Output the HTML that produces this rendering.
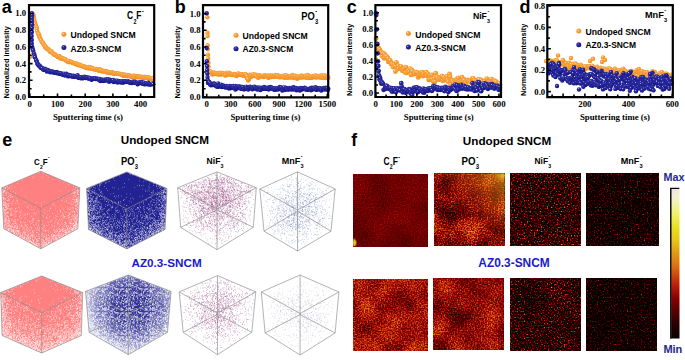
<!DOCTYPE html>
<html><head><meta charset="utf-8"><style>
html,body{margin:0;padding:0;background:#fff;width:685px;height:360px;overflow:hidden;}
svg{display:block;}

</style></head><body><svg width="685" height="360" viewBox="0 0 685 360"><defs>
<radialGradient id="go" cx="0.36" cy="0.33" r="0.7"><stop offset="0" stop-color="#FFF0D8"/><stop offset="0.25" stop-color="#FAA545"/><stop offset="1" stop-color="#F28C14"/></radialGradient>
<radialGradient id="gb" cx="0.36" cy="0.33" r="0.7"><stop offset="0" stop-color="#D0D0F0"/><stop offset="0.22" stop-color="#3030A0"/><stop offset="1" stop-color="#101088"/></radialGradient>
<pattern id="pw35" width="24" height="24" patternUnits="userSpaceOnUse"><path transform="scale(0.5)" d="M16 12h1.5M12 1h1.5M32 3h1.5M9 4h1.5M39 25h1.5M22 28h1.5M39 30h1.5M25 15h1.5M25 47h1.5M27 23h1.5M43 3h1.5M3 38h1.5M45 2h1.5M1 0h1.5M28 7h1.5M27 32h1.5M1 42h1.5M12 27h1.5M17 16h1.5M19 0h1.5M21 13h1.5M17 8h1.5M16 34h1.5M47 9h1.5M42 30h1.5M5 1h1.5M42 11h1.5M5 31h1.5M34 43h1.5M24 15h1.5M15 10h1.5M30 45h1.5M4 19h1.5M17 4h1.5M29 47h1.5M13 35h1.5M43 13h1.5M44 36h1.5M31 9h1.5M13 5h1.5M43 39h1.5M4 25h1.5M10 37h1.5M28 45h1.5M35 5h1.5M18 28h1.5M44 18h1.5M9 14h1.5M12 7h1.5M17 12h1.5M25 43h1.5M46 8h1.5M27 32h1.5M7 26h1.5M10 17h1.5M16 39h1.5M11 26h1.5M28 16h1.5M45 16h1.5M16 33h1.5M23 35h1.5M7 7h1.5M35 19h1.5M41 11h1.5M12 41h1.5M17 5h1.5M11 37h1.5M13 27h1.5M40 29h1.5M36 47h1.5M14 42h1.5M26 10h1.5M6 16h1.5M7 37h1.5M27 2h1.5M42 29h1.5M21 7h1.5M23 44h1.5M28 22h1.5M29 26h1.5M30 10h1.5M7 1h1.5M40 0h1.5M12 28h1.5M24 43h1.5M10 5h1.5M8 24h1.5M14 22h1.5M33 15h1.5M32 1h1.5M26 44h1.5M45 27h1.5M47 11h1.5M14 22h1.5M24 39h1.5M21 2h1.5M34 11h1.5M42 10h1.5M14 7h1.5M15 29h1.5M13 2h1.5M28 35h1.5M5 20h1.5M3 1h1.5M18 14h1.5M42 1h1.5M31 35h1.5M20 24h1.5M12 12h1.5M3 43h1.5M1 7h1.5M35 22h1.5M25 14h1.5M8 38h1.5M6 14h1.5M36 14h1.5M46 8h1.5M25 26h1.5M24 37h1.5M2 26h1.5M38 2h1.5M26 21h1.5M19 26h1.5M30 34h1.5M43 32h1.5M48 32h1.5M13 7h1.5M3 13h1.5M6 33h1.5M33 29h1.5M18 22h1.5M12 44h1.5M1 15h1.5M27 9h1.5M41 23h1.5M18 3h1.5M13 28h1.5M13 2h1.5M28 15h1.5M41 33h1.5M35 43h1.5M39 16h1.5M27 12h1.5M10 10h1.5M5 11h1.5M11 32h1.5M12 2h1.5M20 10h1.5M33 11h1.5M27 8h1.5M23 42h1.5M15 25h1.5M21 3h1.5M1 40h1.5M16 33h1.5M20 40h1.5M9 23h1.5M26 38h1.5M1 17h1.5M23 28h1.5M7 26h1.5M33 35h1.5M11 21h1.5M14 19h1.5M17 45h1.5M1 45h1.5M2 4h1.5M10 14h1.5M41 40h1.5M45 19h1.5M1 30h1.5M43 5h1.5M40 0h1.5M35 24h1.5M44 42h1.5M2 24h1.5M12 21h1.5M3 17h1.5M20 0h1.5M23 43h1.5M3 45h1.5M23 10h1.5M47 23h1.5M21 18h1.5M42 6h1.5M10 14h1.5M3 41h1.5M23 29h1.5M43 24h1.5M13 25h1.5M24 14h1.5M11 17h1.5M35 8h1.5M48 11h1.5M13 6h1.5M19 18h1.5M33 43h1.5M12 39h1.5M15 20h1.5M6 43h1.5M18 34h1.5M1 33h1.5M11 22h1.5M32 8h1.5M25 40h1.5M8 22h1.5M9 7h1.5M24 22h1.5M31 41h1.5M34 16h1.5M23 32h1.5M40 33h1.5M24 6h1.5M42 14h1.5M19 42h1.5M10 44h1.5M11 4h1.5M25 38h1.5M19 40h1.5M19 39h1.5M5 14h1.5M6 36h1.5M23 31h1.5M11 35h1.5M48 4h1.5M15 42h1.5M41 42h1.5M11 27h1.5M4 21h1.5M28 12h1.5M20 18h1.5M4 3h1.5M37 0h1.5M47 43h1.5M47 38h1.5M0 6h1.5M15 9h1.5M3 44h1.5M44 37h1.5M12 41h1.5M39 16h1.5M6 7h1.5M20 40h1.5M4 21h1.5M17 43h1.5M7 31h1.5M16 31h1.5M39 40h1.5M41 14h1.5M13 6h1.5M12 6h1.5M38 2h1.5M9 38h1.5M37 47h1.5M18 2h1.5M39 14h1.5M37 1h1.5M2 29h1.5M33 27h1.5M26 29h1.5M6 3h1.5M17 26h1.5M12 9h1.5M21 20h1.5M13 44h1.5M45 2h1.5M23 11h1.5M16 1h1.5M4 2h1.5M6 31h1.5M4 43h1.5M39 13h1.5M33 46h1.5M6 27h1.5M22 15h1.5M14 4h1.5M31 9h1.5M20 45h1.5M17 15h1.5M45 28h1.5M27 11h1.5M31 18h1.5M26 19h1.5M4 42h1.5M33 46h1.5M15 14h1.5M7 15h1.5M16 9h1.5M13 14h1.5M41 21h1.5M39 2h1.5M9 46h1.5M2 3h1.5M25 14h1.5M9 29h1.5M29 9h1.5M26 22h1.5M41 3h1.5M11 27h1.5M2 41h1.5M46 16h1.5M37 12h1.5M46 10h1.5M0 3h1.5M22 2h1.5M47 30h1.5M27 30h1.5M20 43h1.5M34 21h1.5M14 7h1.5M15 17h1.5M4 44h1.5M12 26h1.5M3 26h1.5M31 4h1.5M47 8h1.5M13 35h1.5M16 42h1.5M11 15h1.5M33 41h1.5M42 14h1.5M25 20h1.5M32 11h1.5M40 34h1.5M8 15h1.5M16 45h1.5M22 30h1.5M45 19h1.5M45 14h1.5M1 5h1.5M33 18h1.5M40 26h1.5M33 17h1.5M28 34h1.5M18 24h1.5M40 45h1.5M17 3h1.5M40 21h1.5M47 37h1.5M18 41h1.5M26 34h1.5M42 28h1.5M45 19h1.5M18 31h1.5M19 34h1.5M25 36h1.5M40 27h1.5M44 37h1.5M41 1h1.5M1 30h1.5M16 42h1.5M19 36h1.5M12 30h1.5M43 41h1.5M18 23h1.5M26 17h1.5M23 46h1.5M42 15h1.5M33 46h1.5M17 41h1.5" stroke="#fff" stroke-width="1.5" fill="none" opacity="0.9"/></pattern><radialGradient id="rg5" gradientUnits="userSpaceOnUse" cx="132.3" cy="305.8" r="46" fx="132.3" fy="305.8"><stop offset="0" stop-color="#2A2A92"/><stop offset="0.4" stop-color="#3C3C9C"/><stop offset="0.75" stop-color="#7A7ABC"/><stop offset="1" stop-color="#C4C4E2"/></radialGradient><filter id="hm0" x="0" y="0" width="1" height="1" color-interpolation-filters="sRGB">
<feTurbulence type="fractalNoise" baseFrequency="0.7" numOctaves="1" seed="1" result="a"/>
<feColorMatrix in="a" type="matrix" values="1 0 0 0 0 0 0 0 0 0 0 0 0 0 0 0 0 0 0 1" result="a2"/>
<feTurbulence type="fractalNoise" baseFrequency="0.035" numOctaves="2" seed="12" result="b"/>
<feColorMatrix in="b" type="matrix" values="0 0 0 0 0 0 1 0 0 0 0 0 0 0 0 0 0 0 0 1" result="b2"/>
<feComposite in="a2" in2="b2" operator="arithmetic" k1="0" k2="1" k3="1" k4="0" result="c"/>
<feColorMatrix in="c" type="matrix" values="0.280 0.120 0 0 0.018 0.280 0.120 0 0 0.018 0.280 0.120 0 0 0.018 0 0 0 0 1" result="d"/>
<feComponentTransfer in="d"><feFuncR type="table" tableValues="0.039 0.073 0.106 0.139 0.173 0.226 0.280 0.334 0.389 0.443 0.498 0.553 0.612 0.671 0.729 0.767 0.790 0.812 0.835 0.858 0.866 0.871 0.875 0.880 0.889 0.898 0.906 0.910 0.910 0.910 0.914 0.924 0.933 0.942 0.944 0.945 0.947 0.950 0.955 0.954 0.949"/><feFuncG type="table" tableValues="0.000 0.000 0.000 0.000 0.000 0.000 0.000 0.000 0.000 0.000 0.000 0.007 0.042 0.077 0.112 0.164 0.227 0.291 0.355 0.419 0.470 0.518 0.566 0.614 0.664 0.714 0.764 0.802 0.831 0.861 0.886 0.906 0.925 0.942 0.944 0.945 0.947 0.947 0.937 0.907 0.863"/><feFuncB type="table" tableValues="0.000 0.000 0.000 0.000 0.000 0.000 0.000 0.000 0.000 0.000 0.000 0.002 0.010 0.019 0.028 0.035 0.042 0.048 0.055 0.061 0.066 0.071 0.075 0.079 0.084 0.088 0.092 0.100 0.110 0.120 0.157 0.235 0.314 0.395 0.489 0.584 0.678 0.765 0.824 0.865 0.894"/></feComponentTransfer>
<feGaussianBlur stdDeviation="0.45"/>
</filter><filter id="hm1" x="0" y="0" width="1" height="1" color-interpolation-filters="sRGB">
<feTurbulence type="fractalNoise" baseFrequency="0.7" numOctaves="1" seed="2" result="a"/>
<feColorMatrix in="a" type="matrix" values="1 0 0 0 0 0 0 0 0 0 0 0 0 0 0 0 0 0 0 1" result="a2"/>
<feTurbulence type="fractalNoise" baseFrequency="0.05" numOctaves="2" seed="13" result="b"/>
<feColorMatrix in="b" type="matrix" values="0 0 0 0 0 0 1 0 0 0 0 0 0 0 0 0 0 0 0 1" result="b2"/>
<feComposite in="a2" in2="b2" operator="arithmetic" k1="0" k2="1" k3="1" k4="0" result="c"/>
<feColorMatrix in="c" type="matrix" values="0.760 0.400 0 0 -0.319 0.760 0.400 0 0 -0.319 0.760 0.400 0 0 -0.319 0 0 0 0 1" result="d"/>
<feComponentTransfer in="d"><feFuncR type="table" tableValues="0.039 0.073 0.106 0.139 0.173 0.226 0.280 0.334 0.389 0.443 0.498 0.553 0.612 0.671 0.729 0.767 0.790 0.812 0.835 0.858 0.866 0.871 0.875 0.880 0.889 0.898 0.906 0.910 0.910 0.910 0.914 0.924 0.933 0.942 0.944 0.945 0.947 0.950 0.955 0.954 0.949"/><feFuncG type="table" tableValues="0.000 0.000 0.000 0.000 0.000 0.000 0.000 0.000 0.000 0.000 0.000 0.007 0.042 0.077 0.112 0.164 0.227 0.291 0.355 0.419 0.470 0.518 0.566 0.614 0.664 0.714 0.764 0.802 0.831 0.861 0.886 0.906 0.925 0.942 0.944 0.945 0.947 0.947 0.937 0.907 0.863"/><feFuncB type="table" tableValues="0.000 0.000 0.000 0.000 0.000 0.000 0.000 0.000 0.000 0.000 0.000 0.002 0.010 0.019 0.028 0.035 0.042 0.048 0.055 0.061 0.066 0.071 0.075 0.079 0.084 0.088 0.092 0.100 0.110 0.120 0.157 0.235 0.314 0.395 0.489 0.584 0.678 0.765 0.824 0.865 0.894"/></feComponentTransfer>
<feGaussianBlur stdDeviation="0.45"/>
</filter><filter id="hm2" x="0" y="0" width="1" height="1" color-interpolation-filters="sRGB">
<feTurbulence type="fractalNoise" baseFrequency="0.7" numOctaves="1" seed="3" result="a"/>
<feColorMatrix in="a" type="matrix" values="1 0 0 0 0 0 0 0 0 0 0 0 0 0 0 0 0 0 0 1" result="a2"/>
<feTurbulence type="fractalNoise" baseFrequency="0.035" numOctaves="2" seed="14" result="b"/>
<feColorMatrix in="b" type="matrix" values="0 0 0 0 0 0 1 0 0 0 0 0 0 0 0 0 0 0 0 1" result="b2"/>
<feComposite in="a2" in2="b2" operator="arithmetic" k1="0" k2="1" k3="1" k4="0" result="c"/>
<feColorMatrix in="c" type="matrix" values="1.400 0.120 0 0 -0.685 1.400 0.120 0 0 -0.685 1.400 0.120 0 0 -0.685 0 0 0 0 1" result="d"/>
<feComponentTransfer in="d"><feFuncR type="table" tableValues="0.039 0.073 0.106 0.139 0.173 0.226 0.280 0.334 0.389 0.443 0.498 0.553 0.612 0.671 0.729 0.767 0.790 0.812 0.835 0.858 0.866 0.871 0.875 0.880 0.889 0.898 0.906 0.910 0.910 0.910 0.914 0.924 0.933 0.942 0.944 0.945 0.947 0.950 0.955 0.954 0.949"/><feFuncG type="table" tableValues="0.000 0.000 0.000 0.000 0.000 0.000 0.000 0.000 0.000 0.000 0.000 0.007 0.042 0.077 0.112 0.164 0.227 0.291 0.355 0.419 0.470 0.518 0.566 0.614 0.664 0.714 0.764 0.802 0.831 0.861 0.886 0.906 0.925 0.942 0.944 0.945 0.947 0.947 0.937 0.907 0.863"/><feFuncB type="table" tableValues="0.000 0.000 0.000 0.000 0.000 0.000 0.000 0.000 0.000 0.000 0.000 0.002 0.010 0.019 0.028 0.035 0.042 0.048 0.055 0.061 0.066 0.071 0.075 0.079 0.084 0.088 0.092 0.100 0.110 0.120 0.157 0.235 0.314 0.395 0.489 0.584 0.678 0.765 0.824 0.865 0.894"/></feComponentTransfer>
<feGaussianBlur stdDeviation="0.45"/>
</filter><filter id="hm3" x="0" y="0" width="1" height="1" color-interpolation-filters="sRGB">
<feTurbulence type="fractalNoise" baseFrequency="0.7" numOctaves="1" seed="4" result="a"/>
<feColorMatrix in="a" type="matrix" values="1 0 0 0 0 0 0 0 0 0 0 0 0 0 0 0 0 0 0 1" result="a2"/>
<feTurbulence type="fractalNoise" baseFrequency="0.035" numOctaves="2" seed="15" result="b"/>
<feColorMatrix in="b" type="matrix" values="0 0 0 0 0 0 1 0 0 0 0 0 0 0 0 0 0 0 0 1" result="b2"/>
<feComposite in="a2" in2="b2" operator="arithmetic" k1="0" k2="1" k3="1" k4="0" result="c"/>
<feColorMatrix in="c" type="matrix" values="1.400 0.080 0 0 -0.775 1.400 0.080 0 0 -0.775 1.400 0.080 0 0 -0.775 0 0 0 0 1" result="d"/>
<feComponentTransfer in="d"><feFuncR type="table" tableValues="0.039 0.073 0.106 0.139 0.173 0.226 0.280 0.334 0.389 0.443 0.498 0.553 0.612 0.671 0.729 0.767 0.790 0.812 0.835 0.858 0.866 0.871 0.875 0.880 0.889 0.898 0.906 0.910 0.910 0.910 0.914 0.924 0.933 0.942 0.944 0.945 0.947 0.950 0.955 0.954 0.949"/><feFuncG type="table" tableValues="0.000 0.000 0.000 0.000 0.000 0.000 0.000 0.000 0.000 0.000 0.000 0.007 0.042 0.077 0.112 0.164 0.227 0.291 0.355 0.419 0.470 0.518 0.566 0.614 0.664 0.714 0.764 0.802 0.831 0.861 0.886 0.906 0.925 0.942 0.944 0.945 0.947 0.947 0.937 0.907 0.863"/><feFuncB type="table" tableValues="0.000 0.000 0.000 0.000 0.000 0.000 0.000 0.000 0.000 0.000 0.000 0.002 0.010 0.019 0.028 0.035 0.042 0.048 0.055 0.061 0.066 0.071 0.075 0.079 0.084 0.088 0.092 0.100 0.110 0.120 0.157 0.235 0.314 0.395 0.489 0.584 0.678 0.765 0.824 0.865 0.894"/></feComponentTransfer>
<feGaussianBlur stdDeviation="0.45"/>
</filter><filter id="hm4" x="0" y="0" width="1" height="1" color-interpolation-filters="sRGB">
<feTurbulence type="fractalNoise" baseFrequency="0.7" numOctaves="1" seed="5" result="a"/>
<feColorMatrix in="a" type="matrix" values="1 0 0 0 0 0 0 0 0 0 0 0 0 0 0 0 0 0 0 1" result="a2"/>
<feTurbulence type="fractalNoise" baseFrequency="0.045" numOctaves="2" seed="16" result="b"/>
<feColorMatrix in="b" type="matrix" values="0 0 0 0 0 0 1 0 0 0 0 0 0 0 0 0 0 0 0 1" result="b2"/>
<feComposite in="a2" in2="b2" operator="arithmetic" k1="0" k2="1" k3="1" k4="0" result="c"/>
<feColorMatrix in="c" type="matrix" values="0.600 0.340 0 0 -0.168 0.600 0.340 0 0 -0.168 0.600 0.340 0 0 -0.168 0 0 0 0 1" result="d"/>
<feComponentTransfer in="d"><feFuncR type="table" tableValues="0.039 0.073 0.106 0.139 0.173 0.226 0.280 0.334 0.389 0.443 0.498 0.553 0.612 0.671 0.729 0.767 0.790 0.812 0.835 0.858 0.866 0.871 0.875 0.880 0.889 0.898 0.906 0.910 0.910 0.910 0.914 0.924 0.933 0.942 0.944 0.945 0.947 0.950 0.955 0.954 0.949"/><feFuncG type="table" tableValues="0.000 0.000 0.000 0.000 0.000 0.000 0.000 0.000 0.000 0.000 0.000 0.007 0.042 0.077 0.112 0.164 0.227 0.291 0.355 0.419 0.470 0.518 0.566 0.614 0.664 0.714 0.764 0.802 0.831 0.861 0.886 0.906 0.925 0.942 0.944 0.945 0.947 0.947 0.937 0.907 0.863"/><feFuncB type="table" tableValues="0.000 0.000 0.000 0.000 0.000 0.000 0.000 0.000 0.000 0.000 0.000 0.002 0.010 0.019 0.028 0.035 0.042 0.048 0.055 0.061 0.066 0.071 0.075 0.079 0.084 0.088 0.092 0.100 0.110 0.120 0.157 0.235 0.314 0.395 0.489 0.584 0.678 0.765 0.824 0.865 0.894"/></feComponentTransfer>
<feGaussianBlur stdDeviation="0.45"/>
</filter><filter id="hm5" x="0" y="0" width="1" height="1" color-interpolation-filters="sRGB">
<feTurbulence type="fractalNoise" baseFrequency="0.7" numOctaves="1" seed="6" result="a"/>
<feColorMatrix in="a" type="matrix" values="1 0 0 0 0 0 0 0 0 0 0 0 0 0 0 0 0 0 0 1" result="a2"/>
<feTurbulence type="fractalNoise" baseFrequency="0.04" numOctaves="2" seed="17" result="b"/>
<feColorMatrix in="b" type="matrix" values="0 0 0 0 0 0 1 0 0 0 0 0 0 0 0 0 0 0 0 1" result="b2"/>
<feComposite in="a2" in2="b2" operator="arithmetic" k1="0" k2="1" k3="1" k4="0" result="c"/>
<feColorMatrix in="c" type="matrix" values="0.640 0.360 0 0 -0.226 0.640 0.360 0 0 -0.226 0.640 0.360 0 0 -0.226 0 0 0 0 1" result="d"/>
<feComponentTransfer in="d"><feFuncR type="table" tableValues="0.039 0.073 0.106 0.139 0.173 0.226 0.280 0.334 0.389 0.443 0.498 0.553 0.612 0.671 0.729 0.767 0.790 0.812 0.835 0.858 0.866 0.871 0.875 0.880 0.889 0.898 0.906 0.910 0.910 0.910 0.914 0.924 0.933 0.942 0.944 0.945 0.947 0.950 0.955 0.954 0.949"/><feFuncG type="table" tableValues="0.000 0.000 0.000 0.000 0.000 0.000 0.000 0.000 0.000 0.000 0.000 0.007 0.042 0.077 0.112 0.164 0.227 0.291 0.355 0.419 0.470 0.518 0.566 0.614 0.664 0.714 0.764 0.802 0.831 0.861 0.886 0.906 0.925 0.942 0.944 0.945 0.947 0.947 0.937 0.907 0.863"/><feFuncB type="table" tableValues="0.000 0.000 0.000 0.000 0.000 0.000 0.000 0.000 0.000 0.000 0.000 0.002 0.010 0.019 0.028 0.035 0.042 0.048 0.055 0.061 0.066 0.071 0.075 0.079 0.084 0.088 0.092 0.100 0.110 0.120 0.157 0.235 0.314 0.395 0.489 0.584 0.678 0.765 0.824 0.865 0.894"/></feComponentTransfer>
<feGaussianBlur stdDeviation="0.45"/>
</filter><filter id="hm6" x="0" y="0" width="1" height="1" color-interpolation-filters="sRGB">
<feTurbulence type="fractalNoise" baseFrequency="0.7" numOctaves="1" seed="7" result="a"/>
<feColorMatrix in="a" type="matrix" values="1 0 0 0 0 0 0 0 0 0 0 0 0 0 0 0 0 0 0 1" result="a2"/>
<feTurbulence type="fractalNoise" baseFrequency="0.035" numOctaves="2" seed="18" result="b"/>
<feColorMatrix in="b" type="matrix" values="0 0 0 0 0 0 1 0 0 0 0 0 0 0 0 0 0 0 0 1" result="b2"/>
<feComposite in="a2" in2="b2" operator="arithmetic" k1="0" k2="1" k3="1" k4="0" result="c"/>
<feColorMatrix in="c" type="matrix" values="1.400 0.160 0 0 -0.715 1.400 0.160 0 0 -0.715 1.400 0.160 0 0 -0.715 0 0 0 0 1" result="d"/>
<feComponentTransfer in="d"><feFuncR type="table" tableValues="0.039 0.073 0.106 0.139 0.173 0.226 0.280 0.334 0.389 0.443 0.498 0.553 0.612 0.671 0.729 0.767 0.790 0.812 0.835 0.858 0.866 0.871 0.875 0.880 0.889 0.898 0.906 0.910 0.910 0.910 0.914 0.924 0.933 0.942 0.944 0.945 0.947 0.950 0.955 0.954 0.949"/><feFuncG type="table" tableValues="0.000 0.000 0.000 0.000 0.000 0.000 0.000 0.000 0.000 0.000 0.000 0.007 0.042 0.077 0.112 0.164 0.227 0.291 0.355 0.419 0.470 0.518 0.566 0.614 0.664 0.714 0.764 0.802 0.831 0.861 0.886 0.906 0.925 0.942 0.944 0.945 0.947 0.947 0.937 0.907 0.863"/><feFuncB type="table" tableValues="0.000 0.000 0.000 0.000 0.000 0.000 0.000 0.000 0.000 0.000 0.000 0.002 0.010 0.019 0.028 0.035 0.042 0.048 0.055 0.061 0.066 0.071 0.075 0.079 0.084 0.088 0.092 0.100 0.110 0.120 0.157 0.235 0.314 0.395 0.489 0.584 0.678 0.765 0.824 0.865 0.894"/></feComponentTransfer>
<feGaussianBlur stdDeviation="0.45"/>
</filter><filter id="hm7" x="0" y="0" width="1" height="1" color-interpolation-filters="sRGB">
<feTurbulence type="fractalNoise" baseFrequency="0.7" numOctaves="1" seed="8" result="a"/>
<feColorMatrix in="a" type="matrix" values="1 0 0 0 0 0 0 0 0 0 0 0 0 0 0 0 0 0 0 1" result="a2"/>
<feTurbulence type="fractalNoise" baseFrequency="0.035" numOctaves="2" seed="19" result="b"/>
<feColorMatrix in="b" type="matrix" values="0 0 0 0 0 0 1 0 0 0 0 0 0 0 0 0 0 0 0 1" result="b2"/>
<feComposite in="a2" in2="b2" operator="arithmetic" k1="0" k2="1" k3="1" k4="0" result="c"/>
<feColorMatrix in="c" type="matrix" values="1.400 0.100 0 0 -0.810 1.400 0.100 0 0 -0.810 1.400 0.100 0 0 -0.810 0 0 0 0 1" result="d"/>
<feComponentTransfer in="d"><feFuncR type="table" tableValues="0.039 0.073 0.106 0.139 0.173 0.226 0.280 0.334 0.389 0.443 0.498 0.553 0.612 0.671 0.729 0.767 0.790 0.812 0.835 0.858 0.866 0.871 0.875 0.880 0.889 0.898 0.906 0.910 0.910 0.910 0.914 0.924 0.933 0.942 0.944 0.945 0.947 0.950 0.955 0.954 0.949"/><feFuncG type="table" tableValues="0.000 0.000 0.000 0.000 0.000 0.000 0.000 0.000 0.000 0.000 0.000 0.007 0.042 0.077 0.112 0.164 0.227 0.291 0.355 0.419 0.470 0.518 0.566 0.614 0.664 0.714 0.764 0.802 0.831 0.861 0.886 0.906 0.925 0.942 0.944 0.945 0.947 0.947 0.937 0.907 0.863"/><feFuncB type="table" tableValues="0.000 0.000 0.000 0.000 0.000 0.000 0.000 0.000 0.000 0.000 0.000 0.002 0.010 0.019 0.028 0.035 0.042 0.048 0.055 0.061 0.066 0.071 0.075 0.079 0.084 0.088 0.092 0.100 0.110 0.120 0.157 0.235 0.314 0.395 0.489 0.584 0.678 0.765 0.824 0.865 0.894"/></feComponentTransfer>
<feGaussianBlur stdDeviation="0.45"/>
</filter><radialGradient id="ys"><stop offset="0" stop-color="#F8F040"/><stop offset="0.55" stop-color="#F0D020" stop-opacity="0.85"/><stop offset="1" stop-color="#D06010" stop-opacity="0"/></radialGradient><clipPath id="cl0"><rect x="353.3" y="174" width="73.8" height="72.4"/></clipPath><clipPath id="cl1"><rect x="434" y="173.3" width="70.7" height="71.9"/></clipPath><radialGradient id="ys2"><stop offset="0" stop-color="#F0D030" stop-opacity="0.75"/><stop offset="1" stop-color="#E09020" stop-opacity="0"/></radialGradient><linearGradient id="hm2g" x1="1" y1="0" x2="0.2" y2="0.8"><stop offset="0" stop-color="#F0D020" stop-opacity="0.55"/><stop offset="0.35" stop-color="#E8A018" stop-opacity="0.25"/><stop offset="0.7" stop-color="#D06010" stop-opacity="0"/></linearGradient><linearGradient id="cbg" x1="0" y1="0" x2="0" y2="1"><stop offset="0" stop-color="#F2DCE4"/><stop offset="0.04" stop-color="#F4EED8"/><stop offset="0.08" stop-color="#F2F2C0"/><stop offset="0.18" stop-color="#F0F060"/><stop offset="0.26" stop-color="#E8E020"/><stop offset="0.34" stop-color="#E8C818"/><stop offset="0.43" stop-color="#E09A14"/><stop offset="0.52" stop-color="#DC6E10"/><stop offset="0.64" stop-color="#C02008"/><stop offset="0.73" stop-color="#8A0000"/><stop offset="0.82" stop-color="#580000"/><stop offset="0.9" stop-color="#2C0000"/><stop offset="1.0" stop-color="#0A0000"/></linearGradient></defs><g id="data"><g fill="url(#go)"><circle cx="30.2" cy="56.5" r="2.2"/><circle cx="30.6" cy="30.5" r="2.2"/><circle cx="31.0" cy="22.0" r="2.2"/><circle cx="31.7" cy="13.5" r="2.2"/><circle cx="31.9" cy="13.7" r="2.2"/><circle cx="32.8" cy="14.0" r="2.2"/><circle cx="33.3" cy="14.6" r="2.2"/><circle cx="33.7" cy="16.3" r="2.2"/><circle cx="34.1" cy="19.2" r="2.2"/><circle cx="34.8" cy="21.6" r="2.2"/><circle cx="35.4" cy="24.0" r="2.2"/><circle cx="36.1" cy="25.9" r="2.2"/><circle cx="36.7" cy="27.6" r="2.2"/><circle cx="36.8" cy="29.3" r="2.2"/><circle cx="37.3" cy="31.3" r="2.2"/><circle cx="38.1" cy="33.7" r="2.2"/><circle cx="38.9" cy="34.2" r="2.2"/><circle cx="39.2" cy="36.4" r="2.2"/><circle cx="39.6" cy="36.8" r="2.2"/><circle cx="40.1" cy="38.5" r="2.2"/><circle cx="40.7" cy="39.1" r="2.2"/><circle cx="41.1" cy="40.1" r="2.2"/><circle cx="41.7" cy="41.9" r="2.2"/><circle cx="42.7" cy="42.5" r="2.2"/><circle cx="43.3" cy="43.6" r="2.2"/><circle cx="43.7" cy="44.6" r="2.2"/><circle cx="44.2" cy="44.8" r="2.2"/><circle cx="44.9" cy="46.1" r="2.2"/><circle cx="45.3" cy="47.5" r="2.2"/><circle cx="45.7" cy="46.6" r="2.2"/><circle cx="46.1" cy="47.9" r="2.2"/><circle cx="46.8" cy="48.5" r="2.2"/><circle cx="47.5" cy="49.1" r="2.2"/><circle cx="48.1" cy="49.0" r="2.2"/><circle cx="48.3" cy="49.6" r="2.2"/><circle cx="48.9" cy="49.9" r="2.2"/><circle cx="49.4" cy="50.8" r="2.2"/><circle cx="50.0" cy="51.8" r="2.2"/><circle cx="50.6" cy="51.3" r="2.2"/><circle cx="51.4" cy="51.2" r="2.2"/><circle cx="52.1" cy="52.5" r="2.2"/><circle cx="52.6" cy="53.2" r="2.2"/><circle cx="52.7" cy="53.2" r="2.2"/><circle cx="53.8" cy="54.5" r="2.2"/><circle cx="53.9" cy="54.0" r="2.2"/><circle cx="54.7" cy="54.5" r="2.2"/><circle cx="55.1" cy="54.4" r="2.2"/><circle cx="55.5" cy="55.0" r="2.2"/><circle cx="56.5" cy="55.7" r="2.2"/><circle cx="56.8" cy="56.0" r="2.2"/><circle cx="57.5" cy="56.4" r="2.2"/><circle cx="57.8" cy="56.5" r="2.2"/><circle cx="58.2" cy="56.7" r="2.2"/><circle cx="59.1" cy="55.9" r="2.2"/><circle cx="59.6" cy="56.7" r="2.2"/><circle cx="60.0" cy="58.4" r="2.2"/><circle cx="60.8" cy="57.3" r="2.2"/><circle cx="61.2" cy="58.1" r="2.2"/><circle cx="62.0" cy="58.1" r="2.2"/><circle cx="62.6" cy="58.7" r="2.2"/><circle cx="63.0" cy="58.7" r="2.2"/><circle cx="63.2" cy="58.5" r="2.2"/><circle cx="64.1" cy="58.9" r="2.2"/><circle cx="64.6" cy="59.6" r="2.2"/><circle cx="65.1" cy="59.6" r="2.2"/><circle cx="65.4" cy="59.2" r="2.2"/><circle cx="66.1" cy="60.5" r="2.2"/><circle cx="66.6" cy="61.0" r="2.2"/><circle cx="67.3" cy="61.3" r="2.2"/><circle cx="67.7" cy="61.6" r="2.2"/><circle cx="68.3" cy="60.7" r="2.2"/><circle cx="68.9" cy="62.3" r="2.2"/><circle cx="69.7" cy="61.7" r="2.2"/><circle cx="70.0" cy="61.5" r="2.2"/><circle cx="70.8" cy="61.9" r="2.2"/><circle cx="71.4" cy="62.0" r="2.2"/><circle cx="71.6" cy="62.0" r="2.2"/><circle cx="72.5" cy="62.7" r="2.2"/><circle cx="72.9" cy="62.9" r="2.2"/><circle cx="73.4" cy="62.9" r="2.2"/><circle cx="73.7" cy="63.3" r="2.2"/><circle cx="74.2" cy="63.3" r="2.2"/><circle cx="74.8" cy="63.3" r="2.2"/><circle cx="75.7" cy="63.5" r="2.2"/><circle cx="76.0" cy="64.2" r="2.2"/><circle cx="76.7" cy="63.6" r="2.2"/><circle cx="77.4" cy="64.1" r="2.2"/><circle cx="77.8" cy="64.9" r="2.2"/><circle cx="78.1" cy="64.8" r="2.2"/><circle cx="78.7" cy="65.2" r="2.2"/><circle cx="79.5" cy="65.1" r="2.2"/><circle cx="79.7" cy="64.8" r="2.2"/><circle cx="80.6" cy="65.3" r="2.2"/><circle cx="81.0" cy="65.7" r="2.2"/><circle cx="81.3" cy="65.6" r="2.2"/><circle cx="81.8" cy="65.9" r="2.2"/><circle cx="82.5" cy="66.2" r="2.2"/><circle cx="83.2" cy="66.6" r="2.2"/><circle cx="83.8" cy="66.2" r="2.2"/><circle cx="84.4" cy="67.0" r="2.2"/><circle cx="84.7" cy="66.7" r="2.2"/><circle cx="85.4" cy="67.2" r="2.2"/><circle cx="86.0" cy="67.4" r="2.2"/><circle cx="86.3" cy="67.9" r="2.2"/><circle cx="86.8" cy="67.7" r="2.2"/><circle cx="87.9" cy="67.9" r="2.2"/><circle cx="87.9" cy="68.3" r="2.2"/><circle cx="88.6" cy="67.0" r="2.2"/><circle cx="89.3" cy="67.4" r="2.2"/><circle cx="89.7" cy="68.4" r="2.2"/><circle cx="90.5" cy="67.2" r="2.2"/><circle cx="91.1" cy="68.3" r="2.2"/><circle cx="91.3" cy="68.5" r="2.2"/><circle cx="92.1" cy="67.9" r="2.2"/><circle cx="92.3" cy="68.3" r="2.2"/><circle cx="93.2" cy="69.1" r="2.2"/><circle cx="93.8" cy="69.2" r="2.2"/><circle cx="94.3" cy="68.9" r="2.2"/><circle cx="95.0" cy="68.9" r="2.2"/><circle cx="95.0" cy="69.1" r="2.2"/><circle cx="95.7" cy="69.7" r="2.2"/><circle cx="96.7" cy="69.0" r="2.2"/><circle cx="96.8" cy="69.7" r="2.2"/><circle cx="97.6" cy="69.2" r="2.2"/><circle cx="98.0" cy="70.3" r="2.2"/><circle cx="98.7" cy="70.1" r="2.2"/><circle cx="99.1" cy="70.7" r="2.2"/><circle cx="99.7" cy="69.3" r="2.2"/><circle cx="100.1" cy="69.6" r="2.2"/><circle cx="100.8" cy="70.2" r="2.2"/><circle cx="101.5" cy="71.3" r="2.2"/><circle cx="101.8" cy="70.2" r="2.2"/><circle cx="102.6" cy="71.4" r="2.2"/><circle cx="102.8" cy="71.0" r="2.2"/><circle cx="103.3" cy="71.1" r="2.2"/><circle cx="104.0" cy="71.5" r="2.2"/><circle cx="104.8" cy="70.9" r="2.2"/><circle cx="105.0" cy="71.1" r="2.2"/><circle cx="106.0" cy="71.0" r="2.2"/><circle cx="106.4" cy="71.7" r="2.2"/><circle cx="107.0" cy="72.5" r="2.2"/><circle cx="107.6" cy="71.7" r="2.2"/><circle cx="107.9" cy="72.2" r="2.2"/><circle cx="108.5" cy="72.2" r="2.2"/><circle cx="108.9" cy="72.2" r="2.2"/><circle cx="109.6" cy="72.2" r="2.2"/><circle cx="110.4" cy="73.0" r="2.2"/><circle cx="110.5" cy="72.5" r="2.2"/><circle cx="111.3" cy="72.4" r="2.2"/><circle cx="112.1" cy="71.9" r="2.2"/><circle cx="112.6" cy="73.3" r="2.2"/><circle cx="112.8" cy="73.3" r="2.2"/><circle cx="113.3" cy="73.2" r="2.2"/><circle cx="114.2" cy="73.1" r="2.2"/><circle cx="114.5" cy="74.0" r="2.2"/><circle cx="115.1" cy="73.4" r="2.2"/><circle cx="115.9" cy="73.2" r="2.2"/><circle cx="116.1" cy="73.9" r="2.2"/><circle cx="116.9" cy="73.6" r="2.2"/><circle cx="117.5" cy="73.8" r="2.2"/><circle cx="117.8" cy="73.8" r="2.2"/><circle cx="118.6" cy="74.0" r="2.2"/><circle cx="118.7" cy="73.5" r="2.2"/><circle cx="119.7" cy="73.9" r="2.2"/><circle cx="119.8" cy="74.1" r="2.2"/><circle cx="120.9" cy="73.9" r="2.2"/><circle cx="121.2" cy="74.5" r="2.2"/><circle cx="121.9" cy="74.8" r="2.2"/><circle cx="122.5" cy="74.3" r="2.2"/><circle cx="123.0" cy="75.8" r="2.2"/><circle cx="123.3" cy="74.8" r="2.2"/><circle cx="123.8" cy="75.2" r="2.2"/><circle cx="124.6" cy="74.6" r="2.2"/><circle cx="124.7" cy="74.8" r="2.2"/><circle cx="125.8" cy="75.9" r="2.2"/><circle cx="125.9" cy="75.6" r="2.2"/><circle cx="126.5" cy="75.3" r="2.2"/><circle cx="127.2" cy="74.9" r="2.2"/><circle cx="127.6" cy="76.2" r="2.2"/><circle cx="128.3" cy="75.2" r="2.2"/><circle cx="129.0" cy="75.5" r="2.2"/><circle cx="129.4" cy="75.7" r="2.2"/><circle cx="130.0" cy="76.0" r="2.2"/><circle cx="130.5" cy="75.9" r="2.2"/><circle cx="131.2" cy="76.0" r="2.2"/><circle cx="131.4" cy="76.9" r="2.2"/><circle cx="131.9" cy="76.2" r="2.2"/><circle cx="133.0" cy="76.4" r="2.2"/><circle cx="133.5" cy="75.7" r="2.2"/><circle cx="133.8" cy="76.7" r="2.2"/><circle cx="134.6" cy="75.7" r="2.2"/><circle cx="134.8" cy="76.2" r="2.2"/><circle cx="135.2" cy="77.6" r="2.2"/><circle cx="136.0" cy="76.3" r="2.2"/><circle cx="136.7" cy="76.7" r="2.2"/><circle cx="137.3" cy="76.3" r="2.2"/><circle cx="137.9" cy="76.3" r="2.2"/><circle cx="138.3" cy="77.4" r="2.2"/><circle cx="138.6" cy="76.8" r="2.2"/><circle cx="139.1" cy="77.0" r="2.2"/><circle cx="139.9" cy="77.0" r="2.2"/><circle cx="140.7" cy="76.5" r="2.2"/><circle cx="141.0" cy="77.1" r="2.2"/><circle cx="141.8" cy="77.7" r="2.2"/><circle cx="142.2" cy="77.0" r="2.2"/><circle cx="142.8" cy="77.6" r="2.2"/><circle cx="143.2" cy="77.9" r="2.2"/><circle cx="143.7" cy="77.0" r="2.2"/><circle cx="144.4" cy="78.0" r="2.2"/><circle cx="144.7" cy="76.8" r="2.2"/><circle cx="145.2" cy="78.0" r="2.2"/><circle cx="146.1" cy="77.6" r="2.2"/><circle cx="146.6" cy="77.3" r="2.2"/><circle cx="147.3" cy="77.8" r="2.2"/><circle cx="147.5" cy="77.7" r="2.2"/><circle cx="148.1" cy="77.3" r="2.2"/><circle cx="148.4" cy="78.5" r="2.2"/><circle cx="149.2" cy="78.7" r="2.2"/><circle cx="149.5" cy="77.8" r="2.2"/><circle cx="150.4" cy="78.1" r="2.2"/><circle cx="150.6" cy="78.1" r="2.2"/><circle cx="151.2" cy="78.3" r="2.2"/><circle cx="152.2" cy="77.9" r="2.2"/><circle cx="152.5" cy="78.9" r="2.2"/><circle cx="153.2" cy="78.6" r="2.2"/></g><g fill="url(#gb)"><circle cx="31.8" cy="13.3" r="2.2"/><circle cx="32.0" cy="15.5" r="2.2"/><circle cx="31.8" cy="18.0" r="2.2"/><circle cx="31.9" cy="21.0" r="2.2"/><circle cx="32.1" cy="24.5" r="2.2"/><circle cx="31.9" cy="28.0" r="2.2"/><circle cx="31.9" cy="32.0" r="2.2"/><circle cx="31.7" cy="36.0" r="2.2"/><circle cx="31.8" cy="40.0" r="2.2"/><circle cx="31.7" cy="43.5" r="2.2"/><circle cx="32.0" cy="46.5" r="2.2"/><circle cx="32.5" cy="48.5" r="2.2"/><circle cx="33.1" cy="50.5" r="2.2"/><circle cx="33.8" cy="53.2" r="2.2"/><circle cx="34.4" cy="54.8" r="2.2"/><circle cx="34.7" cy="56.9" r="2.2"/><circle cx="35.0" cy="57.2" r="2.2"/><circle cx="36.0" cy="59.9" r="2.2"/><circle cx="36.4" cy="60.4" r="2.2"/><circle cx="37.0" cy="61.9" r="2.2"/><circle cx="37.4" cy="63.7" r="2.2"/><circle cx="37.9" cy="64.2" r="2.2"/><circle cx="38.5" cy="65.3" r="2.2"/><circle cx="39.1" cy="65.8" r="2.2"/><circle cx="39.7" cy="65.7" r="2.2"/><circle cx="40.4" cy="67.0" r="2.2"/><circle cx="40.6" cy="67.5" r="2.2"/><circle cx="41.3" cy="68.0" r="2.2"/><circle cx="41.6" cy="67.8" r="2.2"/><circle cx="42.2" cy="68.2" r="2.2"/><circle cx="43.1" cy="69.6" r="2.2"/><circle cx="43.5" cy="69.1" r="2.2"/><circle cx="44.0" cy="69.8" r="2.2"/><circle cx="44.6" cy="68.6" r="2.2"/><circle cx="45.0" cy="69.7" r="2.2"/><circle cx="45.9" cy="69.8" r="2.2"/><circle cx="46.4" cy="69.7" r="2.2"/><circle cx="46.8" cy="71.5" r="2.2"/><circle cx="47.5" cy="70.6" r="2.2"/><circle cx="48.0" cy="70.0" r="2.2"/><circle cx="48.5" cy="71.1" r="2.2"/><circle cx="49.0" cy="71.2" r="2.2"/><circle cx="49.6" cy="71.4" r="2.2"/><circle cx="50.4" cy="72.3" r="2.2"/><circle cx="50.5" cy="71.6" r="2.2"/><circle cx="50.9" cy="71.8" r="2.2"/><circle cx="51.9" cy="71.6" r="2.2"/><circle cx="52.1" cy="71.5" r="2.2"/><circle cx="52.7" cy="72.2" r="2.2"/><circle cx="53.4" cy="72.3" r="2.2"/><circle cx="54.0" cy="72.0" r="2.2"/><circle cx="54.7" cy="72.4" r="2.2"/><circle cx="55.0" cy="72.8" r="2.2"/><circle cx="55.6" cy="72.9" r="2.2"/><circle cx="55.9" cy="72.7" r="2.2"/><circle cx="56.8" cy="72.0" r="2.2"/><circle cx="57.0" cy="73.3" r="2.2"/><circle cx="57.7" cy="73.1" r="2.2"/><circle cx="58.1" cy="72.9" r="2.2"/><circle cx="58.7" cy="73.3" r="2.2"/><circle cx="59.2" cy="73.0" r="2.2"/><circle cx="59.9" cy="73.9" r="2.2"/><circle cx="60.4" cy="73.7" r="2.2"/><circle cx="61.0" cy="73.1" r="2.2"/><circle cx="61.8" cy="74.3" r="2.2"/><circle cx="62.5" cy="74.4" r="2.2"/><circle cx="62.9" cy="74.2" r="2.2"/><circle cx="63.4" cy="74.7" r="2.2"/><circle cx="64.0" cy="73.7" r="2.2"/><circle cx="64.7" cy="75.3" r="2.2"/><circle cx="64.7" cy="74.9" r="2.2"/><circle cx="65.2" cy="75.4" r="2.2"/><circle cx="66.3" cy="73.6" r="2.2"/><circle cx="66.7" cy="74.3" r="2.2"/><circle cx="67.3" cy="74.9" r="2.2"/><circle cx="68.0" cy="75.1" r="2.2"/><circle cx="68.2" cy="76.4" r="2.2"/><circle cx="68.5" cy="75.5" r="2.2"/><circle cx="69.5" cy="74.9" r="2.2"/><circle cx="70.1" cy="75.9" r="2.2"/><circle cx="70.4" cy="75.8" r="2.2"/><circle cx="70.8" cy="75.4" r="2.2"/><circle cx="71.4" cy="76.3" r="2.2"/><circle cx="72.4" cy="76.6" r="2.2"/><circle cx="72.9" cy="75.9" r="2.2"/><circle cx="73.4" cy="75.6" r="2.2"/><circle cx="73.5" cy="76.5" r="2.2"/><circle cx="74.1" cy="76.5" r="2.2"/><circle cx="75.0" cy="76.2" r="2.2"/><circle cx="75.2" cy="76.0" r="2.2"/><circle cx="76.2" cy="76.4" r="2.2"/><circle cx="76.6" cy="76.8" r="2.2"/><circle cx="77.2" cy="76.7" r="2.2"/><circle cx="77.6" cy="75.3" r="2.2"/><circle cx="78.2" cy="77.1" r="2.2"/><circle cx="78.5" cy="77.9" r="2.2"/><circle cx="79.4" cy="77.2" r="2.2"/><circle cx="79.7" cy="77.5" r="2.2"/><circle cx="80.3" cy="77.1" r="2.2"/><circle cx="80.8" cy="78.3" r="2.2"/><circle cx="81.5" cy="77.3" r="2.2"/><circle cx="81.9" cy="78.1" r="2.2"/><circle cx="82.7" cy="78.3" r="2.2"/><circle cx="82.8" cy="77.4" r="2.2"/><circle cx="83.8" cy="78.0" r="2.2"/><circle cx="84.3" cy="76.8" r="2.2"/><circle cx="84.7" cy="77.9" r="2.2"/><circle cx="85.3" cy="76.9" r="2.2"/><circle cx="85.7" cy="78.1" r="2.2"/><circle cx="86.2" cy="77.6" r="2.2"/><circle cx="86.8" cy="77.8" r="2.2"/><circle cx="87.5" cy="77.5" r="2.2"/><circle cx="88.2" cy="78.2" r="2.2"/><circle cx="88.5" cy="78.5" r="2.2"/><circle cx="89.2" cy="77.7" r="2.2"/><circle cx="89.5" cy="78.1" r="2.2"/><circle cx="90.2" cy="78.5" r="2.2"/><circle cx="90.5" cy="78.1" r="2.2"/><circle cx="91.6" cy="79.2" r="2.2"/><circle cx="91.6" cy="79.7" r="2.2"/><circle cx="92.4" cy="78.8" r="2.2"/><circle cx="92.7" cy="78.6" r="2.2"/><circle cx="93.7" cy="78.8" r="2.2"/><circle cx="94.1" cy="78.4" r="2.2"/><circle cx="94.5" cy="78.1" r="2.2"/><circle cx="95.1" cy="78.5" r="2.2"/><circle cx="95.5" cy="79.1" r="2.2"/><circle cx="96.6" cy="78.9" r="2.2"/><circle cx="96.9" cy="78.7" r="2.2"/><circle cx="97.4" cy="78.7" r="2.2"/><circle cx="98.0" cy="79.3" r="2.2"/><circle cx="98.5" cy="79.2" r="2.2"/><circle cx="99.1" cy="79.8" r="2.2"/><circle cx="99.4" cy="78.9" r="2.2"/><circle cx="100.3" cy="81.0" r="2.2"/><circle cx="100.7" cy="79.6" r="2.2"/><circle cx="101.2" cy="80.8" r="2.2"/><circle cx="101.7" cy="79.6" r="2.2"/><circle cx="102.5" cy="80.1" r="2.2"/><circle cx="102.7" cy="79.6" r="2.2"/><circle cx="103.7" cy="80.9" r="2.2"/><circle cx="103.8" cy="80.4" r="2.2"/><circle cx="104.8" cy="79.7" r="2.2"/><circle cx="104.8" cy="80.0" r="2.2"/><circle cx="105.5" cy="80.6" r="2.2"/><circle cx="106.5" cy="79.4" r="2.2"/><circle cx="106.6" cy="79.9" r="2.2"/><circle cx="107.3" cy="80.1" r="2.2"/><circle cx="107.8" cy="79.2" r="2.2"/><circle cx="108.3" cy="80.7" r="2.2"/><circle cx="109.1" cy="81.7" r="2.2"/><circle cx="109.7" cy="79.6" r="2.2"/><circle cx="110.2" cy="80.0" r="2.2"/><circle cx="110.8" cy="80.7" r="2.2"/><circle cx="111.1" cy="80.9" r="2.2"/><circle cx="111.7" cy="81.0" r="2.2"/><circle cx="112.0" cy="80.7" r="2.2"/><circle cx="112.5" cy="80.6" r="2.2"/><circle cx="113.1" cy="80.0" r="2.2"/><circle cx="113.8" cy="82.0" r="2.2"/><circle cx="114.3" cy="81.7" r="2.2"/><circle cx="114.9" cy="80.7" r="2.2"/><circle cx="115.4" cy="81.1" r="2.2"/><circle cx="116.3" cy="81.0" r="2.2"/><circle cx="116.9" cy="80.9" r="2.2"/><circle cx="117.1" cy="80.6" r="2.2"/><circle cx="117.6" cy="82.5" r="2.2"/><circle cx="118.3" cy="81.2" r="2.2"/><circle cx="119.1" cy="81.7" r="2.2"/><circle cx="119.5" cy="81.3" r="2.2"/><circle cx="119.7" cy="81.6" r="2.2"/><circle cx="120.6" cy="82.3" r="2.2"/><circle cx="121.3" cy="81.6" r="2.2"/><circle cx="121.4" cy="82.4" r="2.2"/><circle cx="122.4" cy="81.3" r="2.2"/><circle cx="123.0" cy="82.0" r="2.2"/><circle cx="123.0" cy="82.5" r="2.2"/><circle cx="123.8" cy="82.2" r="2.2"/><circle cx="124.5" cy="81.4" r="2.2"/><circle cx="125.2" cy="81.3" r="2.2"/><circle cx="125.6" cy="81.7" r="2.2"/><circle cx="126.2" cy="81.6" r="2.2"/><circle cx="126.8" cy="82.1" r="2.2"/><circle cx="127.1" cy="81.9" r="2.2"/><circle cx="127.9" cy="81.6" r="2.2"/><circle cx="128.5" cy="81.4" r="2.2"/><circle cx="128.7" cy="81.8" r="2.2"/><circle cx="129.3" cy="82.2" r="2.2"/><circle cx="129.8" cy="82.6" r="2.2"/><circle cx="130.2" cy="82.5" r="2.2"/><circle cx="131.1" cy="82.7" r="2.2"/><circle cx="131.6" cy="83.0" r="2.2"/><circle cx="131.9" cy="82.6" r="2.2"/><circle cx="132.5" cy="81.6" r="2.2"/><circle cx="133.3" cy="82.4" r="2.2"/><circle cx="133.6" cy="81.8" r="2.2"/><circle cx="134.1" cy="82.6" r="2.2"/><circle cx="134.9" cy="81.7" r="2.2"/><circle cx="135.2" cy="82.6" r="2.2"/><circle cx="135.6" cy="82.8" r="2.2"/><circle cx="136.5" cy="83.1" r="2.2"/><circle cx="136.9" cy="82.8" r="2.2"/><circle cx="137.6" cy="84.2" r="2.2"/><circle cx="138.2" cy="82.6" r="2.2"/><circle cx="138.9" cy="83.3" r="2.2"/><circle cx="139.1" cy="82.7" r="2.2"/><circle cx="140.0" cy="82.5" r="2.2"/><circle cx="140.4" cy="82.8" r="2.2"/><circle cx="141.1" cy="82.3" r="2.2"/><circle cx="141.4" cy="83.2" r="2.2"/><circle cx="142.1" cy="82.2" r="2.2"/><circle cx="142.4" cy="83.6" r="2.2"/><circle cx="142.8" cy="83.2" r="2.2"/><circle cx="143.3" cy="83.6" r="2.2"/><circle cx="144.0" cy="82.7" r="2.2"/><circle cx="144.4" cy="84.2" r="2.2"/><circle cx="145.2" cy="84.1" r="2.2"/><circle cx="145.9" cy="84.0" r="2.2"/><circle cx="146.2" cy="83.4" r="2.2"/><circle cx="147.1" cy="84.0" r="2.2"/><circle cx="147.2" cy="83.5" r="2.2"/><circle cx="147.7" cy="84.3" r="2.2"/><circle cx="148.3" cy="82.7" r="2.2"/><circle cx="149.2" cy="83.7" r="2.2"/><circle cx="149.4" cy="84.5" r="2.2"/><circle cx="150.1" cy="84.2" r="2.2"/><circle cx="150.5" cy="84.3" r="2.2"/><circle cx="151.4" cy="84.3" r="2.2"/><circle cx="151.9" cy="84.0" r="2.2"/><circle cx="152.3" cy="83.4" r="2.2"/><circle cx="153.2" cy="84.2" r="2.2"/></g><g fill="url(#go)"><circle cx="207.3" cy="17.3" r="2.2"/><circle cx="207.5" cy="32.8" r="2.2"/><circle cx="207.6" cy="36.0" r="2.2"/><circle cx="207.6" cy="45.3" r="2.2"/><circle cx="207.8" cy="49.3" r="2.2"/><circle cx="208.0" cy="54.7" r="2.2"/><circle cx="208.2" cy="58.5" r="2.2"/><circle cx="208.4" cy="62.5" r="2.2"/><circle cx="208.6" cy="66.5" r="2.2"/><circle cx="209.1" cy="70.7" r="2.2"/><circle cx="209.2" cy="71.1" r="2.2"/><circle cx="209.6" cy="71.6" r="2.2"/><circle cx="210.5" cy="72.0" r="2.2"/><circle cx="211.0" cy="71.6" r="2.2"/><circle cx="211.1" cy="73.1" r="2.2"/><circle cx="211.9" cy="73.1" r="2.2"/><circle cx="212.0" cy="74.0" r="2.2"/><circle cx="212.5" cy="74.6" r="2.2"/><circle cx="213.1" cy="73.8" r="2.2"/><circle cx="213.5" cy="73.4" r="2.2"/><circle cx="214.1" cy="72.4" r="2.2"/><circle cx="214.6" cy="73.3" r="2.2"/><circle cx="214.7" cy="73.5" r="2.2"/><circle cx="215.6" cy="73.6" r="2.2"/><circle cx="215.5" cy="73.4" r="2.2"/><circle cx="216.5" cy="73.1" r="2.2"/><circle cx="216.4" cy="74.1" r="2.2"/><circle cx="217.1" cy="73.6" r="2.2"/><circle cx="217.8" cy="74.2" r="2.2"/><circle cx="217.8" cy="73.0" r="2.2"/><circle cx="218.4" cy="73.8" r="2.2"/><circle cx="219.0" cy="74.4" r="2.2"/><circle cx="219.4" cy="74.4" r="2.2"/><circle cx="220.0" cy="72.8" r="2.2"/><circle cx="220.4" cy="73.6" r="2.2"/><circle cx="220.7" cy="73.4" r="2.2"/><circle cx="221.2" cy="74.5" r="2.2"/><circle cx="221.6" cy="74.0" r="2.2"/><circle cx="221.8" cy="73.3" r="2.2"/><circle cx="222.2" cy="73.7" r="2.2"/><circle cx="222.9" cy="73.4" r="2.2"/><circle cx="223.3" cy="73.8" r="2.2"/><circle cx="223.7" cy="73.5" r="2.2"/><circle cx="224.6" cy="74.0" r="2.2"/><circle cx="224.7" cy="74.7" r="2.2"/><circle cx="225.1" cy="75.5" r="2.2"/><circle cx="225.5" cy="74.5" r="2.2"/><circle cx="226.0" cy="75.3" r="2.2"/><circle cx="226.8" cy="72.6" r="2.2"/><circle cx="227.2" cy="74.5" r="2.2"/><circle cx="227.4" cy="74.6" r="2.2"/><circle cx="227.6" cy="74.4" r="2.2"/><circle cx="228.4" cy="74.1" r="2.2"/><circle cx="228.9" cy="72.6" r="2.2"/><circle cx="229.5" cy="73.5" r="2.2"/><circle cx="229.9" cy="74.0" r="2.2"/><circle cx="230.4" cy="74.5" r="2.2"/><circle cx="230.8" cy="73.6" r="2.2"/><circle cx="231.1" cy="74.3" r="2.2"/><circle cx="231.3" cy="74.2" r="2.2"/><circle cx="231.8" cy="74.3" r="2.2"/><circle cx="232.2" cy="74.4" r="2.2"/><circle cx="233.1" cy="74.9" r="2.2"/><circle cx="233.0" cy="74.3" r="2.2"/><circle cx="233.5" cy="74.4" r="2.2"/><circle cx="234.2" cy="73.9" r="2.2"/><circle cx="234.6" cy="74.3" r="2.2"/><circle cx="235.2" cy="74.1" r="2.2"/><circle cx="235.5" cy="74.9" r="2.2"/><circle cx="236.2" cy="76.1" r="2.2"/><circle cx="236.6" cy="76.0" r="2.2"/><circle cx="237.1" cy="74.3" r="2.2"/><circle cx="237.4" cy="75.1" r="2.2"/><circle cx="237.9" cy="74.9" r="2.2"/><circle cx="238.0" cy="73.6" r="2.2"/><circle cx="238.4" cy="73.4" r="2.2"/><circle cx="239.4" cy="74.4" r="2.2"/><circle cx="239.4" cy="74.8" r="2.2"/><circle cx="239.8" cy="74.0" r="2.2"/><circle cx="240.6" cy="74.3" r="2.2"/><circle cx="240.7" cy="74.4" r="2.2"/><circle cx="241.6" cy="74.4" r="2.2"/><circle cx="241.6" cy="74.2" r="2.2"/><circle cx="242.4" cy="75.0" r="2.2"/><circle cx="243.0" cy="75.6" r="2.2"/><circle cx="243.2" cy="75.4" r="2.2"/><circle cx="243.7" cy="74.6" r="2.2"/><circle cx="244.2" cy="75.2" r="2.2"/><circle cx="244.8" cy="75.3" r="2.2"/><circle cx="245.0" cy="74.0" r="2.2"/><circle cx="245.6" cy="76.0" r="2.2"/><circle cx="246.0" cy="74.9" r="2.2"/><circle cx="246.4" cy="74.7" r="2.2"/><circle cx="246.8" cy="77.9" r="2.2"/><circle cx="247.1" cy="76.3" r="2.2"/><circle cx="247.6" cy="78.7" r="2.2"/><circle cx="248.1" cy="79.9" r="2.2"/><circle cx="248.9" cy="79.4" r="2.2"/><circle cx="249.3" cy="76.7" r="2.2"/><circle cx="249.2" cy="76.2" r="2.2"/><circle cx="249.7" cy="74.6" r="2.2"/><circle cx="250.2" cy="75.3" r="2.2"/><circle cx="250.7" cy="77.0" r="2.2"/><circle cx="251.5" cy="74.9" r="2.2"/><circle cx="251.6" cy="76.5" r="2.2"/><circle cx="251.9" cy="75.1" r="2.2"/><circle cx="252.9" cy="74.7" r="2.2"/><circle cx="253.3" cy="74.1" r="2.2"/><circle cx="253.4" cy="75.6" r="2.2"/><circle cx="253.9" cy="75.9" r="2.2"/><circle cx="254.2" cy="75.7" r="2.2"/><circle cx="255.1" cy="74.4" r="2.2"/><circle cx="255.1" cy="75.4" r="2.2"/><circle cx="255.7" cy="76.0" r="2.2"/><circle cx="256.4" cy="75.4" r="2.2"/><circle cx="256.4" cy="76.1" r="2.2"/><circle cx="257.4" cy="77.3" r="2.2"/><circle cx="257.8" cy="74.9" r="2.2"/><circle cx="258.3" cy="77.7" r="2.2"/><circle cx="258.7" cy="75.1" r="2.2"/><circle cx="259.2" cy="75.8" r="2.2"/><circle cx="259.5" cy="75.8" r="2.2"/><circle cx="259.7" cy="76.5" r="2.2"/><circle cx="260.4" cy="75.7" r="2.2"/><circle cx="261.0" cy="76.0" r="2.2"/><circle cx="261.0" cy="75.9" r="2.2"/><circle cx="261.8" cy="76.3" r="2.2"/><circle cx="262.1" cy="76.3" r="2.2"/><circle cx="262.6" cy="76.0" r="2.2"/><circle cx="262.8" cy="76.6" r="2.2"/><circle cx="263.7" cy="77.0" r="2.2"/><circle cx="263.6" cy="75.6" r="2.2"/><circle cx="264.3" cy="75.6" r="2.2"/><circle cx="264.9" cy="75.6" r="2.2"/><circle cx="265.2" cy="75.6" r="2.2"/><circle cx="265.8" cy="75.6" r="2.2"/><circle cx="266.3" cy="76.1" r="2.2"/><circle cx="266.8" cy="76.6" r="2.2"/><circle cx="267.3" cy="75.6" r="2.2"/><circle cx="267.3" cy="76.4" r="2.2"/><circle cx="267.8" cy="75.8" r="2.2"/><circle cx="268.5" cy="77.9" r="2.2"/><circle cx="268.6" cy="76.3" r="2.2"/><circle cx="269.0" cy="76.7" r="2.2"/><circle cx="270.0" cy="75.5" r="2.2"/><circle cx="270.0" cy="75.6" r="2.2"/><circle cx="270.6" cy="76.3" r="2.2"/><circle cx="271.0" cy="75.7" r="2.2"/><circle cx="271.8" cy="76.2" r="2.2"/><circle cx="271.8" cy="77.0" r="2.2"/><circle cx="272.4" cy="75.7" r="2.2"/><circle cx="272.7" cy="75.7" r="2.2"/><circle cx="273.6" cy="76.4" r="2.2"/><circle cx="273.7" cy="76.1" r="2.2"/><circle cx="274.1" cy="76.7" r="2.2"/><circle cx="274.5" cy="76.2" r="2.2"/><circle cx="274.9" cy="75.6" r="2.2"/><circle cx="275.5" cy="74.9" r="2.2"/><circle cx="276.3" cy="76.6" r="2.2"/><circle cx="276.4" cy="75.8" r="2.2"/><circle cx="276.9" cy="76.4" r="2.2"/><circle cx="277.6" cy="75.1" r="2.2"/><circle cx="278.0" cy="75.8" r="2.2"/><circle cx="278.6" cy="76.6" r="2.2"/><circle cx="279.0" cy="77.1" r="2.2"/><circle cx="279.1" cy="77.1" r="2.2"/><circle cx="279.8" cy="77.3" r="2.2"/><circle cx="280.0" cy="76.4" r="2.2"/><circle cx="280.6" cy="77.1" r="2.2"/><circle cx="281.3" cy="76.7" r="2.2"/><circle cx="281.7" cy="76.3" r="2.2"/><circle cx="281.8" cy="76.1" r="2.2"/><circle cx="282.1" cy="75.9" r="2.2"/><circle cx="282.6" cy="77.2" r="2.2"/><circle cx="283.5" cy="76.5" r="2.2"/><circle cx="283.8" cy="76.0" r="2.2"/><circle cx="283.9" cy="76.4" r="2.2"/><circle cx="284.6" cy="77.8" r="2.2"/><circle cx="285.1" cy="75.5" r="2.2"/><circle cx="285.2" cy="75.5" r="2.2"/><circle cx="286.2" cy="77.5" r="2.2"/><circle cx="286.4" cy="75.5" r="2.2"/><circle cx="287.1" cy="77.5" r="2.2"/><circle cx="287.2" cy="76.1" r="2.2"/><circle cx="287.9" cy="76.8" r="2.2"/><circle cx="288.3" cy="77.4" r="2.2"/><circle cx="288.4" cy="77.4" r="2.2"/><circle cx="289.4" cy="77.1" r="2.2"/><circle cx="289.7" cy="76.5" r="2.2"/><circle cx="290.0" cy="76.3" r="2.2"/><circle cx="290.5" cy="76.4" r="2.2"/><circle cx="291.0" cy="77.6" r="2.2"/><circle cx="291.5" cy="76.8" r="2.2"/><circle cx="291.7" cy="77.4" r="2.2"/><circle cx="292.2" cy="74.9" r="2.2"/><circle cx="292.5" cy="76.3" r="2.2"/><circle cx="293.1" cy="76.8" r="2.2"/><circle cx="293.8" cy="76.3" r="2.2"/><circle cx="294.0" cy="78.1" r="2.2"/><circle cx="294.7" cy="75.8" r="2.2"/><circle cx="295.0" cy="77.0" r="2.2"/><circle cx="295.5" cy="77.2" r="2.2"/><circle cx="295.6" cy="76.0" r="2.2"/><circle cx="296.4" cy="77.2" r="2.2"/><circle cx="296.8" cy="76.9" r="2.2"/><circle cx="297.1" cy="78.7" r="2.2"/><circle cx="297.5" cy="77.7" r="2.2"/><circle cx="298.2" cy="76.6" r="2.2"/><circle cx="298.3" cy="77.3" r="2.2"/><circle cx="299.2" cy="76.9" r="2.2"/><circle cx="299.3" cy="76.3" r="2.2"/><circle cx="299.7" cy="77.1" r="2.2"/><circle cx="300.4" cy="77.0" r="2.2"/><circle cx="300.8" cy="77.8" r="2.2"/><circle cx="301.4" cy="75.7" r="2.2"/><circle cx="301.8" cy="75.7" r="2.2"/><circle cx="301.9" cy="76.1" r="2.2"/><circle cx="302.7" cy="77.1" r="2.2"/><circle cx="303.3" cy="77.4" r="2.2"/><circle cx="303.7" cy="76.6" r="2.2"/><circle cx="304.1" cy="76.9" r="2.2"/><circle cx="304.3" cy="76.7" r="2.2"/><circle cx="304.9" cy="75.6" r="2.2"/><circle cx="305.4" cy="76.1" r="2.2"/><circle cx="305.7" cy="77.4" r="2.2"/><circle cx="306.1" cy="77.3" r="2.2"/><circle cx="306.6" cy="77.6" r="2.2"/><circle cx="306.8" cy="77.2" r="2.2"/><circle cx="307.4" cy="75.0" r="2.2"/><circle cx="307.7" cy="76.9" r="2.2"/><circle cx="308.7" cy="77.0" r="2.2"/><circle cx="308.7" cy="75.8" r="2.2"/><circle cx="309.1" cy="78.1" r="2.2"/><circle cx="309.6" cy="76.7" r="2.2"/><circle cx="310.2" cy="77.4" r="2.2"/><circle cx="310.6" cy="77.3" r="2.2"/><circle cx="311.3" cy="77.2" r="2.2"/><circle cx="311.5" cy="77.8" r="2.2"/><circle cx="311.8" cy="76.7" r="2.2"/><circle cx="312.5" cy="77.5" r="2.2"/><circle cx="313.1" cy="77.1" r="2.2"/><circle cx="313.2" cy="75.9" r="2.2"/><circle cx="314.0" cy="76.4" r="2.2"/><circle cx="314.4" cy="76.0" r="2.2"/><circle cx="315.0" cy="75.6" r="2.2"/><circle cx="315.3" cy="75.7" r="2.2"/><circle cx="315.6" cy="77.2" r="2.2"/><circle cx="316.4" cy="75.8" r="2.2"/><circle cx="316.5" cy="77.5" r="2.2"/><circle cx="317.1" cy="76.7" r="2.2"/><circle cx="317.6" cy="76.7" r="2.2"/><circle cx="318.0" cy="76.0" r="2.2"/><circle cx="318.3" cy="77.1" r="2.2"/><circle cx="318.7" cy="76.2" r="2.2"/><circle cx="319.1" cy="77.3" r="2.2"/><circle cx="319.7" cy="77.3" r="2.2"/><circle cx="320.3" cy="75.7" r="2.2"/><circle cx="320.9" cy="77.2" r="2.2"/><circle cx="321.1" cy="75.4" r="2.2"/><circle cx="321.7" cy="77.5" r="2.2"/><circle cx="322.1" cy="75.4" r="2.2"/><circle cx="322.6" cy="76.2" r="2.2"/><circle cx="323.0" cy="77.8" r="2.2"/><circle cx="323.2" cy="77.1" r="2.2"/><circle cx="323.5" cy="77.4" r="2.2"/><circle cx="324.1" cy="75.2" r="2.2"/><circle cx="324.9" cy="77.5" r="2.2"/><circle cx="325.2" cy="76.3" r="2.2"/><circle cx="325.4" cy="78.1" r="2.2"/><circle cx="325.8" cy="77.0" r="2.2"/><circle cx="326.7" cy="76.9" r="2.2"/><circle cx="327.1" cy="75.8" r="2.2"/><circle cx="327.4" cy="76.3" r="2.2"/><circle cx="327.8" cy="76.9" r="2.2"/><circle cx="328.3" cy="77.9" r="2.2"/><circle cx="248.2" cy="80.5" r="2.2"/><circle cx="248.0" cy="79.0" r="2.2"/></g><g fill="url(#gb)"><circle cx="206.7" cy="13.3" r="2.2"/><circle cx="206.7" cy="48.0" r="2.2"/><circle cx="206.8" cy="61.3" r="2.2"/><circle cx="207.0" cy="66.0" r="2.2"/><circle cx="207.1" cy="70.0" r="2.2"/><circle cx="207.3" cy="73.5" r="2.2"/><circle cx="207.5" cy="77.0" r="2.2"/><circle cx="207.7" cy="80.0" r="2.2"/><circle cx="207.9" cy="82.9" r="2.2"/><circle cx="208.7" cy="82.1" r="2.2"/><circle cx="208.7" cy="81.7" r="2.2"/><circle cx="209.1" cy="82.0" r="2.2"/><circle cx="210.0" cy="84.6" r="2.2"/><circle cx="210.2" cy="83.8" r="2.2"/><circle cx="210.5" cy="83.1" r="2.2"/><circle cx="211.1" cy="85.2" r="2.2"/><circle cx="211.9" cy="84.6" r="2.2"/><circle cx="211.8" cy="84.9" r="2.2"/><circle cx="212.3" cy="85.0" r="2.2"/><circle cx="213.2" cy="84.8" r="2.2"/><circle cx="213.2" cy="84.2" r="2.2"/><circle cx="213.9" cy="83.5" r="2.2"/><circle cx="214.0" cy="83.8" r="2.2"/><circle cx="214.6" cy="84.3" r="2.2"/><circle cx="215.2" cy="85.4" r="2.2"/><circle cx="215.6" cy="84.6" r="2.2"/><circle cx="216.4" cy="85.9" r="2.2"/><circle cx="216.3" cy="86.0" r="2.2"/><circle cx="216.8" cy="86.5" r="2.2"/><circle cx="217.3" cy="86.6" r="2.2"/><circle cx="218.2" cy="83.5" r="2.2"/><circle cx="218.6" cy="86.8" r="2.2"/><circle cx="218.7" cy="85.8" r="2.2"/><circle cx="219.2" cy="85.8" r="2.2"/><circle cx="219.7" cy="85.3" r="2.2"/><circle cx="219.9" cy="86.0" r="2.2"/><circle cx="220.6" cy="86.0" r="2.2"/><circle cx="221.1" cy="85.4" r="2.2"/><circle cx="221.3" cy="84.6" r="2.2"/><circle cx="221.8" cy="87.1" r="2.2"/><circle cx="222.6" cy="86.5" r="2.2"/><circle cx="223.0" cy="85.4" r="2.2"/><circle cx="223.2" cy="85.9" r="2.2"/><circle cx="224.0" cy="86.9" r="2.2"/><circle cx="224.1" cy="85.9" r="2.2"/><circle cx="224.7" cy="86.6" r="2.2"/><circle cx="225.0" cy="87.3" r="2.2"/><circle cx="225.3" cy="87.2" r="2.2"/><circle cx="226.2" cy="86.5" r="2.2"/><circle cx="226.4" cy="86.0" r="2.2"/><circle cx="227.0" cy="86.4" r="2.2"/><circle cx="227.3" cy="87.3" r="2.2"/><circle cx="227.9" cy="86.6" r="2.2"/><circle cx="228.1" cy="88.0" r="2.2"/><circle cx="228.7" cy="88.2" r="2.2"/><circle cx="229.2" cy="88.0" r="2.2"/><circle cx="229.4" cy="87.4" r="2.2"/><circle cx="229.9" cy="86.0" r="2.2"/><circle cx="230.4" cy="88.2" r="2.2"/><circle cx="230.9" cy="87.5" r="2.2"/><circle cx="231.1" cy="86.5" r="2.2"/><circle cx="232.0" cy="86.3" r="2.2"/><circle cx="232.3" cy="86.6" r="2.2"/><circle cx="232.8" cy="87.2" r="2.2"/><circle cx="233.4" cy="86.0" r="2.2"/><circle cx="233.5" cy="88.0" r="2.2"/><circle cx="234.3" cy="86.9" r="2.2"/><circle cx="234.6" cy="87.6" r="2.2"/><circle cx="235.2" cy="85.9" r="2.2"/><circle cx="235.4" cy="89.5" r="2.2"/><circle cx="235.9" cy="88.0" r="2.2"/><circle cx="236.3" cy="87.2" r="2.2"/><circle cx="237.0" cy="86.4" r="2.2"/><circle cx="237.0" cy="88.5" r="2.2"/><circle cx="237.6" cy="87.0" r="2.2"/><circle cx="238.4" cy="87.1" r="2.2"/><circle cx="238.9" cy="86.7" r="2.2"/><circle cx="239.2" cy="86.5" r="2.2"/><circle cx="239.4" cy="87.4" r="2.2"/><circle cx="240.1" cy="87.5" r="2.2"/><circle cx="240.1" cy="87.2" r="2.2"/><circle cx="240.7" cy="86.7" r="2.2"/><circle cx="241.0" cy="88.7" r="2.2"/><circle cx="242.0" cy="88.8" r="2.2"/><circle cx="242.3" cy="87.0" r="2.2"/><circle cx="242.5" cy="88.6" r="2.2"/><circle cx="243.3" cy="87.7" r="2.2"/><circle cx="243.3" cy="87.6" r="2.2"/><circle cx="243.9" cy="89.2" r="2.2"/><circle cx="244.2" cy="89.2" r="2.2"/><circle cx="244.9" cy="87.4" r="2.2"/><circle cx="245.3" cy="88.3" r="2.2"/><circle cx="245.7" cy="87.3" r="2.2"/><circle cx="246.2" cy="86.6" r="2.2"/><circle cx="246.9" cy="88.5" r="2.2"/><circle cx="247.1" cy="88.2" r="2.2"/><circle cx="247.8" cy="88.5" r="2.2"/><circle cx="248.2" cy="89.6" r="2.2"/><circle cx="248.6" cy="87.8" r="2.2"/><circle cx="249.1" cy="88.4" r="2.2"/><circle cx="249.3" cy="88.1" r="2.2"/><circle cx="249.8" cy="86.6" r="2.2"/><circle cx="250.4" cy="87.9" r="2.2"/><circle cx="250.9" cy="86.9" r="2.2"/><circle cx="251.3" cy="88.2" r="2.2"/><circle cx="251.4" cy="87.3" r="2.2"/><circle cx="252.0" cy="87.3" r="2.2"/><circle cx="252.4" cy="89.3" r="2.2"/><circle cx="252.9" cy="87.9" r="2.2"/><circle cx="253.5" cy="88.0" r="2.2"/><circle cx="253.7" cy="88.5" r="2.2"/><circle cx="254.5" cy="86.6" r="2.2"/><circle cx="254.5" cy="87.6" r="2.2"/><circle cx="255.3" cy="87.7" r="2.2"/><circle cx="255.7" cy="88.6" r="2.2"/><circle cx="256.2" cy="88.5" r="2.2"/><circle cx="256.5" cy="87.8" r="2.2"/><circle cx="257.2" cy="89.6" r="2.2"/><circle cx="257.2" cy="87.9" r="2.2"/><circle cx="257.8" cy="87.7" r="2.2"/><circle cx="258.7" cy="88.6" r="2.2"/><circle cx="258.9" cy="87.8" r="2.2"/><circle cx="259.0" cy="89.3" r="2.2"/><circle cx="260.0" cy="88.6" r="2.2"/><circle cx="260.2" cy="87.8" r="2.2"/><circle cx="260.5" cy="90.1" r="2.2"/><circle cx="261.3" cy="88.1" r="2.2"/><circle cx="261.7" cy="88.3" r="2.2"/><circle cx="261.8" cy="88.6" r="2.2"/><circle cx="262.6" cy="88.6" r="2.2"/><circle cx="262.9" cy="88.7" r="2.2"/><circle cx="263.1" cy="87.4" r="2.2"/><circle cx="263.7" cy="88.4" r="2.2"/><circle cx="264.1" cy="86.9" r="2.2"/><circle cx="264.6" cy="88.2" r="2.2"/><circle cx="264.9" cy="88.3" r="2.2"/><circle cx="265.4" cy="88.8" r="2.2"/><circle cx="265.8" cy="87.8" r="2.2"/><circle cx="266.3" cy="88.7" r="2.2"/><circle cx="267.2" cy="88.1" r="2.2"/><circle cx="267.2" cy="88.5" r="2.2"/><circle cx="267.8" cy="87.8" r="2.2"/><circle cx="268.5" cy="89.2" r="2.2"/><circle cx="268.7" cy="89.2" r="2.2"/><circle cx="269.2" cy="87.3" r="2.2"/><circle cx="269.4" cy="88.3" r="2.2"/><circle cx="270.0" cy="88.2" r="2.2"/><circle cx="270.7" cy="87.0" r="2.2"/><circle cx="270.8" cy="87.6" r="2.2"/><circle cx="271.3" cy="88.3" r="2.2"/><circle cx="271.8" cy="87.6" r="2.2"/><circle cx="272.5" cy="88.6" r="2.2"/><circle cx="273.0" cy="89.1" r="2.2"/><circle cx="273.2" cy="88.1" r="2.2"/><circle cx="273.5" cy="89.0" r="2.2"/><circle cx="273.9" cy="89.6" r="2.2"/><circle cx="274.7" cy="88.1" r="2.2"/><circle cx="274.9" cy="89.5" r="2.2"/><circle cx="275.4" cy="89.5" r="2.2"/><circle cx="275.7" cy="89.6" r="2.2"/><circle cx="276.2" cy="88.7" r="2.2"/><circle cx="277.1" cy="88.9" r="2.2"/><circle cx="277.5" cy="88.1" r="2.2"/><circle cx="277.6" cy="89.3" r="2.2"/><circle cx="278.2" cy="89.3" r="2.2"/><circle cx="278.9" cy="89.0" r="2.2"/><circle cx="279.0" cy="88.7" r="2.2"/><circle cx="279.3" cy="88.2" r="2.2"/><circle cx="279.7" cy="87.0" r="2.2"/><circle cx="280.6" cy="88.3" r="2.2"/><circle cx="281.1" cy="87.4" r="2.2"/><circle cx="281.2" cy="88.6" r="2.2"/><circle cx="282.1" cy="88.1" r="2.2"/><circle cx="282.2" cy="90.5" r="2.2"/><circle cx="283.0" cy="88.3" r="2.2"/><circle cx="282.9" cy="88.0" r="2.2"/><circle cx="283.7" cy="90.1" r="2.2"/><circle cx="284.1" cy="87.5" r="2.2"/><circle cx="284.8" cy="89.6" r="2.2"/><circle cx="284.8" cy="89.7" r="2.2"/><circle cx="285.3" cy="88.7" r="2.2"/><circle cx="285.7" cy="87.7" r="2.2"/><circle cx="286.6" cy="88.3" r="2.2"/><circle cx="286.6" cy="88.9" r="2.2"/><circle cx="287.0" cy="89.4" r="2.2"/><circle cx="287.9" cy="89.2" r="2.2"/><circle cx="288.2" cy="89.1" r="2.2"/><circle cx="288.7" cy="88.4" r="2.2"/><circle cx="288.9" cy="89.6" r="2.2"/><circle cx="289.3" cy="88.0" r="2.2"/><circle cx="290.1" cy="88.2" r="2.2"/><circle cx="290.3" cy="88.9" r="2.2"/><circle cx="290.8" cy="89.3" r="2.2"/><circle cx="291.2" cy="89.1" r="2.2"/><circle cx="291.6" cy="89.1" r="2.2"/><circle cx="292.4" cy="88.4" r="2.2"/><circle cx="292.8" cy="89.5" r="2.2"/><circle cx="293.2" cy="87.2" r="2.2"/><circle cx="293.7" cy="88.3" r="2.2"/><circle cx="294.1" cy="87.8" r="2.2"/><circle cx="294.3" cy="87.9" r="2.2"/><circle cx="294.7" cy="89.1" r="2.2"/><circle cx="295.3" cy="89.4" r="2.2"/><circle cx="295.9" cy="88.0" r="2.2"/><circle cx="296.5" cy="88.7" r="2.2"/><circle cx="296.5" cy="90.2" r="2.2"/><circle cx="297.3" cy="89.0" r="2.2"/><circle cx="297.4" cy="89.9" r="2.2"/><circle cx="298.2" cy="89.6" r="2.2"/><circle cx="298.6" cy="89.6" r="2.2"/><circle cx="298.9" cy="88.5" r="2.2"/><circle cx="299.3" cy="89.0" r="2.2"/><circle cx="299.8" cy="90.5" r="2.2"/><circle cx="300.3" cy="88.2" r="2.2"/><circle cx="301.0" cy="87.9" r="2.2"/><circle cx="300.9" cy="89.7" r="2.2"/><circle cx="301.6" cy="88.3" r="2.2"/><circle cx="302.2" cy="88.8" r="2.2"/><circle cx="302.6" cy="89.2" r="2.2"/><circle cx="303.0" cy="88.5" r="2.2"/><circle cx="303.6" cy="88.6" r="2.2"/><circle cx="304.1" cy="87.9" r="2.2"/><circle cx="304.5" cy="88.7" r="2.2"/><circle cx="304.7" cy="87.8" r="2.2"/><circle cx="305.1" cy="89.1" r="2.2"/><circle cx="305.5" cy="88.8" r="2.2"/><circle cx="305.9" cy="89.6" r="2.2"/><circle cx="306.5" cy="88.6" r="2.2"/><circle cx="306.9" cy="89.6" r="2.2"/><circle cx="307.6" cy="89.6" r="2.2"/><circle cx="308.0" cy="89.7" r="2.2"/><circle cx="308.4" cy="89.3" r="2.2"/><circle cx="308.7" cy="89.1" r="2.2"/><circle cx="309.4" cy="89.0" r="2.2"/><circle cx="310.0" cy="88.4" r="2.2"/><circle cx="310.3" cy="88.7" r="2.2"/><circle cx="310.8" cy="88.7" r="2.2"/><circle cx="311.1" cy="90.3" r="2.2"/><circle cx="311.8" cy="87.8" r="2.2"/><circle cx="312.0" cy="88.6" r="2.2"/><circle cx="312.4" cy="89.0" r="2.2"/><circle cx="313.1" cy="88.0" r="2.2"/><circle cx="313.4" cy="89.3" r="2.2"/><circle cx="313.5" cy="88.3" r="2.2"/><circle cx="314.2" cy="89.0" r="2.2"/><circle cx="314.5" cy="88.8" r="2.2"/><circle cx="315.3" cy="87.1" r="2.2"/><circle cx="315.4" cy="89.2" r="2.2"/><circle cx="316.2" cy="87.8" r="2.2"/><circle cx="316.6" cy="89.0" r="2.2"/><circle cx="316.8" cy="89.9" r="2.2"/><circle cx="317.4" cy="89.4" r="2.2"/><circle cx="318.0" cy="88.8" r="2.2"/><circle cx="318.4" cy="88.8" r="2.2"/><circle cx="318.6" cy="88.9" r="2.2"/><circle cx="319.4" cy="88.6" r="2.2"/><circle cx="319.8" cy="88.1" r="2.2"/><circle cx="319.8" cy="88.8" r="2.2"/><circle cx="320.4" cy="88.7" r="2.2"/><circle cx="320.9" cy="90.3" r="2.2"/><circle cx="321.6" cy="89.1" r="2.2"/><circle cx="321.6" cy="90.4" r="2.2"/><circle cx="322.5" cy="88.7" r="2.2"/><circle cx="323.0" cy="89.0" r="2.2"/><circle cx="323.1" cy="88.8" r="2.2"/><circle cx="323.5" cy="88.1" r="2.2"/><circle cx="323.9" cy="88.0" r="2.2"/><circle cx="324.5" cy="88.6" r="2.2"/><circle cx="325.0" cy="89.5" r="2.2"/><circle cx="325.5" cy="88.0" r="2.2"/><circle cx="326.1" cy="87.8" r="2.2"/><circle cx="326.6" cy="88.7" r="2.2"/><circle cx="327.0" cy="88.3" r="2.2"/><circle cx="327.3" cy="88.2" r="2.2"/><circle cx="327.8" cy="89.9" r="2.2"/><circle cx="328.3" cy="88.7" r="2.2"/></g><g fill="url(#go)"><circle cx="376.0" cy="60.0" r="2.45"/><circle cx="376.0" cy="38.5" r="2.45"/><circle cx="376.7" cy="44.2" r="2.45"/><circle cx="377.1" cy="45.0" r="2.45"/><circle cx="378.0" cy="48.6" r="2.45"/><circle cx="378.6" cy="48.3" r="2.45"/><circle cx="379.7" cy="49.6" r="2.45"/><circle cx="380.7" cy="52.8" r="2.45"/><circle cx="381.1" cy="52.5" r="2.45"/><circle cx="381.9" cy="56.1" r="2.45"/><circle cx="382.7" cy="53.0" r="2.45"/><circle cx="384.0" cy="58.2" r="2.45"/><circle cx="384.5" cy="53.9" r="2.45"/><circle cx="385.4" cy="56.1" r="2.45"/><circle cx="386.0" cy="58.0" r="2.45"/><circle cx="386.7" cy="56.4" r="2.45"/><circle cx="387.8" cy="58.3" r="2.45"/><circle cx="388.2" cy="61.7" r="2.45"/><circle cx="389.2" cy="60.6" r="2.45"/><circle cx="390.2" cy="60.4" r="2.45"/><circle cx="391.1" cy="64.0" r="2.45"/><circle cx="391.8" cy="63.2" r="2.45"/><circle cx="392.6" cy="64.8" r="2.45"/><circle cx="393.0" cy="67.1" r="2.45"/><circle cx="394.1" cy="64.8" r="2.45"/><circle cx="395.1" cy="66.1" r="2.45"/><circle cx="395.4" cy="71.5" r="2.45"/><circle cx="396.4" cy="62.4" r="2.45"/><circle cx="397.1" cy="67.3" r="2.45"/><circle cx="398.0" cy="65.8" r="2.45"/><circle cx="398.6" cy="68.7" r="2.45"/><circle cx="400.0" cy="66.7" r="2.45"/><circle cx="400.4" cy="67.9" r="2.45"/><circle cx="401.1" cy="66.6" r="2.45"/><circle cx="402.3" cy="70.8" r="2.45"/><circle cx="403.1" cy="69.6" r="2.45"/><circle cx="403.4" cy="69.2" r="2.45"/><circle cx="404.6" cy="68.0" r="2.45"/><circle cx="405.2" cy="72.6" r="2.45"/><circle cx="405.9" cy="67.2" r="2.45"/><circle cx="406.7" cy="72.8" r="2.45"/><circle cx="407.5" cy="71.7" r="2.45"/><circle cx="408.7" cy="70.1" r="2.45"/><circle cx="409.4" cy="71.6" r="2.45"/><circle cx="410.2" cy="68.7" r="2.45"/><circle cx="411.0" cy="74.7" r="2.45"/><circle cx="411.6" cy="69.6" r="2.45"/><circle cx="412.3" cy="71.2" r="2.45"/><circle cx="413.4" cy="74.3" r="2.45"/><circle cx="414.0" cy="72.0" r="2.45"/><circle cx="414.7" cy="73.5" r="2.45"/><circle cx="415.7" cy="73.6" r="2.45"/><circle cx="416.2" cy="72.1" r="2.45"/><circle cx="417.6" cy="72.8" r="2.45"/><circle cx="418.2" cy="77.4" r="2.45"/><circle cx="419.0" cy="75.8" r="2.45"/><circle cx="419.8" cy="75.3" r="2.45"/><circle cx="420.3" cy="74.5" r="2.45"/><circle cx="421.0" cy="72.8" r="2.45"/><circle cx="422.3" cy="72.1" r="2.45"/><circle cx="423.0" cy="76.0" r="2.45"/><circle cx="423.5" cy="73.8" r="2.45"/><circle cx="424.6" cy="74.6" r="2.45"/><circle cx="425.3" cy="73.1" r="2.45"/><circle cx="426.2" cy="72.2" r="2.45"/><circle cx="426.6" cy="75.8" r="2.45"/><circle cx="427.9" cy="73.9" r="2.45"/><circle cx="428.7" cy="79.9" r="2.45"/><circle cx="429.3" cy="79.4" r="2.45"/><circle cx="430.2" cy="75.7" r="2.45"/><circle cx="430.9" cy="78.7" r="2.45"/><circle cx="431.8" cy="74.9" r="2.45"/><circle cx="432.2" cy="79.1" r="2.45"/><circle cx="433.1" cy="81.2" r="2.45"/><circle cx="434.2" cy="78.4" r="2.45"/><circle cx="434.9" cy="81.7" r="2.45"/><circle cx="435.7" cy="73.2" r="2.45"/><circle cx="436.4" cy="77.6" r="2.45"/><circle cx="437.4" cy="77.3" r="2.45"/><circle cx="438.0" cy="79.4" r="2.45"/><circle cx="439.0" cy="78.2" r="2.45"/><circle cx="439.7" cy="79.5" r="2.45"/><circle cx="440.7" cy="78.7" r="2.45"/><circle cx="441.4" cy="76.8" r="2.45"/><circle cx="442.0" cy="76.0" r="2.45"/><circle cx="442.8" cy="80.7" r="2.45"/><circle cx="443.9" cy="77.4" r="2.45"/><circle cx="444.7" cy="80.0" r="2.45"/><circle cx="445.4" cy="79.7" r="2.45"/><circle cx="445.9" cy="78.1" r="2.45"/><circle cx="446.9" cy="76.2" r="2.45"/><circle cx="447.5" cy="79.8" r="2.45"/><circle cx="448.4" cy="81.9" r="2.45"/><circle cx="449.5" cy="74.0" r="2.45"/><circle cx="450.0" cy="76.8" r="2.45"/><circle cx="450.7" cy="84.8" r="2.45"/><circle cx="451.9" cy="80.1" r="2.45"/><circle cx="452.4" cy="80.8" r="2.45"/><circle cx="453.2" cy="82.7" r="2.45"/><circle cx="454.4" cy="83.3" r="2.45"/><circle cx="455.1" cy="80.8" r="2.45"/><circle cx="455.8" cy="81.8" r="2.45"/><circle cx="456.5" cy="79.0" r="2.45"/><circle cx="457.2" cy="80.4" r="2.45"/><circle cx="458.3" cy="78.0" r="2.45"/><circle cx="459.1" cy="81.9" r="2.45"/><circle cx="459.5" cy="81.7" r="2.45"/><circle cx="460.5" cy="81.8" r="2.45"/><circle cx="461.1" cy="82.0" r="2.45"/><circle cx="462.0" cy="77.2" r="2.45"/><circle cx="462.6" cy="80.5" r="2.45"/><circle cx="463.8" cy="79.2" r="2.45"/><circle cx="464.4" cy="80.5" r="2.45"/><circle cx="465.6" cy="82.3" r="2.45"/><circle cx="465.9" cy="84.2" r="2.45"/><circle cx="466.9" cy="80.9" r="2.45"/><circle cx="467.7" cy="79.9" r="2.45"/><circle cx="468.7" cy="80.4" r="2.45"/><circle cx="469.0" cy="81.2" r="2.45"/><circle cx="470.4" cy="81.1" r="2.45"/><circle cx="470.7" cy="82.0" r="2.45"/><circle cx="471.8" cy="82.9" r="2.45"/><circle cx="472.4" cy="78.5" r="2.45"/><circle cx="473.2" cy="78.4" r="2.45"/><circle cx="474.0" cy="80.3" r="2.45"/><circle cx="474.6" cy="80.6" r="2.45"/><circle cx="475.9" cy="84.7" r="2.45"/><circle cx="476.6" cy="81.3" r="2.45"/><circle cx="477.4" cy="83.8" r="2.45"/><circle cx="478.2" cy="79.8" r="2.45"/><circle cx="479.2" cy="79.3" r="2.45"/><circle cx="479.7" cy="87.3" r="2.45"/><circle cx="480.4" cy="84.1" r="2.45"/><circle cx="481.4" cy="80.1" r="2.45"/><circle cx="482.0" cy="81.9" r="2.45"/><circle cx="482.7" cy="86.2" r="2.45"/><circle cx="483.5" cy="83.2" r="2.45"/><circle cx="484.7" cy="81.3" r="2.45"/><circle cx="485.2" cy="84.3" r="2.45"/><circle cx="486.3" cy="83.4" r="2.45"/><circle cx="486.8" cy="78.6" r="2.45"/><circle cx="487.8" cy="87.2" r="2.45"/><circle cx="488.8" cy="84.8" r="2.45"/><circle cx="489.4" cy="82.6" r="2.45"/><circle cx="489.8" cy="81.7" r="2.45"/><circle cx="491.1" cy="81.3" r="2.45"/><circle cx="491.6" cy="79.1" r="2.45"/><circle cx="492.5" cy="83.2" r="2.45"/><circle cx="493.4" cy="81.6" r="2.45"/><circle cx="494.3" cy="80.7" r="2.45"/><circle cx="494.9" cy="81.5" r="2.45"/><circle cx="495.9" cy="87.4" r="2.45"/><circle cx="496.3" cy="81.8" r="2.45"/><circle cx="497.4" cy="85.5" r="2.45"/><circle cx="498.3" cy="86.3" r="2.45"/><circle cx="499.2" cy="83.6" r="2.45"/><circle cx="500.0" cy="85.0" r="2.45"/></g><g fill="url(#gb)"><circle cx="376.0" cy="13.3" r="2.4"/><circle cx="376.2" cy="15.0" r="2.4"/><circle cx="376.8" cy="29.3" r="2.4"/><circle cx="377.3" cy="44.0" r="2.4"/><circle cx="377.5" cy="53.3" r="2.4"/><circle cx="377.9" cy="61.3" r="2.4"/><circle cx="378.2" cy="66.0" r="2.4"/><circle cx="378.6" cy="71.0" r="2.4"/><circle cx="379.0" cy="75.5" r="2.4"/><circle cx="379.6" cy="79.5" r="2.4"/><circle cx="380.1" cy="78.0" r="2.4"/><circle cx="380.7" cy="81.0" r="2.4"/><circle cx="381.2" cy="83.5" r="2.4"/><circle cx="382.0" cy="82.5" r="2.4"/><circle cx="382.8" cy="83.7" r="2.4"/><circle cx="383.6" cy="89.8" r="2.4"/><circle cx="384.8" cy="88.9" r="2.4"/><circle cx="385.3" cy="87.0" r="2.4"/><circle cx="386.2" cy="85.7" r="2.4"/><circle cx="386.5" cy="88.3" r="2.4"/><circle cx="387.3" cy="86.3" r="2.4"/><circle cx="388.5" cy="88.0" r="2.4"/><circle cx="388.9" cy="88.7" r="2.4"/><circle cx="389.9" cy="89.2" r="2.4"/><circle cx="390.3" cy="87.8" r="2.4"/><circle cx="391.5" cy="90.6" r="2.4"/><circle cx="392.2" cy="91.7" r="2.4"/><circle cx="392.6" cy="88.5" r="2.4"/><circle cx="393.3" cy="89.7" r="2.4"/><circle cx="394.0" cy="88.5" r="2.4"/><circle cx="395.1" cy="89.9" r="2.4"/><circle cx="395.9" cy="92.1" r="2.4"/><circle cx="396.7" cy="88.6" r="2.4"/><circle cx="397.5" cy="88.4" r="2.4"/><circle cx="398.3" cy="89.4" r="2.4"/><circle cx="398.5" cy="89.2" r="2.4"/><circle cx="399.4" cy="90.3" r="2.4"/><circle cx="400.1" cy="90.1" r="2.4"/><circle cx="401.2" cy="83.1" r="2.4"/><circle cx="401.6" cy="86.5" r="2.4"/><circle cx="402.7" cy="92.3" r="2.4"/><circle cx="403.0" cy="89.4" r="2.4"/><circle cx="404.3" cy="90.0" r="2.4"/><circle cx="404.5" cy="89.2" r="2.4"/><circle cx="405.4" cy="92.6" r="2.4"/><circle cx="406.1" cy="92.2" r="2.4"/><circle cx="406.7" cy="90.5" r="2.4"/><circle cx="408.0" cy="91.3" r="2.4"/><circle cx="408.6" cy="90.9" r="2.4"/><circle cx="409.1" cy="89.1" r="2.4"/><circle cx="410.2" cy="90.0" r="2.4"/><circle cx="410.7" cy="93.4" r="2.4"/><circle cx="411.8" cy="91.7" r="2.4"/><circle cx="412.1" cy="95.1" r="2.4"/><circle cx="412.9" cy="91.6" r="2.4"/><circle cx="413.7" cy="87.8" r="2.4"/><circle cx="414.2" cy="91.2" r="2.4"/><circle cx="415.4" cy="89.9" r="2.4"/><circle cx="415.8" cy="87.5" r="2.4"/><circle cx="416.8" cy="87.4" r="2.4"/><circle cx="417.5" cy="92.3" r="2.4"/><circle cx="418.3" cy="91.7" r="2.4"/><circle cx="419.2" cy="88.3" r="2.4"/><circle cx="419.7" cy="89.2" r="2.4"/><circle cx="420.7" cy="89.5" r="2.4"/><circle cx="421.5" cy="90.9" r="2.4"/><circle cx="421.9" cy="90.1" r="2.4"/><circle cx="423.0" cy="92.3" r="2.4"/><circle cx="423.4" cy="88.6" r="2.4"/><circle cx="424.2" cy="92.5" r="2.4"/><circle cx="424.8" cy="90.8" r="2.4"/><circle cx="425.6" cy="89.6" r="2.4"/><circle cx="426.5" cy="89.4" r="2.4"/><circle cx="427.4" cy="90.2" r="2.4"/><circle cx="428.0" cy="90.8" r="2.4"/><circle cx="428.5" cy="88.6" r="2.4"/><circle cx="429.5" cy="88.3" r="2.4"/><circle cx="430.5" cy="88.6" r="2.4"/><circle cx="430.8" cy="88.3" r="2.4"/><circle cx="431.8" cy="90.8" r="2.4"/><circle cx="432.3" cy="90.3" r="2.4"/><circle cx="433.4" cy="85.9" r="2.4"/><circle cx="434.2" cy="88.0" r="2.4"/><circle cx="434.9" cy="86.7" r="2.4"/><circle cx="435.6" cy="88.5" r="2.4"/><circle cx="436.2" cy="88.1" r="2.4"/><circle cx="437.2" cy="87.4" r="2.4"/><circle cx="437.7" cy="89.9" r="2.4"/><circle cx="438.3" cy="87.9" r="2.4"/><circle cx="439.5" cy="89.1" r="2.4"/><circle cx="440.1" cy="88.2" r="2.4"/><circle cx="440.5" cy="89.8" r="2.4"/><circle cx="441.5" cy="89.7" r="2.4"/><circle cx="442.0" cy="88.0" r="2.4"/><circle cx="442.9" cy="89.3" r="2.4"/><circle cx="443.6" cy="88.7" r="2.4"/><circle cx="444.4" cy="91.1" r="2.4"/><circle cx="445.3" cy="86.9" r="2.4"/><circle cx="445.7" cy="88.7" r="2.4"/><circle cx="447.0" cy="88.2" r="2.4"/><circle cx="447.8" cy="87.8" r="2.4"/><circle cx="448.3" cy="92.0" r="2.4"/><circle cx="448.9" cy="88.7" r="2.4"/><circle cx="449.6" cy="90.1" r="2.4"/><circle cx="450.5" cy="90.1" r="2.4"/><circle cx="451.2" cy="88.5" r="2.4"/><circle cx="452.1" cy="88.6" r="2.4"/><circle cx="452.8" cy="86.5" r="2.4"/><circle cx="453.6" cy="86.7" r="2.4"/><circle cx="454.2" cy="88.0" r="2.4"/><circle cx="455.3" cy="84.7" r="2.4"/><circle cx="455.5" cy="89.5" r="2.4"/><circle cx="456.7" cy="90.9" r="2.4"/><circle cx="457.4" cy="85.5" r="2.4"/><circle cx="458.2" cy="88.5" r="2.4"/><circle cx="458.7" cy="89.4" r="2.4"/><circle cx="459.3" cy="86.5" r="2.4"/><circle cx="460.1" cy="86.2" r="2.4"/><circle cx="461.2" cy="84.8" r="2.4"/><circle cx="462.0" cy="88.6" r="2.4"/><circle cx="462.7" cy="87.4" r="2.4"/><circle cx="463.0" cy="88.2" r="2.4"/><circle cx="464.3" cy="85.9" r="2.4"/><circle cx="465.0" cy="87.4" r="2.4"/><circle cx="465.7" cy="89.1" r="2.4"/><circle cx="466.3" cy="87.3" r="2.4"/><circle cx="467.1" cy="88.6" r="2.4"/><circle cx="467.8" cy="89.4" r="2.4"/><circle cx="468.2" cy="87.5" r="2.4"/><circle cx="469.5" cy="88.1" r="2.4"/><circle cx="469.7" cy="88.9" r="2.4"/><circle cx="470.8" cy="88.8" r="2.4"/><circle cx="471.7" cy="89.4" r="2.4"/><circle cx="472.5" cy="83.1" r="2.4"/><circle cx="473.0" cy="87.2" r="2.4"/><circle cx="474.0" cy="86.6" r="2.4"/><circle cx="474.6" cy="90.9" r="2.4"/><circle cx="475.4" cy="87.1" r="2.4"/><circle cx="476.0" cy="87.9" r="2.4"/><circle cx="477.0" cy="90.4" r="2.4"/><circle cx="477.6" cy="82.5" r="2.4"/><circle cx="478.1" cy="86.1" r="2.4"/><circle cx="479.2" cy="82.6" r="2.4"/><circle cx="480.0" cy="89.9" r="2.4"/><circle cx="480.3" cy="88.9" r="2.4"/><circle cx="481.1" cy="91.2" r="2.4"/><circle cx="482.0" cy="86.3" r="2.4"/><circle cx="483.0" cy="87.7" r="2.4"/><circle cx="483.4" cy="88.0" r="2.4"/><circle cx="484.5" cy="83.3" r="2.4"/><circle cx="485.0" cy="86.0" r="2.4"/><circle cx="485.7" cy="87.3" r="2.4"/><circle cx="486.4" cy="84.1" r="2.4"/><circle cx="487.2" cy="85.7" r="2.4"/><circle cx="487.9" cy="88.8" r="2.4"/><circle cx="488.5" cy="87.6" r="2.4"/><circle cx="489.6" cy="84.6" r="2.4"/><circle cx="490.2" cy="84.9" r="2.4"/><circle cx="491.1" cy="87.6" r="2.4"/><circle cx="491.9" cy="84.2" r="2.4"/><circle cx="492.2" cy="85.2" r="2.4"/><circle cx="493.5" cy="86.5" r="2.4"/><circle cx="494.3" cy="88.5" r="2.4"/><circle cx="494.5" cy="85.6" r="2.4"/><circle cx="495.4" cy="86.1" r="2.4"/><circle cx="496.5" cy="86.9" r="2.4"/><circle cx="497.3" cy="85.9" r="2.4"/><circle cx="497.6" cy="86.2" r="2.4"/><circle cx="498.5" cy="89.5" r="2.4"/><circle cx="499.5" cy="89.8" r="2.4"/><circle cx="499.7" cy="87.4" r="2.4"/></g><g fill="url(#go)"><circle cx="548.5" cy="60.6" r="2.2"/><circle cx="549.0" cy="60.7" r="2.2"/><circle cx="549.7" cy="62.6" r="2.2"/><circle cx="550.0" cy="60.1" r="2.2"/><circle cx="550.6" cy="62.4" r="2.2"/><circle cx="551.2" cy="62.2" r="2.2"/><circle cx="551.6" cy="63.8" r="2.2"/><circle cx="552.3" cy="62.8" r="2.2"/><circle cx="552.9" cy="60.9" r="2.2"/><circle cx="553.4" cy="62.2" r="2.2"/><circle cx="553.9" cy="62.3" r="2.2"/><circle cx="554.4" cy="60.6" r="2.2"/><circle cx="555.1" cy="61.4" r="2.2"/><circle cx="555.6" cy="60.4" r="2.2"/><circle cx="556.2" cy="60.0" r="2.2"/><circle cx="556.7" cy="63.5" r="2.2"/><circle cx="557.1" cy="60.7" r="2.2"/><circle cx="557.8" cy="63.0" r="2.2"/><circle cx="558.4" cy="61.9" r="2.2"/><circle cx="559.0" cy="64.6" r="2.2"/><circle cx="559.5" cy="63.7" r="2.2"/><circle cx="559.9" cy="63.9" r="2.2"/><circle cx="560.6" cy="64.7" r="2.2"/><circle cx="561.3" cy="63.6" r="2.2"/><circle cx="561.8" cy="61.8" r="2.2"/><circle cx="562.1" cy="63.7" r="2.2"/><circle cx="562.8" cy="64.4" r="2.2"/><circle cx="563.5" cy="63.8" r="2.2"/><circle cx="563.8" cy="64.4" r="2.2"/><circle cx="564.3" cy="62.2" r="2.2"/><circle cx="564.8" cy="64.6" r="2.2"/><circle cx="565.4" cy="67.7" r="2.2"/><circle cx="566.0" cy="63.0" r="2.2"/><circle cx="566.5" cy="63.2" r="2.2"/><circle cx="567.3" cy="68.8" r="2.2"/><circle cx="567.8" cy="65.9" r="2.2"/><circle cx="568.4" cy="67.7" r="2.2"/><circle cx="568.9" cy="66.9" r="2.2"/><circle cx="569.3" cy="62.8" r="2.2"/><circle cx="569.8" cy="67.5" r="2.2"/><circle cx="570.4" cy="65.6" r="2.2"/><circle cx="571.2" cy="64.3" r="2.2"/><circle cx="571.6" cy="66.5" r="2.2"/><circle cx="572.3" cy="66.1" r="2.2"/><circle cx="572.7" cy="66.4" r="2.2"/><circle cx="573.3" cy="63.8" r="2.2"/><circle cx="573.9" cy="69.3" r="2.2"/><circle cx="574.4" cy="65.6" r="2.2"/><circle cx="575.0" cy="67.5" r="2.2"/><circle cx="575.4" cy="63.4" r="2.2"/><circle cx="575.8" cy="64.2" r="2.2"/><circle cx="576.6" cy="67.1" r="2.2"/><circle cx="577.0" cy="67.6" r="2.2"/><circle cx="577.8" cy="65.3" r="2.2"/><circle cx="578.3" cy="67.6" r="2.2"/><circle cx="578.7" cy="65.5" r="2.2"/><circle cx="579.2" cy="65.7" r="2.2"/><circle cx="579.7" cy="65.6" r="2.2"/><circle cx="580.6" cy="65.2" r="2.2"/><circle cx="580.8" cy="64.7" r="2.2"/><circle cx="581.7" cy="67.0" r="2.2"/><circle cx="582.1" cy="68.7" r="2.2"/><circle cx="582.5" cy="68.2" r="2.2"/><circle cx="583.2" cy="70.8" r="2.2"/><circle cx="583.8" cy="66.9" r="2.2"/><circle cx="584.1" cy="67.9" r="2.2"/><circle cx="584.9" cy="66.2" r="2.2"/><circle cx="585.3" cy="67.6" r="2.2"/><circle cx="585.9" cy="69.1" r="2.2"/><circle cx="586.5" cy="68.1" r="2.2"/><circle cx="587.1" cy="66.4" r="2.2"/><circle cx="587.5" cy="66.2" r="2.2"/><circle cx="588.1" cy="67.0" r="2.2"/><circle cx="588.5" cy="66.2" r="2.2"/><circle cx="589.3" cy="66.2" r="2.2"/><circle cx="589.9" cy="68.4" r="2.2"/><circle cx="590.3" cy="66.2" r="2.2"/><circle cx="591.0" cy="67.1" r="2.2"/><circle cx="591.3" cy="69.0" r="2.2"/><circle cx="591.9" cy="65.6" r="2.2"/><circle cx="592.3" cy="69.5" r="2.2"/><circle cx="593.1" cy="67.0" r="2.2"/><circle cx="593.4" cy="66.6" r="2.2"/><circle cx="594.2" cy="68.3" r="2.2"/><circle cx="594.7" cy="68.1" r="2.2"/><circle cx="595.4" cy="68.5" r="2.2"/><circle cx="595.9" cy="71.2" r="2.2"/><circle cx="596.2" cy="69.2" r="2.2"/><circle cx="597.1" cy="66.8" r="2.2"/><circle cx="597.5" cy="68.5" r="2.2"/><circle cx="598.0" cy="69.9" r="2.2"/><circle cx="598.5" cy="69.8" r="2.2"/><circle cx="598.9" cy="67.9" r="2.2"/><circle cx="599.6" cy="68.7" r="2.2"/><circle cx="600.3" cy="68.5" r="2.2"/><circle cx="600.7" cy="67.7" r="2.2"/><circle cx="601.3" cy="69.5" r="2.2"/><circle cx="602.0" cy="68.7" r="2.2"/><circle cx="602.4" cy="69.5" r="2.2"/><circle cx="602.8" cy="69.9" r="2.2"/><circle cx="603.3" cy="68.8" r="2.2"/><circle cx="604.1" cy="72.2" r="2.2"/><circle cx="604.8" cy="68.7" r="2.2"/><circle cx="605.0" cy="70.3" r="2.2"/><circle cx="605.7" cy="69.8" r="2.2"/><circle cx="606.4" cy="70.3" r="2.2"/><circle cx="606.8" cy="72.3" r="2.2"/><circle cx="607.4" cy="68.6" r="2.2"/><circle cx="608.1" cy="71.5" r="2.2"/><circle cx="608.6" cy="68.7" r="2.2"/><circle cx="608.8" cy="71.3" r="2.2"/><circle cx="609.7" cy="68.5" r="2.2"/><circle cx="610.1" cy="70.2" r="2.2"/><circle cx="610.5" cy="69.5" r="2.2"/><circle cx="611.0" cy="70.0" r="2.2"/><circle cx="611.6" cy="72.2" r="2.2"/><circle cx="612.2" cy="72.4" r="2.2"/><circle cx="613.0" cy="70.8" r="2.2"/><circle cx="613.2" cy="69.9" r="2.2"/><circle cx="614.0" cy="72.3" r="2.2"/><circle cx="614.4" cy="69.2" r="2.2"/><circle cx="615.0" cy="68.8" r="2.2"/><circle cx="615.6" cy="70.9" r="2.2"/><circle cx="616.0" cy="71.0" r="2.2"/><circle cx="616.6" cy="71.5" r="2.2"/><circle cx="617.1" cy="71.2" r="2.2"/><circle cx="617.7" cy="75.7" r="2.2"/><circle cx="618.5" cy="70.1" r="2.2"/><circle cx="619.0" cy="70.8" r="2.2"/><circle cx="619.3" cy="70.4" r="2.2"/><circle cx="619.9" cy="73.0" r="2.2"/><circle cx="620.4" cy="70.4" r="2.2"/><circle cx="621.1" cy="69.8" r="2.2"/><circle cx="621.8" cy="71.4" r="2.2"/><circle cx="622.0" cy="70.8" r="2.2"/><circle cx="622.7" cy="72.3" r="2.2"/><circle cx="623.4" cy="68.7" r="2.2"/><circle cx="623.8" cy="73.2" r="2.2"/><circle cx="624.2" cy="72.4" r="2.2"/><circle cx="625.0" cy="71.4" r="2.2"/><circle cx="625.6" cy="71.1" r="2.2"/><circle cx="625.9" cy="72.7" r="2.2"/><circle cx="626.4" cy="71.7" r="2.2"/><circle cx="627.1" cy="72.8" r="2.2"/><circle cx="627.6" cy="75.0" r="2.2"/><circle cx="628.4" cy="72.4" r="2.2"/><circle cx="629.0" cy="74.0" r="2.2"/><circle cx="629.4" cy="73.3" r="2.2"/><circle cx="629.9" cy="71.4" r="2.2"/><circle cx="630.4" cy="74.5" r="2.2"/><circle cx="630.8" cy="73.6" r="2.2"/><circle cx="631.7" cy="71.0" r="2.2"/><circle cx="632.0" cy="73.1" r="2.2"/><circle cx="632.5" cy="75.5" r="2.2"/><circle cx="633.3" cy="74.1" r="2.2"/><circle cx="633.7" cy="73.9" r="2.2"/><circle cx="634.1" cy="72.1" r="2.2"/><circle cx="634.9" cy="72.8" r="2.2"/><circle cx="635.4" cy="73.5" r="2.2"/><circle cx="635.8" cy="71.8" r="2.2"/><circle cx="636.6" cy="70.3" r="2.2"/><circle cx="637.1" cy="75.5" r="2.2"/><circle cx="637.7" cy="72.0" r="2.2"/><circle cx="638.3" cy="70.5" r="2.2"/><circle cx="638.9" cy="69.0" r="2.2"/><circle cx="639.1" cy="75.7" r="2.2"/><circle cx="639.8" cy="72.9" r="2.2"/><circle cx="640.4" cy="71.9" r="2.2"/><circle cx="641.0" cy="71.5" r="2.2"/><circle cx="641.6" cy="75.0" r="2.2"/><circle cx="641.8" cy="72.8" r="2.2"/><circle cx="642.4" cy="71.3" r="2.2"/><circle cx="642.9" cy="74.0" r="2.2"/><circle cx="643.5" cy="73.5" r="2.2"/><circle cx="644.3" cy="72.5" r="2.2"/><circle cx="644.6" cy="72.5" r="2.2"/><circle cx="645.1" cy="72.5" r="2.2"/><circle cx="645.8" cy="73.6" r="2.2"/><circle cx="646.3" cy="72.9" r="2.2"/><circle cx="647.0" cy="72.0" r="2.2"/><circle cx="647.6" cy="75.3" r="2.2"/><circle cx="648.0" cy="76.0" r="2.2"/><circle cx="648.6" cy="73.6" r="2.2"/><circle cx="649.1" cy="73.9" r="2.2"/><circle cx="649.6" cy="75.5" r="2.2"/><circle cx="650.3" cy="73.0" r="2.2"/><circle cx="651.0" cy="74.6" r="2.2"/><circle cx="651.5" cy="76.1" r="2.2"/><circle cx="652.0" cy="73.8" r="2.2"/><circle cx="652.5" cy="71.2" r="2.2"/><circle cx="652.8" cy="72.5" r="2.2"/><circle cx="653.4" cy="73.3" r="2.2"/><circle cx="654.1" cy="74.5" r="2.2"/><circle cx="654.7" cy="72.0" r="2.2"/><circle cx="655.1" cy="72.4" r="2.2"/><circle cx="655.9" cy="75.4" r="2.2"/><circle cx="656.5" cy="78.1" r="2.2"/><circle cx="656.8" cy="75.9" r="2.2"/><circle cx="657.4" cy="74.7" r="2.2"/><circle cx="657.9" cy="76.8" r="2.2"/><circle cx="658.4" cy="76.8" r="2.2"/><circle cx="659.0" cy="76.8" r="2.2"/><circle cx="659.6" cy="73.3" r="2.2"/><circle cx="660.3" cy="78.3" r="2.2"/><circle cx="660.7" cy="73.2" r="2.2"/><circle cx="661.2" cy="75.0" r="2.2"/><circle cx="661.9" cy="71.9" r="2.2"/><circle cx="662.3" cy="76.1" r="2.2"/><circle cx="662.9" cy="75.4" r="2.2"/><circle cx="663.6" cy="76.8" r="2.2"/><circle cx="664.0" cy="75.4" r="2.2"/><circle cx="664.5" cy="74.0" r="2.2"/><circle cx="665.0" cy="75.9" r="2.2"/><circle cx="665.8" cy="73.8" r="2.2"/><circle cx="666.1" cy="79.4" r="2.2"/><circle cx="666.7" cy="73.6" r="2.2"/><circle cx="667.3" cy="77.3" r="2.2"/><circle cx="667.7" cy="74.6" r="2.2"/><circle cx="668.5" cy="75.3" r="2.2"/><circle cx="668.8" cy="75.6" r="2.2"/><circle cx="669.6" cy="77.8" r="2.2"/><circle cx="670.0" cy="76.7" r="2.2"/><circle cx="670.5" cy="76.9" r="2.2"/><circle cx="671.3" cy="74.6" r="2.2"/><circle cx="671.7" cy="78.2" r="2.2"/><circle cx="558.0" cy="55.5" r="2.2"/><circle cx="571.0" cy="58.0" r="2.2"/><circle cx="593.0" cy="58.8" r="2.2"/><circle cx="603.0" cy="57.5" r="2.2"/><circle cx="605.0" cy="60.0" r="2.2"/><circle cx="602.0" cy="62.0" r="2.2"/><circle cx="563.0" cy="60.0" r="2.2"/><circle cx="590.0" cy="61.0" r="2.2"/><circle cx="546.0" cy="61.0" r="2.2"/></g><g fill="url(#gb)"><circle cx="548.4" cy="73.4" r="2.2"/><circle cx="548.6" cy="67.0" r="2.2"/><circle cx="549.0" cy="66.0" r="2.2"/><circle cx="549.7" cy="64.9" r="2.2"/><circle cx="549.8" cy="71.9" r="2.2"/><circle cx="549.8" cy="68.3" r="2.2"/><circle cx="550.2" cy="70.7" r="2.2"/><circle cx="550.9" cy="66.4" r="2.2"/><circle cx="550.0" cy="64.7" r="2.2"/><circle cx="551.9" cy="62.8" r="2.2"/><circle cx="551.1" cy="64.0" r="2.2"/><circle cx="551.9" cy="67.9" r="2.2"/><circle cx="552.7" cy="72.7" r="2.2"/><circle cx="552.4" cy="73.1" r="2.2"/><circle cx="552.5" cy="70.5" r="2.2"/><circle cx="553.3" cy="63.7" r="2.2"/><circle cx="553.6" cy="67.2" r="2.2"/><circle cx="553.3" cy="75.5" r="2.2"/><circle cx="554.4" cy="65.5" r="2.2"/><circle cx="554.6" cy="71.4" r="2.2"/><circle cx="554.1" cy="68.9" r="2.2"/><circle cx="555.6" cy="68.4" r="2.2"/><circle cx="556.0" cy="75.4" r="2.2"/><circle cx="555.5" cy="77.0" r="2.2"/><circle cx="556.0" cy="68.1" r="2.2"/><circle cx="556.9" cy="72.0" r="2.2"/><circle cx="556.2" cy="72.8" r="2.2"/><circle cx="557.7" cy="73.7" r="2.2"/><circle cx="557.0" cy="66.1" r="2.2"/><circle cx="557.4" cy="65.8" r="2.2"/><circle cx="558.1" cy="74.6" r="2.2"/><circle cx="558.4" cy="67.0" r="2.2"/><circle cx="558.9" cy="70.9" r="2.2"/><circle cx="559.9" cy="74.4" r="2.2"/><circle cx="559.6" cy="71.9" r="2.2"/><circle cx="559.7" cy="69.5" r="2.2"/><circle cx="560.3" cy="78.3" r="2.2"/><circle cx="560.2" cy="71.7" r="2.2"/><circle cx="560.7" cy="71.0" r="2.2"/><circle cx="561.4" cy="79.1" r="2.2"/><circle cx="561.2" cy="70.1" r="2.2"/><circle cx="561.9" cy="70.6" r="2.2"/><circle cx="562.3" cy="79.1" r="2.2"/><circle cx="562.3" cy="80.6" r="2.2"/><circle cx="562.8" cy="78.6" r="2.2"/><circle cx="563.2" cy="70.4" r="2.2"/><circle cx="563.8" cy="78.7" r="2.2"/><circle cx="563.2" cy="70.3" r="2.2"/><circle cx="564.2" cy="69.7" r="2.2"/><circle cx="564.4" cy="74.6" r="2.2"/><circle cx="564.6" cy="68.6" r="2.2"/><circle cx="565.2" cy="69.7" r="2.2"/><circle cx="565.3" cy="70.6" r="2.2"/><circle cx="565.9" cy="73.2" r="2.2"/><circle cx="566.1" cy="77.4" r="2.2"/><circle cx="567.0" cy="79.2" r="2.2"/><circle cx="566.6" cy="73.6" r="2.2"/><circle cx="567.4" cy="72.9" r="2.2"/><circle cx="567.8" cy="79.6" r="2.2"/><circle cx="567.5" cy="80.4" r="2.2"/><circle cx="568.7" cy="78.3" r="2.2"/><circle cx="568.3" cy="72.4" r="2.2"/><circle cx="568.2" cy="81.4" r="2.2"/><circle cx="569.8" cy="81.6" r="2.2"/><circle cx="569.8" cy="80.3" r="2.2"/><circle cx="569.4" cy="79.8" r="2.2"/><circle cx="570.2" cy="78.6" r="2.2"/><circle cx="570.0" cy="82.8" r="2.2"/><circle cx="570.9" cy="72.0" r="2.2"/><circle cx="571.8" cy="81.0" r="2.2"/><circle cx="571.0" cy="77.6" r="2.2"/><circle cx="571.4" cy="78.3" r="2.2"/><circle cx="572.9" cy="79.8" r="2.2"/><circle cx="572.2" cy="77.5" r="2.2"/><circle cx="572.6" cy="70.2" r="2.2"/><circle cx="573.1" cy="75.0" r="2.2"/><circle cx="573.2" cy="73.4" r="2.2"/><circle cx="573.7" cy="83.2" r="2.2"/><circle cx="574.5" cy="79.0" r="2.2"/><circle cx="574.8" cy="79.4" r="2.2"/><circle cx="574.7" cy="70.3" r="2.2"/><circle cx="575.9" cy="72.6" r="2.2"/><circle cx="575.2" cy="77.3" r="2.2"/><circle cx="575.6" cy="80.6" r="2.2"/><circle cx="576.3" cy="83.3" r="2.2"/><circle cx="576.6" cy="82.0" r="2.2"/><circle cx="576.5" cy="71.5" r="2.2"/><circle cx="577.0" cy="79.4" r="2.2"/><circle cx="577.4" cy="76.7" r="2.2"/><circle cx="577.3" cy="73.1" r="2.2"/><circle cx="578.5" cy="74.3" r="2.2"/><circle cx="578.9" cy="73.3" r="2.2"/><circle cx="579.0" cy="82.5" r="2.2"/><circle cx="579.4" cy="81.4" r="2.2"/><circle cx="579.6" cy="77.3" r="2.2"/><circle cx="579.8" cy="82.2" r="2.2"/><circle cx="580.2" cy="83.4" r="2.2"/><circle cx="580.0" cy="71.2" r="2.2"/><circle cx="580.5" cy="75.2" r="2.2"/><circle cx="581.4" cy="77.7" r="2.2"/><circle cx="581.5" cy="83.5" r="2.2"/><circle cx="581.9" cy="75.9" r="2.2"/><circle cx="582.3" cy="80.2" r="2.2"/><circle cx="582.2" cy="76.8" r="2.2"/><circle cx="582.7" cy="71.5" r="2.2"/><circle cx="583.8" cy="81.4" r="2.2"/><circle cx="583.4" cy="74.9" r="2.2"/><circle cx="583.5" cy="75.5" r="2.2"/><circle cx="584.8" cy="79.6" r="2.2"/><circle cx="584.3" cy="82.6" r="2.2"/><circle cx="584.6" cy="73.4" r="2.2"/><circle cx="585.4" cy="78.4" r="2.2"/><circle cx="585.9" cy="76.1" r="2.2"/><circle cx="585.4" cy="85.0" r="2.2"/><circle cx="586.4" cy="83.1" r="2.2"/><circle cx="586.1" cy="77.2" r="2.2"/><circle cx="586.2" cy="83.9" r="2.2"/><circle cx="587.6" cy="75.0" r="2.2"/><circle cx="587.1" cy="77.7" r="2.2"/><circle cx="587.1" cy="78.6" r="2.2"/><circle cx="588.7" cy="76.4" r="2.2"/><circle cx="588.2" cy="77.1" r="2.2"/><circle cx="588.2" cy="83.6" r="2.2"/><circle cx="589.1" cy="82.3" r="2.2"/><circle cx="589.3" cy="82.1" r="2.2"/><circle cx="589.8" cy="74.1" r="2.2"/><circle cx="590.8" cy="85.2" r="2.2"/><circle cx="590.6" cy="81.1" r="2.2"/><circle cx="590.3" cy="74.8" r="2.2"/><circle cx="591.7" cy="83.6" r="2.2"/><circle cx="591.2" cy="74.1" r="2.2"/><circle cx="591.4" cy="81.0" r="2.2"/><circle cx="592.4" cy="85.7" r="2.2"/><circle cx="592.8" cy="85.1" r="2.2"/><circle cx="592.6" cy="82.9" r="2.2"/><circle cx="594.0" cy="73.3" r="2.2"/><circle cx="593.6" cy="75.3" r="2.2"/><circle cx="593.8" cy="76.0" r="2.2"/><circle cx="594.7" cy="77.4" r="2.2"/><circle cx="594.7" cy="82.1" r="2.2"/><circle cx="594.9" cy="84.7" r="2.2"/><circle cx="595.4" cy="82.4" r="2.2"/><circle cx="595.2" cy="74.4" r="2.2"/><circle cx="595.7" cy="85.3" r="2.2"/><circle cx="596.7" cy="80.2" r="2.2"/><circle cx="596.6" cy="83.1" r="2.2"/><circle cx="596.6" cy="78.1" r="2.2"/><circle cx="597.9" cy="78.3" r="2.2"/><circle cx="597.9" cy="84.1" r="2.2"/><circle cx="597.8" cy="84.6" r="2.2"/><circle cx="599.0" cy="86.7" r="2.2"/><circle cx="598.5" cy="78.5" r="2.2"/><circle cx="598.7" cy="86.5" r="2.2"/><circle cx="599.6" cy="73.8" r="2.2"/><circle cx="599.0" cy="79.7" r="2.2"/><circle cx="599.8" cy="85.4" r="2.2"/><circle cx="600.4" cy="80.5" r="2.2"/><circle cx="600.5" cy="74.8" r="2.2"/><circle cx="600.0" cy="80.6" r="2.2"/><circle cx="601.5" cy="85.3" r="2.2"/><circle cx="601.2" cy="85.1" r="2.2"/><circle cx="601.3" cy="80.9" r="2.2"/><circle cx="602.7" cy="75.6" r="2.2"/><circle cx="602.9" cy="86.6" r="2.2"/><circle cx="603.0" cy="73.7" r="2.2"/><circle cx="603.6" cy="82.8" r="2.2"/><circle cx="603.9" cy="76.5" r="2.2"/><circle cx="603.1" cy="84.7" r="2.2"/><circle cx="604.3" cy="74.7" r="2.2"/><circle cx="604.1" cy="82.5" r="2.2"/><circle cx="604.5" cy="83.9" r="2.2"/><circle cx="605.8" cy="73.9" r="2.2"/><circle cx="605.9" cy="85.8" r="2.2"/><circle cx="605.9" cy="84.3" r="2.2"/><circle cx="606.4" cy="77.3" r="2.2"/><circle cx="606.9" cy="79.6" r="2.2"/><circle cx="606.5" cy="83.4" r="2.2"/><circle cx="607.7" cy="83.4" r="2.2"/><circle cx="607.6" cy="80.9" r="2.2"/><circle cx="607.8" cy="79.4" r="2.2"/><circle cx="608.3" cy="86.4" r="2.2"/><circle cx="608.8" cy="83.8" r="2.2"/><circle cx="608.2" cy="74.7" r="2.2"/><circle cx="609.9" cy="86.9" r="2.2"/><circle cx="609.3" cy="82.7" r="2.2"/><circle cx="609.0" cy="79.5" r="2.2"/><circle cx="610.7" cy="79.1" r="2.2"/><circle cx="610.8" cy="86.6" r="2.2"/><circle cx="610.1" cy="83.5" r="2.2"/><circle cx="611.4" cy="76.7" r="2.2"/><circle cx="611.3" cy="80.8" r="2.2"/><circle cx="611.9" cy="84.6" r="2.2"/><circle cx="612.0" cy="75.1" r="2.2"/><circle cx="613.0" cy="81.9" r="2.2"/><circle cx="612.6" cy="79.1" r="2.2"/><circle cx="613.8" cy="82.0" r="2.2"/><circle cx="613.6" cy="77.8" r="2.2"/><circle cx="613.8" cy="77.3" r="2.2"/><circle cx="614.1" cy="82.6" r="2.2"/><circle cx="614.8" cy="78.5" r="2.2"/><circle cx="614.3" cy="76.5" r="2.2"/><circle cx="615.6" cy="85.0" r="2.2"/><circle cx="615.1" cy="81.8" r="2.2"/><circle cx="615.5" cy="76.0" r="2.2"/><circle cx="616.5" cy="78.3" r="2.2"/><circle cx="616.2" cy="88.0" r="2.2"/><circle cx="616.1" cy="79.3" r="2.2"/><circle cx="617.6" cy="80.2" r="2.2"/><circle cx="617.0" cy="86.4" r="2.2"/><circle cx="617.2" cy="80.3" r="2.2"/><circle cx="618.9" cy="87.9" r="2.2"/><circle cx="618.9" cy="80.4" r="2.2"/><circle cx="618.7" cy="86.3" r="2.2"/><circle cx="619.2" cy="88.0" r="2.2"/><circle cx="619.1" cy="83.8" r="2.2"/><circle cx="619.2" cy="77.8" r="2.2"/><circle cx="620.1" cy="87.7" r="2.2"/><circle cx="620.1" cy="87.3" r="2.2"/><circle cx="620.2" cy="79.4" r="2.2"/><circle cx="621.2" cy="88.4" r="2.2"/><circle cx="621.1" cy="86.6" r="2.2"/><circle cx="621.3" cy="87.9" r="2.2"/><circle cx="622.8" cy="78.7" r="2.2"/><circle cx="622.5" cy="77.3" r="2.2"/><circle cx="622.4" cy="75.4" r="2.2"/><circle cx="623.7" cy="83.2" r="2.2"/><circle cx="623.3" cy="75.3" r="2.2"/><circle cx="623.9" cy="76.9" r="2.2"/><circle cx="624.3" cy="75.6" r="2.2"/><circle cx="624.4" cy="80.6" r="2.2"/><circle cx="624.5" cy="79.6" r="2.2"/><circle cx="625.2" cy="85.9" r="2.2"/><circle cx="625.3" cy="79.7" r="2.2"/><circle cx="625.5" cy="78.9" r="2.2"/><circle cx="626.7" cy="76.4" r="2.2"/><circle cx="626.3" cy="81.0" r="2.2"/><circle cx="626.3" cy="86.6" r="2.2"/><circle cx="627.4" cy="81.0" r="2.2"/><circle cx="627.5" cy="86.5" r="2.2"/><circle cx="627.2" cy="86.5" r="2.2"/><circle cx="628.9" cy="78.9" r="2.2"/><circle cx="628.2" cy="86.0" r="2.2"/><circle cx="628.3" cy="78.4" r="2.2"/><circle cx="629.1" cy="83.7" r="2.2"/><circle cx="629.9" cy="87.3" r="2.2"/><circle cx="629.6" cy="81.3" r="2.2"/><circle cx="631.0" cy="84.3" r="2.2"/><circle cx="631.0" cy="84.7" r="2.2"/><circle cx="630.7" cy="84.9" r="2.2"/><circle cx="631.1" cy="78.8" r="2.2"/><circle cx="631.1" cy="88.0" r="2.2"/><circle cx="632.0" cy="83.6" r="2.2"/><circle cx="632.2" cy="77.1" r="2.2"/><circle cx="632.4" cy="80.7" r="2.2"/><circle cx="632.2" cy="76.7" r="2.2"/><circle cx="633.6" cy="86.2" r="2.2"/><circle cx="633.1" cy="79.7" r="2.2"/><circle cx="633.3" cy="82.8" r="2.2"/><circle cx="634.6" cy="81.1" r="2.2"/><circle cx="634.9" cy="80.8" r="2.2"/><circle cx="634.3" cy="85.9" r="2.2"/><circle cx="635.8" cy="87.4" r="2.2"/><circle cx="635.2" cy="78.2" r="2.2"/><circle cx="635.5" cy="88.6" r="2.2"/><circle cx="636.6" cy="84.0" r="2.2"/><circle cx="636.3" cy="88.9" r="2.2"/><circle cx="636.2" cy="83.1" r="2.2"/><circle cx="637.7" cy="86.5" r="2.2"/><circle cx="637.8" cy="80.8" r="2.2"/><circle cx="637.3" cy="88.8" r="2.2"/><circle cx="638.6" cy="79.4" r="2.2"/><circle cx="638.1" cy="86.5" r="2.2"/><circle cx="638.8" cy="83.3" r="2.2"/><circle cx="639.4" cy="84.6" r="2.2"/><circle cx="640.0" cy="83.5" r="2.2"/><circle cx="639.8" cy="87.6" r="2.2"/><circle cx="640.8" cy="82.3" r="2.2"/><circle cx="640.2" cy="85.1" r="2.2"/><circle cx="640.8" cy="88.7" r="2.2"/><circle cx="641.2" cy="77.3" r="2.2"/><circle cx="641.6" cy="86.9" r="2.2"/><circle cx="641.1" cy="84.0" r="2.2"/><circle cx="642.3" cy="89.2" r="2.2"/><circle cx="642.4" cy="76.9" r="2.2"/><circle cx="642.8" cy="79.8" r="2.2"/><circle cx="643.4" cy="77.5" r="2.2"/><circle cx="643.3" cy="77.6" r="2.2"/><circle cx="643.3" cy="83.6" r="2.2"/><circle cx="644.3" cy="84.8" r="2.2"/><circle cx="644.9" cy="83.6" r="2.2"/><circle cx="644.0" cy="88.8" r="2.2"/><circle cx="645.2" cy="80.5" r="2.2"/><circle cx="645.5" cy="84.2" r="2.2"/><circle cx="645.3" cy="81.8" r="2.2"/><circle cx="646.6" cy="82.0" r="2.2"/><circle cx="646.3" cy="81.4" r="2.2"/><circle cx="646.4" cy="79.8" r="2.2"/><circle cx="647.6" cy="82.8" r="2.2"/><circle cx="647.4" cy="85.5" r="2.2"/><circle cx="647.8" cy="84.7" r="2.2"/><circle cx="648.3" cy="88.6" r="2.2"/><circle cx="648.1" cy="86.8" r="2.2"/><circle cx="648.4" cy="81.3" r="2.2"/><circle cx="649.8" cy="84.8" r="2.2"/><circle cx="650.0" cy="87.8" r="2.2"/><circle cx="649.1" cy="82.8" r="2.2"/><circle cx="650.8" cy="77.1" r="2.2"/><circle cx="650.5" cy="89.4" r="2.2"/><circle cx="650.2" cy="77.6" r="2.2"/><circle cx="651.3" cy="80.7" r="2.2"/><circle cx="651.3" cy="81.9" r="2.2"/><circle cx="651.8" cy="83.0" r="2.2"/><circle cx="652.6" cy="77.6" r="2.2"/><circle cx="652.1" cy="88.9" r="2.2"/><circle cx="652.3" cy="88.9" r="2.2"/><circle cx="653.3" cy="84.8" r="2.2"/><circle cx="653.7" cy="77.4" r="2.2"/><circle cx="653.1" cy="82.1" r="2.2"/><circle cx="654.1" cy="80.2" r="2.2"/><circle cx="654.2" cy="80.4" r="2.2"/><circle cx="654.5" cy="80.4" r="2.2"/><circle cx="655.3" cy="82.8" r="2.2"/><circle cx="655.7" cy="76.8" r="2.2"/><circle cx="656.0" cy="82.1" r="2.2"/><circle cx="656.9" cy="76.4" r="2.2"/><circle cx="656.1" cy="77.7" r="2.2"/><circle cx="656.9" cy="81.9" r="2.2"/><circle cx="657.8" cy="85.8" r="2.2"/><circle cx="657.1" cy="81.3" r="2.2"/><circle cx="657.3" cy="82.5" r="2.2"/><circle cx="658.8" cy="77.6" r="2.2"/><circle cx="658.9" cy="82.9" r="2.2"/><circle cx="658.4" cy="85.9" r="2.2"/><circle cx="659.3" cy="86.1" r="2.2"/><circle cx="659.4" cy="83.0" r="2.2"/><circle cx="659.2" cy="79.2" r="2.2"/><circle cx="660.9" cy="84.3" r="2.2"/><circle cx="660.4" cy="87.0" r="2.2"/><circle cx="660.9" cy="78.7" r="2.2"/><circle cx="662.0" cy="76.8" r="2.2"/><circle cx="661.6" cy="80.2" r="2.2"/><circle cx="661.3" cy="83.3" r="2.2"/><circle cx="662.6" cy="82.6" r="2.2"/><circle cx="662.7" cy="89.5" r="2.2"/><circle cx="662.2" cy="79.9" r="2.2"/><circle cx="663.6" cy="82.3" r="2.2"/><circle cx="663.3" cy="83.5" r="2.2"/><circle cx="663.7" cy="89.0" r="2.2"/><circle cx="664.9" cy="87.8" r="2.2"/><circle cx="664.3" cy="88.7" r="2.2"/><circle cx="664.7" cy="79.1" r="2.2"/><circle cx="666.0" cy="80.2" r="2.2"/><circle cx="665.7" cy="86.2" r="2.2"/><circle cx="665.9" cy="85.8" r="2.2"/><circle cx="667.0" cy="77.7" r="2.2"/><circle cx="666.0" cy="79.5" r="2.2"/><circle cx="666.6" cy="82.6" r="2.2"/><circle cx="667.1" cy="79.7" r="2.2"/><circle cx="667.6" cy="82.4" r="2.2"/><circle cx="667.8" cy="83.3" r="2.2"/><circle cx="668.9" cy="87.2" r="2.2"/><circle cx="668.5" cy="81.8" r="2.2"/><circle cx="668.2" cy="80.9" r="2.2"/><circle cx="669.4" cy="81.9" r="2.2"/><circle cx="669.2" cy="83.4" r="2.2"/><circle cx="669.1" cy="88.8" r="2.2"/><circle cx="670.6" cy="78.4" r="2.2"/><circle cx="670.3" cy="80.6" r="2.2"/><circle cx="670.2" cy="83.6" r="2.2"/><circle cx="671.2" cy="79.2" r="2.2"/><circle cx="671.7" cy="83.0" r="2.2"/><circle cx="671.7" cy="83.5" r="2.2"/><circle cx="579.0" cy="89.5" r="2.2"/><circle cx="642.0" cy="90.5" r="2.2"/><circle cx="651.0" cy="89.0" r="2.2"/><circle cx="557.0" cy="86.0" r="2.2"/><circle cx="611.0" cy="72.0" r="2.2"/><circle cx="601.6" cy="70.7" r="2.2"/><circle cx="591.4" cy="68.2" r="2.2"/><circle cx="579.8" cy="69.1" r="2.2"/><circle cx="591.7" cy="68.4" r="2.2"/><circle cx="652.6" cy="72.8" r="2.2"/><circle cx="593.6" cy="69.2" r="2.2"/><circle cx="650.0" cy="74.0" r="2.2"/><circle cx="630.8" cy="71.6" r="2.2"/><circle cx="597.2" cy="71.7" r="2.2"/><circle cx="623.5" cy="73.3" r="2.2"/><circle cx="594.5" cy="69.8" r="2.2"/><circle cx="666.5" cy="75.3" r="2.2"/><circle cx="558.9" cy="62.9" r="2.2"/><circle cx="664.1" cy="75.6" r="2.2"/><circle cx="627.7" cy="74.2" r="2.2"/><circle cx="616.7" cy="73.2" r="2.2"/><circle cx="629.8" cy="72.9" r="2.2"/><circle cx="629.2" cy="73.3" r="2.2"/><circle cx="559.1" cy="64.3" r="2.2"/><circle cx="583.1" cy="69.8" r="2.2"/><circle cx="574.0" cy="67.1" r="2.2"/><circle cx="603.0" cy="89.4" r="2.2"/><circle cx="610.2" cy="89.3" r="2.2"/><circle cx="635.9" cy="91.3" r="2.2"/><circle cx="620.7" cy="89.0" r="2.2"/><circle cx="605.6" cy="88.0" r="2.2"/><circle cx="623.2" cy="89.3" r="2.2"/><circle cx="615.3" cy="88.9" r="2.2"/><circle cx="653.5" cy="90.3" r="2.2"/><circle cx="629.8" cy="90.8" r="2.2"/><circle cx="583.3" cy="86.7" r="2.2"/></g></g><path d="M29.0 5.2H154.2V97.0H29.0Z" fill="none" stroke="#000" stroke-width="2.2"/><path d="M203.0 5.1H328.2V97.3H203.0Z" fill="none" stroke="#000" stroke-width="2.2"/><path d="M375.4 5.1H501.0V97.0H375.4Z" fill="none" stroke="#000" stroke-width="2.2"/><path d="M547.3 5.2H672.8V97.1H547.3Z" fill="none" stroke="#000" stroke-width="2.2"/><path d="M29 97h3.6M29 80.3h3.6M29 63.6h3.6M29 46.9h3.6M29 30.2h3.6M29 13.5h3.6M29 88.7h2.6M29 71.9h2.6M29 55.2h2.6M29 38.6h2.6M29 21.8h2.6" stroke="#000" stroke-width="1.6" fill="none"/><path d="M29.8 97v-3.6M57.5 97v-3.6M85.2 97v-3.6M112.9 97v-3.6M140.6 97v-3.6M43.7 97v-2.6M71.4 97v-2.6M99 97v-2.6M126.8 97v-2.6" stroke="#000" stroke-width="1.6" fill="none"/><text x="26" y="99.9" font-family="Liberation Serif" font-size="8.7" font-weight="bold" text-anchor="end" fill="#000" >0.0</text><text x="26" y="83.2" font-family="Liberation Serif" font-size="8.7" font-weight="bold" text-anchor="end" fill="#000" >0.2</text><text x="26" y="66.5" font-family="Liberation Serif" font-size="8.7" font-weight="bold" text-anchor="end" fill="#000" >0.4</text><text x="26" y="49.8" font-family="Liberation Serif" font-size="8.7" font-weight="bold" text-anchor="end" fill="#000" >0.6</text><text x="26" y="33.1" font-family="Liberation Serif" font-size="8.7" font-weight="bold" text-anchor="end" fill="#000" >0.8</text><text x="26" y="16.4" font-family="Liberation Serif" font-size="8.7" font-weight="bold" text-anchor="end" fill="#000" >1.0</text><text x="29.8" y="106.8" font-family="Liberation Serif" font-size="8.8" font-weight="bold" text-anchor="middle" fill="#000" >0</text><text x="57.5" y="106.8" font-family="Liberation Serif" font-size="8.8" font-weight="bold" text-anchor="middle" fill="#000" >100</text><text x="85.2" y="106.8" font-family="Liberation Serif" font-size="8.8" font-weight="bold" text-anchor="middle" fill="#000" >200</text><text x="112.9" y="106.8" font-family="Liberation Serif" font-size="8.8" font-weight="bold" text-anchor="middle" fill="#000" >300</text><text x="140.6" y="106.8" font-family="Liberation Serif" font-size="8.8" font-weight="bold" text-anchor="middle" fill="#000" >400</text><path d="M203 97h3.6M203 80.3h3.6M203 63.6h3.6M203 47h3.6M203 30.3h3.6M203 13.6h3.6M203 88.7h2.6M203 72h2.6M203 55.3h2.6M203 38.6h2.6M203 21.9h2.6" stroke="#000" stroke-width="1.6" fill="none"/><path d="M206.7 97.3v-3.6M230.8 97.3v-3.6M254.9 97.3v-3.6M279.1 97.3v-3.6M303.2 97.3v-3.6M327.3 97.3v-3.6M218.8 97.3v-2.6M242.9 97.3v-2.6M267 97.3v-2.6M291.1 97.3v-2.6M315.2 97.3v-2.6" stroke="#000" stroke-width="1.6" fill="none"/><text x="200.5" y="99.9" font-family="Liberation Serif" font-size="8.7" font-weight="bold" text-anchor="end" fill="#000" >0.0</text><text x="200.5" y="83.2" font-family="Liberation Serif" font-size="8.7" font-weight="bold" text-anchor="end" fill="#000" >0.2</text><text x="200.5" y="66.5" font-family="Liberation Serif" font-size="8.7" font-weight="bold" text-anchor="end" fill="#000" >0.4</text><text x="200.5" y="49.9" font-family="Liberation Serif" font-size="8.7" font-weight="bold" text-anchor="end" fill="#000" >0.6</text><text x="200.5" y="33.2" font-family="Liberation Serif" font-size="8.7" font-weight="bold" text-anchor="end" fill="#000" >0.8</text><text x="200.5" y="16.5" font-family="Liberation Serif" font-size="8.7" font-weight="bold" text-anchor="end" fill="#000" >1.0</text><text x="206.7" y="107" font-family="Liberation Serif" font-size="8.8" font-weight="bold" text-anchor="middle" fill="#000" >0</text><text x="230.8" y="107" font-family="Liberation Serif" font-size="8.8" font-weight="bold" text-anchor="middle" fill="#000" >300</text><text x="254.9" y="107" font-family="Liberation Serif" font-size="8.8" font-weight="bold" text-anchor="middle" fill="#000" >600</text><text x="279.1" y="107" font-family="Liberation Serif" font-size="8.8" font-weight="bold" text-anchor="middle" fill="#000" >900</text><text x="303.2" y="107" font-family="Liberation Serif" font-size="8.8" font-weight="bold" text-anchor="middle" fill="#000" >1200</text><text x="327.3" y="107" font-family="Liberation Serif" font-size="8.8" font-weight="bold" text-anchor="middle" fill="#000" >1500</text><path d="M375.4 93h3.6M375.4 77h3.6M375.4 60.9h3.6M375.4 44.9h3.6M375.4 28.8h3.6M375.4 12.8h3.6M375.4 85h2.6M375.4 68.9h2.6M375.4 52.9h2.6M375.4 36.9h2.6M375.4 20.8h2.6" stroke="#000" stroke-width="1.6" fill="none"/><path d="M375.8 97v-3.6M396.3 97v-3.6M416.9 97v-3.6M437.4 97v-3.6M457.9 97v-3.6M478.5 97v-3.6M499 97v-3.6M386.1 97v-2.6M406.6 97v-2.6M427.1 97v-2.6M447.7 97v-2.6M468.2 97v-2.6M488.7 97v-2.6" stroke="#000" stroke-width="1.6" fill="none"/><text x="373" y="95.9" font-family="Liberation Serif" font-size="8.7" font-weight="bold" text-anchor="end" fill="#000" >0.0</text><text x="373" y="79.9" font-family="Liberation Serif" font-size="8.7" font-weight="bold" text-anchor="end" fill="#000" >0.2</text><text x="373" y="63.8" font-family="Liberation Serif" font-size="8.7" font-weight="bold" text-anchor="end" fill="#000" >0.4</text><text x="373" y="47.8" font-family="Liberation Serif" font-size="8.7" font-weight="bold" text-anchor="end" fill="#000" >0.6</text><text x="373" y="31.7" font-family="Liberation Serif" font-size="8.7" font-weight="bold" text-anchor="end" fill="#000" >0.8</text><text x="373" y="15.7" font-family="Liberation Serif" font-size="8.7" font-weight="bold" text-anchor="end" fill="#000" >1.0</text><text x="375.8" y="106.8" font-family="Liberation Serif" font-size="8.8" font-weight="bold" text-anchor="middle" fill="#000" >0</text><text x="396.3" y="106.8" font-family="Liberation Serif" font-size="8.8" font-weight="bold" text-anchor="middle" fill="#000" >100</text><text x="416.9" y="106.8" font-family="Liberation Serif" font-size="8.8" font-weight="bold" text-anchor="middle" fill="#000" >200</text><text x="437.4" y="106.8" font-family="Liberation Serif" font-size="8.8" font-weight="bold" text-anchor="middle" fill="#000" >300</text><text x="457.9" y="106.8" font-family="Liberation Serif" font-size="8.8" font-weight="bold" text-anchor="middle" fill="#000" >400</text><text x="478.5" y="106.8" font-family="Liberation Serif" font-size="8.8" font-weight="bold" text-anchor="middle" fill="#000" >500</text><text x="499" y="106.8" font-family="Liberation Serif" font-size="8.8" font-weight="bold" text-anchor="middle" fill="#000" >600</text><path d="M547.3 91.6h3.6M547.3 70.2h3.6M547.3 48.8h3.6M547.3 27.4h3.6M547.3 6h3.6M547.3 80.9h2.6M547.3 59.5h2.6M547.3 38.1h2.6M547.3 16.7h2.6" stroke="#000" stroke-width="1.6" fill="none"/><path d="M563.1 97.1v-3.6M584.9 97.1v-3.6M606.8 97.1v-3.6M628.6 97.1v-3.6M650.5 97.1v-3.6M672.3 97.1v-3.6M552.1 97.1v-2.6M574 97.1v-2.6M595.8 97.1v-2.6M617.7 97.1v-2.6M639.5 97.1v-2.6M661.4 97.1v-2.6" stroke="#000" stroke-width="1.6" fill="none"/><text x="545.2" y="94.5" font-family="Liberation Serif" font-size="8.7" font-weight="bold" text-anchor="end" fill="#000" >0.0</text><text x="545.2" y="73.1" font-family="Liberation Serif" font-size="8.7" font-weight="bold" text-anchor="end" fill="#000" >0.2</text><text x="545.2" y="51.7" font-family="Liberation Serif" font-size="8.7" font-weight="bold" text-anchor="end" fill="#000" >0.4</text><text x="545.2" y="30.3" font-family="Liberation Serif" font-size="8.7" font-weight="bold" text-anchor="end" fill="#000" >0.6</text><text x="545.2" y="8.9" font-family="Liberation Serif" font-size="8.7" font-weight="bold" text-anchor="end" fill="#000" >0.8</text><text x="584.9" y="106.8" font-family="Liberation Serif" font-size="8.8" font-weight="bold" text-anchor="middle" fill="#000" >200</text><text x="628.6" y="106.8" font-family="Liberation Serif" font-size="8.8" font-weight="bold" text-anchor="middle" fill="#000" >400</text><text x="672.3" y="106.8" font-family="Liberation Serif" font-size="8.8" font-weight="bold" text-anchor="middle" fill="#000" >600</text><text x="88" y="120" font-family="Liberation Serif" font-size="8.75" font-weight="bold" text-anchor="middle" fill="#000" >Sputtering time (s)</text><text x="265.5" y="120" font-family="Liberation Serif" font-size="8.75" font-weight="bold" text-anchor="middle" fill="#000" >Sputtering time (s)</text><text x="438.8" y="120" font-family="Liberation Serif" font-size="8.75" font-weight="bold" text-anchor="middle" fill="#000" >Sputtering time (s)</text><text x="615" y="120" font-family="Liberation Serif" font-size="8.75" font-weight="bold" text-anchor="middle" fill="#000" >Sputtering time (s)</text><text transform="translate(6 62.3) rotate(-90)" x="0" y="0" font-family="Liberation Sans" font-size="7.4" font-weight="bold" text-anchor="middle" dominant-baseline="central">Normalized intensity</text><text transform="translate(177.5 62.4) rotate(-90)" x="0" y="0" font-family="Liberation Sans" font-size="7.4" font-weight="bold" text-anchor="middle" dominant-baseline="central">Normalized intensity</text><text transform="translate(349.9 59.8) rotate(-90)" x="0" y="0" font-family="Liberation Sans" font-size="7.4" font-weight="bold" text-anchor="middle" dominant-baseline="central">Normalized intensity</text><text transform="translate(523.2 59.8) rotate(-90)" x="0" y="0" font-family="Liberation Sans" font-size="7.4" font-weight="bold" text-anchor="middle" dominant-baseline="central">Normalized intensity</text><circle cx="63.9" cy="34.2" r="2.5" fill="url(#go)"/><circle cx="63.9" cy="47.6" r="2.5" fill="url(#gb)"/><text x="70.6" y="37.9" font-family="Liberation Sans" font-size="8.9" font-weight="bold" textLength="65.2" lengthAdjust="spacingAndGlyphs">Undoped SNCM</text><text x="70.6" y="51.5" font-family="Liberation Sans" font-size="8.9" font-weight="bold" textLength="50.6" lengthAdjust="spacingAndGlyphs">AZ0.3-SNCM</text><circle cx="236" cy="35.3" r="2.5" fill="url(#go)"/><circle cx="236" cy="48.8" r="2.5" fill="url(#gb)"/><text x="242.6" y="38.6" font-family="Liberation Sans" font-size="8.9" font-weight="bold" textLength="65.2" lengthAdjust="spacingAndGlyphs">Undoped SNCM</text><text x="242.6" y="52.3" font-family="Liberation Sans" font-size="8.9" font-weight="bold" textLength="50.6" lengthAdjust="spacingAndGlyphs">AZ0.3-SNCM</text><circle cx="408.4" cy="33.6" r="2.5" fill="url(#go)"/><circle cx="408.4" cy="47.1" r="2.5" fill="url(#gb)"/><text x="415.2" y="37.8" font-family="Liberation Sans" font-size="8.9" font-weight="bold" textLength="65.2" lengthAdjust="spacingAndGlyphs">Undoped SNCM</text><text x="415.2" y="50.6" font-family="Liberation Sans" font-size="8.9" font-weight="bold" textLength="50.6" lengthAdjust="spacingAndGlyphs">AZ0.3-SNCM</text><circle cx="578.8" cy="31.1" r="2.5" fill="url(#go)"/><circle cx="578.8" cy="44.8" r="2.5" fill="url(#gb)"/><text x="585.5" y="35.4" font-family="Liberation Sans" font-size="8.9" font-weight="bold" textLength="65.2" lengthAdjust="spacingAndGlyphs">Undoped SNCM</text><text x="585.4" y="48.3" font-family="Liberation Sans" font-size="8.9" font-weight="bold" textLength="50.6" lengthAdjust="spacingAndGlyphs">AZ0.3-SNCM</text><g transform="translate(127.50 0) scale(0.817 1) translate(-127.50 0)"><text x="127.03" y="19.30" font-family="Liberation Sans" font-size="10.40" font-weight="bold" fill="#000">C</text><text x="134.75" y="23.67" font-family="Liberation Sans" font-size="6.45" font-weight="bold" fill="#000">2</text><text x="138.34" y="19.30" font-family="Liberation Sans" font-size="10.40" font-weight="bold" fill="#000">F</text><text x="145.31" y="13.06" font-family="Liberation Sans" font-size="6.45" font-weight="bold" fill="#000">-</text></g><g transform="translate(301.80 0) scale(0.913 1) translate(-301.80 0)"><text x="301.34" y="19.60" font-family="Liberation Sans" font-size="10.19" font-weight="bold" fill="#000">PO</text><text x="316.27" y="23.88" font-family="Liberation Sans" font-size="6.32" font-weight="bold" fill="#000">3</text><text x="316.68" y="13.49" font-family="Liberation Sans" font-size="6.32" font-weight="bold" fill="#000">-</text></g><g transform="translate(473.30 0) scale(0.894 1) translate(-473.30 0)"><text x="472.86" y="19.10" font-family="Liberation Sans" font-size="9.72" font-weight="bold" fill="#000">NiF</text><text x="488.71" y="23.18" font-family="Liberation Sans" font-size="6.03" font-weight="bold" fill="#000">3</text><text x="489.10" y="13.27" font-family="Liberation Sans" font-size="6.03" font-weight="bold" fill="#000">-</text></g><g transform="translate(645.30 0) scale(0.962 1) translate(-645.30 0)"><text x="644.87" y="18.00" font-family="Liberation Sans" font-size="9.57" font-weight="bold" fill="#000">MnF</text><text x="664.72" y="22.02" font-family="Liberation Sans" font-size="5.93" font-weight="bold" fill="#000">3</text><text x="665.11" y="12.26" font-family="Liberation Sans" font-size="5.93" font-weight="bold" fill="#000">-</text></g><text x="1.7" y="12.6" font-family="Liberation Sans" font-size="18" font-weight="bold" text-anchor="start" fill="#000" >a</text><text x="174.7" y="12.6" font-family="Liberation Sans" font-size="18" font-weight="bold" text-anchor="start" fill="#000" >b</text><text x="346.8" y="12.6" font-family="Liberation Sans" font-size="18" font-weight="bold" text-anchor="start" fill="#000" >c</text><text x="519.5" y="12.6" font-family="Liberation Sans" font-size="18" font-weight="bold" text-anchor="start" fill="#000" >d</text><text x="2.3" y="145.5" font-family="Liberation Sans" font-size="18" font-weight="bold" text-anchor="start" fill="#000" >e</text><text x="351.3" y="146" font-family="Liberation Sans" font-size="17.5" font-weight="bold" text-anchor="start" fill="#000" >f</text><text x="164.9" y="144.4" font-family="Liberation Sans" font-size="11.7" font-weight="bold" text-anchor="middle" fill="#000" >Undoped SNCM</text><text x="166.6" y="266.9" font-family="Liberation Sans" font-size="11.7" font-weight="bold" text-anchor="middle" fill="#1A1AC8" >AZ0.3-SNCM</text><g transform="translate(34.40 0) scale(0.81 1) translate(-34.40 0)"><text x="33.96" y="164.80" font-family="Liberation Sans" font-size="9.87" font-weight="bold" fill="#000">C</text><text x="41.28" y="168.95" font-family="Liberation Sans" font-size="6.12" font-weight="bold" fill="#000">2</text><text x="44.68" y="164.80" font-family="Liberation Sans" font-size="9.87" font-weight="bold" fill="#000">F</text><text x="51.30" y="158.88" font-family="Liberation Sans" font-size="6.12" font-weight="bold" fill="#000">-</text></g><g transform="translate(121.40 0) scale(0.914 1) translate(-121.40 0)"><text x="120.94" y="164.80" font-family="Liberation Sans" font-size="10.29" font-weight="bold" fill="#000">PO</text><text x="136.01" y="169.12" font-family="Liberation Sans" font-size="6.38" font-weight="bold" fill="#000">3</text><text x="136.42" y="158.63" font-family="Liberation Sans" font-size="6.38" font-weight="bold" fill="#000">-</text></g><g transform="translate(207.00 0) scale(0.886 1) translate(-207.00 0)"><text x="206.57" y="163.60" font-family="Liberation Sans" font-size="9.66" font-weight="bold" fill="#000">NiF</text><text x="222.32" y="167.66" font-family="Liberation Sans" font-size="5.99" font-weight="bold" fill="#000">3</text><text x="222.71" y="157.80" font-family="Liberation Sans" font-size="5.99" font-weight="bold" fill="#000">-</text></g><g transform="translate(282.10 0) scale(0.933 1) translate(-282.10 0)"><text x="281.67" y="163.60" font-family="Liberation Sans" font-size="9.66" font-weight="bold" fill="#000">MnF</text><text x="301.71" y="167.66" font-family="Liberation Sans" font-size="5.99" font-weight="bold" fill="#000">3</text><text x="302.09" y="157.80" font-family="Liberation Sans" font-size="5.99" font-weight="bold" fill="#000">-</text></g><path d="M40.8 171.3L79.8 187.8L77.8 228.8L40.8 248.8L3.8 228.8L1.8 187.8Z" fill="#FF8080"/><path transform="scale(0.5)" d="M115 475h1.2M121 434h1.2M126 430h1.2M127 462h1.2M142 457h1.2M102 483h1.2M112 471h1.2M35 462h1.2M137 458h1.2M66 466h1.2M15 450h1.2M153 400h1.2M71 445h1.2M12 455h1.2M11 456h1.2M157 417h1.2M16 393h1.2M159 380h1.2M22 377h1.2M23 449h1.2M151 384h1.2M147 461h1.2M24 448h1.2M151 418h1.2M75 455h1.2M156 408h1.2M133 425h1.2M119 457h1.2M39 467h1.2M117 464h1.2M113 477h1.2M38 416h1.2M113 480h1.2M23 439h1.2M124 426h1.2M153 434h1.2M101 487h1.2M17 460h1.2M156 409h1.2M29 428h1.2M134 458h1.2M149 460h1.2M64 486h1.2M151 438h1.2M84 488h1.2M6 406h1.2M27 461h1.2M127 463h1.2M128 461h1.2M54 483h1.2M150 379h1.2M55 472h1.2M143 416h1.2M133 454h1.2M11 373h1.2M129 436h1.2M23 416h1.2M86 491h1.2M13 419h1.2M9 421h1.2M107 476h1.2M13 385h1.2M85 494h1.2M54 479h1.2M156 388h1.2M109 453h1.2M66 465h1.2M135 455h1.2M136 369h1.2M43 471h1.2M72 489h1.2M12 456h1.2M114 480h1.2M17 447h1.2M63 471h1.2M146 460h1.2M130 374h1.2M9 420h1.2M140 453h1.2M137 439h1.2M11 414h1.2M66 450h1.2M157 400h1.2M152 449h1.2M91 489h1.2M48 465h1.2M94 476h1.2M145 423h1.2M14 445h1.2M54 449h1.2M61 448h1.2M28 454h1.2M119 462h1.2M40 426h1.2M67 462h1.2M27 446h1.2M43 472h1.2M158 385h1.2M155 457h1.2M13 382h1.2M158 408h1.2M22 431h1.2M149 387h1.2M147 440h1.2M109 461h1.2M6 385h1.2M144 461h1.2M129 462h1.2M112 479h1.2M124 459h1.2M96 475h1.2M66 470h1.2M93 486h1.2M156 417h1.2M110 476h1.2M22 459h1.2M41 437h1.2M65 472h1.2M51 404h1.2M16 459h1.2M51 453h1.2M103 486h1.2M150 454h1.2M115 463h1.2M64 471h1.2M148 443h1.2M106 471h1.2M149 424h1.2M10 426h1.2M10 444h1.2M58 481h1.2M92 491h1.2M153 381h1.2M116 454h1.2M146 456h1.2M152 448h1.2M41 474h1.2M150 431h1.2M153 422h1.2M129 363h1.2M59 483h1.2M77 487h1.2M49 448h1.2M8 376h1.2M17 457h1.2M155 430h1.2M135 396h1.2M66 484h1.2M155 397h1.2M35 463h1.2M11 439h1.2M103 477h1.2M147 456h1.2M107 470h1.2M62 419h1.2M154 425h1.2M105 453h1.2M156 393h1.2M57 476h1.2M23 429h1.2M58 442h1.2M146 450h1.2M14 401h1.2M153 453h1.2M72 478h1.2M148 430h1.2M35 451h1.2M151 458h1.2M145 415h1.2M41 453h1.2M40 443h1.2M112 475h1.2M124 455h1.2M157 424h1.2M123 431h1.2M116 471h1.2M154 404h1.2M121 470h1.2M13 391h1.2M30 443h1.2M15 425h1.2M111 467h1.2M132 453h1.2M157 401h1.2M149 452h1.2M151 459h1.2M62 447h1.2M83 481h1.2M92 476h1.2M91 489h1.2M103 480h1.2M47 476h1.2M49 450h1.2M153 446h1.2M66 354h1.2M54 473h1.2M157 389h1.2M155 379h1.2M77 450h1.2M47 455h1.2M44 454h1.2M150 437h1.2M16 443h1.2M157 413h1.2M127 470h1.2M81 484h1.2M12 460h1.2M153 405h1.2M73 447h1.2M69 426h1.2M129 460h1.2M20 464h1.2M34 464h1.2M139 432h1.2M95 437h1.2M126 467h1.2M91 490h1.2M64 442h1.2M21 451h1.2M156 404h1.2M87 493h1.2M58 482h1.2M31 417h1.2M151 444h1.2M36 461h1.2M93 491h1.2M79 461h1.2M82 487h1.2M145 425h1.2M153 457h1.2M118 477h1.2M17 397h1.2M12 381h1.2M51 430h1.2M9 443h1.2M5 384h1.2M155 403h1.2M7 395h1.2M21 454h1.2M101 416h1.2M50 475h1.2M78 476h1.2M26 449h1.2M156 415h1.2M19 457h1.2M57 416h1.2M31 433h1.2M92 490h1.2M154 385h1.2M150 460h1.2M149 444h1.2M156 404h1.2M110 481h1.2M12 387h1.2M150 375h1.2M53 481h1.2M143 439h1.2M34 471h1.2M12 420h1.2M145 416h1.2M10 443h1.2M80 494h1.2M65 486h1.2M9 382h1.2M53 457h1.2M133 469h1.2M10 381h1.2M94 488h1.2M148 452h1.2M74 482h1.2M156 402h1.2M11 375h1.2M17 460h1.2M152 401h1.2M87 485h1.2M13 447h1.2M81 482h1.2M17 462h1.2M85 487h1.2M54 442h1.2M82 496h1.2M65 486h1.2M37 456h1.2M25 459h1.2M153 400h1.2M89 490h1.2M154 384h1.2M15 433h1.2M9 432h1.2M35 453h1.2M97 485h1.2M136 431h1.2M8 446h1.2M152 458h1.2M19 440h1.2M116 467h1.2M73 491h1.2M63 483h1.2M92 487h1.2M66 481h1.2M86 476h1.2M82 490h1.2M83 494h1.2M122 468h1.2M14 372h1.2M76 470h1.2M35 461h1.2M117 465h1.2M154 450h1.2M145 399h1.2M155 455h1.2M109 471h1.2M34 457h1.2M55 481h1.2M75 465h1.2M124 453h1.2M144 456h1.2M82 497h1.2M71 436h1.2M9 438h1.2M6 421h1.2M118 452h1.2M153 446h1.2M151 385h1.2M49 445h1.2M10 446h1.2M113 472h1.2M41 421h1.2M140 463h1.2M150 449h1.2M157 400h1.2M158 393h1.2M137 467h1.2M159 377h1.2M10 380h1.2M67 482h1.2M153 442h1.2M64 474h1.2M141 458h1.2M119 470h1.2M155 438h1.2M9 382h1.2M125 470h1.2M41 431h1.2M6 416h1.2M97 485h1.2M6 411h1.2M38 473h1.2M126 470h1.2M137 453h1.2M105 476h1.2M51 469h1.2M73 465h1.2M113 464h1.2M149 444h1.2M151 381h1.2M92 480h1.2M7 395h1.2M146 447h1.2M131 470h1.2M92 434h1.2M103 472h1.2M146 373h1.2M54 462h1.2M153 402h1.2M52 476h1.2M8 443h1.2M141 465h1.2M83 458h1.2M23 452h1.2M157 398h1.2M22 372h1.2M16 386h1.2M94 489h1.2M146 452h1.2M145 399h1.2M109 474h1.2M58 428h1.2M59 482h1.2M77 478h1.2M148 459h1.2M93 483h1.2M84 467h1.2M150 411h1.2M6 383h1.2M7 424h1.2M147 416h1.2M46 478h1.2M141 438h1.2M98 466h1.2M150 458h1.2M29 467h1.2M9 425h1.2M57 411h1.2M96 485h1.2M39 409h1.2M151 456h1.2M122 457h1.2M118 463h1.2M72 487h1.2M108 480h1.2M42 436h1.2M10 405h1.2M30 459h1.2M19 400h1.2M10 377h1.2M139 426h1.2M150 434h1.2M132 460h1.2M153 432h1.2M40 468h1.2M32 458h1.2M101 474h1.2M24 418h1.2M159 379h1.2M147 404h1.2M21 383h1.2M29 453h1.2M21 392h1.2M93 477h1.2M142 455h1.2M115 472h1.2M125 432h1.2M153 398h1.2M85 485h1.2M125 447h1.2M56 470h1.2M153 410h1.2M118 466h1.2M158 414h1.2M60 483h1.2M152 452h1.2M147 433h1.2M111 444h1.2M11 390h1.2M103 479h1.2M8 451h1.2M150 454h1.2M24 367h1.2M127 432h1.2M65 476h1.2M106 460h1.2M152 422h1.2M47 456h1.2M52 470h1.2M156 409h1.2M121 471h1.2M156 422h1.2M132 465h1.2M63 432h1.2M30 417h1.2M93 485h1.2M150 454h1.2M15 461h1.2M82 493h1.2M38 424h1.2M141 447h1.2M9 436h1.2M13 418h1.2M137 458h1.2M17 451h1.2M118 472h1.2M56 469h1.2M111 440h1.2M38 449h1.2M65 472h1.2M60 474h1.2M128 449h1.2M85 496h1.2M118 459h1.2M88 470h1.2M99 472h1.2M64 466h1.2M140 460h1.2M107 473h1.2M54 454h1.2M74 482h1.2M152 399h1.2M86 347h1.2M139 453h1.2M140 450h1.2M152 448h1.2M105 470h1.2M7 445h1.2M143 403h1.2M87 481h1.2M40 426h1.2M121 464h1.2M49 476h1.2M71 488h1.2M54 474h1.2M151 394h1.2M71 491h1.2M81 466h1.2M88 426h1.2M16 460h1.2M28 463h1.2M105 478h1.2M14 431h1.2M159 388h1.2M112 480h1.2M9 454h1.2M131 464h1.2M134 414h1.2M101 485h1.2M61 444h1.2M153 404h1.2M49 437h1.2M147 431h1.2M7 409h1.2M14 401h1.2M136 435h1.2M88 453h1.2M150 410h1.2M17 461h1.2M45 359h1.2M111 478h1.2M112 439h1.2M107 459h1.2M8 431h1.2M148 461h1.2M42 452h1.2M35 461h1.2M148 451h1.2M157 384h1.2M144 460h1.2M153 458h1.2M18 461h1.2M48 474h1.2M108 465h1.2M143 439h1.2M155 410h1.2M114 433h1.2M65 482h1.2M132 453h1.2M13 426h1.2M40 431h1.2M62 485h1.2M43 451h1.2M7 391h1.2M66 481h1.2M21 453h1.2M83 479h1.2M154 420h1.2M154 439h1.2M94 480h1.2M23 430h1.2M146 404h1.2M77 482h1.2M155 380h1.2M83 470h1.2M122 472h1.2M69 488h1.2M75 484h1.2M107 478h1.2M41 446h1.2M102 470h1.2M153 375h1.2M14 447h1.2M87 451h1.2M67 449h1.2M32 423h1.2M106 477h1.2M143 462h1.2M98 485h1.2M135 420h1.2M135 466h1.2M73 493h1.2M47 457h1.2M60 480h1.2M156 445h1.2M116 446h1.2M45 452h1.2M64 356h1.2M6 416h1.2M99 476h1.2M50 451h1.2M24 452h1.2M133 465h1.2M27 442h1.2M119 419h1.2M43 476h1.2M50 450h1.2M84 457h1.2M153 382h1.2M144 434h1.2M154 419h1.2M151 460h1.2M15 447h1.2M77 488h1.2M134 431h1.2M30 452h1.2M140 400h1.2M126 395h1.2M119 476h1.2M150 442h1.2M139 396h1.2M16 398h1.2M155 440h1.2M55 477h1.2M14 416h1.2M150 458h1.2M92 435h1.2M152 398h1.2M87 488h1.2M13 443h1.2M45 467h1.2M73 479h1.2M60 477h1.2M27 459h1.2M67 485h1.2M87 403h1.2M22 406h1.2M104 485h1.2M152 439h1.2M127 462h1.2M130 461h1.2M51 436h1.2M22 420h1.2M10 387h1.2M78 495h1.2M59 479h1.2M67 438h1.2M39 451h1.2M39 472h1.2M139 435h1.2M137 426h1.2M19 439h1.2M63 455h1.2M22 463h1.2M112 479h1.2M92 487h1.2M26 456h1.2M152 459h1.2M11 406h1.2M30 386h1.2M102 449h1.2M13 413h1.2M119 463h1.2M84 496h1.2M97 482h1.2M137 436h1.2M156 451h1.2M32 467h1.2M89 450h1.2M142 433h1.2M9 441h1.2M17 453h1.2M7 379h1.2M43 444h1.2M158 389h1.2M148 440h1.2M27 400h1.2M71 450h1.2M34 463h1.2M98 479h1.2M17 401h1.2M30 469h1.2M6 385h1.2M75 487h1.2M7 446h1.2M74 346h1.2M58 473h1.2M94 489h1.2M66 489h1.2M16 462h1.2M47 477h1.2M126 457h1.2M83 467h1.2M90 490h1.2M98 477h1.2M28 374h1.2M28 466h1.2M7 397h1.2M16 446h1.2M77 441h1.2M22 463h1.2M77 477h1.2M132 470h1.2M153 403h1.2M85 480h1.2M147 391h1.2M48 462h1.2M50 445h1.2M118 360h1.2M38 462h1.2M9 411h1.2M147 421h1.2M81 495h1.2M132 401h1.2M62 442h1.2M111 474h1.2M27 443h1.2M26 460h1.2M121 461h1.2M28 451h1.2M143 448h1.2M82 486h1.2M120 462h1.2M6 417h1.2M31 424h1.2M96 485h1.2M137 462h1.2M153 421h1.2M145 451h1.2M142 407h1.2M18 458h1.2M138 462h1.2M147 460h1.2M156 399h1.2M8 451h1.2M95 444h1.2M54 429h1.2M127 434h1.2M138 428h1.2M22 458h1.2M58 482h1.2M46 462h1.2M153 454h1.2M110 463h1.2M153 430h1.2M76 468h1.2M116 468h1.2M46 465h1.2M55 470h1.2M47 432h1.2M33 468h1.2M142 451h1.2M7 415h1.2M35 422h1.2M115 449h1.2M9 398h1.2M152 448h1.2M53 475h1.2M18 444h1.2M113 470h1.2M110 480h1.2M55 455h1.2M65 463h1.2M69 469h1.2M14 395h1.2M122 401h1.2M79 491h1.2M114 479h1.2M17 417h1.2M88 485h1.2M15 433h1.2M139 446h1.2M111 473h1.2M83 456h1.2M136 468h1.2M5 396h1.2M17 441h1.2M153 436h1.2M52 479h1.2M63 456h1.2M122 467h1.2M61 477h1.2M58 485h1.2M56 472h1.2M5 381h1.2M82 473h1.2M154 389h1.2M143 456h1.2M148 400h1.2M22 426h1.2M11 421h1.2M69 490h1.2M10 444h1.2M32 462h1.2M150 437h1.2M126 469h1.2M145 384h1.2M67 427h1.2M131 445h1.2M114 446h1.2M22 461h1.2M136 466h1.2M121 474h1.2M30 447h1.2M60 453h1.2M9 427h1.2M10 438h1.2M134 458h1.2M26 466h1.2M101 482h1.2M79 457h1.2M155 395h1.2M75 442h1.2M147 454h1.2M24 460h1.2M36 464h1.2M122 473h1.2M148 455h1.2M145 464h1.2M11 429h1.2M57 483h1.2M83 482h1.2M41 474h1.2M145 461h1.2M149 429h1.2M96 355h1.2M31 461h1.2M32 457h1.2M78 494h1.2M26 383h1.2M151 451h1.2M139 444h1.2M66 488h1.2M84 497h1.2M102 469h1.2M148 451h1.2M49 468h1.2M153 447h1.2M39 465h1.2M48 470h1.2M92 470h1.2M8 432h1.2M74 458h1.2M56 468h1.2M155 408h1.2M150 442h1.2M21 462h1.2M152 437h1.2M150 405h1.2M158 406h1.2M96 469h1.2M26 429h1.2M47 474h1.2M152 445h1.2M58 467h1.2M7 425h1.2M63 473h1.2M92 479h1.2M5 389h1.2M66 481h1.2M20 431h1.2M33 467h1.2M132 404h1.2M14 441h1.2M20 390h1.2M23 438h1.2M90 492h1.2M131 451h1.2M67 473h1.2M145 380h1.2M8 457h1.2M137 467h1.2M78 488h1.2M118 463h1.2M28 467h1.2M41 475h1.2M59 462h1.2M44 459h1.2M7 444h1.2M8 400h1.2M26 462h1.2M112 478h1.2M147 447h1.2M72 483h1.2M6 402h1.2M63 484h1.2M83 414h1.2M127 428h1.2M125 473h1.2M83 477h1.2M134 464h1.2M107 476h1.2M145 436h1.2M110 477h1.2M95 430h1.2M56 478h1.2M64 461h1.2M154 450h1.2M150 451h1.2M148 434h1.2M93 489h1.2M8 457h1.2M87 474h1.2M19 452h1.2M82 407h1.2M139 440h1.2M14 417h1.2M50 468h1.2M144 448h1.2M148 424h1.2M116 475h1.2M152 442h1.2M147 396h1.2M152 455h1.2M87 471h1.2M20 453h1.2M26 465h1.2M113 460h1.2M25 393h1.2M22 386h1.2M136 452h1.2M159 393h1.2M83 483h1.2M71 491h1.2M10 414h1.2M88 485h1.2M138 462h1.2M128 465h1.2M60 475h1.2M151 399h1.2M103 471h1.2M28 422h1.2M25 403h1.2M6 375h1.2M134 459h1.2M131 450h1.2M144 448h1.2M61 483h1.2M34 470h1.2M46 478h1.2M25 447h1.2M107 405h1.2M87 455h1.2M10 410h1.2M128 423h1.2M29 440h1.2M56 469h1.2M39 433h1.2M107 436h1.2M128 433h1.2M13 441h1.2M67 419h1.2M95 461h1.2M122 475h1.2M90 457h1.2M151 413h1.2M19 442h1.2M9 410h1.2M142 444h1.2M9 458h1.2M52 464h1.2M84 474h1.2M36 469h1.2M127 460h1.2M47 468h1.2M9 410h1.2M18 419h1.2M87 462h1.2M108 456h1.2M14 459h1.2M124 459h1.2M150 446h1.2M99 487h1.2M148 385h1.2M50 480h1.2M8 380h1.2M154 441h1.2M96 487h1.2M147 399h1.2M17 413h1.2M73 487h1.2M122 445h1.2M154 384h1.2M70 477h1.2M77 473h1.2M120 421h1.2M44 472h1.2M130 447h1.2M122 470h1.2M16 411h1.2M17 458h1.2M65 485h1.2M120 476h1.2M105 473h1.2M121 411h1.2M7 427h1.2M76 424h1.2M153 412h1.2M23 455h1.2M148 451h1.2M145 394h1.2M139 429h1.2M48 478h1.2M84 479h1.2M6 417h1.2M48 456h1.2M132 469h1.2M13 448h1.2M7 409h1.2M119 477h1.2M144 430h1.2M35 367h1.2M114 460h1.2M150 450h1.2M114 478h1.2M9 437h1.2M129 468h1.2M92 491h1.2M116 471h1.2M131 463h1.2M19 418h1.2M116 478h1.2M5 390h1.2M62 457h1.2M156 375h1.2M36 440h1.2M123 361h1.2M12 414h1.2M155 424h1.2M55 458h1.2M93 470h1.2M107 471h1.2M95 490h1.2M63 469h1.2M98 457h1.2M50 465h1.2M103 469h1.2M21 454h1.2M92 478h1.2M107 469h1.2M14 384h1.2M74 488h1.2M47 475h1.2M68 475h1.2M114 423h1.2M10 440h1.2M154 376h1.2M5 376h1.2M26 465h1.2M92 462h1.2M9 453h1.2M18 450h1.2M97 489h1.2M104 475h1.2M7 405h1.2M133 451h1.2M95 488h1.2M11 410h1.2M115 447h1.2M53 478h1.2M46 476h1.2M125 458h1.2M46 444h1.2M157 424h1.2M16 426h1.2M88 493h1.2M39 458h1.2M121 474h1.2M148 380h1.2M27 456h1.2M145 457h1.2M37 465h1.2M13 401h1.2M13 418h1.2M133 467h1.2M95 452h1.2M158 412h1.2M67 488h1.2M111 466h1.2M25 453h1.2M31 424h1.2M127 457h1.2M141 407h1.2M97 484h1.2M16 376h1.2M17 407h1.2M146 451h1.2M147 371h1.2M11 411h1.2M117 473h1.2M5 390h1.2M154 428h1.2M69 426h1.2M118 470h1.2M146 387h1.2M10 423h1.2M36 463h1.2M120 470h1.2M124 440h1.2M151 392h1.2M146 446h1.2M116 467h1.2M136 463h1.2M149 451h1.2M50 460h1.2M148 454h1.2M137 463h1.2M158 396h1.2M13 450h1.2M131 448h1.2M33 446h1.2M140 425h1.2M157 395h1.2M99 484h1.2M9 382h1.2M6 409h1.2M76 442h1.2M69 489h1.2M120 423h1.2M42 452h1.2M73 465h1.2M127 452h1.2M155 414h1.2M100 487h1.2M109 464h1.2M125 463h1.2M102 486h1.2M97 461h1.2M72 491h1.2M27 463h1.2M102 481h1.2M6 410h1.2M53 476h1.2M84 457h1.2M133 466h1.2M148 392h1.2M18 375h1.2M29 456h1.2M79 495h1.2M30 406h1.2M67 481h1.2M91 486h1.2M111 461h1.2M86 460h1.2M154 453h1.2M86 480h1.2M151 392h1.2M148 410h1.2M101 443h1.2M6 398h1.2M113 454h1.2M10 419h1.2M22 461h1.2M10 399h1.2M11 449h1.2M90 461h1.2M111 412h1.2M63 433h1.2M55 465h1.2M33 462h1.2M15 425h1.2M49 479h1.2M133 402h1.2M145 447h1.2M114 469h1.2M14 373h1.2M146 383h1.2M65 474h1.2M150 416h1.2M98 488h1.2M106 472h1.2M6 418h1.2M144 408h1.2M64 445h1.2M61 471h1.2M45 477h1.2M108 471h1.2M24 431h1.2M151 448h1.2M151 433h1.2M141 447h1.2M11 449h1.2M60 459h1.2M97 478h1.2M39 473h1.2M75 491h1.2M35 404h1.2M156 435h1.2M10 437h1.2M100 464h1.2M26 402h1.2M82 449h1.2M91 463h1.2M86 494h1.2M117 468h1.2M9 380h1.2M11 457h1.2M16 433h1.2M8 405h1.2M73 405h1.2M21 458h1.2M21 420h1.2M140 455h1.2M155 400h1.2M15 417h1.2M13 426h1.2M16 440h1.2M125 472h1.2M82 479h1.2M139 415h1.2M143 440h1.2M144 458h1.2M106 408h1.2M58 443h1.2M35 469h1.2M31 465h1.2M150 457h1.2M121 450h1.2M56 476h1.2M139 464h1.2M14 426h1.2M72 484h1.2M152 411h1.2M13 373h1.2M28 465h1.2M157 406h1.2M60 465h1.2M49 476h1.2M11 419h1.2M16 411h1.2M156 389h1.2M12 407h1.2M36 463h1.2M135 456h1.2M149 429h1.2M148 438h1.2M131 425h1.2M73 490h1.2M57 457h1.2M98 485h1.2M50 469h1.2M153 417h1.2M16 408h1.2M142 464h1.2M155 381h1.2M130 445h1.2M155 407h1.2M108 483h1.2M27 454h1.2M137 465h1.2M74 493h1.2M89 486h1.2M80 436h1.2M130 470h1.2M17 402h1.2M74 492h1.2M40 444h1.2M63 484h1.2M66 441h1.2M26 422h1.2M134 466h1.2M128 445h1.2M13 415h1.2M68 487h1.2M72 426h1.2M45 471h1.2M9 451h1.2M154 456h1.2M150 378h1.2M154 377h1.2M150 445h1.2M24 460h1.2M8 425h1.2M158 377h1.2M76 488h1.2M14 378h1.2M99 481h1.2M88 483h1.2M11 440h1.2M17 441h1.2M21 446h1.2M7 405h1.2M88 420h1.2M110 478h1.2M19 457h1.2M136 462h1.2M145 459h1.2M130 414h1.2M82 412h1.2M37 473h1.2M30 439h1.2M118 439h1.2M155 379h1.2M132 462h1.2M128 363h1.2M130 465h1.2M142 447h1.2M151 417h1.2M34 454h1.2M78 345h1.2M83 464h1.2M65 438h1.2M121 459h1.2M72 481h1.2M156 375h1.2M120 463h1.2M103 484h1.2M20 427h1.2M92 436h1.2M38 456h1.2M137 430h1.2M134 418h1.2M70 476h1.2M31 420h1.2M31 452h1.2M100 417h1.2M30 463h1.2M146 456h1.2M154 434h1.2M54 472h1.2M44 472h1.2M148 400h1.2M34 455h1.2M21 464h1.2M90 485h1.2M26 462h1.2M91 488h1.2M120 460h1.2M29 447h1.2M143 410h1.2M23 408h1.2M74 454h1.2M145 386h1.2M44 361h1.2M56 478h1.2M149 436h1.2M133 437h1.2M68 489h1.2M13 435h1.2M128 453h1.2M32 470h1.2M8 424h1.2M152 448h1.2M84 354h1.2M14 458h1.2M156 405h1.2M23 393h1.2M11 429h1.2M35 407h1.2M159 381h1.2M124 474h1.2M13 439h1.2M6 415h1.2M67 487h1.2M88 473h1.2M110 475h1.2M81 478h1.2M135 461h1.2M22 458h1.2M43 474h1.2M126 436h1.2M6 395h1.2M23 427h1.2M43 381h1.2M84 431h1.2M144 457h1.2M92 351h1.2M48 477h1.2M137 407h1.2M9 449h1.2M83 489h1.2M64 470h1.2M44 469h1.2M147 457h1.2M51 393h1.2M88 488h1.2M36 415h1.2M143 460h1.2M155 455h1.2M138 367h1.2M143 387h1.2M153 420h1.2M12 453h1.2M53 481h1.2M153 445h1.2M55 415h1.2M124 461h1.2M114 478h1.2M4 392h1.2M10 407h1.2M25 440h1.2M105 464h1.2M97 449h1.2M14 425h1.2M59 475h1.2M68 472h1.2M112 463h1.2M25 393h1.2M73 479h1.2M93 475h1.2M150 402h1.2M126 419h1.2M35 439h1.2M95 490h1.2M16 454h1.2M148 461h1.2M47 464h1.2M148 386h1.2M70 413h1.2M14 452h1.2M20 457h1.2M75 460h1.2M71 457h1.2M22 442h1.2M93 491h1.2M151 460h1.2M25 462h1.2M101 480h1.2M74 481h1.2M67 480h1.2M8 419h1.2M135 458h1.2M144 461h1.2M146 371h1.2M141 463h1.2M75 493h1.2M128 469h1.2M137 382h1.2M9 434h1.2M109 471h1.2M154 431h1.2M111 431h1.2M39 469h1.2M137 389h1.2M13 416h1.2M112 459h1.2M91 492h1.2M152 398h1.2M147 381h1.2M154 455h1.2M121 450h1.2M61 466h1.2M152 442h1.2M84 345h1.2M126 471h1.2M21 424h1.2M64 479h1.2M21 458h1.2M146 453h1.2M93 487h1.2M137 417h1.2M138 462h1.2M99 474h1.2M156 382h1.2M149 449h1.2M66 440h1.2M84 484h1.2M15 412h1.2M89 460h1.2M145 457h1.2M39 474h1.2M6 383h1.2M10 404h1.2M78 462h1.2M148 383h1.2M42 471h1.2M42 360h1.2M102 474h1.2M93 482h1.2M90 486h1.2M144 460h1.2M151 457h1.2M11 427h1.2M11 375h1.2M5 378h1.2M156 449h1.2M38 473h1.2M146 437h1.2M154 415h1.2M138 465h1.2M7 375h1.2M18 460h1.2M33 461h1.2M49 473h1.2M102 481h1.2M128 434h1.2M55 482h1.2M147 455h1.2M63 485h1.2M68 479h1.2M10 415h1.2M9 453h1.2M102 478h1.2M142 459h1.2M103 442h1.2M82 489h1.2M149 405h1.2M153 433h1.2M154 386h1.2M96 481h1.2M89 492h1.2M154 408h1.2M141 442h1.2M71 491h1.2M151 458h1.2M130 465h1.2M45 477h1.2M151 408h1.2M149 424h1.2M28 467h1.2M149 428h1.2M32 423h1.2M50 427h1.2M73 490h1.2M105 427h1.2M59 456h1.2M70 489h1.2M73 460h1.2M57 473h1.2M114 470h1.2M31 470h1.2M123 438h1.2M49 472h1.2M86 482h1.2M4 385h1.2M139 457h1.2M52 454h1.2M5 407h1.2M97 464h1.2M146 439h1.2M36 467h1.2M6 428h1.2M141 428h1.2M8 382h1.2M152 396h1.2M53 478h1.2M17 393h1.2M124 400h1.2M154 419h1.2M39 474h1.2M132 447h1.2M153 412h1.2M81 495h1.2M148 390h1.2M21 390h1.2M5 387h1.2M54 482h1.2M76 481h1.2M10 397h1.2M109 446h1.2M14 409h1.2M11 386h1.2M98 488h1.2M159 375h1.2M85 492h1.2M12 434h1.2M151 454h1.2M147 386h1.2M125 449h1.2M13 412h1.2M33 465h1.2M155 432h1.2M138 446h1.2M64 470h1.2M81 486h1.2M33 467h1.2M135 456h1.2M146 423h1.2M124 473h1.2M39 434h1.2M28 455h1.2M20 395h1.2M42 448h1.2M6 382h1.2M79 494h1.2M121 382h1.2M28 460h1.2M85 469h1.2M94 423h1.2M5 379h1.2M69 452h1.2M5 386h1.2M90 461h1.2M6 397h1.2M86 487h1.2M108 479h1.2M120 424h1.2M64 486h1.2M8 407h1.2M144 430h1.2M88 493h1.2M37 462h1.2M80 470h1.2M15 424h1.2M15 459h1.2M40 471h1.2M104 359h1.2M111 471h1.2M155 453h1.2M73 470h1.2M11 450h1.2M31 430h1.2M86 490h1.2M80 452h1.2M131 466h1.2M50 480h1.2M140 419h1.2M32 450h1.2M33 402h1.2M139 455h1.2M112 476h1.2M13 443h1.2M11 410h1.2M138 419h1.2M133 391h1.2M16 437h1.2M17 459h1.2M53 471h1.2M96 445h1.2M79 488h1.2M41 475h1.2M61 484h1.2M59 461h1.2M13 455h1.2M109 483h1.2M149 440h1.2M7 377h1.2M15 453h1.2M89 482h1.2M157 426h1.2M150 417h1.2M33 461h1.2M25 394h1.2M106 473h1.2M90 468h1.2M18 451h1.2M128 403h1.2M124 416h1.2M132 462h1.2M108 451h1.2M70 474h1.2M29 446h1.2M90 480h1.2M120 442h1.2M130 457h1.2M123 461h1.2M109 470h1.2M35 440h1.2M125 460h1.2M18 442h1.2M154 451h1.2M22 454h1.2M6 420h1.2M131 464h1.2M45 428h1.2M24 453h1.2M102 484h1.2M77 451h1.2M104 467h1.2M17 437h1.2M58 484h1.2M24 462h1.2M19 450h1.2M92 489h1.2M146 409h1.2M146 418h1.2M124 464h1.2M92 472h1.2M66 437h1.2M115 429h1.2M71 456h1.2M11 440h1.2M106 480h1.2M10 414h1.2M32 454h1.2M90 479h1.2M124 461h1.2M137 405h1.2M157 435h1.2M7 398h1.2M7 404h1.2M71 429h1.2M149 385h1.2M17 448h1.2M114 461h1.2M93 451h1.2M131 469h1.2M77 459h1.2M113 433h1.2M75 492h1.2M141 445h1.2M27 463h1.2M92 471h1.2M11 398h1.2M138 429h1.2M137 467h1.2M30 444h1.2M78 474h1.2M35 363h1.2M13 410h1.2M130 468h1.2M85 489h1.2M72 473h1.2M50 464h1.2M72 449h1.2M18 400h1.2M123 467h1.2M34 401h1.2M156 436h1.2M18 390h1.2M103 484h1.2M149 405h1.2M105 474h1.2M28 468h1.2M78 477h1.2M6 421h1.2M90 476h1.2M159 387h1.2M84 442h1.2M87 346h1.2M48 460h1.2M105 409h1.2M98 421h1.2M79 455h1.2M86 493h1.2M143 458h1.2M81 479h1.2M25 407h1.2M81 491h1.2M34 462h1.2M31 390h1.2M62 483h1.2M49 476h1.2M155 429h1.2M18 454h1.2M10 377h1.2M150 402h1.2M31 454h1.2M126 472h1.2M67 481h1.2M96 471h1.2M120 476h1.2M42 423h1.2M155 400h1.2M83 422h1.2M45 466h1.2M131 466h1.2M25 462h1.2M83 470h1.2M77 491h1.2M38 462h1.2M143 388h1.2M118 475h1.2M135 434h1.2M37 466h1.2M146 459h1.2M8 409h1.2M156 415h1.2M33 448h1.2M146 463h1.2M58 477h1.2M20 394h1.2M32 456h1.2M135 451h1.2M115 457h1.2M12 430h1.2M34 457h1.2M35 471h1.2M17 442h1.2M31 452h1.2M64 479h1.2M131 444h1.2M86 433h1.2M12 438h1.2M17 450h1.2M117 458h1.2M79 469h1.2M40 473h1.2M62 471h1.2M56 483h1.2M95 478h1.2M70 488h1.2M147 395h1.2M56 462h1.2M111 435h1.2M54 461h1.2M139 457h1.2M56 475h1.2M94 491h1.2M11 435h1.2M97 487h1.2M52 451h1.2M158 381h1.2M139 465h1.2M150 457h1.2M150 436h1.2M9 457h1.2M150 454h1.2M7 419h1.2M90 475h1.2M154 448h1.2M57 480h1.2M141 418h1.2M29 441h1.2M155 437h1.2M154 382h1.2M143 442h1.2M97 481h1.2M16 451h1.2M131 433h1.2M55 427h1.2M44 475h1.2M69 461h1.2M7 439h1.2M64 438h1.2M130 458h1.2M10 378h1.2M139 460h1.2M91 491h1.2M52 459h1.2M116 441h1.2M153 443h1.2M9 454h1.2M86 489h1.2M65 463h1.2M20 429h1.2M14 432h1.2M119 475h1.2M49 466h1.2M7 442h1.2M48 466h1.2M86 484h1.2M142 465h1.2M127 364h1.2M147 438h1.2M98 483h1.2M85 448h1.2M17 457h1.2M80 489h1.2M62 414h1.2M130 461h1.2M85 472h1.2M102 440h1.2M118 477h1.2M16 459h1.2M97 471h1.2M131 398h1.2M18 370h1.2M143 422h1.2M149 448h1.2M148 433h1.2M17 424h1.2M81 473h1.2M143 369h1.2M13 426h1.2M75 478h1.2M12 407h1.2M103 454h1.2M21 417h1.2M5 402h1.2M150 447h1.2M114 478h1.2M104 485h1.2M140 465h1.2M19 444h1.2M62 485h1.2M27 462h1.2M29 435h1.2M8 440h1.2M110 418h1.2M48 430h1.2M39 474h1.2M132 468h1.2M78 442h1.2M155 388h1.2M5 394h1.2M117 395h1.2M99 433h1.2M155 450h1.2M76 488h1.2M153 403h1.2M148 424h1.2M115 444h1.2M53 413h1.2M156 414h1.2M19 378h1.2M155 450h1.2M9 421h1.2M60 481h1.2M84 492h1.2M131 465h1.2M5 381h1.2M157 382h1.2M74 493h1.2M87 491h1.2M95 482h1.2M97 477h1.2M41 465h1.2M23 464h1.2M154 403h1.2M106 480h1.2M125 428h1.2M62 468h1.2M124 472h1.2M118 448h1.2M153 387h1.2M29 467h1.2M70 485h1.2M66 485h1.2M66 487h1.2M152 448h1.2M105 451h1.2M73 482h1.2M152 447h1.2M10 432h1.2M88 494h1.2M142 459h1.2M118 473h1.2M148 458h1.2M89 473h1.2M141 447h1.2M88 489h1.2M33 398h1.2M100 442h1.2M148 451h1.2M83 492h1.2M40 469h1.2M17 436h1.2" stroke="#fff" stroke-width="1.2" fill="none" opacity="0.9"/><path d="M40.8 171.3L79.8 187.8L77.8 228.8L40.8 248.8L3.8 228.8L1.8 187.8ZM40.8 208.3L1.8 187.8M40.8 208.3L79.8 187.8M40.8 208.3L40.8 248.8" fill="none" stroke="#8a8a8a" stroke-width="0.65"/><path d="M126.8 171.9L167.0 188.4L165.1 229.4L126.8 248.9L88.5 229.4L86.6 188.4Z" fill="#222292"/><path transform="scale(0.5)" d="M210 455h1.2M203 435h1.2M224 406h1.2M273 474h1.2M313 407h1.2M269 489h1.2M272 432h1.2M316 394h1.2M217 468h1.2M204 455h1.2M323 457h1.2M267 424h1.2M192 439h1.2M192 445h1.2M200 468h1.2M320 404h1.2M310 456h1.2M242 490h1.2M186 436h1.2M192 421h1.2M234 452h1.2M207 395h1.2M195 466h1.2M303 437h1.2M313 448h1.2M187 433h1.2M199 368h1.2M269 469h1.2M188 453h1.2M299 475h1.2M331 379h1.2M329 425h1.2M188 464h1.2M297 458h1.2M285 447h1.2M326 393h1.2M200 436h1.2M214 421h1.2M240 461h1.2M180 447h1.2M273 485h1.2M277 482h1.2M273 478h1.2M273 426h1.2M233 486h1.2M262 463h1.2M203 419h1.2M220 476h1.2M191 447h1.2M306 468h1.2M180 444h1.2M303 390h1.2M295 427h1.2M269 447h1.2M315 417h1.2M286 477h1.2M201 384h1.2M180 431h1.2M306 405h1.2M325 461h1.2M203 464h1.2M278 466h1.2M298 464h1.2M289 423h1.2M211 365h1.2M244 477h1.2M271 468h1.2M324 461h1.2M195 450h1.2M206 466h1.2M279 482h1.2M186 452h1.2M204 432h1.2M318 450h1.2M291 464h1.2M299 458h1.2M253 497h1.2M238 483h1.2M243 476h1.2M267 350h1.2M316 453h1.2M327 427h1.2M326 439h1.2M220 449h1.2M234 465h1.2M222 465h1.2M270 480h1.2M324 461h1.2M276 454h1.2M299 410h1.2M265 422h1.2M286 408h1.2M320 450h1.2M324 462h1.2M315 420h1.2M230 470h1.2M294 475h1.2M261 459h1.2M178 414h1.2M179 376h1.2M218 430h1.2M313 458h1.2M320 454h1.2M219 473h1.2M290 436h1.2M198 374h1.2M322 448h1.2M239 480h1.2M193 404h1.2M176 396h1.2M184 435h1.2M248 486h1.2M331 438h1.2M216 419h1.2M192 399h1.2M192 465h1.2M198 467h1.2M210 475h1.2M325 458h1.2M184 428h1.2M295 456h1.2M283 371h1.2M269 375h1.2M260 491h1.2M266 398h1.2M312 445h1.2M322 434h1.2M220 471h1.2M322 395h1.2M181 452h1.2M186 372h1.2M248 483h1.2M179 454h1.2M276 477h1.2M326 454h1.2M267 488h1.2M253 485h1.2M291 469h1.2M327 387h1.2M204 472h1.2M285 450h1.2M253 488h1.2M323 451h1.2M316 444h1.2M227 484h1.2M282 475h1.2M178 458h1.2M217 474h1.2M226 450h1.2M183 427h1.2M214 449h1.2M270 479h1.2M246 469h1.2M193 427h1.2M235 456h1.2M186 385h1.2M229 480h1.2M287 458h1.2M208 373h1.2M208 427h1.2M195 426h1.2M266 488h1.2M236 479h1.2M331 379h1.2M275 486h1.2M321 399h1.2M305 459h1.2M200 439h1.2M295 447h1.2M251 480h1.2M281 482h1.2M177 398h1.2M254 484h1.2M175 396h1.2M320 426h1.2M189 376h1.2M234 474h1.2M184 443h1.2M199 464h1.2M290 380h1.2M280 449h1.2M211 471h1.2M187 433h1.2M181 421h1.2M179 458h1.2M330 429h1.2M225 454h1.2M292 469h1.2M212 435h1.2M306 464h1.2M200 390h1.2M319 460h1.2M246 415h1.2M253 438h1.2M299 465h1.2M252 455h1.2M179 412h1.2M186 450h1.2M305 384h1.2M280 481h1.2M325 374h1.2M306 456h1.2M190 402h1.2M231 421h1.2M236 488h1.2M201 447h1.2M225 375h1.2M205 423h1.2M210 471h1.2M303 454h1.2M217 464h1.2M185 461h1.2M296 445h1.2M273 475h1.2M323 434h1.2M177 457h1.2M327 388h1.2M226 387h1.2M325 458h1.2M174 392h1.2M317 418h1.2M242 437h1.2M198 468h1.2M247 493h1.2M270 486h1.2M242 450h1.2M285 459h1.2M246 422h1.2M307 469h1.2M283 405h1.2M235 420h1.2M174 393h1.2M266 349h1.2M178 385h1.2M328 450h1.2M274 475h1.2M174 390h1.2M313 420h1.2M177 428h1.2M209 442h1.2M301 471h1.2M286 471h1.2M211 466h1.2M184 420h1.2M329 457h1.2M189 371h1.2M315 459h1.2M314 458h1.2M211 455h1.2M191 437h1.2M182 453h1.2M198 420h1.2M238 422h1.2M318 401h1.2M177 444h1.2M322 388h1.2M295 456h1.2M182 397h1.2M279 362h1.2M279 448h1.2M300 464h1.2M241 469h1.2M306 465h1.2M331 410h1.2M304 443h1.2M323 415h1.2M328 408h1.2M311 462h1.2M280 477h1.2M234 455h1.2M330 438h1.2M328 394h1.2M249 453h1.2M314 459h1.2M196 452h1.2M315 389h1.2M191 389h1.2M324 421h1.2M194 433h1.2M328 414h1.2M323 420h1.2M226 441h1.2M287 420h1.2M219 461h1.2M242 432h1.2M328 397h1.2M182 461h1.2M236 425h1.2M182 433h1.2M258 460h1.2M192 434h1.2M266 486h1.2M310 449h1.2M181 420h1.2M254 450h1.2M182 436h1.2M321 434h1.2M329 429h1.2M327 380h1.2M306 381h1.2M238 482h1.2M222 453h1.2M287 479h1.2M297 473h1.2M237 477h1.2M189 386h1.2M241 437h1.2M241 445h1.2M179 456h1.2M250 435h1.2M177 441h1.2M297 378h1.2M201 465h1.2M199 425h1.2M324 381h1.2M184 420h1.2M179 430h1.2M208 417h1.2M263 475h1.2M268 476h1.2M194 461h1.2M318 441h1.2M200 461h1.2M184 439h1.2M249 495h1.2M308 461h1.2M299 461h1.2M318 448h1.2M328 398h1.2M318 439h1.2M255 475h1.2M280 484h1.2M241 491h1.2M265 458h1.2M281 476h1.2M331 377h1.2M329 378h1.2M176 408h1.2M289 441h1.2M262 487h1.2M315 441h1.2M302 473h1.2M306 386h1.2M175 416h1.2M292 400h1.2M287 468h1.2M213 449h1.2M302 396h1.2M326 434h1.2M236 484h1.2M269 484h1.2M265 478h1.2M236 481h1.2M275 445h1.2M214 454h1.2M256 486h1.2M316 445h1.2M322 428h1.2M191 462h1.2M212 476h1.2M316 422h1.2M304 468h1.2M327 440h1.2M186 458h1.2M261 457h1.2M231 485h1.2M227 438h1.2M220 468h1.2M291 476h1.2M305 469h1.2M298 435h1.2M203 408h1.2M240 484h1.2M324 462h1.2M319 457h1.2M188 464h1.2M261 488h1.2M237 462h1.2M330 409h1.2M302 402h1.2M195 446h1.2M313 453h1.2M293 435h1.2M194 425h1.2M219 474h1.2M248 474h1.2M298 453h1.2M251 452h1.2M278 419h1.2M199 420h1.2M326 401h1.2M237 403h1.2M195 437h1.2M280 454h1.2M185 402h1.2M246 492h1.2M219 467h1.2M181 406h1.2M318 371h1.2M279 356h1.2M194 459h1.2M318 463h1.2M274 431h1.2M175 381h1.2M302 468h1.2M324 458h1.2M332 413h1.2M190 409h1.2M295 477h1.2M223 468h1.2M196 464h1.2M333 379h1.2M324 428h1.2M327 380h1.2M203 422h1.2M191 420h1.2M293 433h1.2M333 391h1.2M324 428h1.2M215 422h1.2M259 494h1.2M295 449h1.2M182 428h1.2M286 475h1.2M327 455h1.2M188 387h1.2M313 413h1.2M278 485h1.2M304 427h1.2M176 383h1.2M248 367h1.2M211 475h1.2M254 489h1.2M306 422h1.2M250 488h1.2M183 457h1.2M238 472h1.2M294 446h1.2M297 463h1.2M220 480h1.2M327 405h1.2M300 458h1.2M326 391h1.2M321 446h1.2M265 419h1.2M219 418h1.2M191 418h1.2M183 441h1.2M228 464h1.2M289 461h1.2M322 437h1.2M200 413h1.2M186 454h1.2M254 461h1.2M288 433h1.2M187 405h1.2M260 397h1.2M197 463h1.2M194 438h1.2M224 444h1.2M184 456h1.2M299 466h1.2M251 487h1.2M292 463h1.2M189 457h1.2M304 436h1.2M220 470h1.2M187 445h1.2M295 472h1.2M200 419h1.2M290 360h1.2M330 434h1.2M178 418h1.2M183 407h1.2M309 470h1.2M318 461h1.2M278 442h1.2M211 399h1.2M250 420h1.2M311 459h1.2M225 438h1.2M234 474h1.2M314 389h1.2M218 454h1.2M283 464h1.2M309 446h1.2M184 401h1.2M327 420h1.2M325 440h1.2M218 439h1.2M285 457h1.2M316 398h1.2M322 407h1.2M276 428h1.2M304 458h1.2M222 476h1.2M178 403h1.2M177 420h1.2M298 450h1.2M194 417h1.2M280 432h1.2M317 446h1.2M177 395h1.2M245 483h1.2M200 466h1.2M187 434h1.2M291 478h1.2M301 455h1.2M250 481h1.2M222 455h1.2M176 391h1.2M235 421h1.2M258 475h1.2M192 452h1.2M270 466h1.2M250 419h1.2M294 473h1.2M296 408h1.2M251 445h1.2M292 475h1.2M183 386h1.2M323 433h1.2M187 434h1.2M251 465h1.2M207 436h1.2M204 457h1.2M241 472h1.2M312 466h1.2M309 446h1.2M263 489h1.2M299 472h1.2M271 409h1.2M318 457h1.2M316 463h1.2M248 492h1.2M220 467h1.2M299 424h1.2M330 397h1.2M329 417h1.2M179 431h1.2M310 450h1.2M223 480h1.2M234 455h1.2M293 458h1.2M228 469h1.2M324 388h1.2M329 400h1.2M312 415h1.2M330 454h1.2M326 414h1.2M270 446h1.2M225 482h1.2M258 433h1.2M196 410h1.2M250 481h1.2M301 471h1.2M304 456h1.2M253 495h1.2M177 435h1.2M285 478h1.2M318 393h1.2M327 385h1.2M305 449h1.2M303 452h1.2M328 453h1.2M236 482h1.2M179 450h1.2M251 496h1.2M332 379h1.2M185 383h1.2M320 417h1.2M311 462h1.2M273 475h1.2M274 478h1.2M273 484h1.2M175 423h1.2M197 433h1.2M253 463h1.2M289 456h1.2M230 486h1.2M304 464h1.2M268 476h1.2M191 444h1.2M183 425h1.2M309 426h1.2M175 403h1.2M261 454h1.2M329 393h1.2M310 465h1.2M225 415h1.2M289 412h1.2M333 386h1.2M301 439h1.2M232 447h1.2M313 456h1.2M230 429h1.2M282 479h1.2M248 430h1.2M186 420h1.2M292 446h1.2M240 488h1.2M289 480h1.2M212 403h1.2M192 397h1.2M327 385h1.2M263 422h1.2M213 458h1.2M327 460h1.2M269 476h1.2M215 471h1.2M219 464h1.2M306 462h1.2M238 457h1.2M270 460h1.2M216 478h1.2M182 432h1.2M280 425h1.2M223 415h1.2M197 378h1.2M325 457h1.2M322 431h1.2M287 465h1.2M181 415h1.2M179 432h1.2M223 481h1.2M278 475h1.2M215 461h1.2M298 457h1.2M246 400h1.2M279 476h1.2M279 484h1.2M326 455h1.2M268 477h1.2M176 405h1.2M313 441h1.2M327 427h1.2M262 476h1.2M324 460h1.2M218 480h1.2M182 447h1.2M244 483h1.2M242 462h1.2M298 458h1.2M198 404h1.2M182 421h1.2M301 422h1.2M260 493h1.2M193 416h1.2M300 451h1.2M225 480h1.2M177 395h1.2M221 466h1.2M301 457h1.2M247 440h1.2M177 445h1.2M198 458h1.2M177 390h1.2M178 427h1.2M323 405h1.2M231 405h1.2M297 474h1.2M329 455h1.2M280 481h1.2M232 482h1.2M322 455h1.2M188 416h1.2M244 433h1.2M174 387h1.2M240 411h1.2M224 474h1.2M292 432h1.2M286 414h1.2M252 484h1.2M310 464h1.2M257 480h1.2M180 408h1.2M298 430h1.2M223 480h1.2M295 382h1.2M203 415h1.2M283 454h1.2M242 441h1.2M326 375h1.2M176 382h1.2M253 491h1.2M289 437h1.2M275 416h1.2M326 394h1.2M213 476h1.2M287 460h1.2M233 483h1.2M318 376h1.2M298 468h1.2M247 494h1.2M253 442h1.2M305 449h1.2M255 482h1.2M204 388h1.2M300 463h1.2M328 452h1.2M261 472h1.2M230 484h1.2M294 417h1.2M214 427h1.2M219 478h1.2M238 481h1.2M213 444h1.2M275 415h1.2M327 397h1.2M254 494h1.2M319 427h1.2M189 460h1.2M313 373h1.2M219 468h1.2M330 440h1.2M229 361h1.2M251 479h1.2M175 377h1.2M302 458h1.2M232 458h1.2M299 389h1.2M181 433h1.2M224 465h1.2M196 452h1.2M229 480h1.2M281 469h1.2M199 424h1.2M177 428h1.2M280 430h1.2M191 430h1.2M332 395h1.2M239 478h1.2M300 452h1.2M310 468h1.2M242 467h1.2M213 475h1.2M309 468h1.2M270 459h1.2M283 474h1.2M324 439h1.2M289 474h1.2M308 421h1.2M230 469h1.2M210 448h1.2M324 460h1.2M298 470h1.2M205 450h1.2M183 418h1.2M277 472h1.2M330 410h1.2M331 421h1.2M281 469h1.2M280 481h1.2M270 479h1.2M333 394h1.2M301 459h1.2M228 393h1.2M181 458h1.2M256 495h1.2M220 464h1.2M253 441h1.2M329 435h1.2M199 428h1.2M305 468h1.2M283 483h1.2M244 489h1.2M293 460h1.2M278 408h1.2M258 449h1.2M328 460h1.2M253 473h1.2M260 347h1.2M309 468h1.2M238 486h1.2M282 477h1.2M190 456h1.2M312 390h1.2M309 439h1.2M317 465h1.2M196 404h1.2M249 457h1.2M297 476h1.2M261 427h1.2M250 476h1.2M180 454h1.2M330 442h1.2M307 455h1.2M310 440h1.2M227 464h1.2M179 445h1.2M319 393h1.2M224 478h1.2M197 454h1.2M236 378h1.2M189 456h1.2M238 453h1.2M303 469h1.2M294 455h1.2M313 462h1.2M248 451h1.2M332 394h1.2M299 443h1.2M192 463h1.2M326 401h1.2M225 481h1.2M273 482h1.2M314 464h1.2M311 455h1.2M307 464h1.2M329 446h1.2M247 460h1.2M206 418h1.2M300 455h1.2M194 428h1.2M258 490h1.2M247 450h1.2M277 485h1.2M321 415h1.2M182 417h1.2M313 467h1.2M182 413h1.2M175 406h1.2M186 463h1.2M182 442h1.2M305 454h1.2M280 415h1.2M176 398h1.2M205 446h1.2M186 411h1.2M275 457h1.2M194 453h1.2M213 403h1.2M325 409h1.2M274 440h1.2M180 420h1.2M331 385h1.2M330 453h1.2M332 392h1.2M240 448h1.2M177 427h1.2M186 404h1.2M240 481h1.2M295 467h1.2M287 477h1.2M267 491h1.2M185 379h1.2M285 463h1.2M241 488h1.2M226 483h1.2M322 376h1.2M186 403h1.2M311 445h1.2M176 415h1.2M246 490h1.2M298 451h1.2M330 414h1.2M196 463h1.2M326 452h1.2M305 437h1.2M214 435h1.2M290 436h1.2M231 483h1.2M200 463h1.2M190 443h1.2M190 405h1.2M208 398h1.2M299 470h1.2M268 478h1.2M329 385h1.2M325 436h1.2M280 463h1.2M175 399h1.2M256 469h1.2M272 468h1.2M251 444h1.2M324 460h1.2M324 462h1.2M250 445h1.2M196 391h1.2M248 462h1.2M266 438h1.2M288 454h1.2M272 443h1.2M299 462h1.2M293 455h1.2M332 408h1.2M326 443h1.2M212 476h1.2M244 473h1.2M257 467h1.2M199 444h1.2M192 464h1.2M201 456h1.2M280 424h1.2M231 465h1.2M250 423h1.2M177 429h1.2M260 489h1.2M222 466h1.2M238 487h1.2M199 444h1.2M209 402h1.2M311 468h1.2M275 477h1.2M289 455h1.2M214 470h1.2M322 460h1.2M254 459h1.2M199 414h1.2M298 468h1.2M279 462h1.2M219 421h1.2M185 416h1.2M180 458h1.2M274 450h1.2M222 477h1.2M247 490h1.2M242 468h1.2M326 426h1.2M265 350h1.2M187 455h1.2M198 370h1.2M303 435h1.2M218 477h1.2M319 374h1.2M175 412h1.2M294 438h1.2M178 451h1.2M253 411h1.2M271 462h1.2M177 420h1.2M262 471h1.2M238 482h1.2M244 491h1.2M195 466h1.2M322 455h1.2M211 429h1.2M257 433h1.2M219 409h1.2M269 413h1.2M317 464h1.2M240 474h1.2M205 469h1.2M180 387h1.2M192 394h1.2M177 448h1.2M192 460h1.2M209 472h1.2M282 474h1.2M303 469h1.2M177 453h1.2M322 440h1.2M177 383h1.2M248 428h1.2M239 352h1.2M187 448h1.2M315 399h1.2M179 429h1.2M242 471h1.2M282 462h1.2M189 420h1.2M260 462h1.2M203 461h1.2M260 426h1.2M259 484h1.2M273 466h1.2M211 460h1.2M229 480h1.2M312 450h1.2M245 439h1.2M199 367h1.2M325 447h1.2M208 460h1.2M323 396h1.2M195 396h1.2M271 436h1.2M197 417h1.2M253 388h1.2M302 385h1.2M290 440h1.2M258 445h1.2M330 376h1.2M232 487h1.2M229 480h1.2M310 448h1.2M182 399h1.2M234 482h1.2M321 445h1.2M278 485h1.2M250 469h1.2M329 446h1.2M187 418h1.2M305 471h1.2M284 462h1.2M262 475h1.2M299 471h1.2M230 471h1.2M254 466h1.2M248 464h1.2M176 421h1.2M218 472h1.2M203 450h1.2M212 473h1.2M328 418h1.2M240 469h1.2M246 474h1.2M187 393h1.2M191 457h1.2M225 477h1.2M279 459h1.2M187 406h1.2M182 416h1.2M283 456h1.2M205 438h1.2M273 352h1.2M303 427h1.2M196 435h1.2M179 458h1.2M282 464h1.2M288 425h1.2M316 441h1.2M194 455h1.2M325 413h1.2M270 482h1.2M215 447h1.2M218 442h1.2M219 472h1.2M217 435h1.2M269 462h1.2M307 366h1.2M193 441h1.2M214 477h1.2M180 460h1.2M257 416h1.2M327 399h1.2M205 446h1.2M195 462h1.2M195 426h1.2M212 467h1.2M191 437h1.2M322 394h1.2M330 404h1.2M326 460h1.2M308 441h1.2M181 458h1.2M290 469h1.2M192 409h1.2M322 455h1.2M178 435h1.2M291 429h1.2M294 457h1.2M189 414h1.2M209 428h1.2M261 347h1.2M239 477h1.2M181 411h1.2M238 442h1.2M316 449h1.2M190 458h1.2M183 374h1.2M317 433h1.2M319 450h1.2M268 453h1.2M189 381h1.2M215 411h1.2M323 457h1.2M321 459h1.2M325 453h1.2M194 467h1.2M250 453h1.2M301 418h1.2M181 438h1.2M206 441h1.2M220 477h1.2M316 456h1.2M251 483h1.2M256 439h1.2M316 453h1.2M288 419h1.2M313 467h1.2M308 431h1.2M181 420h1.2M185 422h1.2M252 420h1.2M327 451h1.2M225 414h1.2M325 449h1.2M323 461h1.2M179 411h1.2M291 429h1.2M239 442h1.2M224 461h1.2M254 453h1.2M206 436h1.2M264 465h1.2M304 450h1.2M297 418h1.2M194 428h1.2M249 489h1.2M314 446h1.2M216 453h1.2M312 464h1.2M285 468h1.2M185 460h1.2M302 451h1.2M260 485h1.2M326 435h1.2M303 465h1.2M182 398h1.2M234 438h1.2M259 443h1.2M323 461h1.2M234 476h1.2M200 463h1.2M295 457h1.2M195 400h1.2M275 457h1.2M323 443h1.2M181 395h1.2M305 409h1.2M180 459h1.2M179 412h1.2M249 481h1.2M195 467h1.2M319 416h1.2M330 448h1.2M320 387h1.2M310 466h1.2M182 456h1.2M258 472h1.2M294 454h1.2M199 433h1.2M212 440h1.2M241 487h1.2M247 454h1.2M272 471h1.2M311 443h1.2M277 486h1.2M207 448h1.2M177 402h1.2M193 451h1.2M261 349h1.2M180 405h1.2M326 420h1.2M255 481h1.2M192 466h1.2M207 445h1.2M266 482h1.2M191 449h1.2M284 451h1.2M213 449h1.2M311 425h1.2M325 428h1.2M329 429h1.2M332 377h1.2M296 471h1.2M177 450h1.2M257 359h1.2M270 460h1.2M315 462h1.2M289 477h1.2M242 485h1.2M331 419h1.2M179 453h1.2M291 476h1.2M254 443h1.2M298 474h1.2M197 444h1.2M319 421h1.2M262 454h1.2M178 419h1.2M324 447h1.2M180 457h1.2M270 470h1.2M305 411h1.2M322 424h1.2M328 381h1.2M195 392h1.2M223 443h1.2M218 466h1.2M232 482h1.2M200 416h1.2M331 445h1.2M231 486h1.2M176 383h1.2M214 458h1.2M317 461h1.2M202 410h1.2M318 409h1.2M298 452h1.2M239 487h1.2M188 456h1.2M243 477h1.2M275 475h1.2M228 471h1.2M245 472h1.2M311 433h1.2M306 429h1.2M198 424h1.2M259 448h1.2M268 426h1.2M219 453h1.2M265 453h1.2M314 456h1.2M305 423h1.2M249 483h1.2M252 491h1.2M218 465h1.2M274 483h1.2M319 402h1.2M207 469h1.2M216 450h1.2M244 418h1.2M314 449h1.2M328 391h1.2M178 422h1.2M303 460h1.2M249 493h1.2M326 385h1.2M183 461h1.2M310 418h1.2M177 393h1.2M288 462h1.2M257 485h1.2M179 424h1.2M177 429h1.2M317 446h1.2M262 485h1.2M243 477h1.2M239 463h1.2M303 386h1.2M225 472h1.2M291 444h1.2M259 402h1.2M223 453h1.2M245 478h1.2M299 430h1.2M317 409h1.2M231 473h1.2M217 448h1.2M213 458h1.2M285 456h1.2M329 454h1.2M270 479h1.2M260 437h1.2M314 441h1.2M244 375h1.2M190 451h1.2M247 432h1.2M314 462h1.2M309 457h1.2M323 443h1.2M225 471h1.2M198 465h1.2M210 471h1.2M189 456h1.2M327 429h1.2M184 450h1.2M200 406h1.2M301 429h1.2M178 426h1.2M189 420h1.2M247 487h1.2M300 437h1.2M259 471h1.2M231 418h1.2M215 459h1.2M327 428h1.2M281 414h1.2M250 465h1.2M214 425h1.2M189 435h1.2M327 428h1.2M280 457h1.2M285 469h1.2M323 388h1.2M178 414h1.2M274 433h1.2M328 440h1.2M258 479h1.2M265 440h1.2M321 452h1.2M330 446h1.2M220 473h1.2M195 461h1.2M231 474h1.2M296 475h1.2M323 422h1.2M187 415h1.2M323 431h1.2M181 420h1.2M230 456h1.2M276 444h1.2M329 451h1.2M281 467h1.2M209 458h1.2M271 486h1.2M223 474h1.2M208 468h1.2M248 493h1.2M265 396h1.2M329 410h1.2M308 447h1.2M255 474h1.2M331 431h1.2M176 417h1.2M261 462h1.2M265 423h1.2M312 410h1.2M308 431h1.2M243 473h1.2M205 472h1.2M198 393h1.2M328 391h1.2M304 421h1.2M312 455h1.2M223 418h1.2M207 473h1.2M189 414h1.2M204 398h1.2M248 490h1.2M326 459h1.2M221 436h1.2M185 440h1.2M264 490h1.2M222 414h1.2M307 384h1.2M244 491h1.2M331 430h1.2M183 426h1.2M188 411h1.2M238 467h1.2M316 404h1.2M226 483h1.2M177 397h1.2M248 443h1.2M221 388h1.2M223 432h1.2M195 465h1.2M221 443h1.2M196 457h1.2M292 466h1.2M295 469h1.2M218 470h1.2M192 462h1.2M323 424h1.2M233 451h1.2M265 487h1.2M184 460h1.2M326 384h1.2M230 406h1.2M220 450h1.2M225 434h1.2M210 462h1.2M217 456h1.2M279 485h1.2M328 437h1.2M192 457h1.2M299 395h1.2M230 483h1.2M215 454h1.2M206 457h1.2M325 402h1.2M216 475h1.2M324 393h1.2M180 455h1.2M303 410h1.2M181 443h1.2M208 396h1.2M327 441h1.2M204 467h1.2M306 469h1.2M233 485h1.2M279 446h1.2M200 370h1.2M228 480h1.2M189 450h1.2M318 456h1.2M191 427h1.2M280 482h1.2M246 453h1.2M321 447h1.2M299 438h1.2M248 454h1.2M193 460h1.2M321 440h1.2M236 391h1.2M330 440h1.2M257 484h1.2M211 432h1.2M323 390h1.2M198 455h1.2M194 404h1.2M188 382h1.2M181 451h1.2M286 481h1.2M269 485h1.2M193 397h1.2M192 456h1.2M317 387h1.2M198 371h1.2M210 449h1.2M188 432h1.2M177 454h1.2M190 412h1.2M179 443h1.2M184 444h1.2M303 446h1.2M319 390h1.2M250 485h1.2M253 432h1.2M179 403h1.2M195 434h1.2M186 394h1.2M249 472h1.2M319 400h1.2M267 473h1.2M318 386h1.2M187 431h1.2M306 367h1.2M194 410h1.2M292 431h1.2M318 429h1.2M321 429h1.2M214 440h1.2M271 486h1.2M211 464h1.2M300 464h1.2M284 463h1.2M254 487h1.2M282 469h1.2M229 484h1.2M248 442h1.2M283 471h1.2M242 468h1.2M253 495h1.2M332 423h1.2M266 454h1.2M224 414h1.2M242 392h1.2M273 488h1.2M320 435h1.2M329 416h1.2M179 457h1.2M279 466h1.2M201 417h1.2M184 437h1.2M332 390h1.2M299 417h1.2M327 384h1.2M326 442h1.2M211 441h1.2M248 467h1.2M284 456h1.2M191 402h1.2M192 459h1.2M184 399h1.2M292 471h1.2M189 454h1.2M186 437h1.2M330 415h1.2M257 455h1.2M330 454h1.2M294 440h1.2M240 485h1.2M179 385h1.2M321 458h1.2M281 482h1.2M270 419h1.2M204 442h1.2M231 453h1.2M191 408h1.2M291 452h1.2M221 461h1.2M325 442h1.2M177 456h1.2M283 440h1.2M241 477h1.2M290 400h1.2M275 473h1.2M258 449h1.2M239 489h1.2M321 379h1.2M228 376h1.2M174 381h1.2M216 446h1.2M293 448h1.2M307 464h1.2M313 428h1.2M326 383h1.2M180 459h1.2M323 459h1.2M258 423h1.2M197 449h1.2M257 480h1.2M173 377h1.2M252 486h1.2M313 462h1.2M177 449h1.2M183 435h1.2M222 458h1.2M187 449h1.2M257 495h1.2M237 477h1.2M189 424h1.2M238 452h1.2M273 418h1.2M317 463h1.2M175 400h1.2M214 434h1.2M242 487h1.2M325 434h1.2M322 408h1.2M227 443h1.2M324 433h1.2M300 451h1.2M278 372h1.2M254 429h1.2M255 489h1.2M241 406h1.2M213 469h1.2M265 443h1.2M264 349h1.2M208 463h1.2M210 367h1.2M249 430h1.2M179 403h1.2M229 448h1.2M325 424h1.2M220 472h1.2M208 445h1.2M323 411h1.2M321 463h1.2M240 470h1.2M193 440h1.2M328 395h1.2M202 433h1.2M174 382h1.2M183 452h1.2M323 385h1.2M266 483h1.2M198 393h1.2M212 470h1.2M224 455h1.2M250 473h1.2M193 433h1.2M304 425h1.2M183 443h1.2M252 395h1.2M179 396h1.2M186 453h1.2M194 444h1.2M325 381h1.2M223 469h1.2M294 431h1.2M246 454h1.2M314 389h1.2M200 467h1.2M175 381h1.2M193 394h1.2M317 457h1.2M188 448h1.2M331 438h1.2M324 411h1.2M304 471h1.2M257 469h1.2M195 423h1.2M321 394h1.2M305 467h1.2M276 471h1.2M276 482h1.2M307 468h1.2M241 432h1.2M326 388h1.2M228 432h1.2M301 406h1.2M260 466h1.2M320 447h1.2M323 426h1.2M180 456h1.2M295 436h1.2M299 375h1.2M214 459h1.2M261 419h1.2M204 442h1.2M188 431h1.2M298 454h1.2M197 465h1.2M324 399h1.2M240 403h1.2M185 459h1.2M260 429h1.2M306 445h1.2M181 400h1.2M190 425h1.2M202 457h1.2M329 414h1.2M288 469h1.2M303 418h1.2M295 415h1.2M218 434h1.2M186 445h1.2M240 484h1.2M331 401h1.2M299 420h1.2M202 468h1.2M233 468h1.2M178 449h1.2M302 461h1.2M232 423h1.2M181 443h1.2M186 459h1.2M190 452h1.2M297 461h1.2M259 418h1.2M185 463h1.2M309 466h1.2M177 410h1.2M264 488h1.2M334 379h1.2M315 377h1.2M198 468h1.2M258 431h1.2M216 434h1.2M315 462h1.2M180 392h1.2M290 449h1.2M278 412h1.2M231 353h1.2M184 417h1.2M191 403h1.2M231 472h1.2M212 423h1.2M200 368h1.2M324 442h1.2M184 385h1.2M325 429h1.2M291 473h1.2M283 429h1.2M243 491h1.2M321 452h1.2M190 459h1.2M326 438h1.2M250 495h1.2M201 415h1.2M322 419h1.2M254 449h1.2M243 458h1.2M183 421h1.2M217 451h1.2M225 473h1.2M235 425h1.2M311 442h1.2M260 457h1.2M281 464h1.2M295 427h1.2M223 482h1.2M192 404h1.2M324 435h1.2M316 464h1.2M330 385h1.2M299 433h1.2M267 461h1.2M231 416h1.2M326 455h1.2M277 481h1.2M328 447h1.2M290 471h1.2M188 418h1.2M277 465h1.2M262 488h1.2M317 453h1.2M194 414h1.2M324 454h1.2M226 357h1.2M255 446h1.2M197 433h1.2M274 415h1.2M319 429h1.2M210 468h1.2M252 471h1.2M196 451h1.2M197 410h1.2M332 412h1.2M188 401h1.2M202 468h1.2M175 411h1.2M331 382h1.2M228 404h1.2M307 446h1.2M264 462h1.2M197 467h1.2M249 451h1.2M185 424h1.2M329 404h1.2M274 476h1.2M185 408h1.2M273 448h1.2M209 393h1.2M264 428h1.2M329 406h1.2M258 481h1.2M317 449h1.2M275 466h1.2M247 482h1.2M228 392h1.2M327 448h1.2M278 442h1.2M191 397h1.2M207 472h1.2M180 457h1.2M259 480h1.2M309 412h1.2M244 479h1.2M243 474h1.2M238 445h1.2M181 440h1.2M305 464h1.2M181 457h1.2M214 456h1.2M202 449h1.2M250 484h1.2M326 415h1.2M187 460h1.2M204 473h1.2M273 480h1.2M273 478h1.2M200 457h1.2M238 474h1.2M321 448h1.2M285 461h1.2M182 410h1.2M231 396h1.2M216 420h1.2M195 454h1.2M319 451h1.2M182 454h1.2M180 401h1.2M179 383h1.2M244 469h1.2M253 434h1.2M180 376h1.2M268 436h1.2M198 468h1.2M218 472h1.2M216 476h1.2M214 410h1.2M283 481h1.2M216 458h1.2M257 460h1.2M250 460h1.2M290 464h1.2M320 437h1.2M191 447h1.2M246 460h1.2M232 445h1.2M307 440h1.2M228 480h1.2M287 432h1.2M287 441h1.2M330 420h1.2M274 436h1.2M316 434h1.2M328 447h1.2M180 451h1.2M331 434h1.2M272 463h1.2M184 450h1.2M190 437h1.2M180 409h1.2M249 374h1.2M191 443h1.2M187 414h1.2M277 461h1.2M320 462h1.2M264 454h1.2M231 467h1.2M331 392h1.2M319 415h1.2M318 425h1.2M297 373h1.2M300 463h1.2M210 413h1.2M320 457h1.2M179 448h1.2M252 444h1.2M332 411h1.2M265 471h1.2M246 458h1.2M204 460h1.2M297 463h1.2M228 446h1.2M314 453h1.2M177 441h1.2M178 425h1.2M194 406h1.2M293 468h1.2M196 449h1.2M209 433h1.2M248 475h1.2M315 464h1.2M290 383h1.2M257 496h1.2M274 371h1.2M185 448h1.2M203 468h1.2M314 415h1.2M238 484h1.2M193 462h1.2M253 491h1.2M245 467h1.2M285 447h1.2M186 431h1.2M199 432h1.2M235 488h1.2M254 483h1.2M245 489h1.2M187 438h1.2M246 489h1.2M187 417h1.2M190 433h1.2M310 386h1.2M289 472h1.2M325 453h1.2M190 452h1.2M188 435h1.2M229 482h1.2M201 466h1.2M248 461h1.2M237 473h1.2M292 472h1.2M232 392h1.2M181 391h1.2M315 450h1.2M261 483h1.2M329 417h1.2M325 455h1.2M319 417h1.2M190 401h1.2M308 451h1.2M228 483h1.2M283 479h1.2M226 481h1.2M189 464h1.2M323 426h1.2M182 461h1.2M268 428h1.2M332 410h1.2M251 436h1.2M252 491h1.2M214 470h1.2M175 397h1.2M203 462h1.2M214 434h1.2M306 427h1.2M187 457h1.2M188 437h1.2M248 450h1.2M179 429h1.2M177 434h1.2M179 437h1.2M324 402h1.2M177 453h1.2M273 469h1.2M177 447h1.2M178 402h1.2M292 416h1.2M275 470h1.2M197 436h1.2M184 398h1.2M306 400h1.2M252 472h1.2M222 450h1.2M270 481h1.2M217 403h1.2M300 454h1.2M285 472h1.2M306 460h1.2M199 465h1.2M323 392h1.2M242 474h1.2M230 471h1.2M319 427h1.2M250 422h1.2M317 437h1.2M333 377h1.2M325 461h1.2M321 420h1.2M177 443h1.2M220 462h1.2M297 464h1.2M323 430h1.2M188 406h1.2M261 483h1.2M233 421h1.2M272 468h1.2M216 428h1.2M324 452h1.2M287 478h1.2M294 433h1.2M316 463h1.2M323 445h1.2M209 455h1.2M313 397h1.2M271 484h1.2M279 480h1.2M236 472h1.2M316 460h1.2M328 429h1.2M209 469h1.2M209 430h1.2M206 429h1.2M176 416h1.2M323 427h1.2M312 450h1.2M279 393h1.2M195 460h1.2M332 406h1.2M284 474h1.2M204 466h1.2M193 461h1.2M231 479h1.2M284 435h1.2M306 468h1.2M304 447h1.2M203 452h1.2M260 388h1.2M323 442h1.2M237 489h1.2M226 459h1.2M192 435h1.2M207 461h1.2M177 452h1.2M235 488h1.2M234 443h1.2M297 438h1.2M323 398h1.2M201 443h1.2M222 467h1.2M208 444h1.2M186 453h1.2M331 416h1.2M224 481h1.2M278 473h1.2M245 485h1.2M202 469h1.2M249 493h1.2M295 435h1.2M216 445h1.2M282 444h1.2M197 436h1.2M325 414h1.2M236 451h1.2M301 445h1.2M203 367h1.2M199 406h1.2M239 486h1.2M179 443h1.2M292 425h1.2M245 466h1.2M177 448h1.2M325 404h1.2M269 434h1.2M218 474h1.2M196 458h1.2M183 387h1.2M236 471h1.2M250 495h1.2M224 453h1.2M251 467h1.2M270 461h1.2M275 479h1.2M204 460h1.2M230 474h1.2M297 475h1.2M225 475h1.2M196 424h1.2M179 429h1.2M327 408h1.2M331 424h1.2M286 404h1.2M271 465h1.2M185 452h1.2M308 400h1.2M313 372h1.2M287 464h1.2M263 439h1.2M268 481h1.2M185 445h1.2M286 406h1.2M182 438h1.2M257 421h1.2M235 450h1.2M309 442h1.2M277 484h1.2M310 453h1.2M256 345h1.2M180 402h1.2M182 449h1.2M189 432h1.2M311 446h1.2M256 493h1.2M205 441h1.2M300 428h1.2M326 429h1.2M176 417h1.2M225 406h1.2M232 471h1.2M190 376h1.2M229 428h1.2M249 399h1.2M198 464h1.2M252 491h1.2M318 388h1.2M300 464h1.2M292 473h1.2M242 491h1.2M280 445h1.2M259 481h1.2M329 458h1.2M189 460h1.2M211 459h1.2M318 455h1.2M189 410h1.2M252 486h1.2M175 409h1.2M241 455h1.2M308 437h1.2M193 466h1.2M327 421h1.2M325 411h1.2M178 376h1.2M233 477h1.2M267 487h1.2M224 469h1.2M287 413h1.2M235 473h1.2M248 449h1.2M284 392h1.2M203 462h1.2M231 441h1.2M334 378h1.2M276 415h1.2M183 449h1.2M302 462h1.2M321 459h1.2M218 363h1.2M193 453h1.2M287 371h1.2M202 471h1.2M248 491h1.2M211 455h1.2M192 465h1.2M288 462h1.2M306 467h1.2M226 478h1.2M181 416h1.2M321 460h1.2M186 411h1.2M184 412h1.2M300 395h1.2M301 403h1.2M274 482h1.2M322 414h1.2M237 481h1.2M178 457h1.2M178 380h1.2M276 423h1.2M290 475h1.2M284 446h1.2M249 474h1.2M194 394h1.2M278 370h1.2M329 432h1.2M203 392h1.2M183 461h1.2M238 485h1.2M181 437h1.2M246 450h1.2M231 432h1.2M202 413h1.2M237 407h1.2M203 383h1.2M296 474h1.2M284 475h1.2M190 449h1.2M306 459h1.2M202 449h1.2M283 476h1.2M186 418h1.2M274 486h1.2M325 385h1.2M224 463h1.2M328 455h1.2M183 439h1.2M236 405h1.2M179 441h1.2M325 445h1.2M301 449h1.2M177 418h1.2M306 441h1.2M329 434h1.2M214 381h1.2M193 388h1.2M203 393h1.2M259 484h1.2M259 474h1.2M216 410h1.2M248 472h1.2M272 458h1.2M189 403h1.2M236 445h1.2M188 453h1.2M278 465h1.2M186 432h1.2M279 470h1.2M328 448h1.2M235 449h1.2M305 463h1.2M184 434h1.2M238 447h1.2M224 429h1.2M227 470h1.2M256 488h1.2M188 429h1.2M316 463h1.2M331 410h1.2M312 467h1.2M246 401h1.2M236 405h1.2M328 458h1.2M309 421h1.2M320 404h1.2M301 463h1.2M266 437h1.2M199 413h1.2M253 497h1.2M322 449h1.2M228 478h1.2M251 472h1.2M287 453h1.2M229 477h1.2M199 443h1.2M189 371h1.2M317 465h1.2M199 454h1.2M175 393h1.2M321 452h1.2M273 438h1.2M182 402h1.2M270 475h1.2M199 452h1.2M267 467h1.2M329 394h1.2M186 427h1.2M183 382h1.2M305 388h1.2M253 446h1.2M182 391h1.2M258 472h1.2M280 469h1.2M205 419h1.2M324 397h1.2M181 403h1.2M214 477h1.2M206 363h1.2M315 459h1.2M182 456h1.2M190 398h1.2M288 453h1.2M251 496h1.2M230 424h1.2M328 400h1.2M203 460h1.2M254 494h1.2M291 473h1.2M328 432h1.2M274 418h1.2M193 460h1.2M290 469h1.2M320 427h1.2M277 452h1.2M260 487h1.2M201 457h1.2M282 446h1.2M239 490h1.2M324 450h1.2M322 458h1.2M291 457h1.2M283 466h1.2M303 473h1.2M282 460h1.2M239 474h1.2M190 463h1.2M329 392h1.2M325 389h1.2M321 451h1.2M333 378h1.2M316 452h1.2M241 427h1.2M264 446h1.2M194 467h1.2M300 452h1.2M320 432h1.2M276 473h1.2M296 420h1.2M307 447h1.2M180 397h1.2M205 462h1.2M198 380h1.2M295 465h1.2M262 482h1.2M328 435h1.2M321 421h1.2M249 483h1.2M309 461h1.2M180 410h1.2M327 394h1.2M332 399h1.2M175 407h1.2M329 434h1.2M219 478h1.2M194 445h1.2M240 471h1.2M304 467h1.2M180 437h1.2M214 459h1.2M215 469h1.2M327 430h1.2M224 466h1.2M200 385h1.2M261 459h1.2M330 449h1.2M197 452h1.2M212 396h1.2M279 477h1.2M278 485h1.2M331 394h1.2M320 375h1.2M178 422h1.2M279 463h1.2M196 443h1.2M322 437h1.2M259 488h1.2M206 428h1.2M245 494h1.2M205 447h1.2M299 474h1.2M312 401h1.2M202 386h1.2M330 398h1.2M269 486h1.2M263 474h1.2M248 489h1.2M250 490h1.2M233 464h1.2M190 370h1.2M220 475h1.2M296 472h1.2M317 447h1.2M321 431h1.2M187 435h1.2M177 402h1.2M259 451h1.2M325 423h1.2M268 466h1.2M203 393h1.2M210 474h1.2M308 405h1.2M185 394h1.2M331 396h1.2M220 458h1.2M332 383h1.2M313 396h1.2M208 474h1.2M248 488h1.2M283 482h1.2M283 436h1.2M294 477h1.2M206 451h1.2M250 494h1.2M185 461h1.2M324 418h1.2M248 484h1.2M215 474h1.2M327 434h1.2M188 386h1.2M291 465h1.2M312 463h1.2M325 446h1.2M330 450h1.2M323 447h1.2M299 418h1.2M266 416h1.2M294 455h1.2M178 403h1.2M327 446h1.2M328 435h1.2M330 397h1.2M325 449h1.2M310 409h1.2M194 372h1.2M324 460h1.2M222 402h1.2M315 405h1.2M234 482h1.2M175 389h1.2M277 482h1.2M266 480h1.2M331 387h1.2M329 378h1.2M331 391h1.2M258 346h1.2M237 475h1.2M183 430h1.2M284 464h1.2M283 467h1.2M244 444h1.2M197 448h1.2M221 477h1.2M241 491h1.2M320 446h1.2M199 458h1.2M176 388h1.2M290 479h1.2M186 420h1.2M283 472h1.2M262 404h1.2M323 450h1.2M246 468h1.2M205 458h1.2M186 375h1.2M303 415h1.2M220 412h1.2M326 400h1.2M228 452h1.2M333 387h1.2M179 438h1.2M248 471h1.2M318 460h1.2M329 444h1.2M183 460h1.2M214 459h1.2M187 438h1.2M245 436h1.2M201 399h1.2M297 409h1.2M311 443h1.2M241 480h1.2M232 471h1.2M259 430h1.2M258 465h1.2M292 399h1.2M239 470h1.2M223 470h1.2M186 438h1.2M257 493h1.2M243 473h1.2M287 363h1.2M268 431h1.2M269 449h1.2M230 470h1.2M253 488h1.2M213 468h1.2M193 421h1.2M273 469h1.2M326 448h1.2M204 428h1.2M259 480h1.2M318 410h1.2M305 399h1.2M235 441h1.2M262 417h1.2M188 464h1.2M317 401h1.2M322 381h1.2M239 488h1.2M184 460h1.2M199 462h1.2M232 476h1.2M258 348h1.2M243 451h1.2M257 450h1.2M309 465h1.2M328 393h1.2M332 409h1.2M236 464h1.2M308 430h1.2M287 417h1.2M228 474h1.2M216 405h1.2M202 468h1.2M263 442h1.2M217 473h1.2M189 412h1.2M229 464h1.2M198 466h1.2M308 450h1.2M244 490h1.2M278 472h1.2M253 471h1.2M188 439h1.2M251 467h1.2M265 491h1.2M213 365h1.2M299 464h1.2M281 445h1.2M330 458h1.2M306 436h1.2M266 448h1.2M249 419h1.2M211 441h1.2M322 453h1.2M301 472h1.2M285 467h1.2M321 429h1.2M324 455h1.2M301 471h1.2M192 437h1.2M215 477h1.2M265 451h1.2M248 409h1.2M316 465h1.2M225 482h1.2M178 441h1.2M323 385h1.2M328 383h1.2M330 451h1.2M175 386h1.2M278 422h1.2M235 412h1.2M314 444h1.2M245 490h1.2M188 449h1.2M305 451h1.2M291 432h1.2M292 434h1.2M239 480h1.2M206 463h1.2M206 445h1.2M334 382h1.2M203 463h1.2M277 457h1.2M245 446h1.2M282 436h1.2M246 476h1.2M299 382h1.2M298 368h1.2M312 404h1.2M317 410h1.2M329 449h1.2M179 456h1.2M332 381h1.2M222 402h1.2M302 467h1.2M208 454h1.2M258 466h1.2M175 399h1.2M271 479h1.2M177 411h1.2M213 459h1.2M330 454h1.2M215 460h1.2M234 479h1.2M198 460h1.2M326 412h1.2M330 457h1.2M330 394h1.2M183 374h1.2M264 476h1.2M289 470h1.2M174 382h1.2M312 462h1.2M285 430h1.2M322 447h1.2M317 460h1.2M254 483h1.2M330 444h1.2M329 378h1.2M300 452h1.2M247 424h1.2M233 415h1.2M319 460h1.2M211 446h1.2M177 428h1.2M286 444h1.2M177 408h1.2M258 482h1.2M185 452h1.2M325 441h1.2M321 388h1.2M272 484h1.2M268 460h1.2M323 441h1.2M325 411h1.2M212 466h1.2M176 427h1.2M179 388h1.2M296 419h1.2M255 469h1.2M317 373h1.2M303 468h1.2M329 457h1.2M322 412h1.2M324 373h1.2M213 452h1.2M271 475h1.2M317 461h1.2M211 409h1.2M195 463h1.2M277 443h1.2M285 378h1.2M196 461h1.2M216 463h1.2M272 441h1.2M313 370h1.2M311 415h1.2M318 449h1.2M333 378h1.2M176 414h1.2M330 385h1.2M266 491h1.2M200 433h1.2M262 486h1.2M257 487h1.2M262 458h1.2M264 489h1.2M196 404h1.2M249 481h1.2M178 438h1.2M293 436h1.2M324 443h1.2M312 463h1.2M176 381h1.2M304 420h1.2M176 377h1.2M311 453h1.2M272 457h1.2M214 435h1.2M219 452h1.2M220 438h1.2M177 389h1.2M257 472h1.2M189 452h1.2M193 443h1.2M186 458h1.2M178 438h1.2M291 468h1.2M254 495h1.2M329 383h1.2M199 464h1.2M290 464h1.2M324 412h1.2M248 447h1.2M264 481h1.2M327 457h1.2M306 371h1.2M251 489h1.2M225 412h1.2M185 459h1.2M199 380h1.2M189 461h1.2M332 416h1.2M265 432h1.2M309 451h1.2M266 481h1.2M238 473h1.2M328 432h1.2M297 440h1.2M296 396h1.2M227 448h1.2M308 462h1.2M244 491h1.2M200 431h1.2M327 423h1.2M200 453h1.2M181 457h1.2M264 451h1.2M212 377h1.2M254 431h1.2M326 422h1.2M224 457h1.2M296 469h1.2M193 413h1.2M229 437h1.2M276 417h1.2M284 434h1.2M185 396h1.2M214 400h1.2M327 454h1.2M185 424h1.2M257 475h1.2M186 438h1.2M256 477h1.2M217 363h1.2M228 434h1.2M217 466h1.2M236 394h1.2M179 376h1.2M186 413h1.2M262 484h1.2M204 472h1.2M176 422h1.2M302 457h1.2M178 423h1.2M294 474h1.2M331 408h1.2M183 403h1.2M181 388h1.2M327 395h1.2M222 449h1.2M197 445h1.2M291 465h1.2M329 422h1.2M245 446h1.2M314 384h1.2M237 471h1.2M259 466h1.2M265 470h1.2M230 436h1.2M246 484h1.2M320 373h1.2M292 478h1.2M253 458h1.2M252 488h1.2M229 448h1.2M300 435h1.2M267 461h1.2M243 488h1.2M222 467h1.2M302 458h1.2M299 465h1.2M278 473h1.2M312 451h1.2M177 415h1.2M318 409h1.2M256 483h1.2M253 411h1.2M213 456h1.2M282 467h1.2M287 447h1.2M201 417h1.2M224 482h1.2M236 444h1.2M249 490h1.2M249 488h1.2M177 397h1.2M177 438h1.2M313 465h1.2M206 453h1.2M232 465h1.2M290 465h1.2M175 413h1.2M208 452h1.2M299 413h1.2M176 430h1.2M176 379h1.2M325 440h1.2M193 451h1.2M223 438h1.2M216 477h1.2M238 483h1.2M332 385h1.2M271 476h1.2M320 431h1.2M330 398h1.2M257 444h1.2M255 494h1.2M204 466h1.2M287 471h1.2M317 449h1.2M271 475h1.2M219 446h1.2M233 483h1.2M199 436h1.2M267 489h1.2M287 476h1.2M177 454h1.2M275 461h1.2M193 401h1.2M305 468h1.2M250 490h1.2M251 486h1.2" stroke="#fff" stroke-width="1.2" fill="none" opacity="0.9"/><path d="M126.8 171.9L167.0 188.4L165.1 229.4L126.8 248.9L88.5 229.4L86.6 188.4ZM126.8 208.9L86.6 188.4M126.8 208.9L167.0 188.4M126.8 208.9L126.8 248.9" fill="none" stroke="#8a8a8a" stroke-width="0.65"/><path d="M41.7 276.0L82.7 292.5L81.3 335.5L41.7 353.0L2.1 335.5L0.7 292.5Z" fill="#FF8080"/><path transform="scale(0.5)" d="M7 638h1.2M8 639h1.2M57 672h1.2M158 614h1.2M14 655h1.2M6 671h1.2M72 692h1.2M64 658h1.2M124 679h1.2M50 675h1.2M155 641h1.2M57 563h1.2M123 674h1.2M75 680h1.2M159 665h1.2M160 642h1.2M10 619h1.2M91 700h1.2M125 671h1.2M79 691h1.2M111 670h1.2M23 628h1.2M32 672h1.2M100 697h1.2M149 654h1.2M162 670h1.2M157 594h1.2M60 683h1.2M131 671h1.2M124 669h1.2M113 632h1.2M123 622h1.2M120 674h1.2M129 666h1.2M98 664h1.2M129 662h1.2M61 687h1.2M130 669h1.2M119 642h1.2M109 666h1.2M19 660h1.2M15 653h1.2M6 642h1.2M86 684h1.2M99 696h1.2M118 647h1.2M32 652h1.2M64 677h1.2M161 658h1.2M27 658h1.2M19 649h1.2M117 674h1.2M157 670h1.2M155 582h1.2M35 618h1.2M126 685h1.2M45 682h1.2M49 657h1.2M108 662h1.2M34 684h1.2M68 584h1.2M44 612h1.2M160 670h1.2M54 614h1.2M149 663h1.2M61 690h1.2M142 676h1.2M13 647h1.2M15 661h1.2M100 674h1.2M72 655h1.2M84 699h1.2M120 677h1.2M79 670h1.2M87 684h1.2M12 643h1.2M88 689h1.2M110 675h1.2M5 633h1.2M90 703h1.2M126 619h1.2M82 693h1.2M142 624h1.2M79 605h1.2M130 676h1.2M84 698h1.2M58 689h1.2M103 694h1.2M93 621h1.2M13 630h1.2M18 674h1.2M141 618h1.2M127 676h1.2M51 690h1.2M159 607h1.2M142 631h1.2M115 661h1.2M106 658h1.2M53 664h1.2M43 685h1.2M161 609h1.2M38 674h1.2M117 665h1.2M102 639h1.2M8 670h1.2M70 699h1.2M147 601h1.2M28 656h1.2M2 598h1.2M86 656h1.2M79 684h1.2M80 702h1.2M145 672h1.2M140 581h1.2M150 675h1.2M26 647h1.2M32 655h1.2M146 611h1.2M25 672h1.2M26 672h1.2M160 593h1.2M49 684h1.2M8 672h1.2M25 670h1.2M156 648h1.2M130 571h1.2M101 683h1.2M18 635h1.2M37 572h1.2M128 668h1.2M156 653h1.2M150 647h1.2M43 679h1.2M67 662h1.2M116 657h1.2M75 628h1.2M12 639h1.2M23 577h1.2M117 676h1.2M83 693h1.2M5 640h1.2M34 673h1.2M13 625h1.2M73 686h1.2M138 680h1.2M33 612h1.2M103 690h1.2M163 654h1.2M48 623h1.2M38 606h1.2M29 679h1.2M84 658h1.2M37 670h1.2M76 600h1.2M97 678h1.2M47 650h1.2M151 662h1.2M114 649h1.2M60 654h1.2M131 678h1.2M14 666h1.2M160 625h1.2M41 647h1.2M39 660h1.2M155 614h1.2M5 636h1.2M152 668h1.2M98 610h1.2M30 621h1.2M162 661h1.2M15 662h1.2M73 695h1.2M161 633h1.2M113 648h1.2M13 609h1.2M127 594h1.2M5 658h1.2M161 650h1.2M127 681h1.2M153 625h1.2M9 624h1.2M61 671h1.2M162 605h1.2M7 655h1.2M155 643h1.2M72 697h1.2M124 682h1.2M130 603h1.2M95 676h1.2M85 676h1.2M81 675h1.2M41 621h1.2M141 667h1.2M90 702h1.2M27 673h1.2M147 652h1.2M77 690h1.2M69 649h1.2M29 647h1.2M97 692h1.2M122 645h1.2M144 652h1.2M7 620h1.2M123 661h1.2M106 640h1.2M5 585h1.2M160 592h1.2M164 640h1.2M154 664h1.2M122 687h1.2M67 679h1.2M109 643h1.2M6 602h1.2M77 650h1.2M13 640h1.2M8 672h1.2M100 684h1.2M118 618h1.2M45 688h1.2M75 690h1.2M86 685h1.2M29 626h1.2M123 655h1.2M122 677h1.2M73 561h1.2M116 690h1.2M96 686h1.2M152 637h1.2M70 684h1.2M60 643h1.2M132 613h1.2M75 687h1.2M91 658h1.2M46 623h1.2M71 629h1.2M49 681h1.2M87 620h1.2M121 668h1.2M85 701h1.2M49 659h1.2M159 670h1.2M134 641h1.2M47 629h1.2M163 624h1.2M64 677h1.2M51 649h1.2M15 657h1.2M37 662h1.2M136 621h1.2M122 625h1.2M93 694h1.2M50 659h1.2M73 684h1.2M72 701h1.2M131 577h1.2M97 642h1.2M140 645h1.2M31 676h1.2M89 664h1.2M8 637h1.2M71 655h1.2M94 658h1.2M84 681h1.2M110 648h1.2M161 642h1.2M36 645h1.2M14 607h1.2M149 677h1.2M76 703h1.2M129 678h1.2M41 656h1.2M95 693h1.2M43 687h1.2M58 650h1.2M55 641h1.2M112 666h1.2M31 575h1.2M97 678h1.2M149 584h1.2M139 678h1.2M60 680h1.2M52 636h1.2M42 653h1.2M153 661h1.2M58 692h1.2M84 630h1.2M28 670h1.2M123 687h1.2M90 697h1.2M81 627h1.2M132 610h1.2M130 684h1.2M165 590h1.2M22 626h1.2M129 667h1.2M105 670h1.2M74 685h1.2M161 640h1.2M26 666h1.2M33 676h1.2M46 675h1.2M133 658h1.2M57 694h1.2M161 589h1.2M33 658h1.2M8 648h1.2M39 681h1.2M118 667h1.2M160 587h1.2M8 633h1.2M155 667h1.2M13 626h1.2M126 687h1.2M55 692h1.2M164 592h1.2M4 629h1.2M140 614h1.2M125 666h1.2M146 675h1.2M159 630h1.2M82 659h1.2M55 617h1.2M157 669h1.2M29 637h1.2M89 677h1.2M4 622h1.2M155 651h1.2M154 647h1.2M81 660h1.2M25 652h1.2M127 643h1.2M51 684h1.2M160 665h1.2M69 646h1.2M4 657h1.2M121 686h1.2M123 661h1.2M75 655h1.2M56 680h1.2M93 696h1.2M54 692h1.2M88 702h1.2M10 663h1.2M147 649h1.2M18 641h1.2M111 643h1.2M56 631h1.2M133 583h1.2M13 615h1.2M145 598h1.2M156 670h1.2M59 650h1.2M32 674h1.2M103 691h1.2M60 689h1.2M19 644h1.2M143 614h1.2M153 647h1.2M68 690h1.2M20 668h1.2M152 641h1.2M120 627h1.2M32 662h1.2M19 678h1.2M71 666h1.2M115 688h1.2M20 650h1.2M153 610h1.2M16 641h1.2M20 673h1.2M59 612h1.2M121 655h1.2M106 658h1.2M8 612h1.2M22 615h1.2M148 612h1.2M159 629h1.2M44 657h1.2M110 689h1.2M34 673h1.2M109 649h1.2M158 660h1.2M102 638h1.2M3 627h1.2M37 671h1.2M162 640h1.2M21 609h1.2M26 641h1.2M128 595h1.2M163 586h1.2M29 645h1.2M19 666h1.2M13 619h1.2M14 601h1.2M62 692h1.2M162 597h1.2M155 617h1.2M138 668h1.2M64 671h1.2M51 678h1.2M15 645h1.2M12 614h1.2M117 638h1.2M97 658h1.2M131 633h1.2M103 679h1.2M18 671h1.2M63 695h1.2M151 599h1.2M54 693h1.2M16 668h1.2M7 665h1.2M110 640h1.2M162 628h1.2M9 673h1.2M5 666h1.2M14 668h1.2M93 695h1.2M149 658h1.2M12 658h1.2M65 656h1.2M124 678h1.2M100 660h1.2M4 648h1.2M142 637h1.2M128 685h1.2M73 676h1.2M55 693h1.2M66 643h1.2M159 671h1.2M145 660h1.2M51 684h1.2M114 648h1.2M80 649h1.2M64 696h1.2M108 665h1.2M143 661h1.2M123 642h1.2M143 675h1.2M115 678h1.2M136 669h1.2M158 616h1.2M23 638h1.2M32 674h1.2M149 634h1.2M73 697h1.2M86 656h1.2M74 695h1.2M127 682h1.2M63 641h1.2M154 624h1.2M84 704h1.2M158 652h1.2M6 644h1.2M56 693h1.2M164 620h1.2M146 645h1.2M138 673h1.2M60 636h1.2M73 696h1.2M79 699h1.2M128 676h1.2M160 651h1.2M5 659h1.2M88 656h1.2M152 656h1.2M27 647h1.2M76 691h1.2M96 662h1.2M31 614h1.2M16 584h1.2M93 666h1.2M70 685h1.2M163 608h1.2M87 702h1.2M108 685h1.2M82 700h1.2M33 657h1.2M122 679h1.2M107 684h1.2M127 575h1.2M122 651h1.2M100 670h1.2M62 623h1.2M106 695h1.2M17 613h1.2M69 685h1.2M93 701h1.2M36 654h1.2M164 612h1.2M79 702h1.2M9 664h1.2M5 622h1.2M129 667h1.2M153 648h1.2M72 687h1.2M146 677h1.2M5 648h1.2M61 690h1.2M29 670h1.2M92 684h1.2M106 670h1.2M90 689h1.2M45 568h1.2M104 695h1.2M160 583h1.2M84 655h1.2M111 665h1.2M37 657h1.2M37 684h1.2M162 665h1.2M132 651h1.2M152 618h1.2M71 651h1.2M65 697h1.2M74 667h1.2M20 592h1.2M124 666h1.2M164 587h1.2M141 681h1.2M115 663h1.2M41 639h1.2M83 694h1.2M103 691h1.2M95 663h1.2M47 685h1.2M111 686h1.2M10 603h1.2M75 661h1.2M158 629h1.2M136 620h1.2M120 672h1.2M162 626h1.2M151 642h1.2M57 621h1.2M52 691h1.2M93 699h1.2M20 649h1.2M44 672h1.2M63 600h1.2M126 664h1.2M26 663h1.2M9 638h1.2M86 674h1.2M140 600h1.2M67 689h1.2M108 695h1.2M124 648h1.2M136 669h1.2M23 613h1.2M106 577h1.2M5 662h1.2M22 676h1.2M33 660h1.2M19 653h1.2M12 674h1.2M101 693h1.2M53 674h1.2M75 702h1.2M145 667h1.2M21 600h1.2M7 657h1.2M84 704h1.2M43 685h1.2M141 613h1.2M11 661h1.2M10 659h1.2M50 681h1.2M137 648h1.2M72 687h1.2M45 686h1.2M156 634h1.2M82 682h1.2M28 638h1.2M161 598h1.2M71 693h1.2M153 582h1.2M30 672h1.2M131 645h1.2M52 613h1.2M61 695h1.2M58 673h1.2M126 633h1.2M17 583h1.2M5 611h1.2M16 638h1.2M99 677h1.2M18 636h1.2M57 674h1.2M110 693h1.2M8 644h1.2M101 665h1.2M8 627h1.2M11 623h1.2M80 653h1.2M78 699h1.2M116 612h1.2M14 621h1.2M142 662h1.2M97 694h1.2M39 650h1.2M6 620h1.2M151 655h1.2M143 637h1.2M65 694h1.2M134 646h1.2M44 682h1.2M154 650h1.2M40 615h1.2M152 663h1.2M158 671h1.2M41 677h1.2M76 556h1.2M3 604h1.2M149 677h1.2M144 638h1.2M159 617h1.2M160 655h1.2M37 639h1.2M93 676h1.2M20 626h1.2M86 701h1.2M56 676h1.2M117 660h1.2M81 629h1.2M158 621h1.2M60 660h1.2M41 664h1.2M10 658h1.2M159 669h1.2M146 641h1.2M76 690h1.2M43 672h1.2M110 692h1.2M126 610h1.2M12 648h1.2M156 657h1.2M157 584h1.2M102 666h1.2M72 667h1.2M108 683h1.2M69 698h1.2M11 653h1.2M22 672h1.2M7 613h1.2M91 680h1.2M160 592h1.2M29 674h1.2M67 629h1.2M127 679h1.2M68 673h1.2M113 668h1.2M6 658h1.2M27 669h1.2M6 619h1.2M122 686h1.2M21 675h1.2M6 592h1.2M10 594h1.2M93 676h1.2M141 651h1.2M147 630h1.2M79 697h1.2M32 622h1.2M88 679h1.2M126 671h1.2M42 664h1.2M3 641h1.2M114 579h1.2M101 559h1.2M144 662h1.2M46 675h1.2M75 673h1.2M50 672h1.2M139 601h1.2M34 660h1.2M90 667h1.2M8 633h1.2M111 628h1.2M33 682h1.2M55 676h1.2M103 696h1.2M20 651h1.2M19 649h1.2M106 663h1.2M152 654h1.2M160 614h1.2M75 683h1.2M66 648h1.2M47 690h1.2M79 692h1.2M42 659h1.2M43 643h1.2M67 685h1.2M38 601h1.2M156 631h1.2M40 629h1.2M14 581h1.2M119 684h1.2M4 602h1.2M157 614h1.2M105 686h1.2M10 618h1.2M137 660h1.2M156 606h1.2M102 697h1.2M161 667h1.2M162 607h1.2M143 654h1.2M120 671h1.2M96 669h1.2M39 669h1.2M153 659h1.2M40 675h1.2M76 660h1.2M10 632h1.2M5 658h1.2M157 660h1.2M139 628h1.2M37 665h1.2M58 686h1.2M66 679h1.2M121 685h1.2M103 677h1.2M15 666h1.2M73 665h1.2M19 660h1.2M59 675h1.2M67 696h1.2M144 679h1.2M121 663h1.2M124 628h1.2M150 664h1.2M162 658h1.2M122 649h1.2M20 637h1.2M96 668h1.2M135 663h1.2M9 641h1.2M104 680h1.2M154 672h1.2M5 637h1.2M108 694h1.2M5 623h1.2M18 660h1.2M152 654h1.2M94 689h1.2M157 673h1.2M84 679h1.2M156 667h1.2M75 679h1.2M156 628h1.2M102 686h1.2M139 664h1.2M135 606h1.2M114 666h1.2M66 691h1.2M161 583h1.2M34 665h1.2M64 665h1.2M79 685h1.2M72 692h1.2M110 628h1.2M23 616h1.2M120 690h1.2M143 671h1.2M5 611h1.2M111 653h1.2M49 643h1.2M16 589h1.2M11 631h1.2M13 667h1.2M159 648h1.2M150 626h1.2M87 681h1.2M130 685h1.2M149 651h1.2M76 699h1.2M11 604h1.2M16 674h1.2M84 672h1.2M159 671h1.2M163 627h1.2M88 700h1.2M14 663h1.2M159 668h1.2M63 671h1.2M156 586h1.2M96 689h1.2M128 674h1.2M119 689h1.2M34 633h1.2M72 677h1.2M141 611h1.2M154 617h1.2M116 672h1.2M8 637h1.2M123 685h1.2M151 604h1.2M159 628h1.2M94 699h1.2M156 658h1.2M110 652h1.2M43 593h1.2M100 677h1.2M141 662h1.2M81 628h1.2M108 629h1.2M49 680h1.2M125 683h1.2M67 673h1.2M5 646h1.2M56 661h1.2M116 673h1.2M93 622h1.2M106 669h1.2M62 670h1.2M11 637h1.2M39 652h1.2M20 649h1.2M144 640h1.2M12 665h1.2M145 677h1.2M157 584h1.2M46 670h1.2M44 686h1.2M119 674h1.2M52 692h1.2M118 681h1.2M162 669h1.2M147 633h1.2M5 597h1.2M3 632h1.2M135 678h1.2M163 613h1.2M162 641h1.2M148 676h1.2M10 590h1.2M7 664h1.2M161 601h1.2M54 619h1.2M67 669h1.2M11 602h1.2M50 684h1.2M77 691h1.2M127 680h1.2M15 676h1.2M143 576h1.2M82 650h1.2M7 644h1.2M114 684h1.2M59 683h1.2M4 598h1.2M46 689h1.2M28 663h1.2M156 632h1.2M4 621h1.2M57 692h1.2M8 596h1.2M17 669h1.2M33 674h1.2M86 693h1.2M131 603h1.2M71 697h1.2M157 584h1.2M74 685h1.2M102 649h1.2M147 624h1.2M20 643h1.2M84 702h1.2M109 658h1.2M27 632h1.2M141 680h1.2M66 695h1.2M146 617h1.2M132 684h1.2M96 685h1.2M99 696h1.2M141 657h1.2M45 635h1.2M28 605h1.2M77 601h1.2M88 675h1.2M99 664h1.2M74 697h1.2M139 671h1.2M130 662h1.2M39 644h1.2M155 654h1.2M119 567h1.2M135 660h1.2M32 655h1.2M122 674h1.2M159 665h1.2M140 673h1.2M65 647h1.2M19 642h1.2M144 645h1.2M135 665h1.2M96 671h1.2M23 656h1.2M4 618h1.2M6 648h1.2M71 689h1.2M77 636h1.2M84 700h1.2M154 625h1.2M60 694h1.2M88 679h1.2M20 675h1.2M153 655h1.2M143 675h1.2M121 673h1.2M121 681h1.2M41 678h1.2M88 701h1.2M161 657h1.2M69 686h1.2M25 670h1.2M72 622h1.2M145 633h1.2M12 656h1.2M38 671h1.2M117 684h1.2M3 624h1.2M160 667h1.2M144 636h1.2M147 629h1.2M71 654h1.2M7 585h1.2M22 656h1.2M94 681h1.2M5 642h1.2M71 682h1.2M80 627h1.2M132 664h1.2M51 683h1.2M40 676h1.2M98 689h1.2M59 681h1.2M22 596h1.2M160 637h1.2M102 675h1.2M130 662h1.2M19 644h1.2M48 631h1.2M8 599h1.2M12 658h1.2M73 636h1.2M138 626h1.2M126 685h1.2M7 597h1.2M138 678h1.2M22 667h1.2M66 684h1.2M120 687h1.2M15 648h1.2M157 649h1.2M69 659h1.2M145 606h1.2M95 683h1.2M25 669h1.2M82 701h1.2M102 687h1.2M78 633h1.2M67 680h1.2M153 617h1.2M132 674h1.2M114 679h1.2M162 652h1.2M140 675h1.2M17 645h1.2M50 682h1.2M135 618h1.2M6 653h1.2M13 670h1.2M49 592h1.2M150 630h1.2M115 660h1.2M47 618h1.2M101 684h1.2M163 644h1.2M36 671h1.2M119 621h1.2M80 660h1.2M4 606h1.2M106 694h1.2M123 686h1.2M44 689h1.2M44 676h1.2M142 677h1.2M14 609h1.2M106 692h1.2M45 665h1.2M38 613h1.2M82 704h1.2M159 605h1.2M16 676h1.2M149 602h1.2M155 650h1.2M73 695h1.2M56 636h1.2M66 688h1.2M72 662h1.2M69 691h1.2M65 667h1.2M47 653h1.2M99 642h1.2M18 676h1.2M121 624h1.2M16 659h1.2M79 687h1.2M150 666h1.2M113 654h1.2M17 676h1.2M94 632h1.2M109 675h1.2M54 683h1.2M89 699h1.2M63 683h1.2M37 685h1.2M128 650h1.2M104 671h1.2M14 675h1.2M12 608h1.2M113 670h1.2M18 677h1.2M23 679h1.2M59 672h1.2M88 691h1.2M104 562h1.2M100 683h1.2M155 589h1.2M20 641h1.2M99 667h1.2M53 682h1.2M150 649h1.2M153 619h1.2M86 700h1.2M156 582h1.2M117 650h1.2M51 650h1.2M80 660h1.2M152 665h1.2M74 698h1.2M43 681h1.2M34 679h1.2M15 600h1.2M19 664h1.2M124 686h1.2M162 671h1.2M160 596h1.2M83 654h1.2M113 680h1.2M18 603h1.2M116 675h1.2M62 603h1.2M12 655h1.2M133 656h1.2M132 669h1.2M9 616h1.2M107 632h1.2M157 665h1.2M88 647h1.2M117 684h1.2M154 585h1.2M6 643h1.2M10 644h1.2M155 594h1.2M99 633h1.2M130 682h1.2M42 600h1.2M116 650h1.2M4 633h1.2M16 584h1.2M8 602h1.2M122 671h1.2M47 679h1.2M18 675h1.2M103 693h1.2M15 666h1.2M71 693h1.2M156 624h1.2M24 677h1.2M144 675h1.2M34 671h1.2M60 685h1.2M151 639h1.2M105 693h1.2M15 668h1.2M115 662h1.2M63 693h1.2M93 699h1.2M62 694h1.2M163 634h1.2M3 611h1.2M122 682h1.2M97 682h1.2M21 669h1.2M91 624h1.2M83 694h1.2M88 666h1.2M6 599h1.2M11 654h1.2M137 627h1.2M95 685h1.2M20 652h1.2M165 593h1.2M83 656h1.2M69 654h1.2M39 673h1.2M155 597h1.2M2 602h1.2M33 682h1.2M152 637h1.2M145 631h1.2M12 613h1.2M144 674h1.2M76 688h1.2M159 647h1.2M116 689h1.2M26 578h1.2M115 632h1.2M116 691h1.2M4 621h1.2M131 684h1.2M149 674h1.2M119 648h1.2M114 673h1.2M130 683h1.2M104 693h1.2M128 646h1.2M82 704h1.2M83 632h1.2M158 588h1.2M129 655h1.2M5 671h1.2M17 648h1.2M33 618h1.2M71 653h1.2M15 616h1.2M149 663h1.2M136 680h1.2M48 683h1.2M97 674h1.2M116 690h1.2M155 650h1.2M152 610h1.2M61 649h1.2M77 674h1.2M6 606h1.2M152 632h1.2M124 682h1.2M150 616h1.2M82 659h1.2M152 612h1.2M22 636h1.2M31 647h1.2M100 658h1.2M38 644h1.2M88 685h1.2M64 668h1.2M101 650h1.2M132 675h1.2M67 698h1.2M51 614h1.2M151 581h1.2M141 657h1.2M142 630h1.2M82 697h1.2M20 656h1.2M79 689h1.2M17 602h1.2M162 633h1.2M145 588h1.2M100 641h1.2M21 673h1.2M132 602h1.2M87 668h1.2M162 628h1.2M161 620h1.2M67 632h1.2M118 688h1.2M136 664h1.2M145 667h1.2M69 672h1.2M116 567h1.2M142 666h1.2M132 660h1.2M158 657h1.2M29 682h1.2M71 695h1.2M42 665h1.2M135 577h1.2M133 574h1.2M111 668h1.2M94 650h1.2M161 665h1.2M158 592h1.2M8 617h1.2M144 675h1.2M160 634h1.2M108 684h1.2M14 674h1.2M4 616h1.2M44 671h1.2M39 638h1.2M21 600h1.2M140 676h1.2M19 653h1.2M7 595h1.2M115 675h1.2M152 584h1.2M132 684h1.2M19 674h1.2M99 697h1.2M62 685h1.2M26 655h1.2M151 652h1.2M123 570h1.2M97 562h1.2M31 641h1.2M5 593h1.2M56 671h1.2M117 685h1.2M69 690h1.2M107 670h1.2M69 695h1.2M80 688h1.2M59 692h1.2M38 684h1.2M116 624h1.2M135 574h1.2M146 601h1.2M69 692h1.2M154 588h1.2M133 619h1.2M123 615h1.2M125 659h1.2M8 636h1.2M148 585h1.2M159 625h1.2M103 664h1.2M84 697h1.2M163 589h1.2M80 682h1.2M92 673h1.2M95 689h1.2M42 672h1.2M26 676h1.2M70 649h1.2M158 607h1.2M7 662h1.2M106 635h1.2M58 689h1.2M140 618h1.2M54 684h1.2M100 644h1.2M38 664h1.2M37 639h1.2M77 689h1.2M99 643h1.2M10 641h1.2M103 627h1.2M150 597h1.2M27 608h1.2M135 651h1.2M102 685h1.2M8 585h1.2M59 692h1.2M17 650h1.2M23 627h1.2M21 594h1.2M71 687h1.2M133 672h1.2M88 672h1.2M15 596h1.2M74 650h1.2M162 649h1.2M161 586h1.2M69 699h1.2M137 677h1.2M145 674h1.2M73 695h1.2M54 689h1.2M27 672h1.2M17 665h1.2M61 671h1.2M126 676h1.2M61 622h1.2M18 674h1.2M53 607h1.2M8 660h1.2M47 655h1.2M83 701h1.2M59 661h1.2M93 692h1.2M17 660h1.2M151 589h1.2M36 643h1.2M17 614h1.2M14 650h1.2M101 632h1.2M18 674h1.2M84 700h1.2M143 679h1.2M9 665h1.2M160 660h1.2M2 585h1.2M83 684h1.2M45 688h1.2M158 634h1.2M155 624h1.2M66 697h1.2M32 679h1.2M11 651h1.2M100 684h1.2M119 686h1.2M161 617h1.2M147 665h1.2M66 683h1.2M6 649h1.2M63 625h1.2M10 585h1.2M143 641h1.2M93 668h1.2M161 658h1.2M128 664h1.2M39 627h1.2M4 607h1.2M129 636h1.2M14 627h1.2M65 698h1.2M106 664h1.2M154 636h1.2M80 687h1.2M45 682h1.2M68 587h1.2M100 564h1.2M119 611h1.2M158 648h1.2M144 612h1.2M142 678h1.2M151 622h1.2M155 657h1.2M74 683h1.2M153 609h1.2M69 678h1.2M97 687h1.2M60 653h1.2M29 657h1.2M107 659h1.2M42 680h1.2M132 667h1.2M49 683h1.2M161 607h1.2M107 667h1.2M61 667h1.2M9 604h1.2M97 666h1.2M40 595h1.2M5 609h1.2M26 627h1.2M131 664h1.2M38 683h1.2M149 668h1.2M162 645h1.2M43 648h1.2M158 589h1.2M77 689h1.2M60 649h1.2M65 674h1.2M15 673h1.2M118 680h1.2M67 648h1.2M79 683h1.2M9 655h1.2M95 648h1.2M91 695h1.2M112 659h1.2M114 647h1.2M56 679h1.2M164 585h1.2M130 664h1.2M27 679h1.2M22 649h1.2M54 676h1.2M140 658h1.2M8 612h1.2M103 688h1.2M154 629h1.2M24 582h1.2M113 669h1.2M54 667h1.2M122 609h1.2M72 642h1.2M122 688h1.2M45 674h1.2M56 694h1.2M153 608h1.2M37 635h1.2M108 694h1.2M73 673h1.2M133 632h1.2M25 635h1.2M159 649h1.2M122 685h1.2M121 658h1.2M64 690h1.2M4 634h1.2M147 675h1.2M51 636h1.2M4 647h1.2M19 585h1.2M50 686h1.2M149 668h1.2M143 667h1.2M126 676h1.2M153 669h1.2M36 604h1.2M49 662h1.2M22 677h1.2M13 610h1.2M12 630h1.2M134 632h1.2M107 686h1.2M93 701h1.2M123 668h1.2M60 693h1.2M98 673h1.2M63 637h1.2M20 671h1.2M23 625h1.2M6 626h1.2M35 661h1.2M56 677h1.2M163 641h1.2M114 691h1.2M125 672h1.2M11 629h1.2M79 692h1.2M147 676h1.2M14 597h1.2M2 592h1.2M116 662h1.2M6 660h1.2M161 632h1.2M139 610h1.2M79 644h1.2M29 650h1.2M12 627h1.2M102 654h1.2M62 668h1.2M105 623h1.2M121 651h1.2M59 674h1.2M127 676h1.2M24 653h1.2M39 679h1.2M17 669h1.2M155 641h1.2M57 639h1.2M76 693h1.2M4 609h1.2M157 656h1.2M11 671h1.2M129 623h1.2M126 639h1.2M77 651h1.2M78 701h1.2M94 657h1.2M23 619h1.2M85 627h1.2M134 679h1.2M39 660h1.2M139 620h1.2M125 661h1.2M75 674h1.2M147 670h1.2M142 665h1.2M4 589h1.2M7 622h1.2M82 701h1.2M117 680h1.2M44 640h1.2M61 693h1.2M94 679h1.2M6 621h1.2M16 653h1.2M161 631h1.2M74 689h1.2M52 675h1.2M10 673h1.2M130 596h1.2M72 669h1.2M77 639h1.2M64 676h1.2M158 654h1.2M10 584h1.2M20 650h1.2M99 659h1.2M11 652h1.2M53 658h1.2M30 637h1.2M159 664h1.2M103 688h1.2M26 680h1.2M48 675h1.2M121 661h1.2M7 652h1.2M104 658h1.2M16 662h1.2M126 666h1.2M154 655h1.2M42 684h1.2M161 628h1.2M23 583h1.2M81 557h1.2M74 699h1.2M162 623h1.2M56 686h1.2M26 649h1.2M152 662h1.2M33 651h1.2M142 577h1.2M109 671h1.2M149 651h1.2M86 701h1.2M9 594h1.2M159 630h1.2M121 686h1.2M6 623h1.2M150 593h1.2M85 674h1.2M133 679h1.2M53 686h1.2M89 680h1.2M146 632h1.2M50 628h1.2M77 614h1.2M23 579h1.2M137 629h1.2M66 683h1.2M153 669h1.2M157 633h1.2M64 697h1.2M133 650h1.2M62 666h1.2M154 660h1.2M155 644h1.2M43 686h1.2M22 597h1.2M111 624h1.2M154 601h1.2M134 651h1.2M71 628h1.2M126 686h1.2M75 663h1.2M6 660h1.2M163 613h1.2M8 644h1.2M62 640h1.2M11 661h1.2M9 672h1.2M50 684h1.2M99 672h1.2M105 679h1.2M41 658h1.2M68 699h1.2M126 687h1.2M163 594h1.2M154 646h1.2M125 650h1.2M10 640h1.2M163 586h1.2M38 638h1.2M57 679h1.2M28 665h1.2M44 679h1.2M135 649h1.2M13 583h1.2M57 685h1.2M103 693h1.2M81 677h1.2M163 661h1.2M70 689h1.2M47 670h1.2M8 641h1.2M133 615h1.2M73 671h1.2M5 630h1.2M137 642h1.2M110 673h1.2M136 609h1.2M158 635h1.2M64 692h1.2M85 645h1.2M25 669h1.2M18 650h1.2M52 658h1.2M129 677h1.2M157 662h1.2M38 648h1.2M10 666h1.2M3 640h1.2M102 683h1.2M156 657h1.2M40 683h1.2M76 700h1.2M95 685h1.2M162 667h1.2M38 639h1.2M163 620h1.2M40 667h1.2M78 665h1.2M39 660h1.2M5 647h1.2M54 689h1.2M110 678h1.2M89 695h1.2M150 653h1.2M22 655h1.2M20 654h1.2M91 668h1.2M72 684h1.2M18 637h1.2M136 656h1.2M19 668h1.2M81 685h1.2M128 648h1.2M135 576h1.2M150 660h1.2M24 666h1.2M62 685h1.2M61 696h1.2M75 655h1.2M101 695h1.2M20 647h1.2M157 649h1.2M124 687h1.2M22 678h1.2M157 645h1.2M47 677h1.2M29 664h1.2M91 692h1.2M67 698h1.2M138 666h1.2M119 690h1.2M61 639h1.2M5 662h1.2M155 630h1.2M63 646h1.2M22 655h1.2M129 658h1.2M35 683h1.2M9 626h1.2M8 630h1.2M112 667h1.2M135 671h1.2M156 670h1.2M80 702h1.2M113 683h1.2M144 663h1.2M38 632h1.2M58 664h1.2M65 648h1.2M19 672h1.2M149 638h1.2M14 654h1.2M3 640h1.2M82 689h1.2M61 652h1.2M146 674h1.2M161 656h1.2M73 644h1.2M9 664h1.2M37 671h1.2M113 609h1.2M29 652h1.2M104 605h1.2M5 654h1.2M73 685h1.2M105 687h1.2M5 608h1.2M116 682h1.2M129 647h1.2M80 597h1.2M94 693h1.2M61 691h1.2M5 652h1.2M124 663h1.2M116 680h1.2M93 697h1.2M127 577h1.2M139 611h1.2M47 657h1.2M54 682h1.2M69 685h1.2M10 639h1.2M51 632h1.2M121 668h1.2M92 685h1.2M150 641h1.2M57 680h1.2M123 673h1.2M37 642h1.2M153 586h1.2M65 684h1.2M106 658h1.2M68 674h1.2M129 644h1.2M87 703h1.2M42 648h1.2M41 669h1.2M122 650h1.2M136 600h1.2M138 631h1.2M45 671h1.2M140 651h1.2M65 660h1.2M22 674h1.2M113 685h1.2M94 656h1.2M93 697h1.2M86 688h1.2M154 636h1.2M106 682h1.2M58 681h1.2M27 675h1.2M131 674h1.2M129 643h1.2M30 642h1.2M59 620h1.2M105 673h1.2M79 626h1.2M17 635h1.2M129 684h1.2M164 594h1.2M152 672h1.2M99 688h1.2M163 604h1.2M159 666h1.2M62 660h1.2M25 678h1.2M11 662h1.2M7 642h1.2M67 629h1.2M9 657h1.2M132 664h1.2M4 623h1.2M160 669h1.2M114 692h1.2M103 691h1.2M49 615h1.2M140 625h1.2M49 689h1.2M154 618h1.2M92 691h1.2M105 668h1.2M119 673h1.2M110 690h1.2M101 658h1.2M52 675h1.2M126 681h1.2M91 657h1.2M141 611h1.2M92 696h1.2M138 626h1.2M108 639h1.2M68 698h1.2M32 574h1.2M105 657h1.2M28 626h1.2M145 620h1.2M160 667h1.2M58 690h1.2M110 691h1.2M155 667h1.2M6 630h1.2M138 674h1.2M83 698h1.2M36 662h1.2M79 687h1.2M33 602h1.2M34 611h1.2M119 677h1.2M155 654h1.2M19 625h1.2M55 687h1.2M69 699h1.2M49 670h1.2M16 629h1.2M119 639h1.2M162 658h1.2M61 657h1.2M83 634h1.2M99 634h1.2M4 606h1.2M105 631h1.2M39 682h1.2M13 663h1.2M114 672h1.2M68 695h1.2M147 676h1.2M82 686h1.2M132 662h1.2M160 669h1.2M15 656h1.2M138 637h1.2M120 682h1.2M160 643h1.2M127 673h1.2M48 687h1.2M146 636h1.2M8 618h1.2M68 669h1.2M36 667h1.2M154 619h1.2M41 574h1.2M93 690h1.2M57 689h1.2M12 655h1.2M5 604h1.2M9 668h1.2M24 660h1.2M126 636h1.2M59 668h1.2M140 629h1.2M160 593h1.2M147 675h1.2M94 691h1.2M162 648h1.2M132 656h1.2M144 665h1.2M107 635h1.2M136 665h1.2M70 687h1.2M18 647h1.2M157 665h1.2M151 676h1.2M3 638h1.2M83 652h1.2M140 606h1.2M114 645h1.2M161 661h1.2M3 601h1.2M142 662h1.2M160 633h1.2M161 626h1.2M53 686h1.2M22 605h1.2M109 695h1.2M41 653h1.2M3 605h1.2M27 674h1.2M13 674h1.2M15 667h1.2M155 674h1.2M163 589h1.2M74 662h1.2M134 655h1.2M62 667h1.2M123 603h1.2M100 691h1.2M51 568h1.2M21 600h1.2M99 694h1.2M163 605h1.2M80 704h1.2M115 615h1.2M132 666h1.2M161 658h1.2M79 673h1.2M48 664h1.2M20 673h1.2M125 685h1.2M38 667h1.2M118 689h1.2M108 669h1.2M28 588h1.2M81 671h1.2M121 622h1.2M47 676h1.2M150 660h1.2M78 691h1.2M25 648h1.2M156 639h1.2M117 661h1.2M71 679h1.2M151 610h1.2M125 685h1.2M39 634h1.2M91 622h1.2M68 645h1.2M91 688h1.2M33 678h1.2M40 572h1.2M133 625h1.2M163 638h1.2M50 675h1.2M22 648h1.2M61 687h1.2M105 689h1.2M75 700h1.2M125 666h1.2M112 690h1.2M152 665h1.2M89 667h1.2M87 691h1.2M16 663h1.2M67 696h1.2M85 702h1.2M21 673h1.2M162 665h1.2M6 631h1.2M36 660h1.2M118 690h1.2M81 660h1.2M36 662h1.2M64 697h1.2M91 700h1.2M150 597h1.2M36 679h1.2M86 689h1.2M28 600h1.2M22 673h1.2M30 613h1.2M114 618h1.2M79 668h1.2M76 652h1.2M89 625h1.2M134 680h1.2M81 665h1.2M100 688h1.2M46 686h1.2M20 583h1.2M162 620h1.2M94 660h1.2M6 633h1.2M114 683h1.2M150 673h1.2M68 695h1.2M137 659h1.2M97 698h1.2M149 583h1.2M66 670h1.2M156 673h1.2M25 621h1.2M121 579h1.2M65 682h1.2M92 556h1.2M124 678h1.2M131 683h1.2M52 688h1.2M107 666h1.2M62 682h1.2M17 636h1.2M98 696h1.2M147 670h1.2M152 626h1.2M30 620h1.2M140 667h1.2M111 570h1.2M9 630h1.2M139 626h1.2M79 688h1.2M28 673h1.2M154 638h1.2M53 654h1.2M119 675h1.2M158 667h1.2M7 658h1.2M75 699h1.2M50 672h1.2M85 696h1.2M15 673h1.2M155 668h1.2M116 689h1.2M111 690h1.2M114 687h1.2M18 653h1.2M154 669h1.2M15 580h1.2M152 625h1.2M125 669h1.2M164 632h1.2M58 667h1.2M163 636h1.2M79 703h1.2M162 597h1.2M49 677h1.2M5 627h1.2M155 614h1.2M61 692h1.2M47 669h1.2M78 700h1.2M101 696h1.2M18 620h1.2M76 701h1.2M15 670h1.2M142 609h1.2M52 683h1.2M79 682h1.2M8 658h1.2M9 603h1.2M5 634h1.2M115 649h1.2M120 674h1.2M157 659h1.2M112 683h1.2M70 653h1.2M55 650h1.2M143 673h1.2M26 651h1.2M137 626h1.2M102 679h1.2M89 653h1.2M39 684h1.2M95 699h1.2M60 654h1.2M100 674h1.2M147 579h1.2M8 654h1.2M88 633h1.2M161 668h1.2M23 679h1.2M120 683h1.2M120 675h1.2M160 664h1.2M73 692h1.2M163 599h1.2M83 639h1.2M150 667h1.2M121 685h1.2M10 671h1.2M141 664h1.2M162 633h1.2M120 680h1.2M55 692h1.2M74 700h1.2M46 616h1.2M14 638h1.2M150 668h1.2M106 637h1.2M147 643h1.2M162 654h1.2M139 676h1.2M132 619h1.2M153 613h1.2M156 611h1.2M53 689h1.2M99 679h1.2M68 686h1.2M164 612h1.2M159 664h1.2M59 684h1.2M144 612h1.2M109 671h1.2M3 611h1.2M93 675h1.2M46 637h1.2M26 671h1.2M124 661h1.2M87 671h1.2M95 698h1.2M60 689h1.2M76 702h1.2M118 675h1.2M80 681h1.2M55 615h1.2M6 634h1.2M5 591h1.2M60 656h1.2M15 603h1.2M96 618h1.2M85 679h1.2M133 679h1.2M160 651h1.2M106 617h1.2M80 703h1.2M113 664h1.2M137 631h1.2M59 677h1.2M40 681h1.2M164 608h1.2M115 672h1.2M165 593h1.2M3 611h1.2M163 584h1.2M61 679h1.2M55 620h1.2M8 666h1.2M128 614h1.2M111 690h1.2M155 587h1.2M35 675h1.2M133 579h1.2M25 642h1.2M46 648h1.2M91 701h1.2M135 654h1.2M53 616h1.2M21 647h1.2M134 655h1.2M74 683h1.2M66 675h1.2M81 660h1.2M82 684h1.2M116 667h1.2M34 665h1.2M148 654h1.2M111 624h1.2M10 622h1.2M84 672h1.2M101 680h1.2M41 626h1.2M77 668h1.2M164 626h1.2M138 667h1.2M69 692h1.2M113 635h1.2M8 620h1.2M82 703h1.2M20 649h1.2M154 667h1.2M87 703h1.2M34 675h1.2M162 636h1.2M53 680h1.2M74 624h1.2M29 671h1.2M136 664h1.2M164 616h1.2M81 702h1.2M35 661h1.2M142 640h1.2M51 657h1.2M105 615h1.2M34 608h1.2M98 634h1.2M20 633h1.2M73 651h1.2M73 694h1.2M111 569h1.2M116 653h1.2M8 598h1.2M37 682h1.2M57 647h1.2M6 617h1.2M147 672h1.2M127 663h1.2M126 658h1.2M115 682h1.2M78 673h1.2M77 630h1.2M106 667h1.2M30 680h1.2M102 644h1.2M50 648h1.2M161 667h1.2M78 694h1.2M158 651h1.2M89 700h1.2M47 646h1.2M65 659h1.2M51 680h1.2M162 594h1.2M63 687h1.2M37 650h1.2M162 619h1.2M39 682h1.2M15 667h1.2M70 628h1.2M131 674h1.2M117 619h1.2M49 683h1.2M78 686h1.2M156 630h1.2M129 607h1.2M9 627h1.2M27 633h1.2M105 674h1.2M5 653h1.2M162 626h1.2M95 693h1.2M45 664h1.2M76 693h1.2M6 663h1.2M72 682h1.2M96 673h1.2M29 679h1.2M73 694h1.2M113 636h1.2M70 677h1.2M103 697h1.2M115 692h1.2M66 668h1.2M5 587h1.2M112 693h1.2M124 650h1.2M77 685h1.2M112 637h1.2M3 634h1.2M120 672h1.2M109 684h1.2M46 656h1.2M83 657h1.2M8 667h1.2M60 675h1.2M133 646h1.2M57 685h1.2M111 656h1.2M60 628h1.2M162 632h1.2M146 655h1.2M162 625h1.2M114 622h1.2M128 665h1.2M154 626h1.2M59 649h1.2M159 608h1.2M18 640h1.2M100 696h1.2M105 685h1.2M99 649h1.2M157 658h1.2M10 660h1.2M76 695h1.2M129 665h1.2M131 651h1.2M16 646h1.2M152 658h1.2M156 598h1.2M155 673h1.2M23 676h1.2M74 688h1.2M27 653h1.2M30 670h1.2M75 669h1.2M59 692h1.2M4 629h1.2M33 680h1.2M9 673h1.2M151 665h1.2M40 570h1.2M151 657h1.2M89 663h1.2M4 663h1.2M153 660h1.2M128 614h1.2M162 587h1.2M36 679h1.2M111 692h1.2M6 649h1.2M85 682h1.2M83 703h1.2M129 645h1.2M123 658h1.2M4 625h1.2M161 664h1.2M80 698h1.2M113 685h1.2M141 576h1.2M157 672h1.2M53 639h1.2M116 652h1.2M4 644h1.2M23 660h1.2M67 656h1.2M4 607h1.2M59 609h1.2M145 651h1.2M63 697h1.2M12 650h1.2M74 651h1.2M153 661h1.2M91 660h1.2M40 617h1.2M70 560h1.2M105 678h1.2M48 617h1.2M86 692h1.2M131 653h1.2M137 677h1.2M46 633h1.2M96 692h1.2M111 582h1.2M119 637h1.2M74 700h1.2M162 628h1.2M159 635h1.2M20 618h1.2M143 663h1.2M94 697h1.2M91 701h1.2M138 682h1.2M4 613h1.2M136 659h1.2M101 684h1.2M69 694h1.2M61 653h1.2M50 666h1.2M143 619h1.2M4 595h1.2M161 652h1.2M81 694h1.2M164 621h1.2M9 613h1.2M102 626h1.2M157 663h1.2M131 650h1.2M91 673h1.2M73 698h1.2M132 683h1.2M15 648h1.2M160 647h1.2M102 690h1.2M9 666h1.2M90 688h1.2M64 687h1.2M71 677h1.2M47 681h1.2M152 650h1.2M91 644h1.2M110 657h1.2M117 669h1.2M134 629h1.2M29 627h1.2M11 636h1.2M48 689h1.2M13 608h1.2M162 588h1.2M53 691h1.2M111 675h1.2M2 604h1.2M122 619h1.2M147 671h1.2M143 671h1.2M152 624h1.2M148 631h1.2M78 700h1.2M116 686h1.2M14 666h1.2M71 686h1.2M87 698h1.2M158 591h1.2M21 658h1.2M6 660h1.2M30 657h1.2M7 665h1.2M50 616h1.2M7 672h1.2M11 591h1.2M91 674h1.2M13 662h1.2M151 610h1.2M29 600h1.2M103 573h1.2M116 690h1.2M44 669h1.2M118 690h1.2M24 579h1.2M5 602h1.2M66 674h1.2M143 631h1.2M158 665h1.2M56 654h1.2M62 663h1.2M75 689h1.2M57 633h1.2M102 636h1.2M129 636h1.2M145 613h1.2M88 702h1.2M120 683h1.2M67 665h1.2M99 695h1.2M8 627h1.2M74 667h1.2M154 615h1.2M121 628h1.2M30 669h1.2M144 637h1.2M10 648h1.2M17 646h1.2M4 646h1.2M20 674h1.2M14 668h1.2M5 613h1.2M152 631h1.2M19 655h1.2M12 667h1.2M91 696h1.2M137 669h1.2M120 669h1.2M163 587h1.2M44 643h1.2M126 645h1.2M123 684h1.2M5 632h1.2M126 673h1.2M150 583h1.2M73 627h1.2M81 692h1.2M88 671h1.2M8 628h1.2M159 626h1.2M134 682h1.2M54 682h1.2M28 665h1.2M46 568h1.2M33 662h1.2M88 703h1.2M12 612h1.2M99 685h1.2M48 621h1.2M7 645h1.2M83 689h1.2M31 614h1.2M102 623h1.2M11 594h1.2M86 690h1.2M38 609h1.2M73 673h1.2M140 673h1.2M128 685h1.2M112 683h1.2M164 585h1.2M128 682h1.2M2 608h1.2M119 685h1.2M106 687h1.2M161 605h1.2M61 638h1.2M12 630h1.2M94 679h1.2M23 618h1.2M87 704h1.2M139 670h1.2M144 654h1.2M80 673h1.2M80 663h1.2M150 671h1.2M5 644h1.2M163 605h1.2M75 665h1.2M162 597h1.2M41 678h1.2M142 670h1.2M101 658h1.2M144 600h1.2M16 667h1.2M63 694h1.2M109 690h1.2M84 695h1.2M97 689h1.2M50 664h1.2M56 673h1.2M128 656h1.2M50 687h1.2M32 641h1.2M146 648h1.2M76 695h1.2M44 675h1.2M64 674h1.2M7 614h1.2M160 615h1.2M19 655h1.2M69 689h1.2M150 667h1.2M21 599h1.2M88 688h1.2M6 661h1.2M93 680h1.2M79 633h1.2M48 671h1.2M54 564h1.2M36 613h1.2M11 670h1.2M106 691h1.2M129 672h1.2M22 658h1.2M164 623h1.2M153 638h1.2M120 621h1.2M79 638h1.2M160 629h1.2M99 651h1.2M47 613h1.2M29 673h1.2M11 661h1.2M127 572h1.2M13 633h1.2M26 614h1.2M119 678h1.2M141 660h1.2M9 598h1.2M122 675h1.2M21 645h1.2M138 662h1.2M157 631h1.2M125 679h1.2M136 678h1.2M13 655h1.2M119 672h1.2M70 689h1.2M103 661h1.2M65 669h1.2M37 643h1.2M163 652h1.2M118 671h1.2M114 666h1.2M139 579h1.2M59 674h1.2M162 641h1.2M81 683h1.2M57 665h1.2M79 690h1.2M136 681h1.2M94 658h1.2M15 656h1.2M150 661h1.2M123 607h1.2M36 684h1.2M81 695h1.2M99 693h1.2M144 668h1.2M156 636h1.2M10 624h1.2M12 640h1.2M53 594h1.2M161 613h1.2M119 637h1.2M146 668h1.2M91 678h1.2M81 705h1.2M152 661h1.2M157 668h1.2M134 643h1.2M109 632h1.2M96 685h1.2M116 681h1.2M165 586h1.2M61 613h1.2M15 616h1.2M38 625h1.2M149 626h1.2M119 662h1.2M18 649h1.2M154 627h1.2M27 679h1.2M6 653h1.2M2 607h1.2M163 648h1.2M36 666h1.2M128 670h1.2M52 677h1.2M11 666h1.2M129 656h1.2M15 659h1.2M84 656h1.2M22 646h1.2M32 675h1.2M22 678h1.2M113 650h1.2M115 687h1.2M116 597h1.2M146 633h1.2M89 690h1.2M146 606h1.2M147 674h1.2M3 604h1.2M160 665h1.2M146 640h1.2M102 687h1.2M137 675h1.2M40 666h1.2M132 682h1.2M85 692h1.2M55 665h1.2M45 573h1.2M141 670h1.2M24 676h1.2M129 598h1.2M26 674h1.2M150 666h1.2M12 661h1.2M130 683h1.2M23 622h1.2M77 645h1.2M59 682h1.2M103 686h1.2M152 669h1.2M161 660h1.2M90 694h1.2M10 635h1.2M43 611h1.2M7 622h1.2M35 684h1.2M11 654h1.2M124 641h1.2M147 637h1.2M109 691h1.2M162 661h1.2M10 669h1.2M145 677h1.2M161 607h1.2M162 658h1.2M142 672h1.2M110 692h1.2M136 614h1.2M5 665h1.2M82 685h1.2M141 614h1.2M136 598h1.2M8 671h1.2M156 671h1.2M29 669h1.2M119 678h1.2M36 641h1.2M105 693h1.2M97 693h1.2M36 676h1.2M8 602h1.2M12 597h1.2M14 648h1.2M51 679h1.2M66 667h1.2M77 676h1.2M73 563h1.2M161 632h1.2M116 681h1.2M115 680h1.2M79 675h1.2M45 646h1.2M19 658h1.2M129 653h1.2M32 675h1.2M67 662h1.2M42 644h1.2M107 624h1.2M48 685h1.2M135 630h1.2M158 602h1.2M155 658h1.2M56 669h1.2M14 668h1.2M14 654h1.2M77 699h1.2M139 662h1.2M124 686h1.2M86 671h1.2M80 694h1.2M28 667h1.2M50 655h1.2M139 657h1.2M6 626h1.2M147 631h1.2M50 652h1.2M75 659h1.2M16 675h1.2M100 655h1.2M142 635h1.2M52 678h1.2M5 616h1.2M140 659h1.2M10 669h1.2M96 700h1.2M3 609h1.2M70 685h1.2M72 676h1.2M48 669h1.2M16 676h1.2M155 667h1.2M12 673h1.2M149 595h1.2M121 626h1.2M19 654h1.2M78 662h1.2M147 677h1.2M163 588h1.2M104 679h1.2M133 674h1.2M75 638h1.2M36 607h1.2M9 591h1.2M152 599h1.2M152 664h1.2M68 653h1.2M92 702h1.2M64 691h1.2M10 625h1.2M113 682h1.2M137 654h1.2M50 691h1.2M6 651h1.2M130 672h1.2M114 666h1.2M133 670h1.2M44 684h1.2M100 651h1.2M7 635h1.2M52 644h1.2M38 674h1.2M149 666h1.2M159 657h1.2M17 663h1.2M152 668h1.2M126 674h1.2M17 639h1.2M13 641h1.2M72 665h1.2M66 678h1.2M81 667h1.2M22 670h1.2M68 697h1.2M27 659h1.2M43 681h1.2M93 662h1.2M16 666h1.2M157 640h1.2M89 666h1.2M57 689h1.2M58 658h1.2M94 680h1.2M65 664h1.2M108 674h1.2M55 677h1.2M60 689h1.2M4 669h1.2M19 610h1.2M10 617h1.2M162 659h1.2M157 660h1.2M48 642h1.2M26 587h1.2M16 650h1.2M6 670h1.2M34 601h1.2M150 617h1.2M79 651h1.2M165 588h1.2M36 645h1.2M20 675h1.2M162 635h1.2M33 660h1.2M159 654h1.2M119 673h1.2M117 662h1.2M6 656h1.2M80 703h1.2M49 681h1.2M52 675h1.2M6 586h1.2M120 618h1.2M111 685h1.2M75 663h1.2M152 671h1.2M103 694h1.2M83 691h1.2M5 658h1.2M48 670h1.2M10 661h1.2M73 688h1.2M150 651h1.2M120 684h1.2M44 683h1.2M119 628h1.2M141 648h1.2M111 686h1.2M96 624h1.2M163 620h1.2M114 682h1.2M87 692h1.2M23 679h1.2M42 672h1.2M147 669h1.2M19 664h1.2M93 653h1.2M135 672h1.2M67 648h1.2M37 648h1.2M22 640h1.2M100 689h1.2M141 668h1.2M5 596h1.2M118 649h1.2M53 635h1.2M38 665h1.2M151 665h1.2M13 659h1.2M2 599h1.2M112 691h1.2M2 606h1.2M129 679h1.2M17 632h1.2M149 674h1.2M115 669h1.2M7 627h1.2M102 624h1.2M164 599h1.2M17 625h1.2M137 650h1.2M63 685h1.2M109 648h1.2M35 614h1.2M38 672h1.2M96 631h1.2M151 651h1.2M149 656h1.2M31 652h1.2M27 633h1.2M98 655h1.2M119 623h1.2M104 561h1.2M16 609h1.2M119 636h1.2M155 630h1.2M20 676h1.2M51 655h1.2M49 682h1.2M139 659h1.2M106 684h1.2M145 599h1.2M130 651h1.2M112 672h1.2M92 688h1.2M91 696h1.2M130 657h1.2M35 670h1.2M4 595h1.2M40 681h1.2M51 667h1.2M156 589h1.2M50 632h1.2M137 677h1.2M40 600h1.2M13 652h1.2M142 655h1.2M91 688h1.2M161 672h1.2M71 696h1.2M106 600h1.2M99 667h1.2M3 606h1.2M55 634h1.2M3 614h1.2M42 678h1.2M109 682h1.2M4 651h1.2M110 642h1.2M104 693h1.2M7 618h1.2M13 645h1.2M71 680h1.2M149 671h1.2M34 610h1.2M131 644h1.2M49 655h1.2M157 600h1.2M89 681h1.2M41 683h1.2M164 593h1.2M13 671h1.2M39 644h1.2M155 623h1.2M128 652h1.2M84 635h1.2M121 670h1.2M71 680h1.2M130 655h1.2M100 636h1.2M52 651h1.2M12 663h1.2M90 667h1.2M46 685h1.2M121 664h1.2M29 681h1.2M103 661h1.2M51 676h1.2M47 679h1.2M57 684h1.2M31 632h1.2M65 650h1.2M27 680h1.2M22 674h1.2M70 678h1.2M81 637h1.2M157 661h1.2M67 664h1.2M89 668h1.2M11 633h1.2M68 670h1.2M91 700h1.2M32 678h1.2M32 664h1.2M88 638h1.2M16 674h1.2M114 685h1.2M112 573h1.2M29 650h1.2M33 667h1.2M74 700h1.2M3 599h1.2M156 673h1.2M48 668h1.2M35 622h1.2M2 598h1.2M160 645h1.2M125 672h1.2M61 680h1.2M158 591h1.2M52 649h1.2M120 628h1.2M9 646h1.2M143 671h1.2M150 586h1.2M37 638h1.2M113 668h1.2M75 697h1.2M89 687h1.2M103 653h1.2M93 661h1.2M76 675h1.2M5 665h1.2M32 645h1.2M6 644h1.2M74 682h1.2M143 631h1.2M70 697h1.2M95 697h1.2M64 675h1.2M52 689h1.2M48 690h1.2M49 679h1.2M8 642h1.2M5 639h1.2M89 672h1.2M146 587h1.2M44 673h1.2M149 669h1.2M112 689h1.2M161 644h1.2M48 689h1.2M85 696h1.2M5 646h1.2M21 642h1.2M108 691h1.2M73 688h1.2M95 699h1.2M70 699h1.2M155 587h1.2M71 660h1.2M37 658h1.2M58 657h1.2M29 598h1.2M5 658h1.2M15 617h1.2M85 661h1.2M156 586h1.2M6 655h1.2M5 666h1.2M49 675h1.2M18 602h1.2M131 675h1.2M19 673h1.2M8 637h1.2M31 643h1.2M128 682h1.2M3 604h1.2M108 660h1.2M130 675h1.2M93 700h1.2M40 678h1.2M50 673h1.2M29 671h1.2M6 647h1.2M163 591h1.2M116 658h1.2M16 601h1.2M134 663h1.2M90 703h1.2M28 677h1.2M83 677h1.2M92 638h1.2M11 625h1.2M162 619h1.2M45 679h1.2M64 683h1.2M157 607h1.2M112 624h1.2M97 679h1.2M53 671h1.2M143 641h1.2M132 654h1.2M161 595h1.2M10 651h1.2M94 653h1.2M82 672h1.2M137 597h1.2M159 646h1.2M117 690h1.2M5 651h1.2M147 669h1.2M40 683h1.2M146 606h1.2M104 649h1.2M87 657h1.2M8 622h1.2M163 654h1.2M136 679h1.2M52 660h1.2M21 646h1.2M110 633h1.2M140 587h1.2M3 589h1.2M62 570h1.2M155 666h1.2M45 677h1.2M33 675h1.2M10 661h1.2M158 626h1.2M157 605h1.2M140 585h1.2M36 677h1.2M134 680h1.2M146 641h1.2M18 625h1.2M63 657h1.2M112 616h1.2M102 696h1.2M162 622h1.2M125 687h1.2M149 581h1.2M93 633h1.2M92 630h1.2M39 604h1.2M160 646h1.2M31 659h1.2M82 617h1.2M12 617h1.2M44 635h1.2M74 639h1.2M81 682h1.2M71 662h1.2M13 662h1.2M115 681h1.2M80 684h1.2M148 653h1.2M153 670h1.2M119 689h1.2M160 662h1.2M16 580h1.2M75 558h1.2M71 691h1.2M95 688h1.2M26 662h1.2M8 671h1.2M63 670h1.2M162 657h1.2M29 613h1.2M40 675h1.2M161 632h1.2M104 679h1.2M5 629h1.2M37 660h1.2M42 679h1.2M43 573h1.2M122 662h1.2M158 651h1.2M38 678h1.2M4 635h1.2M71 698h1.2M9 634h1.2M136 604h1.2M46 678h1.2M53 688h1.2M68 694h1.2M64 692h1.2M41 649h1.2M157 670h1.2M102 679h1.2M161 646h1.2M41 654h1.2M132 641h1.2M158 618h1.2M161 601h1.2M20 673h1.2M94 634h1.2M17 610h1.2M155 606h1.2M14 624h1.2M129 633h1.2M146 594h1.2M144 599h1.2M154 602h1.2M78 672h1.2M149 581h1.2M75 669h1.2M153 669h1.2M7 668h1.2M137 646h1.2M106 669h1.2M66 691h1.2M84 701h1.2M114 663h1.2M85 620h1.2M114 643h1.2M102 673h1.2M99 674h1.2M163 584h1.2M56 669h1.2M106 563h1.2M44 677h1.2M90 556h1.2M144 679h1.2M98 683h1.2M39 669h1.2M150 591h1.2M152 664h1.2M70 698h1.2M14 641h1.2M8 641h1.2M157 668h1.2M63 685h1.2M26 663h1.2M14 607h1.2M159 597h1.2M81 659h1.2M160 596h1.2M54 685h1.2M145 650h1.2M164 623h1.2M131 676h1.2M136 670h1.2M91 692h1.2M29 679h1.2M145 671h1.2M91 701h1.2M153 664h1.2M130 672h1.2M104 687h1.2M23 669h1.2M143 668h1.2M50 644h1.2M74 665h1.2M14 607h1.2M76 598h1.2M26 665h1.2M95 558h1.2M22 661h1.2M65 640h1.2M20 619h1.2M47 678h1.2M62 659h1.2M118 684h1.2M150 627h1.2M24 612h1.2M28 651h1.2M123 682h1.2M22 665h1.2M104 694h1.2M10 632h1.2M143 670h1.2M11 671h1.2M151 636h1.2M154 663h1.2M6 649h1.2M101 690h1.2M104 694h1.2M104 689h1.2M5 605h1.2M66 690h1.2M89 700h1.2M114 566h1.2M109 654h1.2M90 699h1.2M155 659h1.2M97 692h1.2M7 592h1.2M109 690h1.2M158 666h1.2M68 698h1.2M4 665h1.2M161 603h1.2M114 691h1.2M36 679h1.2M68 685h1.2M149 669h1.2M31 681h1.2M148 671h1.2M76 680h1.2M46 664h1.2M27 575h1.2M160 666h1.2M106 694h1.2M111 672h1.2M143 670h1.2M120 684h1.2M77 639h1.2M68 698h1.2M155 617h1.2M68 636h1.2M14 648h1.2M104 640h1.2M91 677h1.2M12 662h1.2M158 659h1.2M152 627h1.2M29 665h1.2M154 627h1.2M120 679h1.2M84 699h1.2M103 694h1.2M35 685h1.2M100 634h1.2M42 619h1.2M33 671h1.2M130 685h1.2M107 661h1.2M149 642h1.2M93 652h1.2M130 615h1.2M155 662h1.2M3 600h1.2M83 702h1.2M81 691h1.2M84 683h1.2M109 693h1.2M129 672h1.2M52 621h1.2M117 612h1.2M22 653h1.2M74 697h1.2M103 628h1.2M113 686h1.2M119 651h1.2M7 668h1.2M34 683h1.2M147 594h1.2M19 663h1.2M32 605h1.2M82 695h1.2M9 588h1.2M132 614h1.2M122 649h1.2M82 702h1.2M11 664h1.2M94 687h1.2M143 642h1.2M96 697h1.2M64 695h1.2M17 647h1.2M52 644h1.2M49 680h1.2M150 603h1.2M96 698h1.2M92 688h1.2M51 682h1.2M5 639h1.2M154 664h1.2M110 622h1.2M100 691h1.2M131 653h1.2M39 680h1.2M5 658h1.2M9 660h1.2M118 690h1.2M147 657h1.2M32 604h1.2M61 688h1.2M85 704h1.2M8 657h1.2M6 645h1.2M143 644h1.2M136 673h1.2M125 677h1.2M63 692h1.2M103 683h1.2M47 621h1.2M78 679h1.2M46 671h1.2M141 635h1.2M150 669h1.2M163 620h1.2M88 580h1.2M28 608h1.2M145 644h1.2M7 597h1.2M105 693h1.2M140 615h1.2M8 583h1.2M90 684h1.2M78 607h1.2M86 678h1.2M138 624h1.2M93 652h1.2M21 667h1.2M157 664h1.2M122 680h1.2M29 665h1.2M3 616h1.2M21 626h1.2M10 620h1.2M79 654h1.2M94 698h1.2M152 580h1.2M96 660h1.2M15 667h1.2M53 683h1.2M41 649h1.2M7 600h1.2M7 667h1.2M34 666h1.2M8 601h1.2M161 605h1.2M140 675h1.2M39 663h1.2M3 601h1.2M92 700h1.2M51 685h1.2M41 678h1.2M7 628h1.2M117 689h1.2M131 641h1.2M40 686h1.2M86 696h1.2M129 657h1.2M132 616h1.2M48 652h1.2M9 652h1.2M52 690h1.2M41 669h1.2M52 614h1.2M109 685h1.2M27 667h1.2M99 673h1.2M14 614h1.2M103 672h1.2M78 682h1.2M152 620h1.2M26 623h1.2M63 687h1.2M150 672h1.2M128 678h1.2M130 669h1.2M119 636h1.2M136 664h1.2M36 653h1.2M162 656h1.2M105 688h1.2M118 689h1.2M62 626h1.2M38 683h1.2M96 639h1.2M152 625h1.2M18 673h1.2M72 691h1.2M38 681h1.2M107 662h1.2M18 655h1.2M114 651h1.2M68 676h1.2M32 677h1.2M164 617h1.2M90 654h1.2M77 699h1.2M163 662h1.2M107 667h1.2M96 675h1.2M161 638h1.2M71 693h1.2M113 692h1.2M145 660h1.2M159 621h1.2M144 668h1.2M6 629h1.2M107 689h1.2M142 677h1.2M53 692h1.2M75 681h1.2M128 686h1.2M93 694h1.2M52 650h1.2M161 616h1.2M28 676h1.2M86 694h1.2M11 674h1.2M137 667h1.2M70 657h1.2M89 699h1.2M53 631h1.2M70 676h1.2M41 675h1.2M127 570h1.2M28 665h1.2M65 690h1.2M64 625h1.2M21 659h1.2M152 585h1.2M58 688h1.2M36 684h1.2M73 696h1.2M40 683h1.2M76 645h1.2M53 641h1.2M4 647h1.2M53 649h1.2M66 697h1.2M75 687h1.2M155 659h1.2M162 664h1.2M5 666h1.2M18 645h1.2M87 686h1.2M70 645h1.2M5 636h1.2M162 660h1.2M27 589h1.2M89 703h1.2M155 615h1.2M55 565h1.2M138 682h1.2M55 646h1.2M152 672h1.2M89 697h1.2M33 682h1.2M93 692h1.2M124 686h1.2M158 653h1.2M144 673h1.2M25 614h1.2M23 672h1.2M137 670h1.2M105 688h1.2M82 654h1.2M155 617h1.2M65 663h1.2M23 676h1.2M8 666h1.2M121 687h1.2M165 590h1.2M20 669h1.2M130 642h1.2M7 670h1.2M22 666h1.2M100 668h1.2M99 666h1.2M19 602h1.2M101 677h1.2M93 691h1.2M159 646h1.2M121 665h1.2M2 591h1.2M10 653h1.2M158 614h1.2M9 647h1.2M56 642h1.2M5 602h1.2M110 691h1.2M131 682h1.2M6 609h1.2M155 673h1.2M63 696h1.2M62 650h1.2M109 634h1.2M49 684h1.2M116 613h1.2M68 685h1.2M15 659h1.2M111 669h1.2M54 681h1.2M135 651h1.2M163 655h1.2M95 678h1.2M104 669h1.2M14 624h1.2M83 678h1.2M23 633h1.2M64 626h1.2M92 662h1.2M14 636h1.2M145 677h1.2M49 688h1.2M21 676h1.2M153 612h1.2M99 657h1.2M102 679h1.2M132 667h1.2M42 671h1.2M112 634h1.2M4 611h1.2M158 673h1.2M39 630h1.2M164 627h1.2M68 681h1.2M77 592h1.2M151 644h1.2M66 579h1.2M86 686h1.2M138 673h1.2M52 683h1.2M97 662h1.2M153 665h1.2M64 667h1.2M72 683h1.2M106 687h1.2M147 631h1.2M110 667h1.2M58 687h1.2M94 701h1.2M47 684h1.2M18 671h1.2M142 663h1.2M38 668h1.2M142 608h1.2M41 654h1.2M27 680h1.2M160 621h1.2M70 688h1.2M91 648h1.2M2 616h1.2M148 669h1.2M62 688h1.2M86 671h1.2M144 645h1.2M53 621h1.2M21 667h1.2M83 676h1.2M133 676h1.2M158 667h1.2M106 696h1.2M163 661h1.2M162 612h1.2M59 679h1.2M46 689h1.2M35 606h1.2M146 675h1.2M129 646h1.2M135 615h1.2M42 615h1.2M79 681h1.2M122 657h1.2M13 647h1.2M79 688h1.2M144 671h1.2M146 678h1.2M53 618h1.2M109 691h1.2M20 677h1.2M54 680h1.2M27 671h1.2M162 653h1.2M105 654h1.2M12 669h1.2M145 661h1.2M155 630h1.2M10 604h1.2M141 675h1.2M23 677h1.2M149 652h1.2M88 688h1.2M158 603h1.2M13 633h1.2M11 656h1.2M67 679h1.2M37 678h1.2M59 683h1.2M127 658h1.2M163 635h1.2M61 691h1.2M11 671h1.2M141 632h1.2M36 673h1.2M59 678h1.2M158 626h1.2M117 633h1.2M4 598h1.2M121 684h1.2M29 595h1.2M107 609h1.2M49 689h1.2M2 597h1.2M15 633h1.2M5 662h1.2M57 693h1.2M7 606h1.2M137 634h1.2M100 696h1.2M148 646h1.2M123 685h1.2M55 635h1.2M143 579h1.2M44 654h1.2M44 684h1.2M154 664h1.2M75 660h1.2M78 665h1.2M156 641h1.2M72 693h1.2M104 639h1.2M103 688h1.2M67 674h1.2M163 628h1.2M125 685h1.2M37 655h1.2M112 689h1.2M62 678h1.2M5 623h1.2M126 628h1.2M38 597h1.2M84 682h1.2M47 687h1.2M6 665h1.2M155 663h1.2M46 686h1.2M157 593h1.2M5 616h1.2M90 639h1.2M30 678h1.2M75 682h1.2M30 646h1.2M100 675h1.2M145 674h1.2M163 651h1.2M91 671h1.2M78 660h1.2M5 586h1.2M5 631h1.2M164 607h1.2M88 660h1.2M127 676h1.2M91 666h1.2M77 684h1.2M89 696h1.2M119 654h1.2M154 635h1.2M140 611h1.2M50 670h1.2M64 687h1.2M147 642h1.2M81 661h1.2M103 632h1.2M9 666h1.2M77 645h1.2M154 601h1.2M13 591h1.2M68 632h1.2M86 646h1.2M150 585h1.2M72 642h1.2M28 680h1.2M150 673h1.2M137 675h1.2" stroke="#fff" stroke-width="1.2" fill="none" opacity="0.9"/><path d="M41.7 276.0L82.7 292.5L81.3 335.5L41.7 353.0L2.1 335.5L0.7 292.5ZM41.7 312.8L0.7 292.5M41.7 312.8L82.7 292.5M41.7 312.8L41.7 353.0" fill="none" stroke="#8a8a8a" stroke-width="0.65"/><path d="M128.3 275.0L171.1 291.4L167.5 332.3L128.3 354.7L89.1 332.3L85.5 291.4Z" fill="url(#rg5)"/><path d="M128.3 275.0L171.1 291.4L167.5 332.3L128.3 354.7L89.1 332.3L85.5 291.4Z" fill="url(#pw35)"/><path transform="scale(0.5)" d="M330 650h1.5M327 665h1.5M266 694h1.5M280 685h1.5M333 620h1.5M246 686h1.5M238 678h1.5M274 656h1.5M176 612h1.5M317 591h1.5M198 675h1.5M193 656h1.5M242 683h1.5M246 686h1.5M209 682h1.5M320 615h1.5M232 668h1.5M236 634h1.5M290 603h1.5M248 661h1.5M195 631h1.5M219 664h1.5M294 679h1.5M239 673h1.5M182 653h1.5M291 687h1.5M184 640h1.5M302 669h1.5M312 662h1.5M334 657h1.5M263 639h1.5M283 694h1.5M250 627h1.5M180 616h1.5M326 587h1.5M251 684h1.5M194 664h1.5M273 638h1.5M255 602h1.5M232 670h1.5M295 621h1.5M315 635h1.5M228 682h1.5M283 690h1.5M336 593h1.5M182 611h1.5M207 678h1.5M222 666h1.5M339 617h1.5M259 672h1.5M185 667h1.5M331 658h1.5M332 596h1.5M221 681h1.5M328 626h1.5M258 706h1.5M210 632h1.5M290 688h1.5M257 673h1.5M293 687h1.5M177 650h1.5M176 599h1.5M340 584h1.5M237 597h1.5M253 707h1.5M264 690h1.5M238 687h1.5M185 663h1.5M179 661h1.5M193 669h1.5M284 633h1.5M230 673h1.5M179 588h1.5M255 701h1.5M206 656h1.5M234 674h1.5M232 694h1.5M230 614h1.5M180 664h1.5M338 584h1.5M265 691h1.5M336 645h1.5M222 680h1.5M270 682h1.5M282 672h1.5M179 649h1.5M208 663h1.5M240 689h1.5M327 660h1.5M275 677h1.5M208 637h1.5M308 609h1.5M251 700h1.5M267 698h1.5M289 565h1.5M210 680h1.5M173 597h1.5M253 646h1.5M275 695h1.5M280 659h1.5M301 636h1.5M232 650h1.5M237 688h1.5M192 656h1.5M205 570h1.5M225 641h1.5M331 660h1.5M214 656h1.5M244 690h1.5M186 647h1.5M240 651h1.5M333 609h1.5M274 636h1.5M302 657h1.5M302 646h1.5M314 629h1.5M181 664h1.5M214 684h1.5M283 688h1.5M192 584h1.5M259 695h1.5M335 641h1.5M208 639h1.5M274 633h1.5M249 693h1.5M259 679h1.5M187 653h1.5M310 659h1.5M190 671h1.5M337 633h1.5M193 655h1.5M184 614h1.5M332 651h1.5M337 641h1.5M325 664h1.5M188 670h1.5M206 676h1.5M302 568h1.5M318 673h1.5M196 650h1.5M293 664h1.5M262 675h1.5M318 603h1.5M251 621h1.5M206 658h1.5M193 649h1.5M333 643h1.5M335 652h1.5M239 697h1.5M333 583h1.5M239 639h1.5M264 697h1.5M188 633h1.5M242 684h1.5M284 690h1.5M310 677h1.5M209 649h1.5M179 646h1.5M291 613h1.5M189 628h1.5M315 654h1.5M177 614h1.5M222 634h1.5M332 611h1.5M185 663h1.5M335 627h1.5M338 601h1.5M329 658h1.5M213 678h1.5M325 617h1.5M176 603h1.5M336 602h1.5M238 694h1.5M221 679h1.5M229 656h1.5M240 606h1.5M229 662h1.5M260 626h1.5M233 696h1.5M209 678h1.5M208 630h1.5M316 646h1.5M231 689h1.5M321 654h1.5M256 643h1.5M315 675h1.5M319 651h1.5M228 683h1.5M194 641h1.5M251 700h1.5M309 575h1.5M337 611h1.5M252 693h1.5M209 682h1.5M241 691h1.5M292 640h1.5M236 687h1.5M261 701h1.5M240 695h1.5M178 610h1.5M191 658h1.5M196 598h1.5M187 634h1.5M314 675h1.5M332 660h1.5M263 702h1.5M331 658h1.5M306 630h1.5M326 596h1.5M333 589h1.5M332 665h1.5M271 671h1.5M330 603h1.5M317 623h1.5M210 638h1.5M313 677h1.5M263 704h1.5M270 557h1.5M306 649h1.5M199 660h1.5M324 586h1.5M191 661h1.5M330 592h1.5M276 687h1.5M184 663h1.5M255 679h1.5M179 627h1.5M227 661h1.5M327 635h1.5M195 646h1.5M277 651h1.5M186 639h1.5M294 686h1.5M248 701h1.5M329 616h1.5M330 594h1.5M254 697h1.5M177 607h1.5M189 642h1.5M200 676h1.5M328 664h1.5M322 670h1.5M288 662h1.5M179 621h1.5M196 669h1.5M175 590h1.5M233 681h1.5M181 624h1.5M190 634h1.5M305 680h1.5M183 665h1.5M189 666h1.5M177 600h1.5M304 658h1.5M324 627h1.5M298 659h1.5M338 620h1.5M180 626h1.5M329 578h1.5M277 679h1.5M292 681h1.5M324 669h1.5M179 639h1.5M274 699h1.5M276 679h1.5M192 672h1.5M228 660h1.5M272 668h1.5M220 686h1.5M268 630h1.5M179 662h1.5M269 683h1.5M186 636h1.5M261 670h1.5M178 627h1.5M242 698h1.5M260 682h1.5M265 559h1.5M274 645h1.5M273 685h1.5M177 585h1.5M212 663h1.5M268 698h1.5M242 645h1.5M246 678h1.5M263 633h1.5M332 632h1.5M206 624h1.5M233 690h1.5M319 647h1.5M231 675h1.5M242 669h1.5M221 684h1.5M328 579h1.5M287 686h1.5M201 613h1.5M333 657h1.5M331 635h1.5M324 658h1.5M191 622h1.5M242 690h1.5M182 655h1.5M235 696h1.5M271 680h1.5M321 671h1.5M312 667h1.5M339 602h1.5M223 690h1.5M224 643h1.5M180 615h1.5M235 693h1.5M326 637h1.5M257 700h1.5M326 578h1.5M219 682h1.5M337 616h1.5M299 672h1.5M172 584h1.5M264 687h1.5M282 685h1.5M322 672h1.5M244 677h1.5M228 687h1.5M325 658h1.5M335 583h1.5M198 676h1.5M222 685h1.5M215 571h1.5M211 658h1.5M229 676h1.5M239 691h1.5M186 662h1.5M308 663h1.5M304 674h1.5M272 676h1.5M225 628h1.5M320 665h1.5M267 688h1.5M331 629h1.5M252 621h1.5M289 671h1.5M284 672h1.5M335 662h1.5M316 663h1.5M220 629h1.5M241 647h1.5M255 702h1.5M273 687h1.5M320 659h1.5M178 649h1.5M241 697h1.5M301 648h1.5M293 616h1.5M266 700h1.5M235 667h1.5M191 657h1.5M207 645h1.5M313 608h1.5M232 688h1.5M232 693h1.5M250 663h1.5M256 671h1.5M329 662h1.5M183 667h1.5M324 582h1.5M210 619h1.5M185 656h1.5M322 624h1.5M177 644h1.5M185 640h1.5M315 654h1.5M179 588h1.5M252 705h1.5M176 640h1.5M240 684h1.5M317 663h1.5M330 631h1.5M306 680h1.5M327 652h1.5M280 695h1.5M260 707h1.5M228 618h1.5M187 644h1.5M219 652h1.5M220 681h1.5M295 616h1.5M268 697h1.5M282 657h1.5M231 670h1.5M208 674h1.5M236 682h1.5M337 591h1.5M331 657h1.5M209 663h1.5M249 653h1.5M233 694h1.5M234 694h1.5M183 648h1.5M235 677h1.5M233 617h1.5M239 694h1.5M212 678h1.5M261 701h1.5M331 656h1.5M216 669h1.5M228 616h1.5M214 683h1.5M311 662h1.5M310 596h1.5M251 670h1.5M241 619h1.5M281 686h1.5M333 659h1.5M177 586h1.5M276 662h1.5M267 701h1.5M294 660h1.5M316 613h1.5M334 623h1.5M185 597h1.5M211 624h1.5M177 617h1.5M337 641h1.5M233 687h1.5M341 584h1.5M262 693h1.5M303 662h1.5M299 670h1.5M228 668h1.5M317 664h1.5M332 594h1.5M194 666h1.5M258 626h1.5M273 688h1.5M199 675h1.5M182 660h1.5M177 627h1.5M224 687h1.5M173 600h1.5M274 686h1.5M330 656h1.5M265 663h1.5M319 647h1.5M269 674h1.5M324 617h1.5M234 696h1.5M183 646h1.5M336 581h1.5M176 632h1.5M298 659h1.5M224 669h1.5M326 635h1.5M180 644h1.5M198 669h1.5M181 613h1.5M209 678h1.5M309 659h1.5M187 653h1.5M179 656h1.5M294 650h1.5M287 688h1.5M308 573h1.5M173 599h1.5M332 665h1.5M259 652h1.5M275 638h1.5M187 664h1.5M196 673h1.5M212 681h1.5M260 646h1.5M302 683h1.5M260 620h1.5M281 690h1.5M235 625h1.5M253 657h1.5M252 703h1.5M292 687h1.5M197 662h1.5M323 584h1.5M238 698h1.5M330 648h1.5M237 664h1.5M317 658h1.5M180 652h1.5M173 582h1.5M181 654h1.5M314 658h1.5M331 582h1.5M295 684h1.5M282 685h1.5M213 640h1.5M187 661h1.5M305 626h1.5M336 631h1.5M222 628h1.5M178 601h1.5M199 639h1.5M305 615h1.5M212 676h1.5M181 666h1.5M318 642h1.5M253 693h1.5M193 659h1.5M298 681h1.5M282 675h1.5M265 694h1.5M259 678h1.5M179 653h1.5M286 681h1.5M192 666h1.5M212 678h1.5M283 609h1.5M252 698h1.5M326 657h1.5M180 628h1.5M179 664h1.5M330 638h1.5M303 675h1.5M290 678h1.5M181 625h1.5M214 576h1.5M236 685h1.5M324 669h1.5M274 697h1.5M275 690h1.5M250 699h1.5M176 633h1.5M299 662h1.5M312 674h1.5M176 626h1.5M211 681h1.5M172 584h1.5M196 662h1.5M268 618h1.5M279 679h1.5M224 680h1.5M258 708h1.5M334 610h1.5M315 674h1.5M190 632h1.5M198 668h1.5M300 667h1.5M289 565h1.5M223 621h1.5M329 626h1.5M245 662h1.5M203 651h1.5M338 588h1.5M259 617h1.5M338 627h1.5M280 670h1.5M262 703h1.5M207 574h1.5M335 638h1.5M263 693h1.5M172 585h1.5M178 597h1.5M178 649h1.5M318 667h1.5M333 628h1.5M333 587h1.5M206 660h1.5M246 669h1.5M286 691h1.5M289 674h1.5M175 596h1.5M262 679h1.5M332 658h1.5M340 602h1.5M322 668h1.5M250 647h1.5M264 678h1.5M243 681h1.5M202 678h1.5M322 645h1.5M298 618h1.5M321 620h1.5M190 669h1.5M297 684h1.5M237 698h1.5M226 668h1.5M296 648h1.5M303 669h1.5M281 695h1.5M253 681h1.5M309 634h1.5M177 644h1.5M275 677h1.5M272 650h1.5M220 675h1.5M178 658h1.5M290 647h1.5M224 665h1.5M294 676h1.5M236 560h1.5M272 648h1.5M182 645h1.5M322 672h1.5M322 632h1.5M205 679h1.5M222 688h1.5M214 673h1.5M322 661h1.5M336 618h1.5M194 594h1.5M227 677h1.5M181 644h1.5M325 638h1.5M333 636h1.5M207 678h1.5M305 608h1.5M284 689h1.5M189 667h1.5M287 686h1.5M183 665h1.5M194 659h1.5M313 641h1.5M261 695h1.5M228 604h1.5M179 649h1.5M235 696h1.5M175 613h1.5M176 628h1.5M293 686h1.5M337 596h1.5M195 671h1.5M186 664h1.5M193 667h1.5M195 661h1.5M175 604h1.5M310 624h1.5M177 600h1.5M188 654h1.5M186 627h1.5M329 632h1.5M294 667h1.5M222 652h1.5M299 683h1.5M325 640h1.5M307 660h1.5M231 683h1.5M248 683h1.5M328 606h1.5M313 671h1.5M199 675h1.5M310 667h1.5M331 666h1.5M264 702h1.5M272 675h1.5M272 661h1.5M337 628h1.5M215 638h1.5M174 612h1.5M279 616h1.5M181 651h1.5M262 681h1.5M337 642h1.5M259 707h1.5M197 664h1.5M229 682h1.5M300 656h1.5M330 651h1.5M234 694h1.5M252 654h1.5M233 691h1.5M182 633h1.5M276 668h1.5M249 704h1.5M186 582h1.5M329 661h1.5M171 585h1.5M189 582h1.5M307 621h1.5M333 591h1.5M304 660h1.5M238 696h1.5M342 584h1.5M307 680h1.5M195 666h1.5M205 658h1.5M183 628h1.5M184 649h1.5M181 584h1.5M185 662h1.5M192 644h1.5M183 609h1.5M228 690h1.5M240 698h1.5M187 670h1.5M217 675h1.5M334 622h1.5M248 669h1.5M183 593h1.5M199 618h1.5M259 663h1.5M283 682h1.5M307 672h1.5M273 651h1.5M243 699h1.5M190 643h1.5M318 648h1.5M268 644h1.5M291 688h1.5M217 670h1.5M326 661h1.5M308 657h1.5M312 639h1.5M325 658h1.5M210 568h1.5M275 656h1.5M311 675h1.5M292 636h1.5M205 629h1.5M288 671h1.5M191 662h1.5M258 702h1.5M208 664h1.5M180 631h1.5M185 629h1.5M233 678h1.5M324 660h1.5M266 683h1.5M187 622h1.5M259 661h1.5M328 667h1.5M308 570h1.5M332 663h1.5M271 635h1.5M258 698h1.5M338 602h1.5M313 676h1.5M257 706h1.5M238 678h1.5M329 665h1.5M213 680h1.5M303 656h1.5M298 664h1.5M256 703h1.5M220 660h1.5M178 596h1.5M178 638h1.5M267 614h1.5M337 606h1.5M260 681h1.5M240 685h1.5M230 691h1.5M295 653h1.5M271 700h1.5M295 687h1.5M272 665h1.5M178 644h1.5M206 571h1.5M236 696h1.5M238 643h1.5M323 662h1.5M223 678h1.5M249 668h1.5M253 641h1.5M295 638h1.5M176 628h1.5M340 584h1.5M327 643h1.5M193 639h1.5M323 656h1.5M332 657h1.5M206 618h1.5M274 689h1.5M324 649h1.5M321 623h1.5M279 652h1.5M219 684h1.5M204 665h1.5M271 697h1.5M211 644h1.5M262 684h1.5M172 587h1.5M237 692h1.5M208 661h1.5M225 689h1.5M338 585h1.5M273 699h1.5M212 671h1.5M203 642h1.5M293 648h1.5M338 632h1.5M202 599h1.5M257 627h1.5M179 625h1.5M284 656h1.5M179 665h1.5M336 617h1.5M272 620h1.5M320 641h1.5M256 651h1.5M181 625h1.5M275 562h1.5M190 669h1.5M335 635h1.5M264 645h1.5M210 621h1.5M175 586h1.5M255 631h1.5M257 609h1.5M306 662h1.5M200 676h1.5M284 651h1.5M189 598h1.5M334 627h1.5M222 674h1.5M213 633h1.5M174 600h1.5M180 642h1.5M313 674h1.5M250 605h1.5M245 676h1.5M272 687h1.5M174 606h1.5M232 689h1.5M301 665h1.5M316 663h1.5M242 649h1.5M185 660h1.5M183 658h1.5M340 608h1.5M205 619h1.5M289 673h1.5M323 663h1.5M284 686h1.5M249 691h1.5M224 679h1.5M176 598h1.5M231 644h1.5M261 672h1.5M283 692h1.5M174 594h1.5M263 705h1.5M320 600h1.5M299 614h1.5M190 671h1.5M176 590h1.5M193 639h1.5M296 656h1.5M182 650h1.5M322 670h1.5M230 669h1.5M193 646h1.5M240 688h1.5M237 640h1.5M201 669h1.5M263 699h1.5M323 671h1.5M245 695h1.5M227 691h1.5M331 635h1.5M229 682h1.5M306 680h1.5M221 627h1.5M332 590h1.5M279 677h1.5M328 667h1.5M257 683h1.5M176 592h1.5M330 651h1.5M195 613h1.5M253 685h1.5M224 602h1.5M324 644h1.5M176 592h1.5M340 591h1.5M275 692h1.5M216 617h1.5M193 660h1.5M331 655h1.5M216 674h1.5M331 659h1.5M295 658h1.5M314 654h1.5M175 602h1.5M206 680h1.5M187 611h1.5M292 681h1.5M212 669h1.5M256 679h1.5M253 660h1.5M335 649h1.5M181 616h1.5M216 671h1.5M337 624h1.5M308 645h1.5M191 665h1.5M331 660h1.5M178 652h1.5M295 676h1.5M224 677h1.5M250 667h1.5M241 697h1.5M203 672h1.5M191 619h1.5M211 594h1.5M326 630h1.5M178 618h1.5M202 674h1.5M192 596h1.5M187 618h1.5M198 661h1.5M259 702h1.5M193 629h1.5M256 699h1.5M181 592h1.5M319 592h1.5M297 567h1.5M198 640h1.5M222 623h1.5M308 649h1.5M183 634h1.5M336 622h1.5M200 573h1.5M229 679h1.5M194 661h1.5M246 696h1.5M232 564h1.5M306 670h1.5M192 669h1.5M300 678h1.5M219 676h1.5M185 625h1.5M235 693h1.5M219 679h1.5M335 665h1.5M315 665h1.5M180 655h1.5M172 585h1.5M210 651h1.5M299 649h1.5M203 612h1.5M212 650h1.5M250 670h1.5M194 640h1.5M183 646h1.5M282 689h1.5M324 664h1.5M339 607h1.5M304 679h1.5M243 647h1.5M297 630h1.5M205 674h1.5M185 607h1.5M197 672h1.5M313 675h1.5M230 693h1.5M228 686h1.5M284 692h1.5M194 663h1.5M315 648h1.5M310 626h1.5M300 618h1.5M326 659h1.5M179 659h1.5M326 652h1.5M218 625h1.5M235 670h1.5M304 674h1.5M326 642h1.5M276 609h1.5M273 684h1.5M283 661h1.5M202 650h1.5M287 687h1.5M288 671h1.5M235 696h1.5M301 641h1.5M267 671h1.5M307 668h1.5M269 696h1.5M263 679h1.5M331 654h1.5M185 650h1.5M275 641h1.5M318 646h1.5M234 689h1.5M211 681h1.5M325 655h1.5M334 621h1.5M309 677h1.5M329 611h1.5M232 688h1.5M295 597h1.5M325 607h1.5M328 665h1.5M257 680h1.5M216 671h1.5M276 625h1.5M185 654h1.5M184 600h1.5M282 680h1.5M330 640h1.5M303 679h1.5M230 667h1.5M222 595h1.5M200 636h1.5M287 664h1.5M224 603h1.5M290 688h1.5M257 676h1.5M276 677h1.5M180 653h1.5M243 688h1.5M302 582h1.5M199 656h1.5M303 683h1.5M325 604h1.5M183 664h1.5M185 668h1.5M198 659h1.5M187 587h1.5M181 643h1.5M300 663h1.5M267 700h1.5M257 708h1.5M266 699h1.5M186 646h1.5M330 659h1.5M257 685h1.5M334 624h1.5" stroke="#fff" stroke-width="1.5" fill="none" opacity="0.9"/><path d="M128.3 275.0L171.1 291.4L167.5 332.3L128.3 354.7L89.1 332.3L85.5 291.4ZM128.3 313.8L85.5 291.4M128.3 313.8L171.1 291.4M128.3 313.8L128.3 354.7M128.3 314.8L128.3 275.0M128.3 314.8L89.1 332.3M128.3 314.8L167.5 332.3" fill="none" stroke="#8a8a8a" stroke-width="0.65"/><path transform="scale(0.5)" d="M455 404h1.4M478 377h1.4M477 404h1.4M405 404h1.4M438 407h1.4M442 366h1.4M461 432h1.4M488 403h1.4M460 372h1.4M409 393h1.4M418 442h1.4M446 425h1.4M483 383h1.4M443 365h1.4M454 391h1.4M409 455h1.4M449 373h1.4M374 385h1.4M461 376h1.4M456 406h1.4M392 370h1.4M445 433h1.4M440 354h1.4M439 357h1.4M456 390h1.4M369 383h1.4M434 374h1.4M391 453h1.4M436 370h1.4M476 390h1.4M386 449h1.4M466 368h1.4M433 372h1.4M456 446h1.4M463 448h1.4M444 376h1.4M392 372h1.4M423 361h1.4M421 378h1.4M421 433h1.4M448 382h1.4M450 392h1.4M435 404h1.4M409 394h1.4M442 431h1.4M428 384h1.4M426 419h1.4M420 447h1.4M403 457h1.4M431 427h1.4M467 361h1.4M398 410h1.4M453 359h1.4M398 440h1.4M485 434h1.4M472 412h1.4M459 357h1.4M459 440h1.4M438 354h1.4M407 458h1.4M435 454h1.4M427 413h1.4M443 433h1.4M446 390h1.4M405 394h1.4M431 359h1.4M360 376h1.4M425 432h1.4M469 422h1.4M449 425h1.4M408 428h1.4M420 366h1.4M422 408h1.4M461 441h1.4M367 388h1.4M466 385h1.4M503 389h1.4M427 397h1.4M424 406h1.4M439 436h1.4M411 428h1.4M417 387h1.4M420 455h1.4M462 385h1.4M421 441h1.4M376 376h1.4M425 421h1.4M407 363h1.4M386 405h1.4M435 375h1.4M417 400h1.4M460 423h1.4M389 382h1.4M373 403h1.4M476 411h1.4M501 375h1.4M424 403h1.4M462 359h1.4M493 374h1.4M480 417h1.4M448 428h1.4M450 426h1.4M439 379h1.4M432 372h1.4M416 356h1.4M466 411h1.4M402 402h1.4M497 402h1.4M409 417h1.4M475 390h1.4M392 428h1.4M444 389h1.4M439 437h1.4M379 382h1.4M417 368h1.4M436 407h1.4M452 466h1.4M418 419h1.4M440 389h1.4M379 380h1.4M426 418h1.4M489 420h1.4M446 399h1.4M430 439h1.4M489 429h1.4M418 396h1.4M424 420h1.4M461 384h1.4M408 376h1.4M400 395h1.4M421 462h1.4M470 368h1.4M393 402h1.4M473 463h1.4M436 381h1.4M403 447h1.4M468 402h1.4M407 414h1.4M479 400h1.4M457 404h1.4M470 471h1.4M390 464h1.4M417 375h1.4M443 422h1.4M454 414h1.4M484 431h1.4M454 425h1.4M465 437h1.4M438 479h1.4M476 433h1.4M390 400h1.4M447 406h1.4M426 437h1.4M457 472h1.4M404 406h1.4M426 394h1.4M454 446h1.4M446 356h1.4M419 447h1.4M431 380h1.4M418 410h1.4M422 425h1.4M402 401h1.4M456 441h1.4M453 421h1.4M399 404h1.4M430 406h1.4M408 386h1.4M425 417h1.4M427 423h1.4M430 451h1.4M455 425h1.4M448 362h1.4M394 389h1.4M413 383h1.4M464 382h1.4M424 444h1.4M435 392h1.4M408 431h1.4M417 442h1.4M477 406h1.4M407 375h1.4M409 381h1.4M454 402h1.4M449 370h1.4M417 418h1.4M407 452h1.4M484 461h1.4M458 418h1.4M439 460h1.4M455 355h1.4M433 397h1.4M468 366h1.4M470 368h1.4M423 406h1.4M437 370h1.4M486 379h1.4M457 402h1.4M482 392h1.4M439 372h1.4M450 408h1.4M444 386h1.4M461 390h1.4M407 403h1.4M451 395h1.4M444 457h1.4M446 426h1.4M403 421h1.4M438 432h1.4M411 360h1.4M418 440h1.4M475 408h1.4M417 400h1.4M436 359h1.4M422 392h1.4M407 425h1.4M383 399h1.4M398 369h1.4M466 397h1.4M472 448h1.4M428 444h1.4M436 387h1.4M460 412h1.4M471 417h1.4M401 363h1.4M420 429h1.4M413 427h1.4M422 382h1.4M398 411h1.4M461 451h1.4M441 465h1.4M416 388h1.4M483 404h1.4M476 433h1.4M419 420h1.4M490 404h1.4M413 385h1.4M479 393h1.4M479 391h1.4M489 434h1.4M427 364h1.4M453 379h1.4M505 391h1.4M440 417h1.4M480 439h1.4M391 365h1.4M414 376h1.4M502 415h1.4M455 395h1.4M419 402h1.4M430 351h1.4M438 448h1.4M438 445h1.4M443 481h1.4M435 395h1.4M365 412h1.4M421 414h1.4M491 418h1.4M393 414h1.4M392 398h1.4M395 385h1.4M448 416h1.4M450 367h1.4M383 385h1.4M421 372h1.4M397 397h1.4M441 369h1.4M432 358h1.4M407 449h1.4M445 394h1.4M460 407h1.4M476 451h1.4M453 420h1.4M423 410h1.4M439 377h1.4M410 358h1.4M453 410h1.4M435 384h1.4M398 392h1.4M465 384h1.4M437 365h1.4M466 389h1.4M490 429h1.4M457 428h1.4M455 375h1.4M464 442h1.4M423 362h1.4M442 366h1.4M468 450h1.4M496 374h1.4M398 453h1.4M427 411h1.4M437 383h1.4M418 442h1.4M411 415h1.4M430 412h1.4M454 434h1.4M405 417h1.4M371 382h1.4M376 388h1.4M418 391h1.4M439 370h1.4M409 389h1.4M435 361h1.4M392 466h1.4M420 386h1.4M458 401h1.4M412 397h1.4M428 423h1.4M419 378h1.4M445 441h1.4M418 390h1.4M410 443h1.4M436 428h1.4M418 368h1.4M439 374h1.4M446 385h1.4M482 384h1.4M484 427h1.4M391 407h1.4M443 365h1.4M403 442h1.4M435 427h1.4M434 484h1.4M403 375h1.4M441 439h1.4M441 461h1.4M470 391h1.4M429 415h1.4M425 392h1.4M464 375h1.4M449 356h1.4M428 430h1.4M433 404h1.4M481 435h1.4M382 377h1.4M372 397h1.4M442 382h1.4M454 389h1.4M447 385h1.4M482 450h1.4M421 405h1.4M460 468h1.4M399 417h1.4M431 465h1.4M478 406h1.4M465 397h1.4M476 372h1.4M393 407h1.4M462 368h1.4M458 412h1.4M426 398h1.4M437 416h1.4M411 379h1.4M412 369h1.4M491 448h1.4M453 398h1.4M499 384h1.4M411 467h1.4M500 377h1.4M424 363h1.4M483 431h1.4M415 364h1.4M445 375h1.4M425 385h1.4M431 395h1.4M386 441h1.4M400 436h1.4M449 392h1.4M428 455h1.4M385 364h1.4M415 427h1.4M444 383h1.4M367 381h1.4M480 418h1.4M487 407h1.4M446 392h1.4M496 402h1.4M456 427h1.4M499 404h1.4M439 415h1.4M481 376h1.4M445 414h1.4M409 405h1.4M368 389h1.4M449 453h1.4M377 389h1.4M401 405h1.4M431 407h1.4M443 367h1.4M458 420h1.4M489 384h1.4M492 415h1.4M465 368h1.4M425 414h1.4M388 423h1.4M429 361h1.4M481 393h1.4M484 384h1.4M465 389h1.4M420 423h1.4M459 395h1.4M420 384h1.4M442 383h1.4M423 430h1.4M427 434h1.4M406 375h1.4M409 406h1.4M469 413h1.4M410 408h1.4M455 376h1.4M433 465h1.4M423 441h1.4M451 449h1.4M431 405h1.4M461 386h1.4M443 389h1.4M454 379h1.4M367 372h1.4M417 423h1.4M446 387h1.4M414 420h1.4M484 414h1.4M430 450h1.4M412 445h1.4M447 430h1.4M474 416h1.4M485 386h1.4M386 431h1.4M373 451h1.4M427 402h1.4M454 460h1.4M483 378h1.4M432 395h1.4M456 367h1.4M456 375h1.4M452 381h1.4M387 419h1.4M414 379h1.4M450 405h1.4M452 409h1.4M463 404h1.4M398 438h1.4M448 389h1.4M453 449h1.4M404 413h1.4M484 394h1.4M461 405h1.4M467 416h1.4M445 373h1.4M418 375h1.4M482 424h1.4M379 412h1.4M388 399h1.4M469 441h1.4M459 412h1.4M425 398h1.4M475 409h1.4M464 438h1.4M433 477h1.4M419 379h1.4M425 394h1.4M459 410h1.4M414 384h1.4M470 367h1.4M420 446h1.4M421 372h1.4M418 373h1.4M416 382h1.4M429 478h1.4M466 406h1.4M409 428h1.4M439 418h1.4M433 432h1.4M454 423h1.4M463 432h1.4M465 440h1.4M482 376h1.4M414 480h1.4M432 398h1.4M393 371h1.4M445 409h1.4M361 396h1.4M422 368h1.4M369 415h1.4M374 395h1.4M469 399h1.4M455 380h1.4M476 403h1.4M463 415h1.4M432 464h1.4M406 399h1.4M384 381h1.4M447 395h1.4M501 395h1.4M460 401h1.4M379 423h1.4M366 440h1.4M390 416h1.4M439 364h1.4M432 477h1.4M408 423h1.4M422 387h1.4M460 366h1.4M417 405h1.4M411 453h1.4M417 374h1.4M441 388h1.4M431 361h1.4M430 391h1.4M406 411h1.4M406 416h1.4M450 424h1.4M377 373h1.4M458 450h1.4M489 382h1.4M398 425h1.4M385 374h1.4M400 400h1.4M422 402h1.4M419 416h1.4M488 367h1.4M430 440h1.4M415 435h1.4M453 404h1.4M422 404h1.4M416 384h1.4M481 426h1.4M419 407h1.4M429 432h1.4M421 373h1.4M432 360h1.4M363 395h1.4M412 446h1.4M448 356h1.4M413 395h1.4M436 410h1.4M383 377h1.4M425 377h1.4M427 414h1.4M433 407h1.4M422 374h1.4M478 397h1.4M415 424h1.4M405 396h1.4M481 397h1.4M404 382h1.4M410 360h1.4M406 361h1.4M452 358h1.4M449 406h1.4M417 378h1.4M472 421h1.4M445 479h1.4M416 446h1.4M441 451h1.4M441 359h1.4M465 431h1.4M455 364h1.4M448 358h1.4M458 365h1.4M447 418h1.4M486 457h1.4M472 447h1.4M474 427h1.4M406 468h1.4M485 383h1.4M401 386h1.4M447 359h1.4M392 428h1.4M382 395h1.4M425 361h1.4M436 441h1.4M384 402h1.4M474 430h1.4M419 370h1.4M473 380h1.4M436 373h1.4M414 450h1.4M387 398h1.4M483 383h1.4M433 402h1.4M459 362h1.4M410 423h1.4M440 371h1.4M410 373h1.4M385 383h1.4M463 438h1.4M411 399h1.4M410 398h1.4M399 384h1.4M386 406h1.4M426 403h1.4M452 362h1.4M440 370h1.4M388 392h1.4M436 381h1.4M464 424h1.4M420 374h1.4M387 395h1.4M407 364h1.4M399 431h1.4M417 383h1.4M408 403h1.4M381 409h1.4M438 380h1.4M414 450h1.4M455 404h1.4M395 370h1.4M446 441h1.4M402 429h1.4M470 407h1.4M415 452h1.4M405 423h1.4M406 418h1.4M484 399h1.4M403 432h1.4M384 391h1.4M410 445h1.4M401 438h1.4M365 438h1.4M466 358h1.4M449 390h1.4M474 399h1.4M414 428h1.4M425 420h1.4M477 433h1.4M457 365h1.4M400 422h1.4M442 436h1.4M435 462h1.4M364 378h1.4M443 402h1.4M427 424h1.4M417 435h1.4M360 383h1.4M387 436h1.4M440 376h1.4M374 397h1.4M405 423h1.4M490 439h1.4M434 462h1.4M489 408h1.4M429 432h1.4M374 376h1.4M448 357h1.4M459 387h1.4M450 400h1.4M475 444h1.4M410 418h1.4M474 410h1.4M396 402h1.4M387 383h1.4M463 441h1.4M467 448h1.4M402 445h1.4M425 380h1.4M476 381h1.4M482 392h1.4M442 457h1.4M479 389h1.4M469 434h1.4M484 409h1.4M399 402h1.4M424 414h1.4M463 408h1.4M497 372h1.4M404 403h1.4M477 387h1.4M369 384h1.4M424 402h1.4M487 404h1.4M466 452h1.4M427 385h1.4M436 374h1.4M419 437h1.4M417 396h1.4M454 383h1.4M437 378h1.4M438 404h1.4M487 404h1.4M411 396h1.4M401 368h1.4M461 397h1.4M359 377h1.4M399 384h1.4M453 426h1.4M431 422h1.4M454 370h1.4M375 385h1.4M364 386h1.4M406 435h1.4M441 359h1.4M420 392h1.4M402 366h1.4M390 427h1.4M401 411h1.4M484 413h1.4M397 402h1.4M390 409h1.4M458 425h1.4M396 385h1.4M386 379h1.4M420 377h1.4M402 416h1.4M408 404h1.4M407 421h1.4M394 390h1.4M471 374h1.4M455 358h1.4M497 370h1.4M372 397h1.4M457 383h1.4M412 394h1.4M457 396h1.4M416 411h1.4M383 393h1.4M448 434h1.4M454 445h1.4M474 407h1.4M401 445h1.4M471 400h1.4M417 413h1.4M382 375h1.4M380 399h1.4M476 364h1.4M373 385h1.4M458 406h1.4M380 393h1.4M414 390h1.4M403 429h1.4M454 428h1.4M449 447h1.4M416 392h1.4M433 361h1.4M439 411h1.4M449 408h1.4M422 408h1.4M434 460h1.4M379 410h1.4M428 396h1.4M460 430h1.4M465 400h1.4M398 382h1.4M461 447h1.4M435 410h1.4M482 413h1.4M485 444h1.4M393 382h1.4M425 389h1.4M392 391h1.4M442 422h1.4M381 423h1.4M388 421h1.4M402 420h1.4M409 416h1.4M380 419h1.4M475 402h1.4M394 382h1.4M422 384h1.4M409 401h1.4M403 390h1.4M452 402h1.4M446 407h1.4M502 375h1.4M446 367h1.4M380 377h1.4M435 430h1.4M397 418h1.4M417 385h1.4M473 415h1.4M468 365h1.4M405 369h1.4M427 452h1.4M419 390h1.4M455 369h1.4M408 397h1.4M461 393h1.4M375 381h1.4M451 384h1.4M433 355h1.4M473 448h1.4M430 409h1.4M419 368h1.4M501 424h1.4M444 384h1.4M407 403h1.4M446 384h1.4M447 425h1.4M430 371h1.4M439 475h1.4M431 419h1.4M449 435h1.4M457 392h1.4M441 380h1.4M426 389h1.4M420 369h1.4M445 365h1.4M458 385h1.4M450 411h1.4M467 425h1.4M420 444h1.4M467 402h1.4M454 389h1.4M392 432h1.4M433 412h1.4M469 399h1.4M445 401h1.4M378 378h1.4M496 396h1.4M420 402h1.4M406 399h1.4M473 440h1.4M476 369h1.4M388 373h1.4M430 488h1.4M387 365h1.4M465 390h1.4M428 392h1.4M499 429h1.4M437 417h1.4M366 381h1.4M407 417h1.4M434 393h1.4M374 390h1.4M415 356h1.4M419 387h1.4M466 422h1.4M452 401h1.4M480 386h1.4M480 399h1.4M456 451h1.4M424 424h1.4M426 459h1.4M469 416h1.4M416 385h1.4M430 366h1.4M441 416h1.4M479 410h1.4M449 483h1.4M430 385h1.4M439 408h1.4M445 401h1.4M448 374h1.4M407 407h1.4M483 408h1.4M413 448h1.4M406 424h1.4M391 366h1.4M476 387h1.4M431 394h1.4M441 383h1.4M490 437h1.4M440 458h1.4M370 422h1.4M397 402h1.4M444 435h1.4M468 459h1.4M476 393h1.4M425 423h1.4M427 393h1.4M457 402h1.4M396 403h1.4M419 366h1.4M445 402h1.4M402 401h1.4M436 394h1.4M450 407h1.4M440 405h1.4M435 365h1.4M468 379h1.4M446 409h1.4M373 394h1.4M459 434h1.4M384 406h1.4M435 377h1.4M488 383h1.4M390 386h1.4M453 407h1.4M385 463h1.4M466 448h1.4M421 412h1.4M426 392h1.4M452 388h1.4M485 389h1.4M444 419h1.4M392 407h1.4M402 421h1.4M440 405h1.4M436 409h1.4M429 375h1.4M432 415h1.4M465 417h1.4M382 371h1.4M450 451h1.4M445 377h1.4M435 378h1.4M475 391h1.4M485 430h1.4M431 361h1.4M407 427h1.4M488 378h1.4M451 400h1.4M426 396h1.4M417 376h1.4M429 404h1.4M418 358h1.4M446 401h1.4M448 381h1.4M446 396h1.4M405 369h1.4M403 390h1.4M423 403h1.4M442 387h1.4M468 429h1.4M428 440h1.4M409 422h1.4M392 374h1.4M397 375h1.4M435 413h1.4M439 400h1.4M401 376h1.4M439 401h1.4M413 412h1.4M434 408h1.4M378 408h1.4M427 411h1.4M418 362h1.4M384 445h1.4M418 421h1.4M429 402h1.4M433 418h1.4M423 413h1.4M417 389h1.4M462 367h1.4M445 365h1.4M421 390h1.4M429 449h1.4M480 396h1.4M450 425h1.4M485 428h1.4M430 398h1.4M384 385h1.4M407 416h1.4M450 396h1.4M450 394h1.4M433 397h1.4M440 378h1.4M439 450h1.4M426 361h1.4M439 438h1.4M369 373h1.4M467 375h1.4M413 430h1.4M408 403h1.4M442 416h1.4M481 426h1.4M446 356h1.4M469 409h1.4M493 380h1.4M384 415h1.4M388 387h1.4M398 398h1.4M484 421h1.4M407 384h1.4M452 395h1.4M435 392h1.4M465 405h1.4M424 462h1.4M455 365h1.4M405 387h1.4M401 384h1.4M441 401h1.4M458 382h1.4M404 364h1.4M451 420h1.4M386 405h1.4M407 391h1.4M468 387h1.4M496 432h1.4M407 427h1.4M446 466h1.4M437 391h1.4M433 400h1.4M403 398h1.4M397 408h1.4M422 365h1.4M475 448h1.4M420 412h1.4M440 412h1.4M374 412h1.4M439 424h1.4M402 389h1.4M376 382h1.4M431 386h1.4M463 373h1.4M473 376h1.4M449 469h1.4M474 398h1.4M477 371h1.4M438 388h1.4M423 352h1.4M420 358h1.4M448 444h1.4M434 401h1.4M485 365h1.4M423 484h1.4M443 368h1.4M382 380h1.4M447 400h1.4M425 418h1.4M438 388h1.4M406 453h1.4M434 412h1.4M435 427h1.4M401 468h1.4M441 374h1.4M450 457h1.4M462 399h1.4M412 384h1.4M427 413h1.4M436 361h1.4M418 404h1.4M444 390h1.4M411 476h1.4M433 403h1.4M419 426h1.4M450 392h1.4M482 368h1.4M479 397h1.4M402 417h1.4M412 385h1.4M408 380h1.4M371 423h1.4M406 395h1.4M425 395h1.4M446 389h1.4M444 410h1.4M415 410h1.4M417 427h1.4M482 399h1.4M397 385h1.4M487 383h1.4M490 418h1.4M454 384h1.4M405 448h1.4M438 422h1.4M421 397h1.4M428 418h1.4M429 362h1.4M468 455h1.4M403 421h1.4M458 378h1.4M471 390h1.4M495 386h1.4M419 361h1.4M496 379h1.4M413 452h1.4M400 420h1.4M428 419h1.4M456 380h1.4M373 390h1.4M463 369h1.4M379 412h1.4M459 367h1.4M380 375h1.4M498 376h1.4M445 360h1.4M492 386h1.4M501 384h1.4M462 473h1.4M408 396h1.4M444 410h1.4M402 375h1.4M432 384h1.4M385 400h1.4M492 448h1.4M425 428h1.4M479 388h1.4M446 416h1.4M433 366h1.4M460 400h1.4M386 397h1.4M385 396h1.4M414 409h1.4M471 398h1.4M435 403h1.4M403 439h1.4M462 372h1.4M365 374h1.4M404 412h1.4M479 426h1.4M425 428h1.4M474 421h1.4M433 436h1.4M471 398h1.4M412 409h1.4M443 380h1.4M398 386h1.4M497 383h1.4M469 392h1.4M425 449h1.4M440 405h1.4M439 391h1.4M442 386h1.4M465 373h1.4M458 424h1.4M383 384h1.4M434 411h1.4M411 424h1.4M414 427h1.4M443 422h1.4M409 371h1.4M482 377h1.4M495 456h1.4M428 361h1.4M476 397h1.4M392 370h1.4M497 381h1.4M480 425h1.4M439 402h1.4M469 364h1.4M364 381h1.4M442 419h1.4M405 418h1.4M442 362h1.4M381 401h1.4M421 463h1.4M380 428h1.4M466 386h1.4M497 407h1.4M460 414h1.4M381 395h1.4M500 440h1.4M443 412h1.4M449 369h1.4M429 376h1.4M431 402h1.4M380 401h1.4M449 378h1.4M415 397h1.4M432 438h1.4M432 420h1.4M471 361h1.4M394 442h1.4M444 393h1.4M444 437h1.4M394 384h1.4M440 359h1.4M403 432h1.4M432 390h1.4M491 384h1.4M493 442h1.4M409 408h1.4M446 375h1.4M439 407h1.4M405 419h1.4M437 416h1.4M407 406h1.4M408 399h1.4M390 396h1.4M430 461h1.4M414 409h1.4M411 361h1.4M425 372h1.4M388 396h1.4M445 409h1.4M465 456h1.4M398 385h1.4M457 394h1.4M373 374h1.4M429 398h1.4M465 434h1.4M460 374h1.4M428 386h1.4M418 363h1.4M434 441h1.4M444 419h1.4M394 394h1.4M480 384h1.4M461 421h1.4M413 419h1.4M438 432h1.4M423 395h1.4M486 424h1.4M455 362h1.4M426 382h1.4M388 391h1.4M375 385h1.4M391 393h1.4M401 412h1.4M433 380h1.4M483 386h1.4M436 406h1.4M388 370h1.4M394 415h1.4M448 411h1.4M484 394h1.4M471 370h1.4M458 379h1.4M385 451h1.4M429 452h1.4M453 432h1.4M459 457h1.4M440 380h1.4M446 391h1.4M480 386h1.4M441 413h1.4M376 436h1.4M396 452h1.4M462 381h1.4M459 473h1.4M396 406h1.4M465 415h1.4M424 408h1.4M383 374h1.4M421 393h1.4M459 392h1.4M426 379h1.4M444 427h1.4M457 425h1.4M376 373h1.4M435 433h1.4M432 472h1.4M429 398h1.4M386 402h1.4M397 410h1.4M376 445h1.4M423 416h1.4M440 350h1.4M435 411h1.4M452 394h1.4M439 464h1.4M474 444h1.4M444 373h1.4M380 451h1.4M481 379h1.4M476 463h1.4M400 427h1.4M427 436h1.4M410 403h1.4M392 421h1.4M435 429h1.4M453 408h1.4M395 374h1.4M436 419h1.4M411 444h1.4M368 379h1.4M392 407h1.4M434 438h1.4M465 368h1.4M450 407h1.4M400 398h1.4M468 380h1.4M432 377h1.4M434 406h1.4M394 441h1.4M486 429h1.4M421 362h1.4M454 363h1.4M397 424h1.4M387 391h1.4M459 445h1.4M432 449h1.4M425 377h1.4M429 430h1.4M395 414h1.4M440 448h1.4M411 403h1.4M490 446h1.4M422 398h1.4M457 428h1.4M363 391h1.4M440 391h1.4M447 380h1.4M446 358h1.4M369 374h1.4M457 436h1.4M424 376h1.4M478 383h1.4M468 395h1.4M403 434h1.4M466 364h1.4M413 392h1.4M424 372h1.4M443 393h1.4M414 453h1.4M403 407h1.4M479 381h1.4M418 405h1.4M446 455h1.4M405 400h1.4M439 420h1.4M419 409h1.4M395 392h1.4M423 363h1.4M387 424h1.4M379 461h1.4M495 383h1.4M415 408h1.4M399 387h1.4M403 471h1.4M400 384h1.4M377 375h1.4M426 366h1.4M444 438h1.4M467 429h1.4M431 360h1.4M401 430h1.4M430 393h1.4M446 385h1.4M453 401h1.4M402 433h1.4M455 388h1.4M380 451h1.4M462 419h1.4M438 410h1.4M430 404h1.4M427 416h1.4M421 405h1.4M467 454h1.4M416 422h1.4M452 417h1.4M441 375h1.4M382 411h1.4M388 380h1.4M427 385h1.4M380 425h1.4M458 358h1.4M423 405h1.4M458 363h1.4M483 394h1.4M378 420h1.4M431 416h1.4M438 410h1.4M499 381h1.4M480 389h1.4M442 378h1.4M422 419h1.4M453 378h1.4M435 467h1.4M480 394h1.4M457 397h1.4M416 394h1.4M391 386h1.4M451 424h1.4M391 399h1.4M399 414h1.4M377 395h1.4M424 458h1.4M413 370h1.4M405 413h1.4M506 409h1.4M426 393h1.4M365 378h1.4M402 377h1.4M465 412h1.4M422 410h1.4M472 430h1.4M468 384h1.4M447 430h1.4M433 440h1.4M433 408h1.4M443 388h1.4M440 416h1.4M450 401h1.4M387 440h1.4M457 392h1.4M407 455h1.4M370 407h1.4M386 428h1.4M433 376h1.4M444 364h1.4M422 457h1.4M468 395h1.4M440 403h1.4M394 386h1.4M408 397h1.4M430 450h1.4M439 391h1.4M445 433h1.4M465 410h1.4M447 432h1.4M455 422h1.4M409 360h1.4M406 402h1.4M460 460h1.4M467 381h1.4M476 425h1.4M406 416h1.4M436 423h1.4M426 375h1.4M399 441h1.4M447 388h1.4M417 454h1.4M419 403h1.4M489 398h1.4M483 442h1.4M424 357h1.4M440 396h1.4M416 384h1.4M407 424h1.4M429 370h1.4M382 452h1.4M434 429h1.4M395 437h1.4M508 375h1.4M443 422h1.4M440 432h1.4M455 449h1.4M391 398h1.4M439 446h1.4M453 481h1.4M423 464h1.4M445 410h1.4M437 368h1.4M448 403h1.4M432 387h1.4M414 398h1.4M411 425h1.4M444 407h1.4M403 407h1.4M473 413h1.4M381 384h1.4M470 405h1.4M433 351h1.4M416 394h1.4M412 418h1.4M489 398h1.4M445 397h1.4M477 440h1.4M431 452h1.4M489 408h1.4M416 445h1.4M472 452h1.4M389 371h1.4M455 407h1.4M441 393h1.4M430 377h1.4M396 442h1.4M435 458h1.4M415 373h1.4M494 385h1.4M408 366h1.4M445 395h1.4M416 429h1.4M433 414h1.4M400 399h1.4M452 397h1.4M479 418h1.4M415 396h1.4M416 397h1.4M449 465h1.4M428 405h1.4M390 383h1.4M445 364h1.4M412 394h1.4M456 372h1.4M429 423h1.4M430 422h1.4M446 408h1.4M450 402h1.4M403 447h1.4M420 385h1.4M452 434h1.4M425 391h1.4M374 386h1.4M445 375h1.4M453 406h1.4M461 422h1.4M438 460h1.4M459 401h1.4M387 429h1.4M367 404h1.4M452 382h1.4M436 412h1.4M365 381h1.4M450 370h1.4M443 470h1.4M475 448h1.4M458 422h1.4M441 382h1.4M405 412h1.4M461 402h1.4M440 404h1.4M401 440h1.4M454 419h1.4M416 379h1.4M425 396h1.4M468 426h1.4M395 387h1.4M421 433h1.4M460 375h1.4M434 358h1.4M427 348h1.4M415 382h1.4M487 436h1.4M403 372h1.4M393 428h1.4M397 421h1.4M452 412h1.4M434 377h1.4M400 411h1.4M421 429h1.4M441 401h1.4M452 399h1.4M492 411h1.4M505 375h1.4M458 385h1.4M422 401h1.4M451 475h1.4M486 396h1.4M390 380h1.4M479 404h1.4M407 394h1.4M456 401h1.4M414 383h1.4M493 391h1.4M469 393h1.4M465 383h1.4M382 400h1.4M400 462h1.4M418 365h1.4M434 427h1.4M465 403h1.4M441 399h1.4M441 433h1.4M439 394h1.4M368 386h1.4M396 451h1.4M456 394h1.4M427 403h1.4M400 413h1.4M409 395h1.4M454 418h1.4M469 398h1.4M399 365h1.4M472 372h1.4M432 472h1.4M438 399h1.4M456 421h1.4M438 391h1.4M460 436h1.4M407 387h1.4M465 436h1.4M424 409h1.4M400 424h1.4M394 446h1.4M394 395h1.4M390 428h1.4M438 409h1.4M445 379h1.4M409 397h1.4M428 377h1.4M411 427h1.4M442 411h1.4M399 387h1.4M403 375h1.4M419 386h1.4M406 448h1.4M492 396h1.4M470 444h1.4M428 401h1.4M431 387h1.4M451 422h1.4M479 407h1.4M432 424h1.4M452 402h1.4M376 416h1.4M452 395h1.4M450 384h1.4M459 413h1.4M386 389h1.4M453 353h1.4M453 384h1.4M437 432h1.4M449 393h1.4M422 375h1.4M477 442h1.4M429 441h1.4M430 411h1.4M462 381h1.4M428 460h1.4M416 361h1.4M491 371h1.4M421 405h1.4M461 387h1.4M390 455h1.4M407 462h1.4M368 444h1.4M485 426h1.4M433 387h1.4M467 371h1.4M373 449h1.4M485 447h1.4M378 418h1.4M411 412h1.4M460 452h1.4M405 372h1.4M427 376h1.4M367 414h1.4M423 395h1.4M504 386h1.4M419 385h1.4M483 420h1.4M439 411h1.4M408 442h1.4M401 412h1.4M402 437h1.4M423 438h1.4M402 401h1.4M454 362h1.4M428 444h1.4M462 392h1.4M496 373h1.4M482 385h1.4M396 404h1.4M464 376h1.4M417 381h1.4M424 478h1.4M386 403h1.4M395 388h1.4M448 411h1.4M392 450h1.4M413 419h1.4M388 461h1.4M481 387h1.4M425 434h1.4M419 461h1.4M421 432h1.4M432 397h1.4M475 466h1.4M397 435h1.4M386 414h1.4M496 375h1.4M475 381h1.4M414 432h1.4M432 366h1.4M430 358h1.4M410 440h1.4M440 404h1.4M400 422h1.4M433 426h1.4M479 385h1.4M406 459h1.4M406 364h1.4M428 367h1.4M433 407h1.4M444 408h1.4M493 403h1.4M446 417h1.4M435 437h1.4M429 444h1.4M379 455h1.4M401 397h1.4M461 434h1.4M428 365h1.4M390 369h1.4M429 409h1.4M407 411h1.4M467 392h1.4M380 387h1.4M425 383h1.4M435 401h1.4M411 395h1.4M447 412h1.4M427 418h1.4M478 410h1.4M402 439h1.4M424 461h1.4M448 366h1.4M412 423h1.4M473 367h1.4M410 386h1.4M468 379h1.4M432 415h1.4M462 378h1.4M410 383h1.4M448 402h1.4M390 386h1.4M491 448h1.4M406 386h1.4M443 486h1.4M457 415h1.4M433 373h1.4M444 413h1.4M449 360h1.4M419 396h1.4M396 392h1.4M386 401h1.4M462 364h1.4M405 392h1.4M414 457h1.4M437 379h1.4M456 360h1.4M397 416h1.4M462 400h1.4M382 396h1.4M442 391h1.4M428 439h1.4M500 383h1.4M396 382h1.4M420 368h1.4M437 380h1.4M459 397h1.4M425 378h1.4M429 424h1.4M429 371h1.4M495 373h1.4M373 436h1.4M447 386h1.4M438 460h1.4M485 439h1.4M413 453h1.4M399 439h1.4M434 367h1.4M461 420h1.4M428 376h1.4M422 399h1.4M479 406h1.4M383 372h1.4M411 448h1.4M375 379h1.4M423 409h1.4M430 374h1.4M466 399h1.4M446 439h1.4M504 379h1.4M367 383h1.4M447 388h1.4M419 453h1.4M466 379h1.4M443 394h1.4M474 381h1.4M463 359h1.4M410 417h1.4M428 417h1.4M391 371h1.4M443 363h1.4M378 370h1.4M460 395h1.4M390 446h1.4M426 369h1.4M399 367h1.4M391 411h1.4M448 421h1.4M395 456h1.4M486 383h1.4M434 372h1.4M422 406h1.4M414 420h1.4M428 394h1.4M468 381h1.4M424 395h1.4M443 446h1.4M483 427h1.4M419 453h1.4M434 451h1.4M419 393h1.4M398 399h1.4M399 382h1.4M414 384h1.4M402 385h1.4M429 396h1.4M480 382h1.4M461 403h1.4M439 409h1.4M466 361h1.4M417 357h1.4M462 395h1.4M458 415h1.4M437 386h1.4M407 452h1.4M436 399h1.4M462 462h1.4M428 468h1.4M491 393h1.4M471 407h1.4M506 399h1.4M470 433h1.4M452 408h1.4M448 383h1.4M464 375h1.4M439 461h1.4M382 373h1.4M462 443h1.4M385 371h1.4M426 433h1.4M438 364h1.4M479 438h1.4M467 441h1.4M466 427h1.4M436 386h1.4M416 433h1.4M479 409h1.4M402 374h1.4M448 382h1.4M457 411h1.4M425 419h1.4M406 403h1.4M446 472h1.4M419 450h1.4M493 383h1.4M502 374h1.4M434 393h1.4M427 397h1.4M360 379h1.4M469 419h1.4M408 389h1.4M454 417h1.4M421 446h1.4M374 403h1.4M415 409h1.4M431 436h1.4M476 407h1.4M466 413h1.4M446 451h1.4M417 422h1.4M422 398h1.4M418 414h1.4M471 451h1.4M478 413h1.4M403 460h1.4M467 434h1.4M498 420h1.4M423 416h1.4M433 350h1.4M384 384h1.4M402 421h1.4M443 395h1.4M464 381h1.4M409 378h1.4M473 379h1.4M491 396h1.4M409 379h1.4M371 377h1.4M465 393h1.4M440 477h1.4M437 389h1.4M452 383h1.4M492 377h1.4M470 414h1.4M467 372h1.4M418 458h1.4M466 404h1.4M419 366h1.4M390 388h1.4M435 422h1.4M482 457h1.4M497 384h1.4M416 487h1.4M447 365h1.4M372 415h1.4M396 365h1.4M475 371h1.4M456 477h1.4M460 423h1.4M448 363h1.4M393 387h1.4M387 409h1.4M435 358h1.4M378 405h1.4M403 459h1.4M441 351h1.4M487 408h1.4M447 383h1.4M437 363h1.4M500 422h1.4M397 380h1.4M392 389h1.4M420 376h1.4M415 416h1.4M426 424h1.4M425 411h1.4M419 447h1.4M491 383h1.4M432 404h1.4M397 420h1.4M471 419h1.4M382 408h1.4M445 397h1.4M406 380h1.4M455 390h1.4M469 453h1.4M470 382h1.4M472 440h1.4M389 433h1.4M442 381h1.4M403 417h1.4M385 386h1.4M472 359h1.4M462 367h1.4M396 364h1.4M449 408h1.4M437 443h1.4M414 355h1.4M374 440h1.4M431 402h1.4M367 445h1.4M481 401h1.4M413 435h1.4M402 414h1.4M386 445h1.4M396 423h1.4M425 411h1.4M450 387h1.4M437 464h1.4M442 437h1.4M447 438h1.4M450 400h1.4M405 374h1.4M422 394h1.4M366 432h1.4M428 422h1.4M447 413h1.4M501 381h1.4M454 400h1.4M401 446h1.4M476 373h1.4M461 403h1.4M418 360h1.4M500 385h1.4M391 387h1.4M435 378h1.4M438 438h1.4M435 368h1.4M474 391h1.4M466 390h1.4M473 385h1.4M448 438h1.4M396 465h1.4M431 349h1.4M379 372h1.4M425 394h1.4M466 447h1.4M448 365h1.4M450 395h1.4M430 417h1.4M455 433h1.4M370 387h1.4M430 406h1.4M437 362h1.4M480 438h1.4M440 365h1.4M480 406h1.4M457 365h1.4M403 451h1.4M413 383h1.4M434 376h1.4M460 456h1.4M447 379h1.4M410 398h1.4M469 407h1.4M414 411h1.4M456 374h1.4M427 401h1.4M456 401h1.4M444 380h1.4M401 401h1.4M376 386h1.4M487 462h1.4M472 407h1.4M408 434h1.4M454 366h1.4M381 393h1.4M439 408h1.4M440 366h1.4M470 463h1.4M474 380h1.4M428 404h1.4M384 401h1.4M461 404h1.4M433 373h1.4M450 427h1.4M409 390h1.4M441 435h1.4M427 388h1.4M423 363h1.4M466 400h1.4M460 434h1.4M476 402h1.4M442 361h1.4M381 381h1.4M464 404h1.4M424 410h1.4M432 448h1.4M454 432h1.4M419 411h1.4M437 361h1.4M364 382h1.4M451 405h1.4M474 446h1.4M408 366h1.4M373 444h1.4M381 389h1.4M383 392h1.4M385 414h1.4M432 407h1.4M392 446h1.4M484 391h1.4M442 444h1.4M480 426h1.4M398 465h1.4M451 401h1.4M386 392h1.4M438 396h1.4M434 366h1.4M407 437h1.4M392 433h1.4M431 406h1.4M403 385h1.4M443 403h1.4M481 399h1.4M452 424h1.4M459 399h1.4M490 373h1.4M449 410h1.4M482 448h1.4M433 394h1.4M431 414h1.4M421 375h1.4M481 440h1.4M389 371h1.4M484 412h1.4M395 380h1.4M407 416h1.4M384 435h1.4M440 424h1.4M402 452h1.4M445 390h1.4M390 400h1.4M407 425h1.4M444 382h1.4M403 398h1.4M418 436h1.4M425 373h1.4M442 447h1.4M410 407h1.4M375 377h1.4M447 405h1.4M490 408h1.4M454 406h1.4M489 382h1.4M446 369h1.4M404 437h1.4M492 381h1.4M387 397h1.4M396 400h1.4M428 450h1.4M408 434h1.4M437 435h1.4M398 428h1.4M491 385h1.4M401 465h1.4M448 483h1.4M434 429h1.4M416 418h1.4M408 361h1.4M444 403h1.4M410 400h1.4M484 400h1.4M485 434h1.4M406 374h1.4M442 375h1.4M464 364h1.4M395 398h1.4M433 453h1.4M407 374h1.4M424 413h1.4M500 382h1.4M467 452h1.4M411 391h1.4M395 376h1.4M430 373h1.4M426 376h1.4M426 415h1.4M446 396h1.4M461 382h1.4M390 423h1.4M449 361h1.4M379 446h1.4M446 392h1.4M437 440h1.4M387 405h1.4M400 396h1.4M431 387h1.4M479 459h1.4M424 378h1.4M427 407h1.4M408 400h1.4M423 420h1.4M432 471h1.4M404 379h1.4M474 388h1.4M399 442h1.4M453 394h1.4M443 355h1.4M436 404h1.4M366 422h1.4M438 376h1.4M416 403h1.4M465 427h1.4M431 346h1.4M422 429h1.4M422 414h1.4M419 369h1.4M420 425h1.4M404 421h1.4M423 417h1.4M404 423h1.4M492 416h1.4M394 442h1.4M423 449h1.4M430 392h1.4M424 382h1.4M452 360h1.4M431 487h1.4M455 468h1.4M444 395h1.4M447 390h1.4M389 388h1.4M391 390h1.4M477 421h1.4M403 400h1.4M440 457h1.4M486 419h1.4M471 404h1.4M403 419h1.4M476 461h1.4M418 367h1.4M398 401h1.4M371 391h1.4M420 416h1.4M433 354h1.4M412 404h1.4M494 414h1.4M467 394h1.4M416 360h1.4M410 368h1.4M408 369h1.4M460 415h1.4M430 472h1.4M423 415h1.4M488 427h1.4M471 432h1.4M443 435h1.4M460 366h1.4M450 422h1.4M427 396h1.4M444 364h1.4M431 364h1.4M393 443h1.4M403 407h1.4M416 417h1.4M398 392h1.4M409 444h1.4M372 371h1.4M423 406h1.4M405 416h1.4M447 382h1.4M406 375h1.4M402 430h1.4M448 450h1.4M440 393h1.4M427 387h1.4M402 382h1.4M459 391h1.4M478 372h1.4M438 410h1.4M473 397h1.4M451 403h1.4M420 406h1.4M478 390h1.4M445 379h1.4M424 408h1.4M419 367h1.4M420 381h1.4M432 400h1.4M420 435h1.4M426 415h1.4M462 438h1.4M471 440h1.4M434 398h1.4M465 451h1.4M484 366h1.4M498 436h1.4M443 410h1.4M425 443h1.4M445 427h1.4M454 373h1.4M455 428h1.4M439 427h1.4M480 366h1.4M442 388h1.4M421 421h1.4M367 407h1.4M411 431h1.4M445 377h1.4M390 426h1.4M462 402h1.4M419 382h1.4M461 442h1.4M457 386h1.4M415 426h1.4M423 414h1.4M418 400h1.4M405 385h1.4M467 370h1.4M432 426h1.4M455 354h1.4M410 382h1.4M396 394h1.4M459 413h1.4M467 456h1.4M444 425h1.4M468 373h1.4M401 368h1.4M437 366h1.4M444 377h1.4M471 372h1.4M414 423h1.4M431 405h1.4M395 400h1.4M396 398h1.4M458 457h1.4M460 419h1.4M448 386h1.4M463 412h1.4M424 460h1.4M433 420h1.4M400 394h1.4M471 412h1.4M466 378h1.4M430 434h1.4M437 387h1.4M448 397h1.4M434 365h1.4M417 415h1.4M468 444h1.4M409 396h1.4M399 423h1.4M431 463h1.4M463 456h1.4M370 435h1.4M445 407h1.4M423 440h1.4M458 374h1.4M484 432h1.4M363 384h1.4M416 417h1.4M462 381h1.4M397 365h1.4M483 366h1.4M373 400h1.4M401 384h1.4M466 376h1.4M430 408h1.4M444 383h1.4M432 408h1.4M462 398h1.4M470 404h1.4M439 368h1.4M460 412h1.4M401 404h1.4M403 394h1.4M461 464h1.4M445 393h1.4M467 432h1.4M454 414h1.4M500 430h1.4M451 401h1.4M477 376h1.4M407 369h1.4M447 366h1.4M460 412h1.4M474 382h1.4M468 454h1.4M457 390h1.4M376 374h1.4M441 397h1.4M428 412h1.4M460 365h1.4M510 382h1.4M417 448h1.4M434 478h1.4M405 385h1.4M416 375h1.4M418 388h1.4M435 395h1.4M429 401h1.4M433 383h1.4M416 419h1.4M484 396h1.4M398 432h1.4M383 429h1.4M393 454h1.4M456 434h1.4M375 428h1.4M430 425h1.4M414 418h1.4M459 411h1.4M394 435h1.4M439 386h1.4M454 357h1.4M422 410h1.4M444 382h1.4M451 383h1.4M397 394h1.4M416 374h1.4M495 376h1.4M382 369h1.4M438 409h1.4M490 401h1.4M403 399h1.4M399 411h1.4M486 449h1.4M497 384h1.4M413 400h1.4M449 400h1.4M456 412h1.4M407 392h1.4M439 384h1.4M474 429h1.4M464 409h1.4M411 395h1.4M389 384h1.4M401 408h1.4M475 415h1.4M412 370h1.4M451 381h1.4M466 445h1.4M462 358h1.4M496 384h1.4M431 360h1.4M445 454h1.4M436 417h1.4M397 371h1.4M386 441h1.4M423 451h1.4M423 416h1.4M440 449h1.4M426 388h1.4M445 366h1.4M479 413h1.4M408 381h1.4M460 376h1.4M383 370h1.4M388 418h1.4M415 399h1.4M379 372h1.4M392 409h1.4M455 386h1.4M446 360h1.4M457 394h1.4M408 382h1.4M494 420h1.4M458 359h1.4M402 399h1.4M458 399h1.4M459 428h1.4M370 386h1.4M377 444h1.4M480 373h1.4M480 382h1.4M455 396h1.4M427 388h1.4M499 387h1.4M387 444h1.4M476 406h1.4M426 398h1.4M387 387h1.4M451 449h1.4M399 435h1.4M421 432h1.4M444 405h1.4M433 352h1.4M459 443h1.4M415 381h1.4M389 393h1.4M429 472h1.4M412 360h1.4M431 397h1.4M388 395h1.4M433 413h1.4M473 367h1.4M439 448h1.4M450 389h1.4M439 353h1.4M434 355h1.4M452 392h1.4M407 372h1.4M489 407h1.4M437 432h1.4M421 386h1.4M407 415h1.4M393 442h1.4M405 457h1.4M416 387h1.4M425 391h1.4M412 390h1.4M397 389h1.4M452 364h1.4M389 403h1.4M474 456h1.4M424 417h1.4M452 402h1.4M380 417h1.4M402 396h1.4M420 477h1.4M400 446h1.4M455 432h1.4M388 393h1.4M438 390h1.4M413 373h1.4M497 395h1.4M431 446h1.4M420 397h1.4M465 426h1.4M469 389h1.4M455 443h1.4M437 427h1.4M391 450h1.4M427 429h1.4M401 443h1.4M402 383h1.4M446 397h1.4M433 356h1.4M412 435h1.4M493 381h1.4M438 469h1.4M372 371h1.4M432 401h1.4M451 385h1.4M423 408h1.4M409 410h1.4M445 378h1.4M433 367h1.4M429 390h1.4M395 433h1.4M437 371h1.4M456 390h1.4M388 386h1.4M407 405h1.4M412 383h1.4M435 470h1.4M437 454h1.4M427 396h1.4M446 394h1.4M453 400h1.4M468 378h1.4M444 423h1.4M410 390h1.4M472 391h1.4M396 459h1.4M399 395h1.4M371 387h1.4M414 406h1.4M385 395h1.4M397 374h1.4M433 389h1.4M415 459h1.4M453 407h1.4M458 383h1.4M437 413h1.4M443 482h1.4M428 385h1.4M442 358h1.4M472 433h1.4M427 440h1.4M468 445h1.4M474 437h1.4M473 388h1.4M474 373h1.4M424 393h1.4M449 397h1.4M423 408h1.4M458 397h1.4M407 426h1.4M414 385h1.4M440 429h1.4M443 399h1.4M444 361h1.4M454 361h1.4M456 450h1.4M458 413h1.4M442 358h1.4M497 405h1.4M442 429h1.4M467 390h1.4M369 384h1.4M429 367h1.4M425 391h1.4M395 375h1.4M412 364h1.4M451 394h1.4M480 375h1.4M407 437h1.4M422 370h1.4M445 410h1.4M487 434h1.4M486 453h1.4M412 376h1.4M460 407h1.4M427 430h1.4M482 371h1.4M444 393h1.4M456 400h1.4M479 389h1.4M439 376h1.4M419 415h1.4M471 390h1.4M390 405h1.4M453 429h1.4M434 412h1.4M442 383h1.4M412 400h1.4M444 355h1.4M485 391h1.4M487 446h1.4M433 412h1.4M424 448h1.4M412 389h1.4M474 416h1.4M402 383h1.4M460 407h1.4M460 390h1.4M386 370h1.4M471 398h1.4M395 373h1.4M440 404h1.4M452 394h1.4M391 406h1.4M410 374h1.4M390 380h1.4M461 413h1.4M407 427h1.4M430 420h1.4M439 440h1.4M444 377h1.4M483 367h1.4M443 432h1.4M407 407h1.4M443 370h1.4M386 388h1.4M431 397h1.4M405 389h1.4M430 413h1.4M446 462h1.4M439 467h1.4M415 366h1.4M464 371h1.4M445 370h1.4M404 370h1.4M464 411h1.4M455 380h1.4M476 445h1.4M420 393h1.4M429 376h1.4M458 432h1.4M462 409h1.4M386 400h1.4M414 424h1.4M422 413h1.4M423 385h1.4M388 409h1.4M401 388h1.4M421 370h1.4M457 401h1.4M382 380h1.4M424 409h1.4M434 447h1.4M401 433h1.4M390 431h1.4M445 390h1.4M429 429h1.4M429 394h1.4M453 444h1.4M420 416h1.4M417 417h1.4M403 402h1.4M407 415h1.4M417 409h1.4M392 380h1.4M479 417h1.4M433 396h1.4M440 428h1.4M433 426h1.4M456 475h1.4M431 395h1.4M450 411h1.4M405 359h1.4M373 387h1.4M433 359h1.4M478 411h1.4M437 361h1.4M470 384h1.4M423 379h1.4M464 415h1.4M403 449h1.4M425 391h1.4" stroke="#94407E" stroke-width="1.4" fill="none" opacity="0.6"/><path d="M217.0 171.9L256.3 187.7L253.3 227.3L217.0 249.7L180.7 227.3L177.7 187.7ZM217.0 208.8L177.7 187.7M217.0 208.8L256.3 187.7M217.0 208.8L217.0 249.7M217.0 209.8L217.0 171.9M217.0 209.8L180.7 227.3M217.0 209.8L253.3 227.3" fill="none" stroke="#8a8a8a" stroke-width="0.65"/><path transform="scale(0.5)" d="M593 431h1.4M637 439h1.4M549 434h1.4M605 422h1.4M586 436h1.4M627 400h1.4M639 432h1.4M605 479h1.4M570 456h1.4M585 456h1.4M599 383h1.4M632 426h1.4M548 464h1.4M667 389h1.4M531 401h1.4M611 431h1.4M587 402h1.4M616 429h1.4M618 373h1.4M652 400h1.4M601 407h1.4M575 387h1.4M570 431h1.4M561 468h1.4M590 393h1.4M619 410h1.4M573 402h1.4M604 458h1.4M614 430h1.4M598 380h1.4M587 440h1.4M529 380h1.4M568 438h1.4M632 414h1.4M589 432h1.4M613 390h1.4M582 404h1.4M588 376h1.4M582 395h1.4M643 385h1.4M628 401h1.4M540 428h1.4M630 396h1.4M605 455h1.4M597 420h1.4M579 358h1.4M576 442h1.4M613 389h1.4M588 432h1.4M603 434h1.4M558 450h1.4M660 433h1.4M597 480h1.4M571 406h1.4M592 361h1.4M601 411h1.4M628 409h1.4M597 454h1.4M620 424h1.4M645 383h1.4M623 449h1.4M570 428h1.4M570 407h1.4M561 384h1.4M611 491h1.4M602 395h1.4M614 406h1.4M607 393h1.4M594 447h1.4M572 400h1.4M609 413h1.4M547 454h1.4M621 399h1.4M587 434h1.4M618 391h1.4M594 434h1.4M570 396h1.4M601 383h1.4M631 428h1.4M575 434h1.4M577 437h1.4M583 355h1.4M635 396h1.4M607 398h1.4M590 424h1.4M633 451h1.4M633 457h1.4M620 400h1.4M654 425h1.4M592 430h1.4M596 416h1.4M616 468h1.4M539 445h1.4M558 434h1.4M613 418h1.4M593 433h1.4M634 450h1.4M599 398h1.4M608 465h1.4M561 396h1.4M578 444h1.4M609 413h1.4M578 422h1.4M567 444h1.4M598 393h1.4M568 404h1.4M586 446h1.4M611 402h1.4M558 418h1.4M644 437h1.4M627 397h1.4M597 427h1.4M620 371h1.4M580 453h1.4M542 413h1.4M658 414h1.4M611 443h1.4M593 385h1.4M629 412h1.4M557 462h1.4M623 399h1.4M585 413h1.4M564 459h1.4M584 430h1.4M640 411h1.4M574 443h1.4M563 404h1.4M640 417h1.4M616 422h1.4M570 397h1.4M545 388h1.4M570 430h1.4M578 435h1.4M586 404h1.4M596 372h1.4M624 423h1.4M612 398h1.4M623 369h1.4M569 431h1.4M577 482h1.4M605 447h1.4M582 449h1.4M610 415h1.4M625 413h1.4M596 395h1.4M556 449h1.4M567 416h1.4M633 463h1.4M576 407h1.4M568 381h1.4M635 445h1.4M633 386h1.4M592 458h1.4M609 395h1.4M546 466h1.4M550 419h1.4M634 433h1.4M585 451h1.4M599 388h1.4M605 406h1.4M558 394h1.4M574 464h1.4M601 444h1.4M647 437h1.4M619 429h1.4M628 407h1.4M620 406h1.4M559 412h1.4M632 415h1.4M610 420h1.4M550 463h1.4M589 470h1.4M536 375h1.4M607 402h1.4M631 389h1.4M628 402h1.4M557 457h1.4M584 387h1.4M589 421h1.4M607 422h1.4M561 409h1.4M586 430h1.4M622 413h1.4M599 449h1.4M593 428h1.4M575 391h1.4M597 402h1.4M621 405h1.4M588 430h1.4M567 433h1.4M603 438h1.4M622 468h1.4M594 388h1.4M597 379h1.4M553 431h1.4M591 452h1.4M605 408h1.4M627 431h1.4M566 453h1.4M567 417h1.4M622 421h1.4M574 456h1.4M570 413h1.4M543 456h1.4M559 460h1.4M604 419h1.4M611 450h1.4M616 441h1.4M615 398h1.4M596 483h1.4M593 399h1.4M573 358h1.4M596 425h1.4M585 441h1.4M600 431h1.4M551 378h1.4M623 398h1.4M597 395h1.4M589 431h1.4M574 372h1.4M572 424h1.4M618 389h1.4M617 428h1.4M556 420h1.4M626 441h1.4M600 414h1.4M630 414h1.4M627 393h1.4M612 395h1.4M647 387h1.4M615 417h1.4M587 439h1.4M586 388h1.4M557 417h1.4M600 362h1.4M575 441h1.4M604 427h1.4M574 448h1.4M559 403h1.4M618 438h1.4M617 427h1.4M620 459h1.4M616 459h1.4M641 447h1.4M616 412h1.4M551 433h1.4M556 415h1.4M560 434h1.4M551 424h1.4M626 442h1.4M641 425h1.4M584 381h1.4M628 386h1.4M557 418h1.4M602 368h1.4M591 438h1.4M582 453h1.4M616 413h1.4M587 419h1.4M598 422h1.4M605 376h1.4M532 403h1.4M611 362h1.4M563 415h1.4M594 366h1.4M589 444h1.4M607 374h1.4M638 442h1.4M581 448h1.4M617 477h1.4M537 452h1.4M638 453h1.4M594 440h1.4M605 464h1.4M572 481h1.4M612 450h1.4M573 447h1.4M592 365h1.4M544 423h1.4M657 415h1.4M638 402h1.4M544 426h1.4M631 398h1.4M571 356h1.4M615 479h1.4M596 430h1.4M596 409h1.4M653 372h1.4M581 412h1.4M582 448h1.4M661 446h1.4M626 434h1.4M587 436h1.4M580 454h1.4M540 440h1.4M652 381h1.4M615 456h1.4M615 422h1.4M627 431h1.4M549 450h1.4M547 427h1.4M577 402h1.4M587 415h1.4M617 441h1.4M567 402h1.4M577 393h1.4M599 453h1.4M594 439h1.4M594 415h1.4M590 429h1.4M609 375h1.4M581 384h1.4M578 441h1.4M629 412h1.4M592 475h1.4M603 429h1.4M568 379h1.4M613 469h1.4M585 415h1.4M576 382h1.4M565 444h1.4M612 403h1.4M605 404h1.4M631 417h1.4M602 469h1.4M611 428h1.4M632 457h1.4M628 428h1.4M555 421h1.4M570 451h1.4M591 458h1.4M658 437h1.4M561 432h1.4M613 381h1.4M590 384h1.4M625 385h1.4M618 404h1.4M560 433h1.4M556 451h1.4M604 434h1.4M566 422h1.4M584 446h1.4M575 373h1.4M598 414h1.4M598 466h1.4M583 409h1.4M572 390h1.4M547 420h1.4M630 390h1.4M630 371h1.4M582 430h1.4M625 380h1.4M596 427h1.4M565 397h1.4M633 436h1.4M575 434h1.4M602 429h1.4M615 368h1.4M604 391h1.4M592 401h1.4M614 443h1.4M543 453h1.4M571 421h1.4M602 413h1.4M557 416h1.4M608 463h1.4M585 415h1.4M580 453h1.4M631 399h1.4M574 451h1.4M643 424h1.4M584 438h1.4M573 445h1.4M608 419h1.4M593 396h1.4M607 395h1.4M598 390h1.4M565 432h1.4M599 463h1.4M583 470h1.4M612 444h1.4M629 468h1.4M650 453h1.4M555 426h1.4M548 392h1.4M638 442h1.4M659 391h1.4M587 416h1.4M582 436h1.4M561 386h1.4M642 438h1.4M617 372h1.4M597 484h1.4M543 427h1.4M651 403h1.4M585 415h1.4M592 444h1.4M560 404h1.4M597 452h1.4M543 416h1.4M628 425h1.4M543 421h1.4M586 454h1.4M604 468h1.4M606 430h1.4M598 377h1.4M558 464h1.4M600 436h1.4M579 372h1.4M600 449h1.4M617 392h1.4M619 377h1.4M623 430h1.4M645 449h1.4M608 487h1.4M598 463h1.4M644 402h1.4M585 393h1.4M586 421h1.4M615 404h1.4M619 405h1.4M562 396h1.4M643 412h1.4M644 444h1.4M633 445h1.4M569 445h1.4M558 406h1.4M568 467h1.4M595 424h1.4M630 443h1.4M569 467h1.4M592 438h1.4M590 446h1.4M623 377h1.4M611 428h1.4M638 395h1.4M570 395h1.4M600 431h1.4M566 371h1.4M594 445h1.4M617 399h1.4M581 407h1.4M579 388h1.4M566 409h1.4M577 409h1.4M606 378h1.4M579 369h1.4M607 451h1.4M594 448h1.4M638 396h1.4M608 456h1.4M595 453h1.4M586 479h1.4M597 422h1.4M634 403h1.4M587 428h1.4M595 443h1.4M629 438h1.4M551 452h1.4M535 399h1.4M587 411h1.4M595 439h1.4M608 388h1.4M596 405h1.4M537 384h1.4M594 396h1.4M632 423h1.4M611 467h1.4M564 416h1.4M568 399h1.4M641 466h1.4M546 419h1.4M610 425h1.4M581 371h1.4M534 431h1.4M658 431h1.4M618 404h1.4M583 421h1.4M604 419h1.4M601 456h1.4M587 398h1.4M589 411h1.4M601 377h1.4M603 443h1.4M596 438h1.4M555 428h1.4M642 423h1.4M577 434h1.4M581 452h1.4M587 394h1.4M618 412h1.4M568 424h1.4M617 397h1.4M606 484h1.4M622 385h1.4M602 377h1.4M562 477h1.4M598 451h1.4M613 439h1.4M582 414h1.4M602 352h1.4M583 430h1.4M604 418h1.4M576 403h1.4M540 441h1.4M565 378h1.4M554 389h1.4M572 403h1.4M599 460h1.4M574 368h1.4M600 433h1.4M573 434h1.4M582 430h1.4M602 434h1.4M630 469h1.4M582 365h1.4M584 388h1.4M622 415h1.4M623 423h1.4M544 444h1.4M619 379h1.4M607 483h1.4M560 439h1.4M612 431h1.4M637 454h1.4M591 417h1.4M563 455h1.4M554 426h1.4M608 402h1.4M634 420h1.4M609 472h1.4M591 415h1.4M560 426h1.4M602 384h1.4M603 421h1.4M578 373h1.4M653 389h1.4M566 390h1.4M622 389h1.4M613 425h1.4M565 420h1.4M573 383h1.4M629 424h1.4M538 399h1.4M562 434h1.4M574 418h1.4M576 392h1.4M649 436h1.4M534 404h1.4M544 401h1.4M582 425h1.4M609 433h1.4M593 359h1.4M630 426h1.4M662 398h1.4M572 443h1.4M575 408h1.4M611 462h1.4M645 419h1.4M635 446h1.4M605 406h1.4M567 439h1.4M616 371h1.4M534 412h1.4M589 423h1.4M633 395h1.4M623 364h1.4M612 407h1.4M609 467h1.4M591 407h1.4M555 462h1.4M605 415h1.4M617 443h1.4M589 453h1.4M605 452h1.4M582 440h1.4M569 420h1.4M554 444h1.4M606 448h1.4M633 366h1.4M559 411h1.4M598 457h1.4M626 376h1.4M580 421h1.4M585 415h1.4M575 414h1.4M620 390h1.4M623 368h1.4M615 413h1.4M585 452h1.4M567 419h1.4M539 420h1.4M617 409h1.4M618 389h1.4M641 422h1.4M575 405h1.4M612 466h1.4M591 453h1.4M608 443h1.4M634 380h1.4M553 400h1.4M595 361h1.4M617 384h1.4M595 423h1.4M612 443h1.4M559 431h1.4M635 406h1.4M580 423h1.4M547 402h1.4M587 393h1.4M619 416h1.4M607 413h1.4M610 442h1.4M661 437h1.4M635 419h1.4M638 377h1.4M621 437h1.4M550 402h1.4M572 405h1.4M591 383h1.4M635 451h1.4M586 412h1.4M644 437h1.4M633 427h1.4M611 401h1.4M609 428h1.4M615 451h1.4M604 452h1.4M565 467h1.4M611 387h1.4M624 432h1.4M577 373h1.4M572 463h1.4M628 401h1.4M571 404h1.4M613 484h1.4M609 445h1.4M589 454h1.4M660 382h1.4M559 389h1.4M585 359h1.4M553 429h1.4M534 385h1.4M592 455h1.4M609 415h1.4M614 457h1.4M565 438h1.4M549 447h1.4M592 450h1.4M583 402h1.4M597 384h1.4M643 414h1.4M615 440h1.4M598 425h1.4M586 417h1.4M591 481h1.4M583 396h1.4M616 418h1.4M631 404h1.4M589 394h1.4M577 432h1.4M605 452h1.4M622 422h1.4M556 379h1.4M592 443h1.4M628 457h1.4M610 401h1.4M589 483h1.4M606 387h1.4M639 416h1.4M612 453h1.4M602 433h1.4M593 448h1.4M569 442h1.4M566 451h1.4M577 405h1.4M653 427h1.4M542 375h1.4M599 436h1.4M635 475h1.4M634 388h1.4M642 406h1.4M587 407h1.4M616 457h1.4M569 401h1.4M652 430h1.4M526 414h1.4M605 436h1.4M561 423h1.4M593 416h1.4M564 464h1.4M560 453h1.4M605 413h1.4M563 412h1.4M601 413h1.4M578 386h1.4M612 440h1.4M597 388h1.4M585 391h1.4M616 435h1.4M594 442h1.4M563 431h1.4M563 459h1.4M601 443h1.4M593 408h1.4M612 395h1.4M607 388h1.4M617 432h1.4M642 427h1.4M615 402h1.4M629 446h1.4M582 352h1.4M593 426h1.4M568 423h1.4M543 439h1.4M629 403h1.4M579 449h1.4M628 401h1.4M596 372h1.4M614 429h1.4M591 420h1.4M595 475h1.4M554 417h1.4M606 468h1.4M624 404h1.4M579 401h1.4M596 379h1.4M544 415h1.4M549 397h1.4M560 376h1.4M624 425h1.4M586 436h1.4M548 436h1.4M565 426h1.4M584 408h1.4M549 469h1.4M589 484h1.4M535 380h1.4M533 385h1.4M642 431h1.4M629 435h1.4M609 479h1.4M619 436h1.4M601 407h1.4M577 485h1.4M581 422h1.4M583 402h1.4M645 453h1.4M636 444h1.4M618 420h1.4M592 369h1.4M588 430h1.4M575 435h1.4M618 442h1.4M590 387h1.4M643 395h1.4M573 396h1.4M644 384h1.4M577 451h1.4M592 394h1.4M567 456h1.4M593 411h1.4M560 432h1.4M600 422h1.4M595 408h1.4M596 367h1.4M568 460h1.4M604 406h1.4M578 450h1.4M602 385h1.4M648 434h1.4M555 442h1.4M558 443h1.4M606 435h1.4M570 422h1.4M590 422h1.4M629 399h1.4M576 374h1.4M554 446h1.4M564 377h1.4M566 433h1.4M624 431h1.4M560 449h1.4M595 450h1.4M645 435h1.4M619 394h1.4M650 420h1.4M619 446h1.4M620 413h1.4M630 432h1.4M573 410h1.4M602 454h1.4M585 455h1.4M623 398h1.4M607 358h1.4M595 457h1.4M648 391h1.4M586 437h1.4M604 471h1.4M595 373h1.4M586 416h1.4M597 480h1.4M604 445h1.4M599 410h1.4M576 391h1.4M608 401h1.4M585 400h1.4M600 455h1.4M615 424h1.4M593 460h1.4M618 434h1.4M643 393h1.4M620 387h1.4M578 451h1.4M641 394h1.4M646 438h1.4M612 427h1.4M606 365h1.4M575 404h1.4M619 416h1.4M605 399h1.4M624 439h1.4M640 443h1.4M541 423h1.4M589 460h1.4M615 399h1.4M577 395h1.4M612 473h1.4M611 428h1.4M582 481h1.4M550 450h1.4M575 362h1.4M567 441h1.4M568 469h1.4M634 469h1.4M555 389h1.4M574 410h1.4M643 388h1.4M617 390h1.4M592 426h1.4M555 442h1.4M593 474h1.4M587 423h1.4M632 409h1.4M645 419h1.4M635 414h1.4M606 469h1.4M600 387h1.4M575 453h1.4M572 478h1.4M564 421h1.4M588 429h1.4M592 397h1.4M566 380h1.4M597 448h1.4M577 430h1.4M594 407h1.4M618 370h1.4M612 475h1.4M551 399h1.4M558 426h1.4M594 436h1.4M607 435h1.4M577 447h1.4M594 414h1.4M576 470h1.4M649 419h1.4M599 454h1.4M559 379h1.4M587 418h1.4M610 454h1.4M594 429h1.4M582 427h1.4M549 392h1.4M630 405h1.4M618 439h1.4M541 395h1.4M640 439h1.4M568 429h1.4M559 421h1.4M626 392h1.4M605 423h1.4M597 455h1.4M585 482h1.4M597 494h1.4M573 422h1.4M612 412h1.4M622 425h1.4M606 457h1.4M544 435h1.4M656 437h1.4M539 398h1.4M579 359h1.4M583 383h1.4M595 455h1.4M574 380h1.4M601 428h1.4M562 420h1.4M598 449h1.4M605 460h1.4M606 409h1.4M583 408h1.4M599 376h1.4M553 416h1.4M647 387h1.4M610 449h1.4M575 441h1.4M553 435h1.4M619 413h1.4M572 421h1.4M597 398h1.4M619 452h1.4M599 405h1.4M607 404h1.4M586 399h1.4M597 467h1.4M596 451h1.4M562 437h1.4M593 390h1.4M576 450h1.4M618 420h1.4M611 438h1.4M573 409h1.4M624 378h1.4M554 459h1.4M625 424h1.4M556 412h1.4M618 403h1.4M639 412h1.4M638 446h1.4M599 416h1.4M604 443h1.4M613 423h1.4M590 459h1.4M614 435h1.4M595 384h1.4M627 365h1.4M634 378h1.4M581 449h1.4M594 381h1.4M601 401h1.4M561 452h1.4M615 396h1.4M636 469h1.4M564 433h1.4M566 412h1.4M595 380h1.4M527 388h1.4M582 461h1.4M619 401h1.4M639 384h1.4M569 424h1.4M548 399h1.4M570 397h1.4M578 417h1.4M581 411h1.4M554 440h1.4M563 467h1.4M591 424h1.4M617 444h1.4M630 429h1.4M578 460h1.4M590 456h1.4M583 369h1.4M654 377h1.4M588 438h1.4M650 423h1.4M583 486h1.4M606 409h1.4M596 367h1.4M594 452h1.4M605 421h1.4M637 443h1.4M630 396h1.4M621 430h1.4M579 470h1.4M587 373h1.4M584 471h1.4M592 381h1.4M594 382h1.4M567 406h1.4M566 449h1.4M603 420h1.4M549 406h1.4M625 430h1.4M584 387h1.4M567 397h1.4M583 463h1.4M645 414h1.4M620 450h1.4M602 449h1.4M571 454h1.4M582 415h1.4M581 405h1.4M601 481h1.4M588 427h1.4M632 422h1.4M605 415h1.4M561 372h1.4M589 427h1.4M584 410h1.4M608 384h1.4M590 427h1.4M584 458h1.4M580 418h1.4M532 454h1.4M577 434h1.4M545 394h1.4M612 370h1.4M600 425h1.4M589 426h1.4M555 467h1.4M615 397h1.4M589 394h1.4M572 449h1.4M552 440h1.4M630 420h1.4M578 429h1.4M613 359h1.4M576 436h1.4M564 393h1.4M562 427h1.4M560 471h1.4M593 430h1.4M588 412h1.4M593 404h1.4M591 384h1.4M603 393h1.4M605 393h1.4M619 366h1.4M633 470h1.4M552 437h1.4M600 404h1.4M594 407h1.4M587 425h1.4M593 407h1.4M585 420h1.4M611 441h1.4M587 420h1.4M527 391h1.4M645 394h1.4M598 463h1.4M618 391h1.4M593 385h1.4M598 424h1.4M614 463h1.4M599 412h1.4M546 384h1.4M591 357h1.4M647 421h1.4M605 428h1.4M610 402h1.4M578 443h1.4M585 486h1.4M564 448h1.4M565 443h1.4M600 370h1.4M547 410h1.4M572 440h1.4M623 407h1.4M605 436h1.4M598 399h1.4M616 414h1.4M651 381h1.4M593 400h1.4M587 431h1.4M565 376h1.4M647 401h1.4M578 401h1.4M634 412h1.4M579 369h1.4M657 376h1.4M562 478h1.4M590 449h1.4M598 440h1.4M636 399h1.4M599 380h1.4M600 463h1.4M620 366h1.4M613 470h1.4M605 423h1.4M606 408h1.4M589 440h1.4M636 411h1.4M605 416h1.4M586 443h1.4M593 370h1.4M635 464h1.4M575 445h1.4M586 442h1.4M603 422h1.4M595 391h1.4M633 430h1.4M572 475h1.4M601 448h1.4M628 378h1.4M556 428h1.4M625 419h1.4M580 378h1.4M597 433h1.4M630 415h1.4M611 410h1.4M599 433h1.4M638 440h1.4M583 400h1.4M575 373h1.4M614 388h1.4M539 422h1.4M617 445h1.4M601 443h1.4M595 420h1.4M602 359h1.4M596 365h1.4M607 387h1.4M603 391h1.4M604 405h1.4M600 405h1.4M546 439h1.4M606 414h1.4M572 394h1.4M558 399h1.4M579 432h1.4M582 428h1.4M554 452h1.4M586 428h1.4M554 440h1.4M627 470h1.4M635 418h1.4M589 466h1.4M607 457h1.4M583 396h1.4M578 411h1.4M578 414h1.4M593 356h1.4M549 461h1.4M553 411h1.4M572 447h1.4M593 356h1.4M571 391h1.4M570 446h1.4M545 405h1.4M612 404h1.4M600 375h1.4M592 414h1.4M598 379h1.4M628 426h1.4M583 428h1.4M585 413h1.4M591 448h1.4M586 445h1.4M538 448h1.4M616 423h1.4M633 418h1.4M545 459h1.4M572 427h1.4M647 430h1.4M658 400h1.4M591 411h1.4M573 418h1.4M641 455h1.4M591 435h1.4M641 381h1.4M592 374h1.4M581 414h1.4M627 446h1.4M562 450h1.4M585 461h1.4M562 396h1.4M626 392h1.4M583 361h1.4M609 389h1.4M567 428h1.4M603 480h1.4M583 441h1.4M605 444h1.4M578 443h1.4M626 423h1.4M600 389h1.4M566 422h1.4M594 405h1.4M598 472h1.4M580 458h1.4M574 384h1.4M567 399h1.4M624 363h1.4M570 390h1.4M598 434h1.4M636 438h1.4M619 428h1.4M637 447h1.4M564 369h1.4M601 372h1.4M619 446h1.4M603 488h1.4M550 444h1.4M610 419h1.4M637 435h1.4M589 430h1.4M592 393h1.4M578 419h1.4M579 419h1.4M583 423h1.4M639 402h1.4M566 449h1.4M584 447h1.4M567 441h1.4M555 392h1.4M595 463h1.4M612 414h1.4M555 455h1.4M576 424h1.4M610 428h1.4M595 433h1.4M614 420h1.4M618 413h1.4M560 399h1.4M599 388h1.4M620 463h1.4M572 406h1.4M578 398h1.4M597 409h1.4M586 466h1.4M637 390h1.4M539 452h1.4M590 414h1.4M650 408h1.4M600 394h1.4M609 372h1.4M610 420h1.4M584 457h1.4M546 405h1.4M632 395h1.4M535 386h1.4M599 363h1.4M570 412h1.4M563 455h1.4M596 411h1.4M598 441h1.4M572 415h1.4M617 426h1.4M562 410h1.4M596 438h1.4M575 407h1.4M588 383h1.4M601 418h1.4M586 441h1.4M594 425h1.4M616 440h1.4M570 461h1.4M649 390h1.4M577 441h1.4M567 457h1.4M620 387h1.4M608 455h1.4M611 423h1.4M570 382h1.4M598 392h1.4M565 410h1.4M597 380h1.4M595 449h1.4M631 398h1.4M617 451h1.4M651 386h1.4M591 449h1.4M564 398h1.4M584 481h1.4M649 429h1.4M640 440h1.4M598 425h1.4M582 441h1.4M603 416h1.4M587 438h1.4M620 395h1.4M606 438h1.4M586 449h1.4M592 385h1.4M656 450h1.4M631 449h1.4M557 448h1.4M577 385h1.4M629 406h1.4M566 426h1.4M581 436h1.4M577 410h1.4M581 449h1.4M588 444h1.4M617 379h1.4M580 470h1.4M622 476h1.4M590 458h1.4M599 434h1.4M596 446h1.4M600 446h1.4M548 446h1.4M633 456h1.4M633 450h1.4M597 455h1.4M563 451h1.4M554 413h1.4M638 459h1.4" stroke="#5868A8" stroke-width="1.4" fill="none" opacity="0.5"/><path d="M297.5 171.9L335.2 189.0L331.0 231.2L297.5 251.0L264.0 231.2L259.8 189.0ZM297.5 210.1L259.8 189.0M297.5 210.1L335.2 189.0M297.5 210.1L297.5 251.0M297.5 211.1L297.5 171.9M297.5 211.1L264.0 231.2M297.5 211.1L331.0 231.2" fill="none" stroke="#8a8a8a" stroke-width="0.65"/><path transform="scale(0.5)" d="M448 641h1.4M493 595h1.4M446 599h1.4M438 620h1.4M453 561h1.4M450 614h1.4M440 629h1.4M466 632h1.4M460 652h1.4M448 607h1.4M405 634h1.4M484 590h1.4M439 624h1.4M403 638h1.4M445 589h1.4M423 658h1.4M438 590h1.4M447 637h1.4M415 606h1.4M488 664h1.4M490 662h1.4M466 605h1.4M381 606h1.4M435 591h1.4M422 611h1.4M457 597h1.4M428 590h1.4M433 600h1.4M420 617h1.4M440 602h1.4M469 677h1.4M420 588h1.4M424 642h1.4M405 570h1.4M436 590h1.4M430 586h1.4M451 566h1.4M458 635h1.4M404 637h1.4M398 605h1.4M475 577h1.4M456 617h1.4M449 576h1.4M436 584h1.4M458 639h1.4M431 613h1.4M395 646h1.4M403 632h1.4M482 593h1.4M455 653h1.4M409 591h1.4M486 643h1.4M486 594h1.4M417 630h1.4M393 586h1.4M418 611h1.4M392 626h1.4M406 630h1.4M429 640h1.4M443 610h1.4M391 663h1.4M432 678h1.4M498 603h1.4M454 593h1.4M451 602h1.4M370 619h1.4M402 638h1.4M434 615h1.4M380 586h1.4M450 616h1.4M385 663h1.4M414 645h1.4M458 580h1.4M459 636h1.4M474 630h1.4M382 613h1.4M393 574h1.4M456 644h1.4M435 611h1.4M494 639h1.4M467 631h1.4M437 634h1.4M463 649h1.4M403 658h1.4M433 626h1.4M438 641h1.4M446 588h1.4M411 632h1.4M407 634h1.4M446 596h1.4M447 654h1.4M399 626h1.4M432 625h1.4M458 635h1.4M431 574h1.4M442 589h1.4M455 656h1.4M437 618h1.4M382 624h1.4M410 611h1.4M422 624h1.4M437 573h1.4M463 642h1.4M435 645h1.4M412 571h1.4M395 612h1.4M446 624h1.4M448 601h1.4M469 579h1.4M437 643h1.4M437 618h1.4M408 610h1.4M442 665h1.4M427 620h1.4M477 633h1.4M464 671h1.4M428 614h1.4M396 598h1.4M443 594h1.4M428 604h1.4M447 615h1.4M434 598h1.4M459 647h1.4M507 586h1.4M398 634h1.4M452 656h1.4M433 639h1.4M470 621h1.4M422 611h1.4M431 623h1.4M460 632h1.4M462 585h1.4M383 667h1.4M428 580h1.4M412 577h1.4M431 636h1.4M446 576h1.4M492 638h1.4M399 608h1.4M388 653h1.4M466 581h1.4M431 631h1.4M461 570h1.4M415 574h1.4M447 619h1.4M436 576h1.4M409 641h1.4M470 580h1.4M426 594h1.4M452 585h1.4M412 589h1.4M444 610h1.4M415 634h1.4M404 591h1.4M423 611h1.4M404 605h1.4M431 598h1.4M433 679h1.4M484 612h1.4M452 613h1.4M460 670h1.4M465 597h1.4M424 650h1.4M388 598h1.4M438 556h1.4M484 627h1.4M440 605h1.4M467 602h1.4M378 595h1.4M480 624h1.4M462 624h1.4M439 610h1.4M429 611h1.4M377 617h1.4M443 668h1.4M424 634h1.4M450 633h1.4M459 576h1.4M437 661h1.4M403 606h1.4M462 599h1.4M394 613h1.4M432 685h1.4M435 582h1.4M423 623h1.4M418 576h1.4M480 610h1.4M398 627h1.4M395 628h1.4M472 628h1.4M416 620h1.4M381 612h1.4M435 573h1.4M429 615h1.4M370 639h1.4M366 642h1.4M442 567h1.4M467 618h1.4M409 648h1.4M413 667h1.4M499 588h1.4M430 644h1.4M466 582h1.4M384 643h1.4M389 652h1.4M449 593h1.4M451 626h1.4M408 645h1.4M402 608h1.4M412 585h1.4M459 616h1.4M437 655h1.4M455 619h1.4M409 650h1.4M433 588h1.4M490 597h1.4M404 633h1.4M436 637h1.4M420 574h1.4M421 614h1.4M448 568h1.4M479 606h1.4M424 683h1.4M467 645h1.4M391 644h1.4M451 673h1.4M441 630h1.4M406 593h1.4M411 612h1.4M438 613h1.4M491 631h1.4M391 609h1.4M463 669h1.4M455 613h1.4M403 591h1.4M416 603h1.4M445 637h1.4M442 665h1.4M434 668h1.4M458 607h1.4M451 617h1.4M424 592h1.4M471 660h1.4M382 599h1.4M431 570h1.4M436 628h1.4M488 588h1.4M465 629h1.4M410 634h1.4M471 611h1.4M405 657h1.4M418 649h1.4M460 622h1.4M483 595h1.4M444 576h1.4M469 607h1.4M393 633h1.4M448 620h1.4M442 631h1.4M453 668h1.4M409 616h1.4M417 676h1.4M451 673h1.4M473 608h1.4M408 640h1.4M477 606h1.4M394 608h1.4M432 637h1.4M432 627h1.4M466 612h1.4M445 613h1.4M484 598h1.4M391 606h1.4M397 598h1.4M438 658h1.4M419 561h1.4M474 669h1.4M466 599h1.4M444 657h1.4M447 615h1.4M451 607h1.4M446 662h1.4M433 665h1.4M431 657h1.4M451 614h1.4M431 664h1.4M439 608h1.4M405 604h1.4M435 599h1.4M494 587h1.4M416 669h1.4M462 589h1.4M442 589h1.4M489 613h1.4M462 636h1.4M430 664h1.4M421 590h1.4M465 652h1.4M456 587h1.4M433 629h1.4M458 592h1.4M414 588h1.4M392 653h1.4M417 616h1.4M441 670h1.4M410 631h1.4M413 586h1.4M430 645h1.4M440 566h1.4M432 623h1.4M492 585h1.4M414 619h1.4M401 597h1.4M484 648h1.4M395 585h1.4M423 616h1.4M429 587h1.4M491 623h1.4M426 590h1.4M456 672h1.4M390 586h1.4M413 658h1.4M464 640h1.4M418 647h1.4M411 638h1.4M443 604h1.4M416 573h1.4M474 623h1.4M446 641h1.4M412 656h1.4M432 585h1.4M437 602h1.4M436 621h1.4M443 618h1.4M438 655h1.4M423 638h1.4M420 623h1.4M456 650h1.4M391 593h1.4M456 611h1.4M415 612h1.4M424 599h1.4M371 621h1.4M380 629h1.4M403 611h1.4M389 592h1.4M443 600h1.4M423 605h1.4M493 639h1.4M458 618h1.4M444 671h1.4M467 603h1.4M410 592h1.4M436 632h1.4M413 665h1.4M462 579h1.4M410 622h1.4M452 576h1.4M413 636h1.4M422 621h1.4M446 675h1.4M440 608h1.4M453 584h1.4M473 638h1.4M409 629h1.4M489 624h1.4M451 599h1.4M466 642h1.4M447 617h1.4M479 593h1.4M425 574h1.4M494 588h1.4M432 617h1.4M467 681h1.4M490 601h1.4M404 644h1.4M438 603h1.4M441 651h1.4M378 599h1.4M439 663h1.4M484 649h1.4M476 587h1.4M447 563h1.4M392 673h1.4M381 609h1.4M494 593h1.4M496 618h1.4M427 609h1.4M453 600h1.4M412 611h1.4M471 616h1.4M432 588h1.4M447 659h1.4M444 657h1.4M460 618h1.4M429 578h1.4M404 643h1.4M461 619h1.4M446 641h1.4M409 646h1.4M414 614h1.4M436 619h1.4M419 632h1.4M427 639h1.4M423 562h1.4M389 640h1.4M414 623h1.4M447 566h1.4M427 629h1.4M450 593h1.4M409 617h1.4M489 607h1.4M390 642h1.4M442 580h1.4M386 656h1.4M429 610h1.4M410 651h1.4M374 609h1.4M432 593h1.4M403 625h1.4M443 593h1.4M428 607h1.4M417 656h1.4M455 607h1.4M434 610h1.4M432 667h1.4M418 674h1.4M436 612h1.4M456 606h1.4M424 690h1.4M463 602h1.4M474 670h1.4M443 596h1.4M442 657h1.4M450 565h1.4M456 668h1.4M440 592h1.4M456 613h1.4M468 591h1.4M465 611h1.4M438 667h1.4M453 585h1.4M377 616h1.4M397 636h1.4M455 597h1.4M415 627h1.4M427 611h1.4M434 632h1.4M373 622h1.4M450 630h1.4M452 573h1.4M410 676h1.4M445 626h1.4M432 617h1.4M406 603h1.4M404 610h1.4M415 648h1.4M436 623h1.4M456 579h1.4M446 639h1.4M430 635h1.4M420 657h1.4M434 644h1.4M385 586h1.4M430 593h1.4M438 583h1.4M426 572h1.4M432 595h1.4M453 646h1.4M448 640h1.4M422 630h1.4M432 605h1.4M384 591h1.4M414 579h1.4M395 596h1.4M373 634h1.4M491 590h1.4M483 595h1.4M436 623h1.4M403 609h1.4M408 634h1.4M389 600h1.4M460 662h1.4M472 634h1.4M401 641h1.4M463 618h1.4M439 601h1.4M440 647h1.4M405 655h1.4M464 625h1.4M464 629h1.4M388 649h1.4M398 636h1.4M413 606h1.4M433 666h1.4M446 583h1.4M436 635h1.4M460 640h1.4M480 606h1.4M481 580h1.4M423 654h1.4M504 586h1.4M435 664h1.4M377 617h1.4M432 632h1.4M470 586h1.4M425 650h1.4M426 665h1.4M427 655h1.4M443 629h1.4M414 593h1.4M458 617h1.4M463 577h1.4M452 587h1.4M442 695h1.4M433 572h1.4M455 565h1.4M430 597h1.4M427 622h1.4M460 596h1.4M430 597h1.4M470 645h1.4M425 606h1.4M407 583h1.4M414 671h1.4M411 648h1.4M464 592h1.4M403 635h1.4M482 627h1.4M424 570h1.4M441 604h1.4M481 604h1.4M391 609h1.4M464 638h1.4M449 672h1.4M443 562h1.4M417 644h1.4M404 598h1.4M413 616h1.4M454 568h1.4M477 630h1.4M428 642h1.4M425 594h1.4M402 662h1.4M440 651h1.4M408 602h1.4M426 583h1.4M439 669h1.4M394 632h1.4M396 608h1.4M469 611h1.4M421 644h1.4M461 611h1.4M447 565h1.4M473 654h1.4M448 588h1.4M469 664h1.4M457 649h1.4M461 689h1.4M435 666h1.4M445 653h1.4M383 594h1.4M415 574h1.4M426 603h1.4M380 612h1.4M449 643h1.4M425 673h1.4M417 591h1.4M418 618h1.4M461 643h1.4M468 662h1.4M360 591h1.4M367 583h1.4M457 605h1.4M378 628h1.4M404 594h1.4M385 592h1.4M464 635h1.4M430 646h1.4M435 579h1.4M420 560h1.4M383 634h1.4M445 633h1.4M507 600h1.4M432 634h1.4M409 624h1.4M418 657h1.4M425 601h1.4M463 615h1.4M412 597h1.4M401 617h1.4M450 641h1.4M379 630h1.4M428 637h1.4M424 596h1.4M466 663h1.4M446 614h1.4M440 586h1.4M409 670h1.4M388 617h1.4M436 654h1.4M479 590h1.4M455 611h1.4M444 597h1.4M468 593h1.4M491 587h1.4M455 634h1.4M416 629h1.4M451 620h1.4M470 645h1.4M448 586h1.4M440 617h1.4M421 652h1.4M470 638h1.4M439 599h1.4M450 650h1.4M425 671h1.4M385 631h1.4M369 625h1.4M385 665h1.4M409 626h1.4M416 634h1.4M450 613h1.4M423 638h1.4M439 617h1.4M441 622h1.4M446 595h1.4M417 621h1.4M434 612h1.4M383 664h1.4M398 584h1.4M494 660h1.4M423 620h1.4M445 651h1.4M430 586h1.4M426 624h1.4M456 578h1.4M400 618h1.4M502 614h1.4M445 625h1.4M457 589h1.4M457 599h1.4M435 640h1.4M444 662h1.4M424 639h1.4M404 596h1.4M454 616h1.4M386 618h1.4M423 671h1.4M414 643h1.4M439 567h1.4M440 646h1.4M505 592h1.4M452 579h1.4M380 650h1.4M426 593h1.4M416 655h1.4M497 595h1.4M491 619h1.4M406 605h1.4M392 646h1.4M457 600h1.4M412 641h1.4M444 604h1.4M401 642h1.4M483 648h1.4M420 603h1.4M447 684h1.4M373 591h1.4M439 630h1.4M446 603h1.4M430 641h1.4M385 612h1.4M407 582h1.4M467 643h1.4M492 642h1.4M457 644h1.4M440 579h1.4M417 633h1.4M385 633h1.4M440 599h1.4M452 621h1.4M496 639h1.4M416 606h1.4M462 623h1.4M458 657h1.4M413 603h1.4M423 600h1.4M442 620h1.4M432 653h1.4M442 642h1.4M450 609h1.4M445 616h1.4M442 620h1.4M405 567h1.4M433 565h1.4M412 646h1.4M403 634h1.4M409 623h1.4M453 616h1.4M419 610h1.4M414 615h1.4M468 636h1.4M460 587h1.4M480 627h1.4M481 607h1.4M396 611h1.4M418 609h1.4M414 611h1.4M451 610h1.4M372 661h1.4M435 603h1.4M435 640h1.4M416 574h1.4M448 622h1.4M469 632h1.4M387 644h1.4M447 587h1.4M427 634h1.4M434 668h1.4M425 650h1.4M420 608h1.4M425 591h1.4M443 612h1.4M462 632h1.4M478 601h1.4M458 676h1.4M410 644h1.4M474 589h1.4M389 608h1.4M488 609h1.4M430 570h1.4M416 617h1.4M413 593h1.4M422 605h1.4M407 620h1.4M477 609h1.4M479 640h1.4M398 605h1.4M468 612h1.4M423 628h1.4M418 694h1.4M443 639h1.4M448 589h1.4M468 631h1.4M380 638h1.4M399 586h1.4M392 625h1.4M457 658h1.4M462 651h1.4M449 652h1.4M379 596h1.4M388 589h1.4M420 563h1.4M479 677h1.4M447 638h1.4M424 608h1.4M420 628h1.4M438 599h1.4M437 595h1.4M443 623h1.4M457 647h1.4M402 639h1.4M386 618h1.4M402 655h1.4M446 624h1.4M430 675h1.4M462 648h1.4M403 566h1.4M396 582h1.4M460 601h1.4M400 576h1.4M442 620h1.4M494 596h1.4M420 606h1.4M450 617h1.4M442 656h1.4M478 606h1.4M448 618h1.4M464 677h1.4M440 586h1.4M400 609h1.4M465 599h1.4M450 668h1.4M424 606h1.4M456 563h1.4M392 610h1.4M435 615h1.4M424 583h1.4M441 691h1.4M433 685h1.4M426 621h1.4M416 645h1.4M455 654h1.4M467 661h1.4M453 627h1.4M415 603h1.4M421 642h1.4M428 620h1.4M443 592h1.4M434 644h1.4M387 619h1.4M389 593h1.4M453 593h1.4M389 662h1.4M462 587h1.4M455 633h1.4M436 664h1.4M421 649h1.4M406 599h1.4M466 595h1.4M385 637h1.4M394 652h1.4M437 671h1.4M422 642h1.4M476 610h1.4M426 578h1.4M438 635h1.4M433 650h1.4M432 698h1.4M441 635h1.4M452 591h1.4M430 659h1.4M402 614h1.4M429 637h1.4M392 616h1.4M439 641h1.4M460 651h1.4M440 587h1.4M444 614h1.4M443 609h1.4M382 662h1.4M424 587h1.4M388 599h1.4M434 658h1.4M391 624h1.4M475 664h1.4M443 623h1.4M459 660h1.4M474 618h1.4M420 614h1.4M424 572h1.4M463 576h1.4M449 677h1.4M465 619h1.4M418 588h1.4M425 638h1.4M427 625h1.4M436 575h1.4M412 591h1.4M431 563h1.4M409 592h1.4M430 585h1.4M411 595h1.4M422 632h1.4M430 650h1.4M450 668h1.4M450 593h1.4M407 630h1.4M455 604h1.4M447 617h1.4M468 573h1.4M459 603h1.4M464 646h1.4M404 619h1.4M427 591h1.4M451 593h1.4M398 596h1.4M475 610h1.4M411 636h1.4M499 630h1.4M447 634h1.4M422 578h1.4M476 644h1.4M405 599h1.4M449 592h1.4M476 653h1.4M480 572h1.4M421 620h1.4M454 659h1.4M454 591h1.4M495 605h1.4M397 617h1.4M477 599h1.4M483 588h1.4M405 621h1.4M473 610h1.4M391 656h1.4M467 602h1.4M409 674h1.4M429 618h1.4M496 622h1.4M492 628h1.4M411 618h1.4M394 632h1.4M472 593h1.4M417 604h1.4M458 653h1.4M469 657h1.4M432 638h1.4M464 628h1.4M449 648h1.4M420 630h1.4M459 628h1.4M467 613h1.4M418 626h1.4M458 649h1.4M433 636h1.4M502 620h1.4M377 625h1.4M461 624h1.4M437 665h1.4M398 648h1.4M418 643h1.4M376 592h1.4M406 614h1.4M441 629h1.4M412 581h1.4M450 650h1.4M459 638h1.4M436 609h1.4M452 594h1.4M427 628h1.4M431 656h1.4M494 657h1.4M421 617h1.4M441 593h1.4M499 581h1.4M454 570h1.4M446 619h1.4M411 638h1.4M444 616h1.4M460 658h1.4M397 660h1.4M422 618h1.4M391 597h1.4M430 576h1.4M445 611h1.4M421 686h1.4M414 604h1.4M414 601h1.4M436 601h1.4M436 609h1.4M412 599h1.4M401 637h1.4M447 670h1.4M422 656h1.4M449 662h1.4M464 626h1.4M389 648h1.4M381 670h1.4M438 623h1.4M408 623h1.4M403 650h1.4M424 598h1.4M421 608h1.4M467 599h1.4M469 666h1.4M414 595h1.4M425 612h1.4M413 646h1.4M429 590h1.4M434 641h1.4M429 684h1.4M440 636h1.4M414 625h1.4M495 620h1.4M409 622h1.4M440 635h1.4M396 585h1.4M404 576h1.4M456 576h1.4M418 605h1.4M432 596h1.4M441 561h1.4M401 644h1.4M488 650h1.4M441 695h1.4M410 591h1.4M436 579h1.4M442 640h1.4M479 629h1.4M456 630h1.4M470 680h1.4M398 607h1.4M420 653h1.4M393 597h1.4M473 631h1.4M424 667h1.4M403 605h1.4M394 578h1.4M492 644h1.4M442 623h1.4M434 635h1.4M438 628h1.4M417 674h1.4M391 653h1.4M409 608h1.4M457 682h1.4M445 624h1.4M429 642h1.4M396 622h1.4M502 630h1.4M431 623h1.4M450 616h1.4M417 647h1.4M489 615h1.4M428 607h1.4M456 599h1.4M444 672h1.4M447 606h1.4M396 584h1.4M407 631h1.4M414 676h1.4M436 634h1.4M389 609h1.4M446 626h1.4M394 588h1.4M387 657h1.4M384 653h1.4M444 679h1.4M471 638h1.4M398 594h1.4M407 614h1.4M434 586h1.4M434 621h1.4M458 636h1.4M404 637h1.4M464 618h1.4M462 626h1.4M454 600h1.4M430 673h1.4M441 584h1.4M387 613h1.4M442 598h1.4M441 564h1.4M420 575h1.4M409 618h1.4M431 645h1.4M410 623h1.4M425 640h1.4M452 638h1.4M403 650h1.4M463 565h1.4M437 622h1.4M404 646h1.4M389 595h1.4M406 616h1.4M394 647h1.4M432 656h1.4M486 610h1.4M441 643h1.4M465 644h1.4M414 586h1.4M438 611h1.4M458 590h1.4M406 680h1.4M471 591h1.4M424 639h1.4M448 636h1.4M428 686h1.4M403 645h1.4M473 614h1.4M441 590h1.4M437 653h1.4M471 610h1.4M478 606h1.4M411 605h1.4M416 641h1.4M412 620h1.4M395 659h1.4M418 570h1.4M484 661h1.4M456 644h1.4M449 633h1.4M451 582h1.4M409 575h1.4M431 623h1.4M444 625h1.4M457 614h1.4M458 638h1.4M480 645h1.4M418 584h1.4M417 587h1.4M421 622h1.4M421 610h1.4M427 629h1.4M419 566h1.4M454 671h1.4M432 633h1.4M452 615h1.4M410 626h1.4M438 660h1.4M427 587h1.4M477 612h1.4M399 657h1.4M422 587h1.4M462 604h1.4M438 653h1.4M451 611h1.4M460 604h1.4M425 602h1.4M417 653h1.4M432 609h1.4M434 671h1.4M427 672h1.4M427 612h1.4M429 616h1.4M433 631h1.4M478 591h1.4M459 587h1.4M410 659h1.4M424 615h1.4M407 611h1.4M409 567h1.4M408 604h1.4M414 566h1.4M482 600h1.4M483 607h1.4M429 687h1.4M437 607h1.4M426 623h1.4M430 646h1.4M417 615h1.4M402 636h1.4M460 644h1.4M443 578h1.4M447 646h1.4M451 606h1.4M431 645h1.4M399 647h1.4M399 590h1.4M379 663h1.4M412 597h1.4M428 617h1.4M389 634h1.4M402 627h1.4M461 615h1.4M396 621h1.4M423 648h1.4M478 578h1.4M406 634h1.4M412 628h1.4M378 596h1.4M380 610h1.4M427 676h1.4M423 581h1.4M452 640h1.4M435 622h1.4M445 597h1.4M431 585h1.4M462 595h1.4M428 667h1.4M446 602h1.4M431 699h1.4M469 644h1.4M439 580h1.4M469 612h1.4M367 625h1.4M426 659h1.4M391 580h1.4M506 586h1.4M488 640h1.4M380 583h1.4M412 677h1.4M452 625h1.4M443 642h1.4M390 592h1.4M460 617h1.4M445 617h1.4M502 616h1.4M429 579h1.4M436 634h1.4M443 643h1.4M421 620h1.4M461 605h1.4M419 624h1.4M431 642h1.4M450 634h1.4M398 639h1.4M456 569h1.4M408 624h1.4M468 604h1.4M441 648h1.4M422 646h1.4M447 601h1.4M434 625h1.4M470 652h1.4M407 627h1.4M469 602h1.4M414 657h1.4M443 673h1.4M444 642h1.4M435 608h1.4M412 648h1.4M476 594h1.4M501 640h1.4M449 617h1.4M479 589h1.4M423 598h1.4M411 615h1.4M461 587h1.4M459 649h1.4M465 656h1.4M449 631h1.4M446 637h1.4M436 619h1.4M427 674h1.4M411 640h1.4M413 590h1.4M455 597h1.4M452 596h1.4M481 619h1.4M437 566h1.4M489 598h1.4M442 617h1.4M388 580h1.4M418 583h1.4M461 634h1.4M440 610h1.4M504 590h1.4M400 617h1.4M400 630h1.4M396 654h1.4M432 605h1.4M436 635h1.4M380 604h1.4M434 567h1.4M486 645h1.4M425 655h1.4M371 613h1.4M448 645h1.4M394 592h1.4M455 651h1.4M412 638h1.4M463 592h1.4M389 626h1.4M478 665h1.4M469 600h1.4M440 615h1.4M369 583h1.4M442 659h1.4M445 611h1.4M386 595h1.4M437 656h1.4M434 653h1.4M433 668h1.4M440 605h1.4M484 586h1.4M456 609h1.4M383 601h1.4M405 626h1.4M432 589h1.4M434 642h1.4M477 611h1.4M447 596h1.4M443 642h1.4M422 652h1.4M449 666h1.4M395 611h1.4M464 594h1.4M501 598h1.4M439 644h1.4M437 571h1.4M448 633h1.4M406 674h1.4M472 657h1.4M451 625h1.4M415 645h1.4M458 680h1.4M455 611h1.4M437 602h1.4M459 627h1.4M403 593h1.4M450 606h1.4M446 592h1.4M404 618h1.4M452 608h1.4M454 646h1.4M393 629h1.4M432 629h1.4M411 655h1.4M446 659h1.4M424 582h1.4M438 626h1.4M391 653h1.4M468 648h1.4M460 574h1.4M441 640h1.4M473 612h1.4M406 576h1.4M377 623h1.4M478 603h1.4M457 574h1.4M362 613h1.4M475 603h1.4M437 606h1.4M490 617h1.4M438 615h1.4M383 604h1.4M410 606h1.4M493 584h1.4M420 592h1.4M464 593h1.4M471 639h1.4M468 611h1.4M505 607h1.4M463 620h1.4M447 580h1.4M460 617h1.4M425 620h1.4M402 606h1.4M386 599h1.4M406 650h1.4M447 588h1.4M436 632h1.4M451 569h1.4M439 623h1.4M469 643h1.4M461 619h1.4M426 570h1.4M438 634h1.4M466 641h1.4M437 608h1.4M450 602h1.4M440 633h1.4M477 638h1.4M442 600h1.4M498 613h1.4M415 592h1.4M422 654h1.4M455 638h1.4M442 607h1.4M433 696h1.4M375 641h1.4M435 663h1.4M458 626h1.4M434 640h1.4M419 627h1.4M455 603h1.4M423 678h1.4M437 614h1.4M448 638h1.4M485 583h1.4M418 662h1.4M410 622h1.4M393 608h1.4M453 604h1.4M459 629h1.4M475 599h1.4M439 598h1.4M473 593h1.4M461 653h1.4M426 631h1.4M457 610h1.4M487 605h1.4M433 615h1.4M428 643h1.4M449 660h1.4M449 583h1.4M423 596h1.4M435 646h1.4M427 641h1.4M437 639h1.4M469 574h1.4M422 680h1.4M468 651h1.4M438 565h1.4M378 594h1.4M470 664h1.4M427 619h1.4M410 567h1.4M484 617h1.4M445 617h1.4M497 627h1.4M415 630h1.4M425 643h1.4M442 650h1.4M436 596h1.4M449 567h1.4M428 653h1.4M381 624h1.4M452 570h1.4M490 604h1.4M465 633h1.4M460 665h1.4M477 641h1.4M430 596h1.4M433 629h1.4M490 587h1.4M429 587h1.4M397 604h1.4M472 610h1.4M432 648h1.4M414 684h1.4M428 606h1.4M442 633h1.4M420 640h1.4M429 635h1.4M438 652h1.4" stroke="#94407E" stroke-width="1.4" fill="none" opacity="0.6"/><path d="M217.5 275.6L255.8 291.9L251.8 332.3L217.5 354.7L183.2 332.3L179.2 291.9ZM217.5 313.3L179.2 291.9M217.5 313.3L255.8 291.9M217.5 313.3L217.5 354.7M217.5 314.3L217.5 275.6M217.5 314.3L183.2 332.3M217.5 314.3L251.8 332.3" fill="none" stroke="#8a8a8a" stroke-width="0.65"/><path transform="scale(0.5)" d="M639 635h1.2M580 591h1.2M601 591h1.2M552 652h1.2M648 663h1.2M583 601h1.2M576 684h1.2M623 606h1.2M601 614h1.2M633 641h1.2M633 653h1.2M591 611h1.2M634 636h1.2M554 621h1.2M598 612h1.2M594 599h1.2M633 625h1.2M607 639h1.2M571 644h1.2M603 673h1.2M613 610h1.2M599 664h1.2M582 694h1.2M594 621h1.2M612 620h1.2M559 640h1.2M641 571h1.2M549 587h1.2M562 679h1.2M592 599h1.2M586 609h1.2M600 671h1.2M612 638h1.2M602 681h1.2M630 646h1.2M610 586h1.2M614 653h1.2M565 654h1.2M607 653h1.2M614 646h1.2M582 653h1.2M601 597h1.2M625 630h1.2M573 631h1.2M556 599h1.2M618 626h1.2M571 594h1.2M564 591h1.2M610 598h1.2M555 589h1.2M622 678h1.2M636 654h1.2M621 651h1.2M605 618h1.2M647 589h1.2M576 582h1.2M594 676h1.2M540 592h1.2M613 645h1.2M585 674h1.2M552 668h1.2M587 615h1.2M540 617h1.2M640 612h1.2M658 629h1.2M632 658h1.2M649 645h1.2M595 643h1.2M554 672h1.2M636 634h1.2M622 616h1.2M542 613h1.2M553 612h1.2M637 620h1.2M606 611h1.2M617 654h1.2M587 644h1.2M593 636h1.2M633 585h1.2M634 605h1.2M615 621h1.2M578 641h1.2M614 598h1.2M617 650h1.2M646 629h1.2M602 617h1.2M600 582h1.2M592 671h1.2M605 638h1.2M558 637h1.2M615 650h1.2M581 624h1.2M605 634h1.2M576 647h1.2M591 625h1.2M592 625h1.2M616 653h1.2M584 642h1.2M602 654h1.2M557 582h1.2M583 617h1.2M558 577h1.2M582 631h1.2M593 616h1.2M620 613h1.2M557 613h1.2M594 590h1.2M581 674h1.2M587 621h1.2M616 665h1.2M623 601h1.2M601 644h1.2M571 609h1.2M555 593h1.2M596 651h1.2M615 619h1.2M607 579h1.2M564 578h1.2M593 583h1.2M586 577h1.2M645 627h1.2M599 643h1.2M569 612h1.2M591 628h1.2M627 582h1.2M550 659h1.2M574 619h1.2M535 621h1.2M584 604h1.2M589 680h1.2M611 579h1.2M603 669h1.2M578 670h1.2M605 614h1.2M640 600h1.2M549 636h1.2M573 671h1.2M545 654h1.2M608 623h1.2M566 618h1.2M613 678h1.2M560 636h1.2M577 597h1.2M643 634h1.2M650 598h1.2M595 645h1.2M649 605h1.2M613 660h1.2M560 621h1.2M612 593h1.2M639 681h1.2M626 650h1.2M620 670h1.2M572 626h1.2M570 612h1.2M551 597h1.2M580 642h1.2M616 646h1.2M595 642h1.2M581 627h1.2M564 586h1.2M615 656h1.2M595 555h1.2M584 623h1.2M627 628h1.2M621 611h1.2M616 635h1.2M635 647h1.2M599 655h1.2M634 591h1.2M544 633h1.2M590 653h1.2M608 626h1.2M618 607h1.2M562 634h1.2M642 676h1.2M562 597h1.2M597 624h1.2M628 622h1.2M656 606h1.2M646 585h1.2M597 639h1.2M661 601h1.2M603 635h1.2M598 643h1.2M630 618h1.2M554 623h1.2M556 643h1.2M623 609h1.2M606 642h1.2M551 635h1.2M582 624h1.2M569 627h1.2M577 604h1.2M588 642h1.2M645 583h1.2M560 590h1.2M596 692h1.2M585 606h1.2M607 634h1.2M628 659h1.2M593 675h1.2M615 604h1.2M582 689h1.2M548 671h1.2M563 644h1.2M584 595h1.2M609 620h1.2M625 601h1.2M554 600h1.2M581 691h1.2M613 675h1.2M609 688h1.2M594 613h1.2M623 571h1.2M645 580h1.2M587 653h1.2M624 671h1.2M637 590h1.2M618 598h1.2M600 663h1.2M660 661h1.2M575 595h1.2M553 653h1.2M547 634h1.2M649 612h1.2M561 606h1.2M620 647h1.2M570 615h1.2M557 642h1.2M599 656h1.2M577 607h1.2M620 656h1.2M575 628h1.2M649 616h1.2M608 631h1.2M552 645h1.2M665 617h1.2M580 637h1.2M593 623h1.2M595 613h1.2M556 631h1.2M594 636h1.2M626 631h1.2M592 607h1.2M626 631h1.2M634 592h1.2M556 587h1.2M623 635h1.2M537 663h1.2M600 627h1.2M554 610h1.2M609 602h1.2M561 605h1.2M662 663h1.2M571 608h1.2M577 658h1.2M616 607h1.2M591 630h1.2M571 650h1.2M561 626h1.2M611 608h1.2M583 652h1.2M620 640h1.2M637 596h1.2M597 595h1.2M649 575h1.2M633 632h1.2M604 651h1.2M567 645h1.2M568 630h1.2M542 612h1.2M629 672h1.2M560 630h1.2M634 590h1.2M640 614h1.2M637 664h1.2M626 643h1.2M581 615h1.2M651 652h1.2M598 629h1.2M604 597h1.2M599 593h1.2M604 579h1.2M602 694h1.2M606 664h1.2M602 564h1.2M638 615h1.2M602 630h1.2M605 680h1.2M621 605h1.2M610 646h1.2M652 609h1.2M581 647h1.2M585 633h1.2M650 589h1.2M609 665h1.2M548 593h1.2M655 629h1.2M567 629h1.2M576 599h1.2M593 620h1.2M602 603h1.2M590 627h1.2M561 644h1.2M616 592h1.2M562 669h1.2M588 600h1.2M574 639h1.2M635 630h1.2M564 606h1.2M572 646h1.2M625 668h1.2M550 662h1.2M585 607h1.2M625 610h1.2M590 622h1.2M562 645h1.2M632 629h1.2M581 604h1.2M597 603h1.2M561 622h1.2M583 681h1.2M600 648h1.2M640 637h1.2M617 635h1.2M625 642h1.2M569 667h1.2M597 643h1.2M587 618h1.2M589 608h1.2M616 606h1.2M604 652h1.2M587 611h1.2M615 568h1.2M616 601h1.2M599 647h1.2M636 685h1.2M602 572h1.2M666 610h1.2M603 634h1.2M566 604h1.2M611 604h1.2M642 655h1.2M599 570h1.2M666 653h1.2M589 589h1.2M542 627h1.2M651 660h1.2M578 619h1.2M607 566h1.2M587 634h1.2M549 617h1.2M615 627h1.2M641 627h1.2M538 665h1.2M595 692h1.2M627 652h1.2M607 570h1.2M590 631h1.2M602 589h1.2M568 631h1.2M604 594h1.2M554 598h1.2M607 643h1.2M569 597h1.2M626 602h1.2M628 640h1.2M610 564h1.2M613 639h1.2M617 671h1.2M598 614h1.2M572 637h1.2M633 574h1.2M595 637h1.2M587 602h1.2M609 655h1.2M595 605h1.2M622 626h1.2M578 619h1.2M640 642h1.2M538 637h1.2M636 631h1.2M623 649h1.2M646 614h1.2M613 626h1.2M574 637h1.2M555 650h1.2M584 598h1.2M609 665h1.2M644 582h1.2M610 605h1.2M616 683h1.2M637 647h1.2M591 636h1.2M572 628h1.2M565 596h1.2M609 611h1.2M593 669h1.2M631 619h1.2M573 627h1.2M636 663h1.2M573 642h1.2M602 589h1.2M625 623h1.2M655 643h1.2M632 654h1.2M618 608h1.2M578 672h1.2M602 573h1.2M632 640h1.2M587 628h1.2M649 636h1.2M526 586h1.2M613 664h1.2M642 640h1.2M589 600h1.2M559 673h1.2M584 602h1.2M619 643h1.2M627 653h1.2M611 616h1.2M600 670h1.2M583 623h1.2M587 638h1.2M587 647h1.2M561 614h1.2M640 607h1.2M595 633h1.2M641 662h1.2M577 621h1.2M638 663h1.2M587 589h1.2M622 625h1.2M633 630h1.2M620 661h1.2M579 662h1.2M579 651h1.2M640 595h1.2M601 615h1.2M582 634h1.2M541 608h1.2M615 601h1.2M566 620h1.2M646 591h1.2M595 631h1.2M561 610h1.2M622 632h1.2M612 663h1.2M581 622h1.2M596 662h1.2M601 587h1.2M595 624h1.2M607 582h1.2M655 619h1.2M616 640h1.2M619 627h1.2M622 624h1.2M621 632h1.2M643 643h1.2M579 645h1.2M643 641h1.2M636 589h1.2M596 595h1.2M557 602h1.2M649 580h1.2M579 654h1.2M564 620h1.2M610 623h1.2M637 627h1.2M577 685h1.2M605 608h1.2M616 687h1.2M605 629h1.2M560 612h1.2M639 640h1.2M606 660h1.2M591 634h1.2M552 626h1.2M606 584h1.2M546 605h1.2M581 620h1.2M649 678h1.2M615 593h1.2M592 591h1.2M639 607h1.2M596 631h1.2M611 609h1.2M609 637h1.2M633 644h1.2M577 597h1.2M548 631h1.2M596 614h1.2M557 586h1.2M591 613h1.2M606 613h1.2M657 627h1.2M560 623h1.2M552 656h1.2M597 687h1.2M550 653h1.2M539 595h1.2M592 614h1.2M540 666h1.2M564 625h1.2M620 644h1.2M549 628h1.2M634 638h1.2M585 668h1.2M638 636h1.2M587 628h1.2M578 596h1.2M608 635h1.2M564 586h1.2M582 622h1.2M628 592h1.2M601 615h1.2M611 627h1.2M598 681h1.2M650 629h1.2M640 675h1.2M576 623h1.2M580 584h1.2M568 618h1.2M582 613h1.2M585 578h1.2M571 660h1.2M586 669h1.2M606 592h1.2M665 625h1.2M585 628h1.2M588 610h1.2M638 639h1.2M566 594h1.2M644 663h1.2M606 650h1.2M614 632h1.2M597 622h1.2M559 627h1.2M601 605h1.2M631 617h1.2M558 614h1.2M613 644h1.2M613 663h1.2M616 675h1.2M610 633h1.2M556 598h1.2M594 573h1.2M621 635h1.2M622 583h1.2M587 626h1.2M605 630h1.2M623 609h1.2M629 575h1.2M596 641h1.2M574 590h1.2M555 591h1.2M568 647h1.2M624 666h1.2M577 605h1.2M622 651h1.2M640 631h1.2M616 635h1.2M629 643h1.2M583 597h1.2M652 626h1.2M599 615h1.2M657 612h1.2M566 615h1.2M630 626h1.2M616 647h1.2M547 615h1.2M615 609h1.2M559 605h1.2M622 612h1.2M595 642h1.2M643 608h1.2M596 576h1.2M607 645h1.2M647 630h1.2M591 693h1.2M609 680h1.2M639 600h1.2M662 623h1.2M549 663h1.2M621 636h1.2M604 584h1.2M644 603h1.2M631 659h1.2M553 621h1.2M566 607h1.2M622 637h1.2M604 616h1.2M536 657h1.2M594 594h1.2M574 643h1.2M556 650h1.2M648 644h1.2M626 616h1.2M614 603h1.2M609 603h1.2M600 570h1.2M550 609h1.2M547 646h1.2M597 625h1.2M598 618h1.2M596 594h1.2M561 620h1.2M625 598h1.2M610 656h1.2M632 599h1.2M581 635h1.2M632 655h1.2M577 671h1.2M593 627h1.2M536 618h1.2M576 609h1.2M599 597h1.2M586 617h1.2M591 648h1.2M611 584h1.2M613 641h1.2M555 648h1.2M586 670h1.2M632 656h1.2M595 601h1.2M604 648h1.2M546 626h1.2M648 633h1.2M653 645h1.2M570 622h1.2M565 645h1.2M631 639h1.2M624 638h1.2M567 670h1.2M614 661h1.2M577 610h1.2M649 635h1.2M613 587h1.2M566 603h1.2M576 632h1.2M608 622h1.2M592 601h1.2M639 670h1.2M585 644h1.2M639 629h1.2M596 645h1.2M622 683h1.2M572 619h1.2M619 582h1.2M607 627h1.2M641 645h1.2M603 590h1.2M585 600h1.2M640 646h1.2M607 629h1.2M593 654h1.2M634 575h1.2M614 632h1.2M557 637h1.2M541 584h1.2M572 573h1.2M615 630h1.2M574 645h1.2M539 584h1.2M568 659h1.2M550 598h1.2M569 638h1.2M598 654h1.2M574 612h1.2M581 641h1.2M607 672h1.2M608 629h1.2M647 604h1.2M619 611h1.2M618 579h1.2M619 588h1.2M645 657h1.2M545 605h1.2M549 592h1.2M584 691h1.2M583 601h1.2M655 609h1.2M634 641h1.2M650 634h1.2M587 606h1.2M567 613h1.2M589 671h1.2M580 648h1.2M624 671h1.2M594 570h1.2M665 654h1.2M663 615h1.2M607 650h1.2M547 604h1.2M597 697h1.2M612 656h1.2M629 639h1.2M570 659h1.2M636 617h1.2M607 679h1.2M596 675h1.2M561 622h1.2M630 617h1.2M552 597h1.2M559 602h1.2M620 643h1.2M582 621h1.2M621 625h1.2M585 613h1.2M593 659h1.2M576 619h1.2M593 649h1.2M584 603h1.2M617 647h1.2M596 588h1.2M595 660h1.2M602 647h1.2M559 588h1.2M575 604h1.2M621 610h1.2M627 618h1.2M600 605h1.2M601 616h1.2M609 655h1.2M637 638h1.2M613 659h1.2M605 703h1.2M567 646h1.2M563 655h1.2M641 660h1.2M636 606h1.2M642 634h1.2M543 602h1.2M634 650h1.2M554 611h1.2M581 581h1.2M590 606h1.2M612 654h1.2M560 599h1.2M630 674h1.2M611 638h1.2M645 618h1.2M593 653h1.2M652 584h1.2M631 591h1.2M623 644h1.2M632 607h1.2M634 607h1.2M615 639h1.2" stroke="#8070A0" stroke-width="1.2" fill="none" opacity="0.45"/><path d="M300.1 275.0L338.9 292.0L335.1 333.0L300.1 355.0L265.1 333.0L261.3 292.0ZM300.1 313.5L261.3 292.0M300.1 313.5L338.9 292.0M300.1 313.5L300.1 355.0M300.1 314.5L300.1 275.0M300.1 314.5L265.1 333.0M300.1 314.5L335.1 333.0" fill="none" stroke="#8a8a8a" stroke-width="0.65"/><text x="507" y="144.6" font-family="Liberation Sans" font-size="11.7" font-weight="bold" text-anchor="middle" fill="#000" >Undoped SNCM</text><text x="514" y="266.8" font-family="Liberation Sans" font-size="11.9" font-weight="bold" text-anchor="middle" fill="#1A1AC8" >AZ0.3-SNCM</text><g transform="translate(383.90 0) scale(0.81 1) translate(-383.90 0)"><text x="383.43" y="164.90" font-family="Liberation Sans" font-size="10.40" font-weight="bold" fill="#000">C</text><text x="391.15" y="169.27" font-family="Liberation Sans" font-size="6.45" font-weight="bold" fill="#000">2</text><text x="394.74" y="164.90" font-family="Liberation Sans" font-size="10.40" font-weight="bold" fill="#000">F</text><text x="401.71" y="158.66" font-family="Liberation Sans" font-size="6.45" font-weight="bold" fill="#000">-</text></g><g transform="translate(462.00 0) scale(0.933 1) translate(-462.00 0)"><text x="461.53" y="164.90" font-family="Liberation Sans" font-size="10.40" font-weight="bold" fill="#000">PO</text><text x="476.77" y="169.27" font-family="Liberation Sans" font-size="6.45" font-weight="bold" fill="#000">3</text><text x="477.18" y="158.66" font-family="Liberation Sans" font-size="6.45" font-weight="bold" fill="#000">-</text></g><g transform="translate(534.90 0) scale(0.876 1) translate(-534.90 0)"><text x="534.47" y="163.70" font-family="Liberation Sans" font-size="9.55" font-weight="bold" fill="#000">NiF</text><text x="550.04" y="167.71" font-family="Liberation Sans" font-size="5.92" font-weight="bold" fill="#000">3</text><text x="550.43" y="157.97" font-family="Liberation Sans" font-size="5.92" font-weight="bold" fill="#000">-</text></g><g transform="translate(621.10 0) scale(0.952 1) translate(-621.10 0)"><text x="620.67" y="163.70" font-family="Liberation Sans" font-size="9.55" font-weight="bold" fill="#000">MnF</text><text x="640.48" y="167.71" font-family="Liberation Sans" font-size="5.92" font-weight="bold" fill="#000">3</text><text x="640.86" y="157.97" font-family="Liberation Sans" font-size="5.92" font-weight="bold" fill="#000">-</text></g><rect x="353.3" y="174.0" width="73.8" height="72.4" fill="#000" filter="url(#hm0)"/><rect x="434.0" y="173.3" width="70.7" height="71.9" fill="#000" filter="url(#hm1)"/><rect x="510.6" y="173.3" width="70.3" height="71.9" fill="#000" filter="url(#hm2)"/><rect x="586.3" y="173.7" width="71.9" height="71.5" fill="#000" filter="url(#hm3)"/><rect x="353.3" y="279.0" width="74.3" height="72.0" fill="#000" filter="url(#hm4)"/><rect x="433.0" y="278.7" width="70.1" height="71.2" fill="#000" filter="url(#hm5)"/><rect x="510.8" y="278.7" width="69.4" height="71.8" fill="#000" filter="url(#hm6)"/><rect x="586.2" y="278.7" width="70.8" height="72.3" fill="#000" filter="url(#hm7)"/><ellipse cx="353.6" cy="242.8" rx="3.8" ry="5.2" fill="url(#ys)" clip-path="url(#cl0)"/><g clip-path="url(#cl1)"><rect x="434" y="173.3" width="70.7" height="71.9" fill="url(#hm2g)"/><ellipse cx="503" cy="176" rx="10" ry="7" fill="url(#ys2)"/></g><rect x="671.2" y="188.5" width="8.3" height="150" fill="url(#cbg)"/><path d="M670.8 338.7V188.4H679.3" fill="none" stroke="#000" stroke-width="1.4"/><text x="663.6" y="181" font-family="Liberation Sans" font-size="10.8" font-weight="bold" text-anchor="start" fill="#1F2A8C" >Max</text><text x="663.4" y="353.3" font-family="Liberation Sans" font-size="11.0" font-weight="bold" text-anchor="start" fill="#1F2A8C" >Min</text></svg></body></html>
